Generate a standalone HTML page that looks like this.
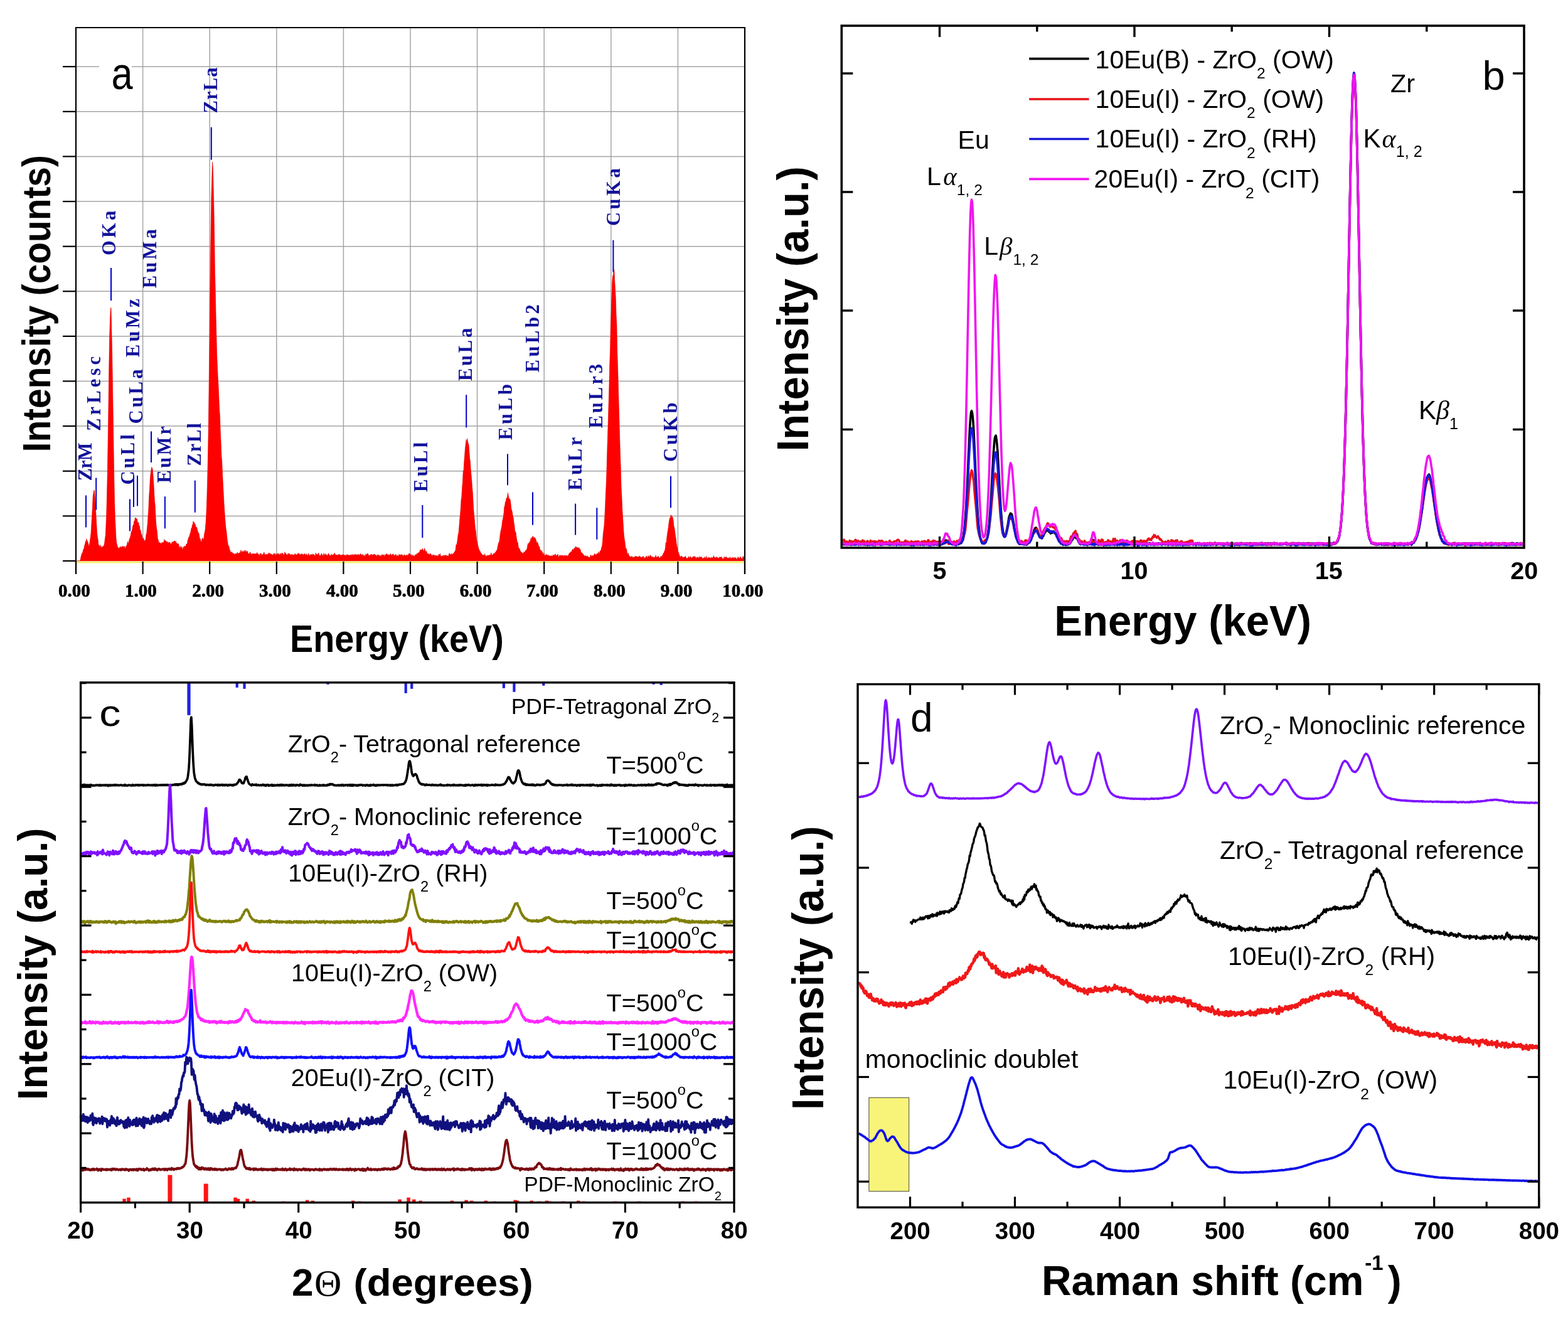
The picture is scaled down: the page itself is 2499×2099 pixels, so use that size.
<!DOCTYPE html><html><head><meta charset="utf-8"><title>Figure</title><style>html,body{margin:0;padding:0;background:#fff;overflow:hidden}svg{display:block}</style></head><body>
<svg width="2499" height="2099" viewBox="0 0 2499 2099">
<rect width="2499" height="2099" fill="#fff"/>
<g id="pa">
<line x1="227.6" y1="44" x2="227.6" y2="894" stroke="#a4a4a4" stroke-width="1.5"/>
<line x1="334.2" y1="44" x2="334.2" y2="894" stroke="#a4a4a4" stroke-width="1.5"/>
<line x1="440.8" y1="44" x2="440.8" y2="894" stroke="#a4a4a4" stroke-width="1.5"/>
<line x1="547.4" y1="44" x2="547.4" y2="894" stroke="#a4a4a4" stroke-width="1.5"/>
<line x1="654" y1="44" x2="654" y2="894" stroke="#a4a4a4" stroke-width="1.5"/>
<line x1="760.6" y1="44" x2="760.6" y2="894" stroke="#a4a4a4" stroke-width="1.5"/>
<line x1="867.2" y1="44" x2="867.2" y2="894" stroke="#a4a4a4" stroke-width="1.5"/>
<line x1="973.8" y1="44" x2="973.8" y2="894" stroke="#a4a4a4" stroke-width="1.5"/>
<line x1="1080.4" y1="44" x2="1080.4" y2="894" stroke="#a4a4a4" stroke-width="1.5"/>
<line x1="121" y1="822.4" x2="1187" y2="822.4" stroke="#a4a4a4" stroke-width="1.5"/>
<line x1="121" y1="750.8" x2="1187" y2="750.8" stroke="#a4a4a4" stroke-width="1.5"/>
<line x1="121" y1="679.1" x2="1187" y2="679.1" stroke="#a4a4a4" stroke-width="1.5"/>
<line x1="121" y1="607.5" x2="1187" y2="607.5" stroke="#a4a4a4" stroke-width="1.5"/>
<line x1="121" y1="535.9" x2="1187" y2="535.9" stroke="#a4a4a4" stroke-width="1.5"/>
<line x1="121" y1="464.3" x2="1187" y2="464.3" stroke="#a4a4a4" stroke-width="1.5"/>
<line x1="121" y1="392.7" x2="1187" y2="392.7" stroke="#a4a4a4" stroke-width="1.5"/>
<line x1="121" y1="321.1" x2="1187" y2="321.1" stroke="#a4a4a4" stroke-width="1.5"/>
<line x1="121" y1="249.4" x2="1187" y2="249.4" stroke="#a4a4a4" stroke-width="1.5"/>
<line x1="121" y1="177.8" x2="1187" y2="177.8" stroke="#a4a4a4" stroke-width="1.5"/>
<line x1="121" y1="106.2" x2="1187" y2="106.2" stroke="#a4a4a4" stroke-width="1.5"/>
<rect x="158" y="92" width="52" height="52" fill="#fff"/>
<polygon points="121,894 121,894 121.8,894 122.6,894 123.4,894 124.2,894 125,894 125.8,894 126.6,894 127.4,894 128.2,891.7 129,887.4 129.8,884.5 130.6,881.8 131.4,881.6 132.2,878.4 133,874.9 133.8,874.9 134.6,869.4 135.4,868 136.2,863.6 137,862.2 137.8,858.7 138.6,862 139.4,861.9 140.2,864.9 141,867.5 141.8,871.8 142.6,867 143.4,862.6 144.2,856 145,849.9 145.8,835.9 146.6,822.9 147.4,808 148.2,790.6 149,786.2 149.8,781.1 150.6,782 151.4,794.6 152.2,806.4 153,820.5 153.8,834.8 154.6,849.3 155.4,856.2 156.2,860.5 157,869.6 157.8,868.1 158.6,870.6 159.4,872.5 160.2,868.6 161,870.7 161.8,873.9 162.6,871.8 163.4,870.8 164.2,871.7 165,869.7 165.8,869.4 166.6,865.2 167.4,858.5 168.2,853.2 169,836.9 169.8,816.4 170.6,784.4 171.4,748 172.2,698.3 173,643.7 173.8,586 174.6,537.2 175.4,511.5 176.2,492.5 177,490.4 177.8,524.2 178.6,558.4 179.4,607.7 180.2,657.9 181,712.2 181.8,761 182.6,798 183.4,825.5 184.2,841.4 185,857.9 185.8,865.2 186.6,868.4 187.4,871.5 188.2,872.7 189,874.6 189.8,872.9 190.6,873.6 191.4,870.9 192.2,871.6 193,872.5 193.8,871.2 194.6,872.6 195.4,870.2 196.2,871.7 197,870.6 197.8,873.4 198.6,870.5 199.4,873.5 200.2,873.6 200.9,870.2 201.7,870.4 202.5,867.7 203.3,863 204.1,866.8 204.9,864.7 205.7,861.3 206.5,858.4 207.3,857 208.1,854.1 208.9,849.2 209.7,846.2 210.5,845.8 211.3,840.5 212.1,836.9 212.9,836.1 213.7,830.6 214.5,830.7 215.3,825.1 216.1,825.7 216.9,825.5 217.7,827.2 218.5,827.2 219.3,832.8 220.1,833.1 220.9,832.6 221.7,840.7 222.5,837.9 223.3,846.4 224.1,844.8 224.9,851.1 225.7,851.1 226.5,855 227.3,860.4 228.1,857.3 228.9,858.4 229.7,861.8 230.5,862.1 231.3,860.8 232.1,859.9 232.9,852.3 233.7,849.8 234.5,841.3 235.3,833.2 236.1,821.4 236.9,809.8 237.7,789.8 238.5,779.2 239.3,763.3 240.1,754.9 240.9,749.2 241.7,744.5 242.5,745.8 243.3,749.2 244.1,758.8 244.9,770.1 245.7,786.2 246.5,798.7 247.3,806.8 248.1,824.7 248.9,836.4 249.7,842.7 250.5,847.8 251.3,858.6 252.1,860.1 252.9,863.5 253.7,867.1 254.5,863.9 255.3,865.7 256.1,865.7 256.9,866.9 257.7,864.4 258.5,865.5 259.3,864.1 260.1,865 260.9,864.5 261.7,859.5 262.5,862.4 263.3,861 264.1,861.9 264.9,863.1 265.7,863.9 266.5,862.6 267.3,864.9 268.1,865.1 268.9,865.2 269.7,863.5 270.5,864.5 271.3,865.2 272.1,866.9 272.9,868.3 273.7,864.1 274.5,863.7 275.3,865.1 276.1,863.5 276.9,862.6 277.7,862.3 278.5,862.1 279.3,864.8 280.1,862.1 280.9,867.6 281.7,865 282.5,866.7 283.3,867 284.1,866.2 284.9,867.6 285.7,872.4 286.5,873.8 287.3,870.1 288.1,873.4 288.9,872 289.7,870.9 290.5,875.1 291.3,876 292.1,871.9 292.9,871.6 293.7,871.4 294.5,870.1 295.3,870.6 296.1,870.6 296.9,867.1 297.7,866.9 298.5,866.3 299.3,860.5 300.1,859.1 300.9,855.7 301.7,855.4 302.5,851.9 303.3,849.7 304.1,846.7 304.9,841.9 305.7,841.3 306.5,836.9 307.3,835.2 308.1,830.5 308.9,836.9 309.7,832.2 310.5,834.8 311.3,835.8 312.1,840.3 312.9,840.3 313.7,840.3 314.5,844.4 315.3,846.7 316.1,849.9 316.9,849.6 317.7,853.9 318.5,859.8 319.3,858.5 320.1,862 320.9,865 321.7,860.5 322.5,857.1 323.3,858.8 324.1,859.8 324.9,857.4 325.7,850.6 326.5,848.1 327.3,841.8 328.1,832.5 328.9,818.6 329.7,797.5 330.5,771.1 331.3,735.8 332.1,693.1 332.9,631.7 333.7,570.7 334.5,493.9 335.3,433.3 336.1,365 336.9,313.2 337.7,285.6 338.5,258 339.3,266 340.1,299.1 340.9,330.4 341.7,376 342.5,434 343.3,465.1 344.1,504.2 344.9,535.5 345.7,565.9 346.5,584.6 347.3,602.9 348.1,615.3 348.9,634.7 349.7,652.3 350.5,664.4 351.3,688.3 352.1,705.3 352.9,727 353.7,734.7 354.5,753.1 355.3,769 356.1,784.7 356.9,800 357.7,812.3 358.5,824.5 359.3,834.3 360.1,842.3 360.9,846.9 361.6,855.1 362.4,861.5 363.2,866.8 364,870.5 364.8,870 365.6,874.3 366.4,876.9 367.2,878.8 368,880.9 368.8,880.1 369.6,879.3 370.4,881.6 371.2,881.8 372,882.1 372.8,881.9 373.6,884.5 374.4,882.8 375.2,883.8 376,881.5 376.8,884 377.6,881.8 378.4,880.2 379.2,882.5 380,882.5 380.8,881 381.6,880.9 382.4,881.9 383.2,879.3 384,876.6 384.8,879.5 385.6,879 386.4,879.9 387.2,877.6 388,880 388.8,880 389.6,876.7 390.4,880.3 391.2,877.7 392,877.5 392.8,879.7 393.6,879.6 394.4,877.9 395.2,881.3 396,882.2 396.8,883.5 397.6,881.7 398.4,879.8 399.2,880.7 400,883.5 400.8,883.4 401.6,883 402.4,882 403.2,882.8 404,882.2 404.8,882.2 405.6,883.1 406.4,882.8 407.2,882.6 408,883 408.8,882.3 409.6,880.4 410.4,882.2 411.2,882.9 412,885.4 412.8,882.5 413.6,885.7 414.4,885 415.2,881.8 416,882 416.8,883.2 417.6,885.4 418.4,883.5 419.2,883.9 420,882.1 420.8,879.8 421.6,882.7 422.4,884.1 423.2,884.6 424,883.1 424.8,883.2 425.6,884.6 426.4,882.8 427.2,884.6 428,881.4 428.8,881.5 429.6,881.5 430.4,883.7 431.2,882.3 432,883.2 432.8,883.5 433.6,883.5 434.4,884.8 435.2,885 436,881.9 436.8,883.3 437.6,882.7 438.4,881.6 439.2,885.4 440,884.1 440.8,882.8 441.6,882.5 442.4,883.5 443.2,881.6 444,882.7 444.8,884.7 445.6,884.3 446.4,881.9 447.2,882.4 448,885.7 448.8,881.2 449.6,882.2 450.4,881.2 451.2,883.6 452,883.5 452.8,884.7 453.6,879.6 454.4,883.4 455.2,880.9 456,884 456.8,882.9 457.6,885.5 458.4,883.7 459.2,881.8 460,884.9 460.8,881.7 461.6,882.7 462.4,884.7 463.2,883.9 464,883.9 464.8,883.3 465.6,884 466.4,884.4 467.2,883.7 468,884.7 468.8,885.1 469.6,883.3 470.4,882 471.2,885.4 472,883.3 472.8,884.2 473.6,884.7 474.4,882.1 475.2,884 476,881.2 476.8,884.4 477.6,882.8 478.4,883.7 479.2,884.4 480,882.6 480.8,883.6 481.6,882.5 482.4,883.5 483.2,884.9 484,883.5 484.8,883.3 485.6,882.1 486.4,884.7 487.2,883.5 488,885.8 488.8,882.5 489.6,885 490.4,886 491.2,883.6 492,881.9 492.8,885.6 493.6,885 494.4,884.5 495.2,885.1 496,883 496.8,884.6 497.6,884.5 498.4,882.7 499.2,884.6 500,883 500.8,884.9 501.6,885.2 502.4,886.1 503.2,881 504,884 504.8,883.3 505.6,883.7 506.4,883.4 507.2,883.6 508,881 508.8,885.1 509.6,885.8 510.4,885.1 511.2,885.5 512,882.6 512.8,882.5 513.6,885 514.4,885.6 515.2,884.2 516,881.8 516.8,887.6 517.6,883 518.4,885.2 519.2,882.3 520,885.2 520.8,884.1 521.5,885.8 522.3,885.1 523.1,881.9 523.9,882.6 524.7,884.3 525.5,885 526.3,886.4 527.1,884.4 527.9,883.9 528.7,883.9 529.5,884 530.3,885.4 531.1,883.9 531.9,883.9 532.7,882.1 533.5,881.3 534.3,884.1 535.1,884.9 535.9,884 536.7,884.7 537.5,884.9 538.3,884 539.1,885.4 539.9,883.1 540.7,884.1 541.5,883.6 542.3,884.2 543.1,885 543.9,885.3 544.7,884.3 545.5,884.7 546.3,883.7 547.1,884 547.9,885.9 548.7,883.9 549.5,885.9 550.3,884.9 551.1,884.4 551.9,886.9 552.7,883.9 553.5,883.9 554.3,884.3 555.1,884.7 555.9,884.6 556.7,885.4 557.5,884.5 558.3,884.9 559.1,884 559.9,885.8 560.7,883.8 561.5,883.9 562.3,884.3 563.1,884.7 563.9,883.4 564.7,886.4 565.5,883.5 566.3,883.8 567.1,883.8 567.9,883.7 568.7,885.1 569.5,884.6 570.3,883.3 571.1,883.6 571.9,883.9 572.7,886.3 573.5,883.5 574.3,882.7 575.1,882.9 575.9,883.9 576.7,886.4 577.5,883 578.3,884.5 579.1,887.8 579.9,883.8 580.7,886.4 581.5,886.1 582.3,885.2 583.1,882.6 583.9,884.8 584.7,884 585.5,882 586.3,882.2 587.1,884.5 587.9,884.7 588.7,886.1 589.5,885.3 590.3,883.8 591.1,883.9 591.9,884.3 592.7,883.1 593.5,885.5 594.3,884.5 595.1,883.5 595.9,883.7 596.7,883 597.5,883.9 598.3,884.9 599.1,884 599.9,885.9 600.7,886.7 601.5,883.7 602.3,884.6 603.1,884.1 603.9,886.8 604.7,885 605.5,885.4 606.3,885.7 607.1,887.6 607.9,885 608.7,883.4 609.5,884.1 610.3,885.4 611.1,884.6 611.9,883.6 612.7,888.4 613.5,884.8 614.3,883.9 615.1,883.7 615.9,882.3 616.7,883.1 617.5,884.2 618.3,884.3 619.1,883.6 619.9,885.4 620.7,884.7 621.5,883.5 622.3,882 623.1,884.9 623.9,884.8 624.7,884.5 625.5,882.9 626.3,884.8 627.1,882.8 627.9,886.1 628.7,885 629.5,885 630.3,883.7 631.1,883.4 631.9,886.8 632.7,886 633.5,884.4 634.3,885.7 635.1,886.9 635.9,883.4 636.7,884.2 637.5,884.2 638.3,885.5 639.1,883.5 639.9,885.2 640.7,883.4 641.5,886.1 642.3,886 643.1,884.6 643.9,885.9 644.7,884 645.5,884.6 646.3,886.2 647.1,884.8 647.9,885.4 648.7,883.7 649.5,885.8 650.3,885.6 651.1,883.3 651.9,882 652.7,882.3 653.5,884.9 654.3,884.7 655.1,882.9 655.9,885.2 656.7,886.3 657.5,884.8 658.3,884.3 659.1,886 659.9,887 660.7,886.6 661.5,883.6 662.3,885.3 663.1,884.1 663.9,883.2 664.7,882.1 665.5,882.7 666.3,880.8 667.1,881.9 667.9,880.1 668.7,880.1 669.5,875.9 670.3,876.7 671.1,877.1 671.9,875.9 672.7,875.4 673.5,873.9 674.3,877.7 675.1,877.3 675.9,877 676.7,873.5 677.5,876.8 678.3,879.4 679.1,879.2 679.9,878.2 680.6,882.3 681.4,883.2 682.2,881.6 683,883.1 683.8,883.2 684.6,885.1 685.4,882 686.2,882.4 687,884.1 687.8,884 688.6,887.7 689.4,884.1 690.2,885.2 691,884.4 691.8,884.1 692.6,885.5 693.4,887.3 694.2,884.5 695,886 695.8,885.4 696.6,885.8 697.4,885.5 698.2,888.1 699,883.4 699.8,884.7 700.6,883.5 701.4,882.3 702.2,885 703,887.4 703.8,886.2 704.6,886.6 705.4,885.7 706.2,884.9 707,887.7 707.8,884.5 708.6,887 709.4,884.6 710.2,885.1 711,885.4 711.8,885.1 712.6,885.7 713.4,885.8 714.2,887.2 715,884.9 715.8,882.3 716.6,882.1 717.4,882.9 718.2,883.5 719,885.2 719.8,882 720.6,883.7 721.4,883.2 722.2,882.8 723,881.3 723.8,880.9 724.6,878.9 725.4,878.6 726.2,875.2 727,868 727.8,868.3 728.6,864.4 729.4,858.1 730.2,852 731,848.8 731.8,839.5 732.6,828.8 733.4,820.9 734.2,811.2 735,797.1 735.8,791.2 736.6,777.8 737.4,767.8 738.2,751 739,749.3 739.8,735.5 740.6,725.8 741.4,714.4 742.2,708 743,700.8 743.8,706.7 744.6,698.8 745.4,702.9 746.2,706.9 747,708.2 747.8,719 748.6,730.3 749.4,734.7 750.2,748.1 751,756.7 751.8,765.5 752.6,777.3 753.4,785.7 754.2,801.2 755,814.9 755.8,823.1 756.6,832.6 757.4,841.6 758.2,845.8 759,854.5 759.8,862.6 760.6,862.8 761.4,868.4 762.2,871.1 763,874.4 763.8,876 764.6,878.8 765.4,878.5 766.2,880.9 767,881.9 767.8,882.5 768.6,885.7 769.4,884.3 770.2,884.7 771,884.3 771.8,886.5 772.6,882.6 773.4,884.7 774.2,886.6 775,887.3 775.8,885.4 776.6,885.1 777.4,886 778.2,884.8 779,885.8 779.8,884.1 780.6,885.8 781.4,884.8 782.2,883.2 783,880.9 783.8,885.5 784.6,884.5 785.4,884.6 786.2,881.9 787,884 787.8,882.3 788.6,880.7 789.4,881 790.2,879.6 791,877.3 791.8,877.9 792.6,874.7 793.4,870.6 794.2,866.7 795,864 795.8,863.2 796.6,856.9 797.4,850.2 798.2,846 799,842.3 799.8,838.8 800.6,830.4 801.4,827.6 802.2,823.6 803,817.7 803.8,807.7 804.6,805.9 805.4,799.5 806.2,799.8 807,793.5 807.8,794.9 808.6,792.3 809.4,785.3 810.2,789.6 811,793.6 811.8,794.3 812.6,795.9 813.4,797 814.2,804.8 815,811.9 815.8,813.3 816.6,817.7 817.4,822.7 818.2,825.5 819,832.9 819.8,837.2 820.6,846.1 821.4,847.1 822.2,849.4 823,856.1 823.8,860.9 824.6,864.6 825.4,865 826.2,872.3 827,873.3 827.8,874.4 828.6,875.7 829.4,878.9 830.2,878.9 831,880.5 831.8,880.5 832.6,881.2 833.4,882.7 834.2,880.9 835,879.3 835.8,881.4 836.6,879.5 837.4,877.2 838.2,878.7 839,875.4 839.8,875.9 840.5,870.7 841.3,867.1 842.1,865.6 842.9,867.5 843.7,864 844.5,863.3 845.3,861.6 846.1,857.5 846.9,861.3 847.7,856 848.5,857.2 849.3,854 850.1,856.1 850.9,857.8 851.7,856.6 852.5,856.6 853.3,858.9 854.1,859.5 854.9,862.8 855.7,867.2 856.5,863.8 857.3,866.1 858.1,868.9 858.9,870.9 859.7,871.1 860.5,875.2 861.3,877.1 862.1,877.8 862.9,877 863.7,882 864.5,879.3 865.3,882.7 866.1,884.1 866.9,881.4 867.7,883.8 868.5,885.9 869.3,885 870.1,883.5 870.9,883.3 871.7,885.7 872.5,884.7 873.3,884.4 874.1,886.3 874.9,885 875.7,885.6 876.5,886.3 877.3,886.3 878.1,885.5 878.9,885.6 879.7,886.4 880.5,886.2 881.3,884.2 882.1,885.4 882.9,884.5 883.7,884.1 884.5,885 885.3,882.7 886.1,886.9 886.9,884.7 887.7,886.2 888.5,883.3 889.3,883.6 890.1,888.4 890.9,887.1 891.7,885 892.5,884.8 893.3,884.9 894.1,886 894.9,885.3 895.7,885 896.5,886 897.3,884.5 898.1,888.8 898.9,885 899.7,887.1 900.5,884.4 901.3,885.9 902.1,886.6 902.9,884.7 903.7,886.2 904.5,885.9 905.3,886.4 906.1,883.9 906.9,882.6 907.7,881.1 908.5,882 909.3,879.4 910.1,880 910.9,879.2 911.7,877.1 912.5,875.3 913.3,876.4 914.1,875.3 914.9,874.3 915.7,873.2 916.5,874.2 917.3,870.8 918.1,872.9 918.9,871.5 919.7,873.9 920.5,872.4 921.3,873 922.1,875.1 922.9,872.3 923.7,875.8 924.5,874.8 925.3,877.1 926.1,880.6 926.9,881.1 927.7,880.9 928.5,882.3 929.3,883.1 930.1,884.2 930.9,886.8 931.7,885.1 932.5,888.2 933.3,885 934.1,886.7 934.9,886.9 935.7,886.4 936.5,885.8 937.3,888.1 938.1,888.6 938.9,887.7 939.7,889 940.5,887.5 941.3,884.1 942.1,887.5 942.9,885.1 943.7,887.6 944.5,885.2 945.3,885.8 946.1,885.2 946.9,884 947.7,882.1 948.5,883.9 949.3,883.7 950.1,884.9 950.9,882.5 951.7,883.4 952.5,881.5 953.3,882.4 954.1,879.4 954.9,884.1 955.7,880.7 956.5,877.7 957.3,877.8 958.1,876.1 958.9,872 959.7,869.7 960.5,861.7 961.3,850.5 962.1,844.2 962.9,838.1 963.7,825.1 964.5,809.3 965.3,788.6 966.1,773.3 966.9,750.9 967.7,721.9 968.5,695.2 969.3,670.6 970.1,643.5 970.9,614.9 971.7,581.8 972.5,558.2 973.3,519.4 974.1,499.5 974.9,473.2 975.7,449.7 976.5,439.1 977.3,440.5 978.1,429.5 978.9,431 979.7,447 980.5,461.1 981.3,475.6 982.1,503.3 982.9,516.8 983.7,559 984.5,583.4 985.3,610.6 986.1,640.7 986.9,669.1 987.7,697.2 988.5,725.3 989.3,746.3 990.1,777.1 990.9,791.5 991.7,810.5 992.5,823.6 993.3,836.2 994.1,849.1 994.9,857.3 995.7,861.9 996.5,868.5 997.3,874.6 998.1,874 998.9,876.4 999.7,883.9 1000.4,883 1001.2,881.1 1002,884.3 1002.8,885.7 1003.6,886.7 1004.4,887.4 1005.2,887.2 1006,887.8 1006.8,886.2 1007.6,887.7 1008.4,887.8 1009.2,888.8 1010,887.4 1010.8,888.5 1011.6,887.6 1012.4,886 1013.2,886.9 1014,886.7 1014.8,886.9 1015.6,887.3 1016.4,887.6 1017.2,887.8 1018,886.4 1018.8,888.8 1019.6,885.7 1020.4,887.4 1021.2,888.4 1022,888.1 1022.8,888.3 1023.6,887.3 1024.4,888.4 1025.2,886 1026,888.5 1026.8,890.4 1027.6,888.4 1028.4,890.1 1029.2,887.6 1030,886.2 1030.8,886.7 1031.6,889.3 1032.4,888.5 1033.2,885.3 1034,887.2 1034.8,887.6 1035.6,886.2 1036.4,884.4 1037.2,885.9 1038,887.4 1038.8,887.2 1039.6,886.8 1040.4,888.4 1041.2,889 1042,887.6 1042.8,888.9 1043.6,887.7 1044.4,887.5 1045.2,884.7 1046,888.8 1046.8,887.8 1047.6,887.9 1048.4,887.1 1049.2,886.3 1050,888.2 1050.8,888.6 1051.6,889.5 1052.4,888.4 1053.2,886.2 1054,886.5 1054.8,887.3 1055.6,885.6 1056.4,883.9 1057.2,881.8 1058,881.4 1058.8,878.4 1059.6,877.8 1060.4,873.2 1061.2,864.3 1062,865.9 1062.8,857.3 1063.6,850.5 1064.4,845.8 1065.2,840.8 1066,833.8 1066.8,828.8 1067.6,824.9 1068.4,825.9 1069.2,820.5 1070,821.9 1070.8,822.4 1071.6,823.2 1072.4,826 1073.2,830.1 1074,838.4 1074.8,841.3 1075.6,846.9 1076.4,852.9 1077.2,858 1078,865.8 1078.8,870.4 1079.6,872.7 1080.4,879.4 1081.2,879.7 1082,882.9 1082.8,884.3 1083.6,887.4 1084.4,887.2 1085.2,886.7 1086,886 1086.8,886.3 1087.6,887.9 1088.4,888.2 1089.2,889.1 1090,887.6 1090.8,888.5 1091.6,887.4 1092.4,886 1093.2,888.3 1094,890.1 1094.8,889.4 1095.6,890.1 1096.4,889.8 1097.2,886.7 1098,888 1098.8,890.3 1099.6,887.5 1100.4,886.8 1101.2,888.8 1102,889.3 1102.8,888.8 1103.6,888.1 1104.4,887.6 1105.2,887 1106,887 1106.8,887 1107.6,886.8 1108.4,887.7 1109.2,890.5 1110,888.7 1110.8,888.2 1111.6,889.1 1112.4,887.5 1113.2,889.1 1114,889.8 1114.8,886.8 1115.6,887.8 1116.4,888.4 1117.2,887.5 1118,887.4 1118.8,888.3 1119.6,891.8 1120.4,889.6 1121.2,889.3 1122,890 1122.8,888.5 1123.6,887.3 1124.4,889.4 1125.2,890.2 1126,886.3 1126.8,889.4 1127.6,890.4 1128.4,888.6 1129.2,888.4 1130,889.8 1130.8,888 1131.6,889.6 1132.4,890.1 1133.2,888.8 1134,888.1 1134.8,889.8 1135.6,888.6 1136.4,889.1 1137.2,885.5 1138,889.9 1138.8,887.3 1139.6,889.1 1140.4,889.2 1141.2,888.2 1142,888 1142.8,887.5 1143.6,888.7 1144.4,889.8 1145.2,889.8 1146,888.5 1146.8,888.4 1147.6,887.4 1148.4,888.6 1149.2,887.8 1150,887.3 1150.8,889 1151.6,891 1152.4,890.6 1153.2,890.9 1154,887.2 1154.8,890.2 1155.6,887.7 1156.4,888.5 1157.2,887.1 1158,888 1158.8,889.4 1159.6,889.5 1160.3,889.1 1161.1,889 1161.9,889.9 1162.7,889.3 1163.5,887.3 1164.3,891.4 1165.1,889 1165.9,890.4 1166.7,889.1 1167.5,888.3 1168.3,889.4 1169.1,888.4 1169.9,891.3 1170.7,888 1171.5,890.1 1172.3,888.6 1173.1,889.1 1173.9,892.5 1174.7,890.3 1175.5,889.1 1176.3,887.5 1177.1,889.1 1177.9,889.1 1178.7,891.1 1179.5,887.7 1180.3,887.2 1181.1,889.4 1181.9,889.7 1182.7,891.4 1183.5,888.4 1184.3,886.2 1185.1,888.6 1185.9,888 1186.7,888.8 1187,894" fill="#ff0000" stroke="#e00000" stroke-width="0.6"/>
<line x1="121" y1="896" x2="1187" y2="896" stroke="#f4f070" stroke-width="3"/>
<polyline points="121,915 121,44 1187,44 1187,915" fill="none" stroke="#000" stroke-width="2.2"/>
<line x1="100" y1="894" x2="121" y2="894" stroke="#000" stroke-width="2.2"/>
<line x1="100" y1="822.4" x2="121" y2="822.4" stroke="#000" stroke-width="2.2"/>
<line x1="100" y1="750.8" x2="121" y2="750.8" stroke="#000" stroke-width="2.2"/>
<line x1="100" y1="679.1" x2="121" y2="679.1" stroke="#000" stroke-width="2.2"/>
<line x1="100" y1="607.5" x2="121" y2="607.5" stroke="#000" stroke-width="2.2"/>
<line x1="100" y1="535.9" x2="121" y2="535.9" stroke="#000" stroke-width="2.2"/>
<line x1="100" y1="464.3" x2="121" y2="464.3" stroke="#000" stroke-width="2.2"/>
<line x1="100" y1="392.7" x2="121" y2="392.7" stroke="#000" stroke-width="2.2"/>
<line x1="100" y1="321.1" x2="121" y2="321.1" stroke="#000" stroke-width="2.2"/>
<line x1="100" y1="249.4" x2="121" y2="249.4" stroke="#000" stroke-width="2.2"/>
<line x1="100" y1="177.8" x2="121" y2="177.8" stroke="#000" stroke-width="2.2"/>
<line x1="100" y1="106.2" x2="121" y2="106.2" stroke="#000" stroke-width="2.2"/>
<line x1="121" y1="895" x2="121" y2="915" stroke="#000" stroke-width="2.2"/>
<text x="93.1" y="951" font-family="Liberation Serif, Times New Roman, serif" font-weight="bold" font-size="29" fill="#000" stroke="#000" stroke-width="0.7">0.00</text>
<line x1="227.6" y1="895" x2="227.6" y2="915" stroke="#000" stroke-width="2.2"/>
<text x="199.1" y="951" font-family="Liberation Serif, Times New Roman, serif" font-weight="bold" font-size="29" fill="#000" stroke="#000" stroke-width="0.7">1.00</text>
<line x1="334.2" y1="895" x2="334.2" y2="915" stroke="#000" stroke-width="2.2"/>
<text x="306.3" y="951" font-family="Liberation Serif, Times New Roman, serif" font-weight="bold" font-size="29" fill="#000" stroke="#000" stroke-width="0.7">2.00</text>
<line x1="440.8" y1="895" x2="440.8" y2="915" stroke="#000" stroke-width="2.2"/>
<text x="412.9" y="951" font-family="Liberation Serif, Times New Roman, serif" font-weight="bold" font-size="29" fill="#000" stroke="#000" stroke-width="0.7">3.00</text>
<line x1="547.4" y1="895" x2="547.4" y2="915" stroke="#000" stroke-width="2.2"/>
<text x="519.9" y="951" font-family="Liberation Serif, Times New Roman, serif" font-weight="bold" font-size="29" fill="#000" stroke="#000" stroke-width="0.7">4.00</text>
<line x1="654" y1="895" x2="654" y2="915" stroke="#000" stroke-width="2.2"/>
<text x="626.1" y="951" font-family="Liberation Serif, Times New Roman, serif" font-weight="bold" font-size="29" fill="#000" stroke="#000" stroke-width="0.7">5.00</text>
<line x1="760.6" y1="895" x2="760.6" y2="915" stroke="#000" stroke-width="2.2"/>
<text x="732.8" y="951" font-family="Liberation Serif, Times New Roman, serif" font-weight="bold" font-size="29" fill="#000" stroke="#000" stroke-width="0.7">6.00</text>
<line x1="867.2" y1="895" x2="867.2" y2="915" stroke="#000" stroke-width="2.2"/>
<text x="839" y="951" font-family="Liberation Serif, Times New Roman, serif" font-weight="bold" font-size="29" fill="#000" stroke="#000" stroke-width="0.7">7.00</text>
<line x1="973.8" y1="895" x2="973.8" y2="915" stroke="#000" stroke-width="2.2"/>
<text x="946" y="951" font-family="Liberation Serif, Times New Roman, serif" font-weight="bold" font-size="29" fill="#000" stroke="#000" stroke-width="0.7">8.00</text>
<line x1="1080.4" y1="895" x2="1080.4" y2="915" stroke="#000" stroke-width="2.2"/>
<text x="1052.7" y="951" font-family="Liberation Serif, Times New Roman, serif" font-weight="bold" font-size="29" fill="#000" stroke="#000" stroke-width="0.7">9.00</text>
<line x1="1187" y1="895" x2="1187" y2="915" stroke="#000" stroke-width="2.2"/>
<text x="1151.3" y="951" font-family="Liberation Serif, Times New Roman, serif" font-weight="bold" font-size="29" fill="#000" stroke="#000" stroke-width="0.7">10.00</text>
<line x1="137" y1="789.6" x2="137" y2="840.6" stroke="#0000c8" stroke-width="2"/>
<text transform="translate(146.4,766.5) rotate(-90)" font-family="Liberation Serif, Times New Roman, serif" font-weight="bold" font-size="30.5" fill="#12129a" textLength="61" lengthAdjust="spacing">ZrM</text>
<line x1="153.2" y1="761.6" x2="153.2" y2="812.6" stroke="#0000c8" stroke-width="2"/>
<text transform="translate(160,687) rotate(-90)" font-family="Liberation Serif, Times New Roman, serif" font-weight="bold" font-size="30.5" fill="#12129a" textLength="119" lengthAdjust="spacing">ZrLesc</text>
<line x1="207" y1="795.6" x2="207" y2="846.6" stroke="#0000c8" stroke-width="2"/>
<text transform="translate(213.5,772.5) rotate(-90)" font-family="Liberation Serif, Times New Roman, serif" font-weight="bold" font-size="30.5" fill="#12129a" textLength="80.3" lengthAdjust="spacing">CuLl</text>
<line x1="213" y1="758" x2="213" y2="808" stroke="#0000c8" stroke-width="2"/>
<text transform="translate(227,675.5) rotate(-90)" font-family="Liberation Serif, Times New Roman, serif" font-weight="bold" font-size="30.5" fill="#12129a" textLength="87" lengthAdjust="spacing">CuLa</text>
<line x1="219" y1="758" x2="219" y2="806.6" stroke="#0000c8" stroke-width="2"/>
<text transform="translate(222.4,569.2) rotate(-90)" font-family="Liberation Serif, Times New Roman, serif" font-weight="bold" font-size="30.5" fill="#12129a" textLength="93" lengthAdjust="spacing">EuMz</text>
<line x1="241" y1="687.6" x2="241" y2="737" stroke="#0000c8" stroke-width="2"/>
<text transform="translate(248.5,459.2) rotate(-90)" font-family="Liberation Serif, Times New Roman, serif" font-weight="bold" font-size="30.5" fill="#12129a" textLength="93.9" lengthAdjust="spacing">EuMa</text>
<line x1="262.9" y1="791.3" x2="262.9" y2="842.3" stroke="#0000c8" stroke-width="2"/>
<text transform="translate(272.2,769.7) rotate(-90)" font-family="Liberation Serif, Times New Roman, serif" font-weight="bold" font-size="30.5" fill="#12129a" textLength="90.4" lengthAdjust="spacing">EuMr</text>
<line x1="310.8" y1="765.8" x2="310.8" y2="816.8" stroke="#0000c8" stroke-width="2"/>
<text transform="translate(319.8,742.7) rotate(-90)" font-family="Liberation Serif, Times New Roman, serif" font-weight="bold" font-size="30.5" fill="#12129a" textLength="68.4" lengthAdjust="spacing">ZrLl</text>
<line x1="336.8" y1="202.8" x2="336.8" y2="254.7" stroke="#0000c8" stroke-width="2"/>
<text transform="translate(346.2,180.5) rotate(-90)" font-family="Liberation Serif, Times New Roman, serif" font-weight="bold" font-size="30.5" fill="#12129a" textLength="72.9" lengthAdjust="spacing">ZrLa</text>
<line x1="177" y1="427" x2="177" y2="479" stroke="#0000c8" stroke-width="2"/>
<text transform="translate(184,406.9) rotate(-90)" font-family="Liberation Serif, Times New Roman, serif" font-weight="bold" font-size="30.5" fill="#12129a" textLength="71.1" lengthAdjust="spacing">OKa</text>
<line x1="673.3" y1="805" x2="673.3" y2="857" stroke="#0000c8" stroke-width="2"/>
<text transform="translate(680.8,783.9) rotate(-90)" font-family="Liberation Serif, Times New Roman, serif" font-weight="bold" font-size="30.5" fill="#12129a" textLength="79.2" lengthAdjust="spacing">EuLl</text>
<line x1="743.2" y1="629.3" x2="743.2" y2="681.4" stroke="#0000c8" stroke-width="2"/>
<text transform="translate(752.2,607.1) rotate(-90)" font-family="Liberation Serif, Times New Roman, serif" font-weight="bold" font-size="30.5" fill="#12129a" textLength="84.4" lengthAdjust="spacing">EuLa</text>
<line x1="809" y1="723.4" x2="809" y2="773.2" stroke="#0000c8" stroke-width="2"/>
<text transform="translate(816.4,701.2) rotate(-90)" font-family="Liberation Serif, Times New Roman, serif" font-weight="bold" font-size="30.5" fill="#12129a" textLength="89.1" lengthAdjust="spacing">EuLb</text>
<line x1="849" y1="784.6" x2="849" y2="836.7" stroke="#0000c8" stroke-width="2"/>
<text transform="translate(858.8,593.5) rotate(-90)" font-family="Liberation Serif, Times New Roman, serif" font-weight="bold" font-size="30.5" fill="#12129a" textLength="108.2" lengthAdjust="spacing">EuLb2</text>
<line x1="917.1" y1="802.7" x2="917.1" y2="852.6" stroke="#0000c8" stroke-width="2"/>
<text transform="translate(926.8,781.7) rotate(-90)" font-family="Liberation Serif, Times New Roman, serif" font-weight="bold" font-size="30.5" fill="#12129a" textLength="85.1" lengthAdjust="spacing">EuLr</text>
<line x1="951.3" y1="809.3" x2="951.3" y2="859.8" stroke="#0000c8" stroke-width="2"/>
<text transform="translate(960,682.5) rotate(-90)" font-family="Liberation Serif, Times New Roman, serif" font-weight="bold" font-size="30.5" fill="#12129a" textLength="102.6" lengthAdjust="spacing">EuLr3</text>
<line x1="977.4" y1="382.8" x2="977.4" y2="433.3" stroke="#0000c8" stroke-width="2"/>
<text transform="translate(988,360) rotate(-90)" font-family="Liberation Serif, Times New Roman, serif" font-weight="bold" font-size="30.5" fill="#12129a" textLength="91.8" lengthAdjust="spacing">CuKa</text>
<line x1="1069" y1="758.8" x2="1069" y2="809.3" stroke="#0000c8" stroke-width="2"/>
<text transform="translate(1078.8,736) rotate(-90)" font-family="Liberation Serif, Times New Roman, serif" font-weight="bold" font-size="30.5" fill="#12129a" textLength="94.4" lengthAdjust="spacing">CuKb</text>
<text transform="translate(79.6,720.4) rotate(-90) scale(1,1.04)" font-family="Liberation Sans, Arial, sans-serif" font-weight="bold" font-size="60" fill="#000" textLength="473.2" lengthAdjust="spacingAndGlyphs">Intensity (counts)</text>
<text transform="translate(0,1039) scale(1,1.04)" x="462" y="0" font-family="Liberation Sans, Arial, sans-serif" font-weight="bold" font-size="58.5" fill="#000" textLength="340.8" lengthAdjust="spacingAndGlyphs">Energy (keV)</text>
<text transform="translate(180,142.4) scale(0.84,1)" x="-3" font-family="Liberation Sans, Arial, sans-serif" font-size="73">a</text>
</g>
<g id="pb">
<path d="M1343.3,867.7 1344.2,866.1 1345.1,867.9 1346,867.1 1346.9,866.8 1347.8,866.4 1348.7,866.7 1349.6,866.7 1350.5,867.5 1351.4,867.9 1352.3,867 1353.2,867.5 1354.1,867.9 1355,867.9 1355.9,867.3 1356.8,868.3 1357.7,867.9 1358.6,868.1 1359.5,866.9 1360.4,866.7 1361.3,865.6 1362.2,868 1363.1,867.5 1364,866.4 1364.9,867.2 1365.8,867.2 1366.7,865.8 1367.6,867.2 1368.5,867.8 1369.4,867.9 1370.3,866.8 1371.2,866.8 1372.1,868 1373,867.7 1373.9,866.6 1374.8,866.6 1375.7,867.5 1376.6,866.6 1377.5,866.6 1378.4,868.2 1379.3,867.2 1380.2,866.7 1381.1,867.4 1382,868.5 1382.9,867.2 1383.8,866.5 1384.7,865.9 1385.6,868.5 1386.5,865.2 1387.4,867.8 1388.3,866.3 1389.2,866.1 1390.1,866.3 1391,866.9 1391.9,867.8 1392.8,866.6 1393.7,867.5 1394.6,868.8 1395.5,865 1396.4,866.5 1397.3,865.7 1398.2,867.6 1399.1,866 1400,865.9 1400.9,865.9 1401.8,867 1402.7,867.8 1403.6,867.1 1404.5,868.5 1405.4,868.2 1406.3,866.9 1407.2,867.7 1408.1,867.1 1409,867.1 1409.9,865.6 1410.8,866.1 1411.7,867 1412.6,866.2 1413.5,867.5 1414.4,867.2 1415.3,866.4 1416.2,867.9 1417.1,867.2 1418,867.9 1418.9,866.9 1419.8,865.9 1420.7,867.5 1421.6,866.8 1422.5,867.6 1423.4,867.8 1424.3,867.9 1425.2,866 1426.1,865.3 1427,866.7 1427.9,867.5 1428.8,866.5 1429.7,867.2 1430.6,866.4 1431.5,866.8 1432.4,866.8 1433.3,866.6 1434.2,867.4 1435.1,867.3 1436,868.2 1436.9,867.3 1437.8,868 1438.7,867.1 1439.6,867.7 1440.5,866.9 1441.4,866.7 1442.3,868 1443.2,867.6 1444.1,867.7 1445,866.5 1445.9,865.8 1446.8,866.4 1447.7,867.2 1448.6,866 1449.5,868.1 1450.4,866 1451.3,867.5 1452.2,868.9 1453.1,865.1 1454,865.9 1454.9,867.7 1455.8,866.9 1456.7,867.2 1457.6,866.9 1458.5,868 1459.4,867.5 1460.3,866.7 1461.2,866.8 1462.1,866.2 1463,866.9 1463.9,865.4 1464.8,867.5 1465.7,866.8 1466.6,868.3 1467.5,867.9 1468.4,866.1 1469.3,867.7 1470.2,866.6 1471.1,867 1472,867.7 1472.9,867.2 1473.8,867.4 1474.7,867.3 1475.6,866.5 1476.5,866.5 1477.4,867.4 1478.3,867.6 1479.2,866.8 1480.1,867.1 1481,866.3 1481.9,865.1 1482.8,866.4 1483.7,867 1484.6,867.1 1485.5,867.6 1486.4,867.6 1487.3,867.7 1488.2,867.3 1489.1,867.3 1490,866.5 1490.9,867.3 1491.8,867.1 1492.7,867.9 1493.6,865.8 1494.5,866.6 1495.4,865.7 1496.3,866.4 1497.2,865.9 1498.1,867 1499,866.2 1499.9,864.5 1500.8,867 1501.7,864.8 1502.6,863.9 1503.5,864 1504.4,863 1505.3,861.8 1506.2,862.5 1507.1,861.1 1508,861.7 1508.9,861.5 1509.8,861.7 1510.7,861.9 1511.6,862.4 1512.5,862.9 1513.4,865.1 1514.3,863.4 1515.2,864.6 1516.1,865.4 1517,866.6 1517.9,866.7 1518.8,866.4 1519.7,866.6 1520.6,868.1 1521.5,866.4 1522.4,864.9 1523.3,868.3 1524.2,866.3 1525.1,866.7 1526,867 1526.9,865.9 1527.8,867.6 1528.7,866.5 1529.6,865.3 1530.5,866 1531.4,865.4 1532.3,863.9 1533.2,862.5 1534.1,858.5 1535,856.5 1535.9,850.2 1536.8,844.9 1537.7,834.6 1538.6,824 1539.5,812.2 1540.4,794.4 1541.3,777.1 1542.2,757 1543.1,735 1544,716.5 1544.9,697.3 1545.8,678.9 1546.7,666.8 1547.6,657.2 1548.5,654.8 1549.4,657.8 1550.3,664.6 1551.2,675.8 1552.1,691.9 1553,711.3 1553.9,731.5 1554.8,752.2 1555.7,772.5 1556.6,789.2 1557.5,807 1558.4,822 1559.3,833.2 1560.2,841.7 1561.1,849 1562,855 1562.9,859.3 1563.8,861.6 1564.7,864.7 1565.6,865.7 1566.5,864.9 1567.4,866.1 1568.3,865.5 1569.2,864.6 1570.1,864.3 1571,863.5 1571.9,860.2 1572.8,858.6 1573.7,855.6 1574.6,849.7 1575.5,843.3 1576.4,835.7 1577.3,824.7 1578.2,812.4 1579.1,799.5 1580,782.6 1580.9,766 1581.8,749.3 1582.7,734.1 1583.6,718.8 1584.5,706.9 1585.4,698.5 1586.3,695.3 1587.2,694.2 1588.1,700.2 1589,708.2 1589.9,719.1 1590.8,735.2 1591.7,751.2 1592.6,766.9 1593.5,784.4 1594.4,799.8 1595.3,813.3 1596.2,824.6 1597.1,836.7 1598,843.3 1598.9,849 1599.8,852.6 1600.7,854.1 1601.6,854.2 1602.5,852 1603.4,850.2 1604.3,845.7 1605.2,841 1606.1,836.8 1607,831.1 1607.9,825.3 1608.8,822.2 1609.7,820.1 1610.6,818.2 1611.5,818.9 1612.4,819.7 1613.3,822.3 1614.2,827.7 1615.1,832.2 1616,836.5 1616.9,842.9 1617.8,847.4 1618.7,852.8 1619.6,856.4 1620.5,859.3 1621.4,859.8 1622.3,863.5 1623.2,864.9 1624.1,865.8 1625,866.1 1625.9,866 1626.8,866.5 1627.7,865.4 1628.6,866.7 1629.5,865.9 1630.4,866.8 1631.3,866.5 1632.2,868 1633.1,867 1634,867 1634.9,867 1635.8,868.2 1636.7,865.9 1637.6,866.5 1638.5,866 1639.4,865.2 1640.3,864.3 1641.2,862.6 1642.1,862.2 1643,860 1643.9,856.9 1644.8,854.5 1645.7,852.1 1646.6,849.6 1647.5,847.3 1648.4,844.6 1649.3,842.2 1650.2,842.9 1651.1,841 1652,842.2 1652.9,844.5 1653.8,845.5 1654.7,849.3 1655.6,851.8 1656.5,853.7 1657.4,854.9 1658.3,856.2 1659.2,857 1660.1,856.6 1661,857.6 1661.9,854.6 1662.8,854.4 1663.7,852 1664.6,850 1665.5,848.7 1666.4,847.4 1667.3,846.1 1668.2,844.9 1669.1,844.5 1670,844.9 1670.9,846.7 1671.8,847.4 1672.7,848.4 1673.6,848.1 1674.5,850.2 1675.4,848.1 1676.3,849.3 1677.2,849.3 1678.1,848.4 1679,847.9 1679.9,848.7 1680.8,848.9 1681.7,850.5 1682.6,851.1 1683.5,852.8 1684.4,855.6 1685.3,856.3 1686.2,859.1 1687.1,860.8 1688,863 1688.9,863.7 1689.8,864 1690.7,866.2 1691.6,865.4 1692.5,866 1693.4,866.3 1694.3,868.3 1695.2,866.9 1696.1,866.5 1697,867.5 1697.9,866.9 1698.8,868.6 1699.7,866.5 1700.6,867.4 1701.5,866.2 1702.4,867.9 1703.3,865.9 1704.2,866.1 1705.1,864.7 1706,865.1 1706.9,863.7 1707.8,860.3 1708.7,860.8 1709.6,859.1 1710.5,857.3 1711.4,856.6 1712.3,854.3 1713.2,853.8 1714.1,855.9 1715,857.6 1715.9,857 1716.8,858.6 1717.7,860.4 1718.6,861.7 1719.5,864.4 1720.4,865 1721.3,866.6 1722.2,867.1 1723.1,865.8 1724,867.2 1724.9,865.3 1725.8,866.9 1726.7,867.4 1727.6,866.4 1728.5,865.7 1729.4,866.7 1730.3,867.8 1731.2,866.7 1732.1,866 1733,867.3 1733.9,867.4 1734.8,866 1735.7,866.2 1736.6,866.6 1737.5,865.3 1738.4,864.6 1739.3,862.8 1740.2,861.9 1741.1,860.5 1742,860.5 1742.9,862.4 1743.8,861.7 1744.7,862.4 1745.6,863.8 1746.5,864.3 1747.4,866.2 1748.3,867 1749.2,866 1750.1,867.6 1751,868.4 1751.9,866.3 1752.8,867.5 1753.7,867.2 1754.6,868 1755.5,867.9 1756.4,867.8 1757.3,867.3 1758.2,866.7 1759.1,868.6 1760,866.5 1760.9,867.8 1761.8,867.7 1762.7,866.5 1763.6,867.1 1764.5,868.1 1765.4,865.7 1766.3,867.6 1767.2,866.8 1768.1,866.9 1769,866 1769.9,867.3 1770.8,866.3 1771.7,867.5 1772.6,866.2 1773.5,867.5 1774.4,867.3 1775.3,865.7 1776.2,866.8 1777.1,866.9 1778,865.4 1778.9,866.7 1779.8,867.6 1780.7,866.5 1781.6,867.8 1782.5,866.2 1783.4,866.2 1784.3,867.4 1785.2,867.4 1786.1,866.9 1787,867 1787.9,867.7 1788.8,866.6 1789.7,868.4 1790.6,867.3 1791.5,867.3 1792.4,867.2 1793.3,866.8 1794.2,867.9 1795.1,866.6 1796,867.1 1796.9,867.5 1797.8,868 1798.7,867.8 1799.6,866.7 1800.5,867.7 1801.4,867 1802.3,866.3 1803.2,866.3 1804.1,865.9 1805,867.2 1805.9,867.8 1806.8,866.3 1807.7,866.8 1808.6,866.2 1809.5,867 1810.4,866.2 1811.3,866.4 1812.2,866.5 1813.1,866.6 1814,866.7 1814.9,866.8 1815.8,866.8 1816.7,866.3 1817.6,867.4 1818.5,865.8 1819.4,867.1 1820.3,866.3 1821.2,867.1 1822.1,867.2 1823,865.6 1823.9,867.2 1824.8,867.9 1825.7,867.5 1826.6,867.2 1827.5,865.5 1828.4,866.9 1829.3,866.3 1830.2,867.7 1831.1,866.8 1832,866.5 1832.9,865.7 1833.8,867.5 1834.7,866.6 1835.6,866.8 1836.5,867.7 1837.4,867 1838.3,867.2 1839.2,868.6 1840.1,866.6 1841,866.6 1841.9,867.3 1842.8,867.9 1843.7,866 1844.6,866.8 1845.5,866.3 1846.4,866 1847.3,867.4 1848.2,866.4 1849.1,867.2 1850,867 1850.9,867.1 1851.8,867 1852.7,866.2 1853.6,866.9 1854.5,867.1 1855.4,867.2 1856.3,866.8 1857.2,867.6 1858.1,867.4 1859,867 1859.9,867.4 1860.8,867.1 1861.7,867.4 1862.6,865.6 1863.5,866.1 1864.4,866.7 1865.3,867 1866.2,865.5 1867.1,866.8 1868,867.1 1868.9,866.8 1869.8,866.8 1870.7,866 1871.6,867 1872.5,865.5 1873.4,867.6 1874.3,866.5 1875.2,867.7 1876.1,865.7 1877,867.2 1877.9,867 1878.8,866.4 1879.7,866.1 1880.6,867.8 1881.5,867.2 1882.4,868 1883.3,866.9 1884.2,867.1 1885.1,867.2 1886,867.5 1886.9,867.3 1887.8,867.5 1888.7,866.6 1889.6,865.9 1890.5,868.4 1891.4,867.1 1892.3,867.3 1893.2,866.7 1894.1,867.7 1895,867.1 1895.9,867.7 1896.8,866.5 1897.7,866.9 1898.6,867.1 1899.5,866.7 1900.4,867.2 1901.3,868.1 1902.2,866.6 1903.1,866.8 1904,867.1 1904.9,866.3 1905.8,866.1 1906.7,867.8 1907.6,867.5 1908.5,865.9 1909.4,866 1910.3,867.5 1911.2,867.8 1912.1,867.4 1913,867.3 1913.9,868.1 1914.8,867 1915.7,867.9 1916.6,867.8 1917.5,866.4 1918.4,867.5 1919.3,867.1 1920.2,866.6 1921.1,866.4 1922,867.2 1922.9,867 1923.8,867.6 1924.7,865.8 1925.6,866.5 1926.5,867.8 1927.4,867 1928.3,866.5 1929.2,866.7 1930.1,865.7 1931,866 1931.9,867.4 1932.8,867.1 1933.7,867.9 1934.6,866.8 1935.5,866.9 1936.4,865.1 1937.3,866.9 1938.2,868.5 1939.1,867.5 1940,866.9 1940.9,867.9 1941.8,867.6 1942.7,867.3 1943.6,866.8 1944.5,867.1 1945.4,867.6 1946.3,866.4 1947.2,867.4 1948.1,867.3 1949,868 1949.9,867.6 1950.8,866.5 1951.7,868.1 1952.6,867 1953.5,866.5 1954.4,867.3 1955.3,866.8 1956.2,867.8 1957.1,866.1 1958,866.2 1958.9,866.8 1959.8,868.2 1960.7,867.7 1961.6,866.3 1962.5,865.8 1963.4,866.8 1964.3,866.1 1965.2,867.4 1966.1,867.1 1967,867 1967.9,866.7 1968.8,868.1 1969.7,866.3 1970.6,866.1 1971.5,867.8 1972.4,867.9 1973.3,866.8 1974.2,867.5 1975.1,868.7 1976,866.4 1976.9,866.9 1977.8,867.3 1978.7,865.5 1979.6,866.9 1980.5,867.5 1981.4,866.9 1982.3,867.7 1983.2,867.5 1984.1,866.7 1985,867.4 1985.9,867.3 1986.8,865.8 1987.7,866.4 1988.6,866.4 1989.5,866.6 1990.4,866.7 1991.3,866 1992.2,867 1993.1,865.7 1994,867.7 1994.9,867.2 1995.8,868 1996.7,867.2 1997.6,866.6 1998.5,866 1999.4,867.5 2000.3,867 2001.2,867.3 2002.1,867.5 2003,867.8 2003.9,867 2004.8,868.2 2005.7,866.9 2006.6,867 2007.5,867.5 2008.4,867.7 2009.3,868 2010.2,865.7 2011.1,867.9 2012,865.9 2012.9,866.6 2013.8,867.3 2014.7,867.8 2015.6,866.3 2016.5,865.8 2017.4,867.7 2018.3,867.2 2019.2,866.3 2020.1,866.8 2021,865.6 2021.9,867.4 2022.8,866.6 2023.7,867.9 2024.6,865.5 2025.5,867.5 2026.4,868.5 2027.3,867.1 2028.2,867.1 2029.1,865.7 2030,867.2 2030.9,867 2031.8,866.6 2032.7,865.9 2033.6,867 2034.5,866.3 2035.4,866.6 2036.3,867.2 2037.2,866.9 2038.1,867 2039,867.6 2039.9,866.2 2040.8,868 2041.7,866.2 2042.6,866.3 2043.5,867.1 2044.4,867.5 2045.3,867.2 2046.2,866.7 2047.1,866.5 2048,866.8 2048.9,866.3 2049.8,867.4 2050.7,866.8 2051.6,868.1 2052.5,866.5 2053.4,866.9 2054.3,867.3 2055.2,866.2 2056.1,866.5 2057,869 2057.9,867 2058.8,868 2059.7,866.3 2060.6,865.3 2061.5,867.4 2062.4,866.9 2063.3,867.2 2064.2,866.8 2065.1,866.5 2066,866.1 2066.9,867.7 2067.8,865.9 2068.7,867.7 2069.6,866.8 2070.5,866.2 2071.4,866.5 2072.3,867.7 2073.2,867.5 2074.1,867.3 2075,867 2075.9,866.2 2076.8,867.9 2077.7,866.7 2078.6,866.6 2079.5,866.6 2080.4,866.7 2081.3,865.9 2082.2,866.7 2083.1,866.4 2084,866.6 2084.9,865.7 2085.8,868.3 2086.7,866.1 2087.6,867.2 2088.5,867.2 2089.4,867.7 2090.3,868.3 2091.2,867.3 2092.1,867.5 2093,866.7 2093.9,868 2094.8,866 2095.7,866.8 2096.6,867.2 2097.5,867.5 2098.4,867.6 2099.3,867.8 2100.2,867.4 2101.1,867 2102,867.1 2102.9,868 2103.8,867.2 2104.7,867.6 2105.6,866.9 2106.5,865.7 2107.4,866.6 2108.3,867.2 2109.2,868.1 2110.1,868 2111,868.2 2111.9,866.5 2112.8,867.5 2113.7,867 2114.6,867.4 2115.5,866.9 2116.4,866 2117.3,867.5 2118.2,867.2 2119.1,867.6 2120,866.4 2120.9,867.7 2121.8,867.7 2122.7,867.9 2123.6,867.8 2124.5,866.5 2125.4,864.9 2126.3,867.2 2127.2,865.6 2128.1,865.7 2129,866.1 2129.9,864.8 2130.8,863.7 2131.7,862.5 2132.6,858.7 2133.5,858.7 2134.4,853.6 2135.3,849 2136.2,843.6 2137.1,835.5 2138,825.4 2138.9,813.9 2139.8,799.1 2140.7,781.3 2141.6,762.2 2142.5,735.2 2143.4,706.2 2144.3,674.8 2145.2,638.5 2146.1,600.4 2147,556.3 2147.9,510.8 2148.8,462.7 2149.7,412.6 2150.6,364.9 2151.5,316.6 2152.4,272.6 2153.3,229.9 2154.2,193.4 2155.1,163.8 2156,140.9 2156.9,124.2 2157.8,120.1 2158.7,122.4 2159.6,133.3 2160.5,151.3 2161.4,177.7 2162.3,212.7 2163.2,252.8 2164.1,296.3 2165,342.1 2165.9,392.1 2166.8,439.6 2167.7,488.2 2168.6,536 2169.5,580.1 2170.4,621.4 2171.3,658.7 2172.2,694.6 2173.1,723.2 2174,750.6 2174.9,773.4 2175.8,791.9 2176.7,808 2177.6,821.7 2178.5,832.7 2179.4,840.7 2180.3,845.7 2181.2,850.6 2182.1,855.5 2183,858.2 2183.9,861.6 2184.8,863 2185.7,863.9 2186.6,865.8 2187.5,866.3 2188.4,866 2189.3,866.6 2190.2,867.3 2191.1,866.5 2192,867 2192.9,866.2 2193.8,866.9 2194.7,867.2 2195.6,866.9 2196.5,867.1 2197.4,867.5 2198.3,867.3 2199.2,866.5 2200.1,866.5 2201,866.1 2201.9,868.2 2202.8,867.3 2203.7,867.3 2204.6,866.9 2205.5,867.3 2206.4,867.4 2207.3,866.5 2208.2,866.9 2209.1,867.8 2210,866.1 2210.9,866.3 2211.8,867.4 2212.7,866.4 2213.6,867.5 2214.5,866.2 2215.4,867.2 2216.3,867.6 2217.2,867.3 2218.1,867.5 2219,866.9 2219.9,866.9 2220.8,867 2221.7,867.4 2222.6,869.6 2223.5,866.9 2224.4,868.3 2225.3,866.8 2226.2,866.2 2227.1,866.8 2228,867.3 2228.9,867.1 2229.8,867.1 2230.7,867.4 2231.6,867.4 2232.5,867.6 2233.4,866.2 2234.3,867 2235.2,866.3 2236.1,867.2 2237,866.9 2237.9,867.1 2238.8,866.7 2239.7,866.4 2240.6,866.8 2241.5,867.4 2242.4,867.5 2243.3,865.7 2244.2,867 2245.1,867 2246,865.7 2246.9,865.8 2247.8,866 2248.7,866.4 2249.6,864.2 2250.5,865.2 2251.4,864.6 2252.3,864.4 2253.2,864.5 2254.1,863.4 2255,860.9 2255.9,859.3 2256.8,857.9 2257.7,856.2 2258.6,853.8 2259.5,849.9 2260.4,847.1 2261.3,841.4 2262.2,836.7 2263.1,830.5 2264,826.4 2264.9,821.5 2265.8,815.5 2266.7,810.8 2267.6,802.2 2268.5,795.2 2269.4,787.9 2270.3,781.8 2271.2,775.9 2272.1,770.9 2273,765.9 2273.9,761.6 2274.8,760.4 2275.7,758.1 2276.6,758 2277.5,756.2 2278.4,757.8 2279.3,760.6 2280.2,765.4 2281.1,768.7 2282,774.1 2282.9,779.5 2283.8,785.8 2284.7,791.8 2285.6,799.1 2286.5,804.9 2287.4,811.9 2288.3,818.6 2289.2,824.5 2290.1,830.4 2291,834.7 2291.9,840.3 2292.8,844.1 2293.7,848.4 2294.6,852.5 2295.5,853.7 2296.4,857.5 2297.3,858.3 2298.2,860.2 2299.1,863.1 2300,863.7 2300.9,864.3 2301.8,865.3 2302.7,866.1 2303.6,865.2 2304.5,866.2 2305.4,866 2306.3,866.8 2307.2,866.4 2308.1,867.3 2309,866.8 2309.9,866.5 2310.8,866.9 2311.7,867.3 2312.6,867.7 2313.5,866.9 2314.4,866.7 2315.3,867.2 2316.2,867.5 2317.1,866.6 2318,865.3 2318.9,867.2 2319.8,866.8 2320.7,866.7 2321.6,868.8 2322.5,866.9 2323.4,867.5 2324.3,866 2325.2,867.2 2326.1,867.5 2327,867.2 2327.9,866.9 2328.8,867.4 2329.7,867 2330.6,867.9 2331.5,867.2 2332.4,866.5 2333.3,865.6 2334.2,866.5 2335.1,866.8 2336,866.2 2336.9,866.3 2337.8,865.8 2338.7,866.2 2339.6,867.1 2340.5,866.8 2341.4,866.9 2342.3,866.8 2343.2,866.9 2344.1,867.5 2345,868.5 2345.9,867.5 2346.8,868.4 2347.7,867 2348.6,867 2349.5,868.2 2350.4,866.5 2351.3,866.4 2352.2,866.9 2353.1,865.8 2354,865.7 2354.9,867.8 2355.8,866.3 2356.7,866.7 2357.6,866.7 2358.5,866.3 2359.4,867.5 2360.3,867.4 2361.2,867.6 2362.1,867.5 2363,867.1 2363.9,868 2364.8,867.7 2365.7,866.6 2366.6,867 2367.5,866.7 2368.4,868.3 2369.3,867.5 2370.2,867.4 2371.1,867 2372,867.4 2372.9,866.3 2373.8,867 2374.7,867 2375.6,867 2376.5,866.5 2377.4,867.3 2378.3,866.2 2379.2,866.7 2380.1,866.9 2381,867 2381.9,866.6 2382.8,866.3 2383.7,866.3 2384.6,866.7 2385.5,866.4 2386.4,866.9 2387.3,866.1 2388.2,867 2389.1,868.5 2390,866.1 2390.9,866.9 2391.8,867.8 2392.7,867.1 2393.6,867.6 2394.5,865.5 2395.4,866.7 2396.3,868.1 2397.2,866.6 2398.1,867.3 2399,865.7 2399.9,867.7 2400.8,868.6 2401.7,867 2402.6,867.2 2403.5,867.3 2404.4,868.5 2405.3,866.7 2406.2,865.8 2407.1,868.3 2408,866.2 2408.9,867.4 2409.8,865.4 2410.7,866.7 2411.6,867.1 2412.5,866.2 2413.4,866.6 2414.3,867.4 2415.2,866.5 2416.1,867.4 2417,868.3 2417.9,865.6 2418.8,867.2 2419.7,867.4 2420.6,866.8 2421.5,868.1 2422.4,867.9 2423.3,867.3 2424.2,867.4 2425.1,866.9 2426,866.2 2426.9,867.3 2427.8,866.7" fill="none" stroke="#000" stroke-width="3.6" stroke-linejoin="round"/>
<path d="M1343.3,862.9 1344.2,862.3 1345.1,860.2 1346,862.4 1346.9,863.2 1347.8,863.9 1348.7,864 1349.6,862.9 1350.5,864.9 1351.4,866.1 1352.3,865.4 1353.2,864.1 1354.1,861.6 1355,863.3 1355.9,863.3 1356.8,862.4 1357.7,863.8 1358.6,865 1359.5,864.7 1360.4,862.8 1361.3,863.7 1362.2,865.6 1363.1,860.3 1364,860.7 1364.9,863 1365.8,864.3 1366.7,864.5 1367.6,861.8 1368.5,862.9 1369.4,864.8 1370.3,863.3 1371.2,863.2 1372.1,862.9 1373,865.9 1373.9,863.3 1374.8,861.2 1375.7,862.4 1376.6,863.2 1377.5,862.5 1378.4,864.8 1379.3,864.9 1380.2,866.7 1381.1,864.7 1382,862.5 1382.9,862.3 1383.8,865.3 1384.7,865.8 1385.6,865.9 1386.5,865.6 1387.4,861.4 1388.3,863.8 1389.2,866.7 1390.1,865 1391,862.9 1391.9,865.8 1392.8,865 1393.7,862.5 1394.6,863.1 1395.5,865.4 1396.4,863.2 1397.3,865.1 1398.2,866.1 1399.1,865 1400,862.6 1400.9,861.6 1401.8,863.9 1402.7,864.2 1403.6,863.1 1404.5,861.7 1405.4,861.9 1406.3,862.4 1407.2,865.9 1408.1,865.7 1409,864.4 1409.9,864.3 1410.8,864.6 1411.7,864 1412.6,863.6 1413.5,865.7 1414.4,867.3 1415.3,865.1 1416.2,864.1 1417.1,863.4 1418,861.6 1418.9,863.1 1419.8,866.2 1420.7,867.1 1421.6,866.9 1422.5,864.4 1423.4,864.3 1424.3,864.1 1425.2,862.7 1426.1,865 1427,864.9 1427.9,862.3 1428.8,863.7 1429.7,860.8 1430.6,860.8 1431.5,860.1 1432.4,860.8 1433.3,862.9 1434.2,865.6 1435.1,865 1436,864.4 1436.9,865.4 1437.8,864.4 1438.7,864.7 1439.6,865.6 1440.5,864.9 1441.4,863.4 1442.3,862.6 1443.2,861.5 1444.1,862.9 1445,863.8 1445.9,863.9 1446.8,863 1447.7,865.7 1448.6,866 1449.5,864.6 1450.4,866.4 1451.3,864.9 1452.2,862.7 1453.1,863.3 1454,863.6 1454.9,864.3 1455.8,864.8 1456.7,866.3 1457.6,863.4 1458.5,863.1 1459.4,866.5 1460.3,865.3 1461.2,863.1 1462.1,864.2 1463,862.6 1463.9,863.5 1464.8,863.6 1465.7,866.4 1466.6,865 1467.5,865.2 1468.4,865.1 1469.3,862.9 1470.2,865.3 1471.1,866.4 1472,865.9 1472.9,862.3 1473.8,862.7 1474.7,862.6 1475.6,864.8 1476.5,866.6 1477.4,863.5 1478.3,864.1 1479.2,860.8 1480.1,861.4 1481,863.8 1481.9,865.5 1482.8,864 1483.7,865.2 1484.6,863.4 1485.5,864.3 1486.4,864.3 1487.3,861.6 1488.2,862 1489.1,864 1490,862.2 1490.9,864.8 1491.8,864.7 1492.7,863.7 1493.6,864.9 1494.5,863.5 1495.4,867.2 1496.3,863.5 1497.2,864.1 1498.1,862.5 1499,864.2 1499.9,866.3 1500.8,863.6 1501.7,863 1502.6,864.5 1503.5,861 1504.4,861.9 1505.3,864.2 1506.2,865.9 1507.1,863.9 1508,864.8 1508.9,863.3 1509.8,862.6 1510.7,862.2 1511.6,866.9 1512.5,867 1513.4,864.6 1514.3,864.3 1515.2,864.1 1516.1,864 1517,865.3 1517.9,864 1518.8,864.8 1519.7,864.4 1520.6,863 1521.5,864 1522.4,865.5 1523.3,866.6 1524.2,865.6 1525.1,862.1 1526,862.6 1526.9,865.5 1527.8,863.5 1528.7,860.5 1529.6,860.4 1530.5,863 1531.4,863.6 1532.3,862.4 1533.2,861.6 1534.1,862.1 1535,859.7 1535.9,855.4 1536.8,852 1537.7,848.9 1538.6,843.8 1539.5,834.7 1540.4,824.3 1541.3,813.2 1542.2,805.1 1543.1,794.8 1544,783.5 1544.9,773.1 1545.8,765.4 1546.7,757.4 1547.6,753 1548.5,749.6 1549.4,751.6 1550.3,756.7 1551.2,763.6 1552.1,769.6 1553,781.8 1553.9,792.3 1554.8,801.8 1555.7,811.4 1556.6,821.6 1557.5,834.1 1558.4,842.7 1559.3,846.7 1560.2,851.4 1561.1,853.9 1562,857.4 1562.9,858.4 1563.8,860.3 1564.7,861.8 1565.6,865.5 1566.5,863.1 1567.4,863.8 1568.3,865.2 1569.2,862.1 1570.1,860.6 1571,860.5 1571.9,859.7 1572.8,858.6 1573.7,856 1574.6,853 1575.5,849.9 1576.4,843.5 1577.3,835 1578.2,828.3 1579.1,819.9 1580,808.4 1580.9,798 1581.8,789.9 1582.7,779.1 1583.6,767.5 1584.5,761 1585.4,757.2 1586.3,754.7 1587.2,755.8 1588.1,760 1589,764.6 1589.9,771.7 1590.8,778.8 1591.7,788.6 1592.6,797.5 1593.5,810.5 1594.4,822.2 1595.3,830.8 1596.2,837.6 1597.1,845.2 1598,849.6 1598.9,852.6 1599.8,853.6 1600.7,854.4 1601.6,853 1602.5,852.9 1603.4,851.8 1604.3,847.2 1605.2,842.6 1606.1,840 1607,836.8 1607.9,829.2 1608.8,827.5 1609.7,824.4 1610.6,824.5 1611.5,827 1612.4,827.7 1613.3,828.6 1614.2,832.5 1615.1,835.6 1616,841.1 1616.9,845.1 1617.8,848 1618.7,850.8 1619.6,855.6 1620.5,858.8 1621.4,860.6 1622.3,859.2 1623.2,860.9 1624.1,866.8 1625,865.6 1625.9,864.4 1626.8,862.6 1627.7,862.2 1628.6,862.5 1629.5,863.8 1630.4,863.8 1631.3,865.2 1632.2,866.7 1633.1,864.9 1634,861.3 1634.9,864.8 1635.8,861.2 1636.7,862.2 1637.6,863.2 1638.5,863.9 1639.4,861.8 1640.3,860.8 1641.2,862.5 1642.1,861.8 1643,858.4 1643.9,857 1644.8,852.4 1645.7,851.2 1646.6,851 1647.5,848.9 1648.4,849.4 1649.3,847.9 1650.2,845 1651.1,846.4 1652,845.3 1652.9,842.7 1653.8,846.8 1654.7,848.2 1655.6,849.5 1656.5,854.3 1657.4,855.1 1658.3,856.7 1659.2,857.4 1660.1,852 1661,854.2 1661.9,850.8 1662.8,846.8 1663.7,844.3 1664.6,844.3 1665.5,841.3 1666.4,840.9 1667.3,839.1 1668.2,837 1669.1,834.8 1670,833.8 1670.9,836.1 1671.8,836.1 1672.7,836.8 1673.6,839.6 1674.5,838.4 1675.4,838.7 1676.3,837.7 1677.2,838.6 1678.1,840.4 1679,840.2 1679.9,840.7 1680.8,841.3 1681.7,842.5 1682.6,844.8 1683.5,844.9 1684.4,845.8 1685.3,846.7 1686.2,851.1 1687.1,852.2 1688,855 1688.9,856.1 1689.8,859.1 1690.7,857.5 1691.6,857.7 1692.5,860.5 1693.4,862.6 1694.3,863.1 1695.2,863.1 1696.1,862.4 1697,863.2 1697.9,866 1698.8,864.9 1699.7,862.5 1700.6,862.2 1701.5,862.8 1702.4,863.8 1703.3,863.7 1704.2,863.3 1705.1,861.1 1706,858 1706.9,855.2 1707.8,856.1 1708.7,855 1709.6,853.3 1710.5,850.2 1711.4,849.9 1712.3,848.5 1713.2,847.5 1714.1,846.2 1715,851.8 1715.9,851.2 1716.8,851.1 1717.7,857.3 1718.6,858.5 1719.5,859 1720.4,859.9 1721.3,862.9 1722.2,865.1 1723.1,863 1724,862.7 1724.9,865.7 1725.8,864.5 1726.7,866.1 1727.6,864.3 1728.5,861.9 1729.4,863.8 1730.3,867 1731.2,865.2 1732.1,864.7 1733,867.6 1733.9,865.1 1734.8,864.1 1735.7,865.6 1736.6,865.1 1737.5,865.3 1738.4,865.4 1739.3,864.6 1740.2,862.7 1741.1,861.7 1742,862.5 1742.9,865.5 1743.8,864.2 1744.7,863.9 1745.6,863.4 1746.5,865.1 1747.4,864.9 1748.3,864.6 1749.2,866.2 1750.1,864.5 1751,860.7 1751.9,864.2 1752.8,866.3 1753.7,864.9 1754.6,862.6 1755.5,860 1756.4,861 1757.3,860.3 1758.2,864.7 1759.1,866.4 1760,865 1760.9,864.2 1761.8,864.4 1762.7,864 1763.6,864.1 1764.5,863.9 1765.4,861.9 1766.3,860.8 1767.2,865.9 1768.1,866.1 1769,862.9 1769.9,864.2 1770.8,863.1 1771.7,864.7 1772.6,865.2 1773.5,863 1774.4,858.9 1775.3,862.1 1776.2,860.9 1777.1,858.6 1778,863 1778.9,865.5 1779.8,862.3 1780.7,861.7 1781.6,866.1 1782.5,863.6 1783.4,864.1 1784.3,862.7 1785.2,861.1 1786.1,860.9 1787,861.8 1787.9,863.7 1788.8,864 1789.7,862 1790.6,862 1791.5,863.4 1792.4,864.7 1793.3,863.4 1794.2,864.2 1795.1,863 1796,861.5 1796.9,864.1 1797.8,862.8 1798.7,863.4 1799.6,865.9 1800.5,865.1 1801.4,863.9 1802.3,865.3 1803.2,863.3 1804.1,864.1 1805,862 1805.9,863 1806.8,865.6 1807.7,865.3 1808.6,862.4 1809.5,865.5 1810.4,864.6 1811.3,863.1 1812.2,862.5 1813.1,863.7 1814,864.3 1814.9,863.6 1815.8,862.8 1816.7,862.8 1817.6,861.6 1818.5,861.2 1819.4,862.7 1820.3,864.5 1821.2,863.8 1822.1,862.2 1823,862.9 1823.9,862 1824.8,864 1825.7,864 1826.6,863.1 1827.5,861.8 1828.4,861.8 1829.3,859.4 1830.2,859.9 1831.1,858.2 1832,860.1 1832.9,860.3 1833.8,859.4 1834.7,860.8 1835.6,858.4 1836.5,857 1837.4,855.5 1838.3,856.5 1839.2,852.7 1840.1,854.2 1841,853.3 1841.9,855.8 1842.8,855.7 1843.7,857.1 1844.6,855.5 1845.5,854.7 1846.4,856.7 1847.3,857.3 1848.2,859.5 1849.1,860.2 1850,859.4 1850.9,861.1 1851.8,862.2 1852.7,862.7 1853.6,865.3 1854.5,865.3 1855.4,864.9 1856.3,864.3 1857.2,863.3 1858.1,863.3 1859,864.4 1859.9,864.3 1860.8,864.1 1861.7,861.8 1862.6,863.5 1863.5,864.5 1864.4,866.5 1865.3,866.2 1866.2,862.1 1867.1,860.8 1868,861.5 1868.9,861.5 1869.8,863.9 1870.7,865.6 1871.6,862.8 1872.5,863.3 1873.4,861.7 1874.3,862.3 1875.2,861.2 1876.1,861 1877,864.6 1877.9,865 1878.8,864.5 1879.7,866.4 1880.6,864.8 1881.5,863.7 1882.4,862.5 1883.3,862.6 1884.2,864.3 1885.1,864.5 1886,865.1 1886.9,865.7 1887.8,864.8 1888.7,864.5 1889.6,863.8 1890.5,864.4 1891.4,864.1 1892.3,863.9 1893.2,864 1894.1,862.9 1895,864.1 1895.9,865 1896.8,861.5 1897.7,862.4 1898.6,861.6 1899.5,861.6 1900.4,861.7 1901.3,866.9 1902.2,867.7 1903.1,866.7 1904,866.3 1904.9,867.3 1905.8,865.6 1906.7,867.2 1907.6,867.1 1908.5,867.2 1909.4,867.5 1910.3,866.7 1911.2,867 1912.1,865.8 1913,866.6 1913.9,866.6 1914.8,867.2 1915.7,868 1916.6,867.1 1917.5,867.6 1918.4,866.3 1919.3,867 1920.2,865.8 1921.1,866.5 1922,866.4 1922.9,866.8 1923.8,866.9 1924.7,866.5 1925.6,866.4 1926.5,867.5 1927.4,866.7 1928.3,865.2 1929.2,867.1 1930.1,867.2 1931,867.5 1931.9,868 1932.8,866.2 1933.7,867 1934.6,866.8 1935.5,865.7 1936.4,865.2 1937.3,867.6 1938.2,866.3 1939.1,866.6 1940,866.7 1940.9,866.7 1941.8,867 1942.7,865.9 1943.6,866.6 1944.5,866.8 1945.4,866.1 1946.3,866.4 1947.2,866.7 1948.1,866.8 1949,865.8 1949.9,866.6 1950.8,867.1 1951.7,867.6 1952.6,867.2 1953.5,867.7 1954.4,866.9 1955.3,866.8 1956.2,868.4 1957.1,867 1958,866.5 1958.9,866.9 1959.8,867.7 1960.7,866.1 1961.6,867.5 1962.5,867.9 1963.4,867.8 1964.3,867 1965.2,866.3 1966.1,866.2 1967,866.9 1967.9,867.8 1968.8,867.5 1969.7,867.6 1970.6,867.1 1971.5,868.2 1972.4,866.9 1973.3,866.5 1974.2,867.1 1975.1,866.7 1976,867.7 1976.9,868 1977.8,867.4 1978.7,866.2 1979.6,866.3 1980.5,867.3 1981.4,866.2 1982.3,867.2 1983.2,865.9 1984.1,866.7 1985,867.3 1985.9,866.4 1986.8,867.5 1987.7,867.7 1988.6,868 1989.5,866.8 1990.4,867 1991.3,867.1 1992.2,867.3 1993.1,866 1994,867.3 1994.9,867.5 1995.8,866.1 1996.7,866 1997.6,866.8 1998.5,868.2 1999.4,867.4 2000.3,866.6 2001.2,867 2002.1,865.9 2003,868 2003.9,866.5 2004.8,867.4 2005.7,866.1 2006.6,867.1 2007.5,866.3 2008.4,867.5 2009.3,868 2010.2,867.8 2011.1,867.4 2012,867.7 2012.9,866.2 2013.8,866.1 2014.7,866.8 2015.6,867.7 2016.5,867.1 2017.4,867.5 2018.3,866 2019.2,866.8 2020.1,866.7 2021,867.3 2021.9,868.4 2022.8,867.5 2023.7,867.8 2024.6,866.7 2025.5,866.9 2026.4,867.6 2027.3,867.3 2028.2,865.9 2029.1,867.7 2030,867.6 2030.9,867.2 2031.8,867.5 2032.7,867.3 2033.6,866.6 2034.5,865.8 2035.4,868.2 2036.3,867 2037.2,867 2038.1,867.1 2039,867.1 2039.9,867.2 2040.8,866.3 2041.7,867.3 2042.6,867.1 2043.5,867 2044.4,866.9 2045.3,867.1 2046.2,866.3 2047.1,867 2048,866.9 2048.9,867 2049.8,867.7 2050.7,867.6 2051.6,867.7 2052.5,866.9 2053.4,867.5 2054.3,867.7 2055.2,866.8 2056.1,866.6 2057,868.2 2057.9,865.8 2058.8,867 2059.7,867.1 2060.6,866.3 2061.5,867 2062.4,867.4 2063.3,865.5 2064.2,867.8 2065.1,867.1 2066,866.4 2066.9,867.7 2067.8,867.1 2068.7,866.7 2069.6,865.3 2070.5,867.6 2071.4,867 2072.3,866.5 2073.2,866.9 2074.1,867.8 2075,866.7 2075.9,866.9 2076.8,866.7 2077.7,866.2 2078.6,866.3 2079.5,866.7 2080.4,866.8 2081.3,867.8 2082.2,867.1 2083.1,866.8 2084,867.3 2084.9,866.9 2085.8,867.6 2086.7,865.9 2087.6,865.5 2088.5,867.3 2089.4,866.7 2090.3,867.2 2091.2,866.1 2092.1,866.7 2093,866.9 2093.9,867.2 2094.8,866.9 2095.7,867.7 2096.6,866.5 2097.5,867.5 2098.4,866.6 2099.3,866.9 2100.2,866.2 2101.1,867 2102,866.3 2102.9,867.6 2103.8,866.6 2104.7,867.2 2105.6,866.9 2106.5,866.9 2107.4,866.3 2108.3,868.4 2109.2,866.8 2110.1,868 2111,866.2 2111.9,868.4 2112.8,867.7 2113.7,868.2 2114.6,865.9 2115.5,867.9 2116.4,866.9 2117.3,867.4 2118.2,868.3 2119.1,867.2 2120,866.5 2120.9,867.1 2121.8,866.3 2122.7,867.2 2123.6,866.9 2124.5,867.1 2125.4,866.4 2126.3,865.2 2127.2,866 2128.1,865.7 2129,865.8 2129.9,865.1 2130.8,862.5 2131.7,862.9 2132.6,860.8 2133.5,857.5 2134.4,854.2 2135.3,848 2136.2,845 2137.1,835.5 2138,825.7 2138.9,815.1 2139.8,800.2 2140.7,781.9 2141.6,760.2 2142.5,737.5 2143.4,709.7 2144.3,675.8 2145.2,639.4 2146.1,601 2147,559.4 2147.9,511.2 2148.8,464.6 2149.7,415 2150.6,367 2151.5,319.7 2152.4,274.8 2153.3,232.2 2154.2,196 2155.1,168.6 2156,144.9 2156.9,128.3 2157.8,123.5 2158.7,126.6 2159.6,136.7 2160.5,156.1 2161.4,182.9 2162.3,216.8 2163.2,255.8 2164.1,299.4 2165,345.4 2165.9,394.6 2166.8,443.1 2167.7,491.3 2168.6,536.9 2169.5,581.8 2170.4,623.4 2171.3,660.6 2172.2,694.5 2173.1,724.1 2174,750.6 2174.9,772.1 2175.8,791.4 2176.7,808.2 2177.6,821.5 2178.5,831.2 2179.4,839.8 2180.3,846.9 2181.2,853.1 2182.1,857.3 2183,858.8 2183.9,860.7 2184.8,862.4 2185.7,865.1 2186.6,864.3 2187.5,866 2188.4,865.8 2189.3,866.1 2190.2,867.2 2191.1,867.2 2192,868.3 2192.9,867.5 2193.8,868.2 2194.7,866.7 2195.6,866.9 2196.5,866.3 2197.4,866.7 2198.3,867.4 2199.2,866.8 2200.1,867.3 2201,866.6 2201.9,866.8 2202.8,867.7 2203.7,867 2204.6,867 2205.5,867.2 2206.4,866.4 2207.3,865.8 2208.2,867.3 2209.1,867.2 2210,868.6 2210.9,867.1 2211.8,867.3 2212.7,868.5 2213.6,866.8 2214.5,866.6 2215.4,867.5 2216.3,867.3 2217.2,867.7 2218.1,866.5 2219,868.1 2219.9,867.2 2220.8,865.6 2221.7,867 2222.6,866.7 2223.5,867.1 2224.4,867.8 2225.3,867 2226.2,866.7 2227.1,867.7 2228,866.8 2228.9,866.1 2229.8,866.3 2230.7,868.1 2231.6,867.7 2232.5,868.1 2233.4,866.2 2234.3,866.6 2235.2,866.5 2236.1,867.6 2237,867.8 2237.9,866.9 2238.8,866.9 2239.7,867.6 2240.6,866.9 2241.5,866.5 2242.4,866.8 2243.3,867.6 2244.2,868.3 2245.1,867 2246,866.6 2246.9,866.8 2247.8,866.7 2248.7,866.7 2249.6,865.4 2250.5,865.6 2251.4,865 2252.3,865.1 2253.2,864.1 2254.1,862.5 2255,862.1 2255.9,860.8 2256.8,858.3 2257.7,855.1 2258.6,853.3 2259.5,849.4 2260.4,847.1 2261.3,843.4 2262.2,839.8 2263.1,834.4 2264,827.8 2264.9,823 2265.8,816.7 2266.7,810.6 2267.6,804.7 2268.5,798.5 2269.4,792 2270.3,785.6 2271.2,780.2 2272.1,775 2273,770.8 2273.9,767.9 2274.8,764.7 2275.7,763.4 2276.6,761.3 2277.5,763.8 2278.4,763.8 2279.3,764.3 2280.2,769.5 2281.1,774.1 2282,778.2 2282.9,782.6 2283.8,789.5 2284.7,795.1 2285.6,801.8 2286.5,808.5 2287.4,812.3 2288.3,820.5 2289.2,826.7 2290.1,832.1 2291,836.5 2291.9,841 2292.8,844.8 2293.7,848.9 2294.6,853.2 2295.5,854.5 2296.4,857.4 2297.3,859.4 2298.2,861.8 2299.1,862.5 2300,863.7 2300.9,864.1 2301.8,865.8 2302.7,865.3 2303.6,865.7 2304.5,866.9 2305.4,866.8 2306.3,867.1 2307.2,866 2308.1,868.5 2309,867.1 2309.9,868 2310.8,867.2 2311.7,866.4 2312.6,867.4 2313.5,866.9 2314.4,867.6 2315.3,865.6 2316.2,866.4 2317.1,866.2 2318,867.9 2318.9,867.8 2319.8,866.2 2320.7,867.1 2321.6,867.2 2322.5,866.8 2323.4,867.9 2324.3,866.5 2325.2,867 2326.1,866.7 2327,867.5 2327.9,866.6 2328.8,867.5 2329.7,866.3 2330.6,866.2 2331.5,866.4 2332.4,866.6 2333.3,866.6 2334.2,868.9 2335.1,866.4 2336,867.2 2336.9,866.9 2337.8,867.2 2338.7,868 2339.6,867.4 2340.5,866.5 2341.4,866 2342.3,867.4 2343.2,867.6 2344.1,866 2345,867.6 2345.9,865.5 2346.8,867 2347.7,867.6 2348.6,866.3 2349.5,865.8 2350.4,868 2351.3,865.9 2352.2,867.2 2353.1,866 2354,867.3 2354.9,868.1 2355.8,866.6 2356.7,866.4 2357.6,865.5 2358.5,865.8 2359.4,866.5 2360.3,867.2 2361.2,867.4 2362.1,867.2 2363,867.6 2363.9,867.2 2364.8,868.8 2365.7,866.9 2366.6,867 2367.5,865.2 2368.4,866.5 2369.3,867.3 2370.2,866.6 2371.1,867.9 2372,867.4 2372.9,868.3 2373.8,866 2374.7,866.6 2375.6,867.8 2376.5,867 2377.4,866.3 2378.3,866.7 2379.2,866.7 2380.1,867.6 2381,867.4 2381.9,866.9 2382.8,866.4 2383.7,867.6 2384.6,867.8 2385.5,866.2 2386.4,867.7 2387.3,866.2 2388.2,866.8 2389.1,866.4 2390,865.8 2390.9,866.5 2391.8,866.5 2392.7,867.6 2393.6,867.5 2394.5,866.5 2395.4,865.9 2396.3,866 2397.2,865.4 2398.1,866.8 2399,866.9 2399.9,866.3 2400.8,867 2401.7,867 2402.6,867.7 2403.5,866.3 2404.4,867.8 2405.3,866.6 2406.2,868 2407.1,866.2 2408,867.7 2408.9,866.4 2409.8,868.1 2410.7,867.3 2411.6,866.2 2412.5,867.6 2413.4,867 2414.3,867.3 2415.2,868.6 2416.1,866.8 2417,866.7 2417.9,867.8 2418.8,866.6 2419.7,867.6 2420.6,867.7 2421.5,867 2422.4,867.5 2423.3,865.4 2424.2,868.1 2425.1,866.5 2426,866.3 2426.9,868.4 2427.8,868.2" fill="none" stroke="#e8131b" stroke-width="3.6" stroke-linejoin="round"/>
<path d="M1343.3,867.7 1344.2,866.4 1345.1,867.7 1346,866.7 1346.9,867.5 1347.8,868 1348.7,867.1 1349.6,867.9 1350.5,866.6 1351.4,866.8 1352.3,867.5 1353.2,867.1 1354.1,867.1 1355,867.7 1355.9,866.9 1356.8,867.7 1357.7,867.1 1358.6,868.2 1359.5,867.4 1360.4,867.2 1361.3,868.1 1362.2,867.8 1363.1,867.9 1364,867 1364.9,868 1365.8,867.2 1366.7,866.4 1367.6,867.2 1368.5,868.6 1369.4,867.4 1370.3,866.8 1371.2,867.7 1372.1,866.7 1373,867.1 1373.9,867.2 1374.8,867.7 1375.7,867.9 1376.6,867.7 1377.5,867.4 1378.4,867.1 1379.3,867.2 1380.2,867.7 1381.1,867.4 1382,867.2 1382.9,868.6 1383.8,868 1384.7,868.1 1385.6,867.6 1386.5,867.7 1387.4,867.7 1388.3,868.1 1389.2,867 1390.1,867.3 1391,868.6 1391.9,867.5 1392.8,868.3 1393.7,866.3 1394.6,867.8 1395.5,867.8 1396.4,867.4 1397.3,867.6 1398.2,867.5 1399.1,866.4 1400,867.3 1400.9,866.9 1401.8,866.7 1402.7,868.2 1403.6,866.3 1404.5,867 1405.4,866.8 1406.3,868.1 1407.2,866.9 1408.1,867.2 1409,867.9 1409.9,865.9 1410.8,867.1 1411.7,867.7 1412.6,867.4 1413.5,866.8 1414.4,866.7 1415.3,867.1 1416.2,866.6 1417.1,866.5 1418,868.4 1418.9,867.8 1419.8,868.1 1420.7,867.4 1421.6,866.5 1422.5,867 1423.4,868.2 1424.3,867.7 1425.2,866.8 1426.1,867.9 1427,867.6 1427.9,867.3 1428.8,868.8 1429.7,866.9 1430.6,867.2 1431.5,867.1 1432.4,868.2 1433.3,868 1434.2,867.9 1435.1,867.3 1436,867.4 1436.9,867.4 1437.8,866.2 1438.7,866.6 1439.6,868 1440.5,867.9 1441.4,866.3 1442.3,867.7 1443.2,866.5 1444.1,866.4 1445,867.9 1445.9,867.7 1446.8,867.4 1447.7,868.1 1448.6,868.2 1449.5,867.8 1450.4,866.9 1451.3,867.8 1452.2,867.6 1453.1,867.8 1454,868.4 1454.9,866.4 1455.8,869.1 1456.7,867.9 1457.6,867.1 1458.5,868.5 1459.4,867.1 1460.3,866.6 1461.2,868.1 1462.1,867.3 1463,868.3 1463.9,867.1 1464.8,867.4 1465.7,867.3 1466.6,866.5 1467.5,867.2 1468.4,866.5 1469.3,867 1470.2,868.3 1471.1,867.3 1472,867.1 1472.9,868.5 1473.8,866.6 1474.7,867.4 1475.6,867.2 1476.5,868.1 1477.4,867.4 1478.3,867.3 1479.2,867.7 1480.1,867.4 1481,869 1481.9,866.5 1482.8,868.3 1483.7,869 1484.6,868.2 1485.5,868.1 1486.4,867.1 1487.3,868.1 1488.2,867.3 1489.1,868.2 1490,865.9 1490.9,867.1 1491.8,866.1 1492.7,868.2 1493.6,867 1494.5,868.1 1495.4,867.1 1496.3,867 1497.2,868.5 1498.1,868.2 1499,868.1 1499.9,868.2 1500.8,867.4 1501.7,867.3 1502.6,867.2 1503.5,865.6 1504.4,864.8 1505.3,865.6 1506.2,864.5 1507.1,863.8 1508,863.7 1508.9,864 1509.8,863.1 1510.7,863.4 1511.6,864 1512.5,865.2 1513.4,864.2 1514.3,864.8 1515.2,866.7 1516.1,866.9 1517,866.2 1517.9,867.8 1518.8,867.1 1519.7,867.4 1520.6,867.9 1521.5,867.6 1522.4,868.6 1523.3,867.9 1524.2,868.9 1525.1,865.9 1526,866.4 1526.9,866.5 1527.8,867.1 1528.7,866.5 1529.6,866 1530.5,865.8 1531.4,865.2 1532.3,865.5 1533.2,863 1534.1,861.4 1535,858.6 1535.9,854.2 1536.8,847.1 1537.7,838.9 1538.6,830.9 1539.5,816.9 1540.4,803.1 1541.3,788.7 1542.2,771.5 1543.1,753.3 1544,734.8 1544.9,719 1545.8,705 1546.7,692.6 1547.6,686.9 1548.5,682.4 1549.4,683.6 1550.3,690.6 1551.2,700.9 1552.1,715 1553,731.1 1553.9,749.2 1554.8,767.9 1555.7,784.8 1556.6,800.9 1557.5,814.3 1558.4,826.4 1559.3,837.4 1560.2,846.4 1561.1,852.7 1562,857.1 1562.9,859.4 1563.8,862.6 1564.7,864.5 1565.6,866.1 1566.5,865.5 1567.4,866.2 1568.3,866.5 1569.2,866.1 1570.1,864.4 1571,864.7 1571.9,861.8 1572.8,859.9 1573.7,857.5 1574.6,852.6 1575.5,847.7 1576.4,841 1577.3,831.8 1578.2,821.7 1579.1,808.6 1580,795.6 1580.9,781.1 1581.8,766.7 1582.7,755.8 1583.6,741.2 1584.5,732.7 1585.4,724.3 1586.3,721.5 1587.2,721 1588.1,724.1 1589,733.6 1589.9,742.5 1590.8,755.1 1591.7,770.1 1592.6,782.6 1593.5,797 1594.4,810.6 1595.3,822.5 1596.2,829.8 1597.1,840.6 1598,848 1598.9,852 1599.8,854.6 1600.7,855.9 1601.6,855.6 1602.5,854.9 1603.4,851.2 1604.3,848.5 1605.2,844.9 1606.1,839.9 1607,834.9 1607.9,829.7 1608.8,826.3 1609.7,824.2 1610.6,822.6 1611.5,822.6 1612.4,822.8 1613.3,827.5 1614.2,830.5 1615.1,834.8 1616,840.9 1616.9,844.9 1617.8,849.5 1618.7,854.1 1619.6,856.9 1620.5,859.4 1621.4,861.5 1622.3,864.1 1623.2,865.1 1624.1,864.4 1625,867.4 1625.9,866.8 1626.8,866.6 1627.7,867.2 1628.6,866.9 1629.5,867.3 1630.4,866.9 1631.3,866.6 1632.2,867.6 1633.1,867.3 1634,867.5 1634.9,867.6 1635.8,867.3 1636.7,867.9 1637.6,866.3 1638.5,865.2 1639.4,864.6 1640.3,864.1 1641.2,864.6 1642.1,861.4 1643,861.3 1643.9,858.8 1644.8,855.3 1645.7,854.9 1646.6,851.2 1647.5,849.4 1648.4,847.9 1649.3,847 1650.2,845.3 1651.1,845.9 1652,845.4 1652.9,846.5 1653.8,849.9 1654.7,851.2 1655.6,853 1656.5,855.4 1657.4,856.8 1658.3,856.9 1659.2,857.4 1660.1,858 1661,856.3 1661.9,854 1662.8,853.2 1663.7,850.8 1664.6,846.8 1665.5,844.9 1666.4,845.3 1667.3,844 1668.2,842.2 1669.1,843.2 1670,843.1 1670.9,844.1 1671.8,844.3 1672.7,847.5 1673.6,848.1 1674.5,847.9 1675.4,846.6 1676.3,847.4 1677.2,848.3 1678.1,846.7 1679,846.6 1679.9,847.6 1680.8,848.4 1681.7,849 1682.6,850 1683.5,852.6 1684.4,854.3 1685.3,856.8 1686.2,859.1 1687.1,861.3 1688,862.1 1688.9,863.9 1689.8,864.9 1690.7,865 1691.6,865.9 1692.5,866.1 1693.4,868.1 1694.3,866.8 1695.2,867.7 1696.1,868 1697,868 1697.9,866.6 1698.8,866.9 1699.7,867.9 1700.6,868.2 1701.5,867.2 1702.4,867.4 1703.3,865.5 1704.2,867.2 1705.1,866.6 1706,864.4 1706.9,862.8 1707.8,861 1708.7,858.6 1709.6,855.6 1710.5,855.4 1711.4,854 1712.3,854 1713.2,852.3 1714.1,852.5 1715,854.4 1715.9,855.1 1716.8,857.9 1717.7,858.9 1718.6,861.6 1719.5,864.2 1720.4,865.2 1721.3,866.8 1722.2,867.7 1723.1,866.7 1724,866.5 1724.9,866 1725.8,867.4 1726.7,867.6 1727.6,868.3 1728.5,866.8 1729.4,867.2 1730.3,867.9 1731.2,867 1732.1,867.1 1733,868.8 1733.9,867 1734.8,867.4 1735.7,867.8 1736.6,867.8 1737.5,866.3 1738.4,866.4 1739.3,866.2 1740.2,868.3 1741.1,868 1742,866.9 1742.9,868.3 1743.8,868 1744.7,868.8 1745.6,866.2 1746.5,866.8 1747.4,867.2 1748.3,867.3 1749.2,867.8 1750.1,867.8 1751,867.1 1751.9,868 1752.8,866.6 1753.7,867.8 1754.6,868.1 1755.5,866.6 1756.4,867.6 1757.3,867.1 1758.2,867.8 1759.1,869.1 1760,867.1 1760.9,868.4 1761.8,866.7 1762.7,868.6 1763.6,868.8 1764.5,867.3 1765.4,867.2 1766.3,867.4 1767.2,868.3 1768.1,866.9 1769,868.5 1769.9,867.8 1770.8,868.1 1771.7,867.8 1772.6,866.9 1773.5,867.9 1774.4,867.1 1775.3,867 1776.2,868.7 1777.1,868.3 1778,867.8 1778.9,867.9 1779.8,867.3 1780.7,868.9 1781.6,867 1782.5,867 1783.4,867.6 1784.3,868.5 1785.2,867.5 1786.1,867.9 1787,867.1 1787.9,867.6 1788.8,867 1789.7,867.8 1790.6,866.5 1791.5,869.1 1792.4,868.2 1793.3,867.2 1794.2,868.6 1795.1,867 1796,868.4 1796.9,867.4 1797.8,868.1 1798.7,867.8 1799.6,867.4 1800.5,867.6 1801.4,867.8 1802.3,866 1803.2,867.5 1804.1,868.2 1805,866.9 1805.9,866.9 1806.8,866.6 1807.7,866.2 1808.6,868.2 1809.5,866.8 1810.4,866.7 1811.3,867.5 1812.2,867.3 1813.1,869.6 1814,867.9 1814.9,866.2 1815.8,868.8 1816.7,867.9 1817.6,867.3 1818.5,867.1 1819.4,866.4 1820.3,868.7 1821.2,867.5 1822.1,866.9 1823,868.4 1823.9,867.5 1824.8,866.2 1825.7,866.6 1826.6,867.1 1827.5,869.3 1828.4,867.6 1829.3,867.2 1830.2,867.7 1831.1,867.5 1832,865.3 1832.9,867.7 1833.8,868.2 1834.7,867.3 1835.6,867.7 1836.5,867.7 1837.4,867.6 1838.3,867 1839.2,867.3 1840.1,868.3 1841,867.6 1841.9,867.2 1842.8,867.8 1843.7,866.7 1844.6,867 1845.5,868.2 1846.4,867.3 1847.3,866.1 1848.2,866.4 1849.1,867.5 1850,866.9 1850.9,868 1851.8,868.5 1852.7,867.1 1853.6,867.3 1854.5,867.1 1855.4,867.5 1856.3,867.3 1857.2,867.9 1858.1,867.2 1859,866.9 1859.9,867.5 1860.8,866.9 1861.7,868.7 1862.6,868.1 1863.5,866.5 1864.4,866.3 1865.3,867.3 1866.2,867.6 1867.1,868.4 1868,867.2 1868.9,867 1869.8,868.5 1870.7,867.1 1871.6,867.2 1872.5,867.2 1873.4,868.3 1874.3,867.1 1875.2,868.5 1876.1,866.5 1877,867.4 1877.9,868.3 1878.8,866.6 1879.7,866.7 1880.6,868 1881.5,866 1882.4,868.2 1883.3,867.3 1884.2,866.7 1885.1,869.1 1886,866.8 1886.9,867.5 1887.8,867.5 1888.7,868.3 1889.6,867.3 1890.5,868.3 1891.4,868.2 1892.3,867.8 1893.2,868.4 1894.1,866.4 1895,868.4 1895.9,868 1896.8,867.7 1897.7,867.5 1898.6,866.9 1899.5,866.9 1900.4,867.7 1901.3,867.8 1902.2,867.5 1903.1,866.9 1904,867 1904.9,867.9 1905.8,868.9 1906.7,866 1907.6,866.8 1908.5,867.3 1909.4,867.3 1910.3,867.9 1911.2,868.2 1912.1,867.7 1913,867.7 1913.9,867.9 1914.8,868.5 1915.7,867.7 1916.6,867.1 1917.5,867.8 1918.4,867.5 1919.3,868.9 1920.2,867.6 1921.1,867.6 1922,868.4 1922.9,868.7 1923.8,867.2 1924.7,868.1 1925.6,867.2 1926.5,867.8 1927.4,867.1 1928.3,867.7 1929.2,868.6 1930.1,867.6 1931,867.7 1931.9,867 1932.8,867.8 1933.7,867.8 1934.6,866.9 1935.5,866.7 1936.4,867 1937.3,866.8 1938.2,867.2 1939.1,867 1940,866.9 1940.9,867.2 1941.8,867.5 1942.7,867.4 1943.6,865.8 1944.5,867.5 1945.4,867.7 1946.3,867.8 1947.2,867.5 1948.1,867.3 1949,868.3 1949.9,868.9 1950.8,867.3 1951.7,868.6 1952.6,867.3 1953.5,867.4 1954.4,866.7 1955.3,866.3 1956.2,867.2 1957.1,867.9 1958,868.3 1958.9,868.1 1959.8,867.5 1960.7,868.9 1961.6,867.4 1962.5,867.5 1963.4,867 1964.3,867.7 1965.2,867.4 1966.1,868 1967,867.8 1967.9,868.7 1968.8,867.4 1969.7,866.4 1970.6,867.4 1971.5,867.2 1972.4,868.2 1973.3,866.5 1974.2,868 1975.1,866.9 1976,867.4 1976.9,868.2 1977.8,866.8 1978.7,867.5 1979.6,867.4 1980.5,867.2 1981.4,867.5 1982.3,867.8 1983.2,867.2 1984.1,867.8 1985,867.5 1985.9,868 1986.8,868.5 1987.7,868 1988.6,867.8 1989.5,867.5 1990.4,866.7 1991.3,868.7 1992.2,867.4 1993.1,869 1994,868.2 1994.9,867.9 1995.8,869.1 1996.7,868.8 1997.6,867.4 1998.5,867.4 1999.4,867.6 2000.3,868.1 2001.2,866 2002.1,867.6 2003,868.1 2003.9,866.3 2004.8,867.1 2005.7,867.8 2006.6,866.7 2007.5,867.4 2008.4,867 2009.3,867.3 2010.2,868.2 2011.1,866.8 2012,867.4 2012.9,868.2 2013.8,868 2014.7,866.8 2015.6,867.8 2016.5,867.5 2017.4,867 2018.3,867.4 2019.2,868.6 2020.1,867.1 2021,866.8 2021.9,866.9 2022.8,866.4 2023.7,867.2 2024.6,867 2025.5,866.4 2026.4,867.7 2027.3,866.3 2028.2,866.3 2029.1,867 2030,866.2 2030.9,866.9 2031.8,868.1 2032.7,866.7 2033.6,867.3 2034.5,867.2 2035.4,867.4 2036.3,866.5 2037.2,867.1 2038.1,868 2039,867.2 2039.9,867 2040.8,868 2041.7,867.8 2042.6,867.8 2043.5,867.9 2044.4,867.3 2045.3,866.8 2046.2,866.2 2047.1,866.7 2048,866.8 2048.9,866.7 2049.8,866.6 2050.7,867.8 2051.6,867 2052.5,867.3 2053.4,867.6 2054.3,867.8 2055.2,867.9 2056.1,867.7 2057,868.4 2057.9,867.1 2058.8,867.5 2059.7,867.4 2060.6,867.3 2061.5,867 2062.4,867.9 2063.3,867.6 2064.2,868.6 2065.1,869.1 2066,868.9 2066.9,866.4 2067.8,868.8 2068.7,867.2 2069.6,866.5 2070.5,867.8 2071.4,866.4 2072.3,866.2 2073.2,866.8 2074.1,865.8 2075,867.1 2075.9,868 2076.8,867.1 2077.7,867.8 2078.6,868.4 2079.5,868.4 2080.4,865.9 2081.3,867.9 2082.2,867.5 2083.1,868 2084,867.4 2084.9,867.7 2085.8,867.8 2086.7,868.3 2087.6,868.5 2088.5,868 2089.4,867.3 2090.3,866 2091.2,866.8 2092.1,866.2 2093,867.2 2093.9,867.6 2094.8,868.4 2095.7,867.5 2096.6,869 2097.5,867.7 2098.4,866.3 2099.3,867.3 2100.2,866.7 2101.1,867.8 2102,868.4 2102.9,867.8 2103.8,867.8 2104.7,866.6 2105.6,866.1 2106.5,868 2107.4,867.7 2108.3,867.6 2109.2,867.7 2110.1,868.4 2111,867.4 2111.9,867.2 2112.8,867.2 2113.7,868.3 2114.6,867.6 2115.5,868.7 2116.4,866.8 2117.3,868.2 2118.2,867.7 2119.1,867.8 2120,867.9 2120.9,868.2 2121.8,868.7 2122.7,866.2 2123.6,867.2 2124.5,867.1 2125.4,865.7 2126.3,867 2127.2,866.3 2128.1,866.3 2129,865 2129.9,864.7 2130.8,863.8 2131.7,862.7 2132.6,860.3 2133.5,857 2134.4,855.7 2135.3,849.7 2136.2,843.9 2137.1,836.1 2138,827.6 2138.9,813.7 2139.8,800.1 2140.7,782 2141.6,761.1 2142.5,737.1 2143.4,707.7 2144.3,676.2 2145.2,639.2 2146.1,598.6 2147,555 2147.9,508.8 2148.8,460.7 2149.7,409.9 2150.6,361.8 2151.5,314.9 2152.4,269 2153.3,227.3 2154.2,190.4 2155.1,160.4 2156,137.6 2156.9,120.9 2157.8,115.7 2158.7,118.4 2159.6,129.5 2160.5,149 2161.4,175 2162.3,209.6 2163.2,248.7 2164.1,295.6 2165,340.3 2165.9,388.7 2166.8,437.4 2167.7,487.6 2168.6,536 2169.5,579.1 2170.4,621.5 2171.3,660.5 2172.2,693.9 2173.1,723 2174,749.3 2174.9,772.4 2175.8,792.8 2176.7,806.3 2177.6,822 2178.5,831.9 2179.4,841.4 2180.3,846.2 2181.2,852 2182.1,855.7 2183,859.4 2183.9,861.7 2184.8,863.3 2185.7,865.9 2186.6,864.8 2187.5,865.5 2188.4,866.8 2189.3,866.9 2190.2,866.9 2191.1,866.1 2192,867 2192.9,867.3 2193.8,867.8 2194.7,868.5 2195.6,867.9 2196.5,867.4 2197.4,867.6 2198.3,867.4 2199.2,866.9 2200.1,867.2 2201,867.3 2201.9,867 2202.8,867.3 2203.7,867.5 2204.6,867.1 2205.5,868.7 2206.4,866.6 2207.3,868.4 2208.2,866.9 2209.1,867.5 2210,866.7 2210.9,867.4 2211.8,868.1 2212.7,866.7 2213.6,867.3 2214.5,867.4 2215.4,867.4 2216.3,866.8 2217.2,866.9 2218.1,867.3 2219,868.6 2219.9,867.7 2220.8,867.4 2221.7,866.2 2222.6,867.2 2223.5,867.5 2224.4,866.6 2225.3,867.5 2226.2,867.5 2227.1,867.4 2228,868.5 2228.9,866.8 2229.8,867.2 2230.7,867.7 2231.6,868.3 2232.5,867.3 2233.4,866.5 2234.3,867.9 2235.2,868.2 2236.1,867.2 2237,868.6 2237.9,869 2238.8,867.8 2239.7,867.9 2240.6,867.6 2241.5,867.8 2242.4,867.2 2243.3,867.5 2244.2,867.7 2245.1,867.6 2246,866.7 2246.9,866.3 2247.8,866.2 2248.7,866.1 2249.6,868.6 2250.5,866.6 2251.4,865.6 2252.3,864.6 2253.2,865.1 2254.1,861.9 2255,861.4 2255.9,860.5 2256.8,858 2257.7,856.1 2258.6,853.8 2259.5,849.8 2260.4,846.9 2261.3,843.5 2262.2,838.4 2263.1,833 2264,828.2 2264.9,820.7 2265.8,816.1 2266.7,807.6 2267.6,801.6 2268.5,796.2 2269.4,788.9 2270.3,781.9 2271.2,776.9 2272.1,772.3 2273,766.8 2273.9,761.6 2274.8,761.2 2275.7,757.9 2276.6,757.5 2277.5,757.9 2278.4,759.5 2279.3,761.8 2280.2,764.3 2281.1,768.9 2282,775.1 2282.9,778.9 2283.8,787.1 2284.7,792.2 2285.6,799.1 2286.5,805.1 2287.4,812.2 2288.3,818.1 2289.2,824.9 2290.1,829.9 2291,835.5 2291.9,839 2292.8,845.3 2293.7,847.7 2294.6,851.6 2295.5,854.6 2296.4,857.6 2297.3,858.9 2298.2,862 2299.1,863.3 2300,863 2300.9,865.5 2301.8,864.1 2302.7,865.9 2303.6,866 2304.5,866.4 2305.4,866.4 2306.3,867.1 2307.2,867.3 2308.1,867.3 2309,866.5 2309.9,866.5 2310.8,866.5 2311.7,867.1 2312.6,867.5 2313.5,868.6 2314.4,867 2315.3,866.8 2316.2,867.7 2317.1,866.9 2318,866.5 2318.9,867.4 2319.8,866.7 2320.7,867.2 2321.6,868.7 2322.5,867.8 2323.4,867.7 2324.3,867.1 2325.2,868.1 2326.1,867.8 2327,868.1 2327.9,867.5 2328.8,867.4 2329.7,866.8 2330.6,866.9 2331.5,867.3 2332.4,867.3 2333.3,867.4 2334.2,867.4 2335.1,866.4 2336,869.2 2336.9,867.6 2337.8,867.2 2338.7,866.7 2339.6,868.2 2340.5,867.2 2341.4,866.8 2342.3,867.8 2343.2,868.8 2344.1,867.7 2345,868.3 2345.9,867 2346.8,868 2347.7,866.2 2348.6,867.3 2349.5,868 2350.4,867.8 2351.3,868.2 2352.2,867.2 2353.1,866.4 2354,867.6 2354.9,866.8 2355.8,868.1 2356.7,867.2 2357.6,865.8 2358.5,868.4 2359.4,866.6 2360.3,866.6 2361.2,868.8 2362.1,868.5 2363,868.1 2363.9,866.8 2364.8,867.7 2365.7,867.6 2366.6,867 2367.5,867.4 2368.4,867.3 2369.3,867.7 2370.2,866.7 2371.1,868 2372,866.3 2372.9,867.7 2373.8,868 2374.7,867 2375.6,867.1 2376.5,868.8 2377.4,867.3 2378.3,868.4 2379.2,868 2380.1,866.9 2381,868.1 2381.9,867.2 2382.8,867.7 2383.7,866.1 2384.6,867.5 2385.5,868.3 2386.4,868.2 2387.3,868.1 2388.2,867.4 2389.1,867.5 2390,866.8 2390.9,867.3 2391.8,867.4 2392.7,867.2 2393.6,867.5 2394.5,867.2 2395.4,866.9 2396.3,866.9 2397.2,867.8 2398.1,868.7 2399,868 2399.9,867.3 2400.8,869.2 2401.7,867.8 2402.6,867.1 2403.5,867.9 2404.4,868.2 2405.3,866.2 2406.2,866.5 2407.1,867.6 2408,866.5 2408.9,866.5 2409.8,868.2 2410.7,865.6 2411.6,868.1 2412.5,867.6 2413.4,868.2 2414.3,867.4 2415.2,868.4 2416.1,867.5 2417,866.7 2417.9,867.3 2418.8,867.6 2419.7,866.4 2420.6,868.1 2421.5,866.8 2422.4,867.7 2423.3,867.3 2424.2,867.4 2425.1,867.4 2426,867.5 2426.9,868 2427.8,867.9" fill="none" stroke="#1818d8" stroke-width="3.6" stroke-linejoin="round"/>
<path d="M1343.3,867 1344.2,866.5 1345.1,866.3 1346,866.4 1346.9,866.9 1347.8,866.5 1348.7,867.4 1349.6,868.5 1350.5,866.5 1351.4,867.6 1352.3,867.1 1353.2,867.3 1354.1,866 1355,867.3 1355.9,866.3 1356.8,866.8 1357.7,867.3 1358.6,867.6 1359.5,866.2 1360.4,866.2 1361.3,865.9 1362.2,865.2 1363.1,866.3 1364,866.3 1364.9,866.6 1365.8,866.4 1366.7,866.7 1367.6,867.1 1368.5,865.1 1369.4,867.8 1370.3,866.3 1371.2,866.2 1372.1,866.4 1373,867.2 1373.9,866.6 1374.8,866.8 1375.7,867.2 1376.6,866.5 1377.5,866.8 1378.4,866.9 1379.3,866 1380.2,867.2 1381.1,866.2 1382,866.9 1382.9,866.2 1383.8,866.4 1384.7,866.3 1385.6,867.2 1386.5,867 1387.4,867.1 1388.3,866.4 1389.2,866 1390.1,865.7 1391,866.9 1391.9,866.4 1392.8,867.6 1393.7,868.1 1394.6,867.1 1395.5,867 1396.4,867.6 1397.3,867.7 1398.2,866.1 1399.1,867.1 1400,867.7 1400.9,864.9 1401.8,866.4 1402.7,866.7 1403.6,866 1404.5,867 1405.4,865.4 1406.3,867.6 1407.2,867.4 1408.1,866.6 1409,867 1409.9,865.5 1410.8,867.6 1411.7,867 1412.6,866.4 1413.5,866.1 1414.4,865.8 1415.3,866.3 1416.2,865 1417.1,866.9 1418,866.4 1418.9,865.9 1419.8,866.7 1420.7,866.7 1421.6,866.8 1422.5,867 1423.4,867.3 1424.3,866.9 1425.2,867.6 1426.1,866.3 1427,867.6 1427.9,865.1 1428.8,865.3 1429.7,865.8 1430.6,866.7 1431.5,866.9 1432.4,865.7 1433.3,866.4 1434.2,866.1 1435.1,867 1436,865.8 1436.9,867.1 1437.8,866.5 1438.7,867.7 1439.6,867 1440.5,866.2 1441.4,866.8 1442.3,866.8 1443.2,866 1444.1,866.6 1445,865.7 1445.9,868.2 1446.8,866.1 1447.7,866.2 1448.6,867.6 1449.5,867.4 1450.4,865.9 1451.3,867.3 1452.2,867 1453.1,866.1 1454,866.8 1454.9,866.2 1455.8,867.1 1456.7,866.3 1457.6,865.8 1458.5,866.3 1459.4,868.1 1460.3,866.1 1461.2,866.5 1462.1,867.2 1463,865.6 1463.9,867.8 1464.8,865.2 1465.7,867 1466.6,865.4 1467.5,866.6 1468.4,867.5 1469.3,866.5 1470.2,866.3 1471.1,866.2 1472,865.8 1472.9,867.2 1473.8,866.2 1474.7,866 1475.6,866.7 1476.5,867.2 1477.4,867.2 1478.3,866 1479.2,866 1480.1,867.1 1481,867.5 1481.9,865.7 1482.8,867.6 1483.7,866.4 1484.6,867.1 1485.5,867.8 1486.4,866.5 1487.3,866.7 1488.2,865.5 1489.1,865 1490,866.7 1490.9,865.8 1491.8,865.8 1492.7,866.9 1493.6,867.1 1494.5,865.4 1495.4,866.7 1496.3,866.4 1497.2,866.5 1498.1,866.1 1499,866.1 1499.9,864.5 1500.8,863.3 1501.7,863.2 1502.6,862.3 1503.5,859.4 1504.4,858.4 1505.3,855.6 1506.2,852.3 1507.1,850 1508,850.5 1508.9,851.3 1509.8,850.7 1510.7,854.2 1511.6,854.9 1512.5,855.5 1513.4,858.2 1514.3,861.7 1515.2,863.6 1516.1,863.2 1517,864.8 1517.9,865.9 1518.8,865.6 1519.7,866.6 1520.6,867.7 1521.5,865.8 1522.4,866.9 1523.3,867 1524.2,867.2 1525.1,865.8 1526,866.2 1526.9,864.6 1527.8,864.4 1528.7,862 1529.6,861 1530.5,858.1 1531.4,854.7 1532.3,848 1533.2,838.4 1534.1,825.6 1535,814 1535.9,795.3 1536.8,771.3 1537.7,743.3 1538.6,711.3 1539.5,673.1 1540.4,632.3 1541.3,586.2 1542.2,538.2 1543.1,490.4 1544,446.1 1544.9,404.7 1545.8,368.9 1546.7,341.2 1547.6,324.1 1548.5,318.1 1549.4,321.7 1550.3,336.5 1551.2,362.9 1552.1,397 1553,436 1553.9,480.9 1554.8,527.6 1555.7,575.6 1556.6,621.8 1557.5,664.4 1558.4,703.5 1559.3,737.4 1560.2,766.1 1561.1,790.1 1562,808.4 1562.9,825.3 1563.8,836.1 1564.7,845 1565.6,849.5 1566.5,854.2 1567.4,856.5 1568.3,855.8 1569.2,854.8 1570.1,851.9 1571,845.3 1571.9,838.3 1572.8,827.5 1573.7,814.6 1574.6,798.2 1575.5,778.2 1576.4,754.8 1577.3,725.4 1578.2,694.2 1579.1,659.3 1580,623.4 1580.9,586.9 1581.8,550.9 1582.7,516.2 1583.6,486.4 1584.5,464.1 1585.4,447.2 1586.3,438.4 1587.2,440.5 1588.1,449.2 1589,466.9 1589.9,489.5 1590.8,519.9 1591.7,554.3 1592.6,591.3 1593.5,627.1 1594.4,662.1 1595.3,696.6 1596.2,726.9 1597.1,752.4 1598,775.4 1598.9,791.4 1599.8,803.2 1600.7,811.5 1601.6,814.5 1602.5,812.6 1603.4,808.2 1604.3,800.6 1605.2,790.4 1606.1,779.3 1607,768.7 1607.9,757.8 1608.8,748.1 1609.7,741.2 1610.6,737.9 1611.5,739.7 1612.4,742.3 1613.3,749.7 1614.2,760.1 1615.1,771.5 1616,784.1 1616.9,796.5 1617.8,811.2 1618.7,821.6 1619.6,832.4 1620.5,841 1621.4,847.1 1622.3,852.8 1623.2,858.2 1624.1,860.7 1625,862.5 1625.9,865 1626.8,864.4 1627.7,865.7 1628.6,865.9 1629.5,866 1630.4,865.1 1631.3,866.4 1632.2,866.7 1633.1,865.2 1634,866.6 1634.9,866.5 1635.8,866.8 1636.7,864.6 1637.6,864.5 1638.5,863.3 1639.4,862 1640.3,860.1 1641.2,857.7 1642.1,854.1 1643,848.8 1643.9,843.9 1644.8,837 1645.7,832.5 1646.6,826.2 1647.5,820.8 1648.4,814.3 1649.3,812.6 1650.2,809.3 1651.1,808.7 1652,811.4 1652.9,814.1 1653.8,820.6 1654.7,824.7 1655.6,831.3 1656.5,835.6 1657.4,840.8 1658.3,845.4 1659.2,847.3 1660.1,849.6 1661,850.9 1661.9,850.6 1662.8,850.1 1663.7,847.5 1664.6,843.8 1665.5,843.7 1666.4,840.9 1667.3,839.9 1668.2,837.7 1669.1,837.2 1670,837.2 1670.9,838.2 1671.8,837.3 1672.7,836.2 1673.6,837.2 1674.5,836.4 1675.4,836.8 1676.3,837.3 1677.2,835.2 1678.1,835 1679,835.5 1679.9,835.7 1680.8,836 1681.7,837.9 1682.6,838.9 1683.5,841.4 1684.4,845.4 1685.3,846.5 1686.2,849.5 1687.1,852.4 1688,854 1688.9,857 1689.8,858.3 1690.7,859.7 1691.6,861.8 1692.5,864.2 1693.4,864.6 1694.3,864.2 1695.2,865.5 1696.1,866.3 1697,866 1697.9,865.8 1698.8,866.1 1699.7,865.9 1700.6,866.9 1701.5,866.4 1702.4,866.2 1703.3,865.8 1704.2,866.7 1705.1,864.7 1706,864.4 1706.9,861.2 1707.8,859.4 1708.7,857.5 1709.6,856.2 1710.5,855.3 1711.4,852.9 1712.3,852.9 1713.2,852.1 1714.1,853.7 1715,854.6 1715.9,855.4 1716.8,856.4 1717.7,859.5 1718.6,859.7 1719.5,860.9 1720.4,864.9 1721.3,864.9 1722.2,866.2 1723.1,866 1724,866.6 1724.9,866.4 1725.8,865.8 1726.7,865.8 1727.6,866.3 1728.5,866.5 1729.4,866.4 1730.3,866.4 1731.2,866.1 1732.1,866.5 1733,866.1 1733.9,867.4 1734.8,865.8 1735.7,864.9 1736.6,865.3 1737.5,865.1 1738.4,860.9 1739.3,858.8 1740.2,856.8 1741.1,851.3 1742,848.4 1742.9,848.5 1743.8,849.9 1744.7,853.9 1745.6,858.1 1746.5,862.9 1747.4,864.6 1748.3,865.2 1749.2,865.5 1750.1,867 1751,866.9 1751.9,866.2 1752.8,867.8 1753.7,867.9 1754.6,866.7 1755.5,866.3 1756.4,866.8 1757.3,868.1 1758.2,866.5 1759.1,867.4 1760,866.1 1760.9,866.6 1761.8,866.3 1762.7,866.1 1763.6,866.9 1764.5,865.9 1765.4,865.6 1766.3,866.2 1767.2,865.6 1768.1,866.9 1769,865.9 1769.9,866.3 1770.8,867.2 1771.7,866.5 1772.6,866.8 1773.5,866.8 1774.4,866.3 1775.3,865.5 1776.2,866.4 1777.1,865.9 1778,866.8 1778.9,865.5 1779.8,864.5 1780.7,864.4 1781.6,864.3 1782.5,864.6 1783.4,864.5 1784.3,863.4 1785.2,863.8 1786.1,863.3 1787,861.4 1787.9,862.4 1788.8,860.4 1789.7,862.5 1790.6,861.2 1791.5,862.5 1792.4,861.8 1793.3,862.9 1794.2,862.6 1795.1,863.1 1796,863.8 1796.9,863.6 1797.8,863.3 1798.7,865.2 1799.6,864.5 1800.5,865.4 1801.4,865.7 1802.3,864.4 1803.2,867.6 1804.1,866.7 1805,867.5 1805.9,866.6 1806.8,866.6 1807.7,863.8 1808.6,866.2 1809.5,865.2 1810.4,865.6 1811.3,866.8 1812.2,866.2 1813.1,865.3 1814,866.4 1814.9,866.4 1815.8,866.2 1816.7,867.6 1817.6,867.1 1818.5,866.3 1819.4,866.1 1820.3,867.1 1821.2,866.7 1822.1,866.6 1823,866.6 1823.9,866 1824.8,866.4 1825.7,866.4 1826.6,867.5 1827.5,867.2 1828.4,866.3 1829.3,867.6 1830.2,866.3 1831.1,867 1832,867.1 1832.9,866.1 1833.8,867 1834.7,867.1 1835.6,867 1836.5,866.5 1837.4,864.6 1838.3,868 1839.2,866.5 1840.1,866.7 1841,865.9 1841.9,866.8 1842.8,868.2 1843.7,865.6 1844.6,867.3 1845.5,866.6 1846.4,867.5 1847.3,867.3 1848.2,866.9 1849.1,865.9 1850,865.9 1850.9,866.9 1851.8,866.2 1852.7,866.8 1853.6,866.4 1854.5,866.4 1855.4,866.1 1856.3,866.9 1857.2,866.6 1858.1,866.4 1859,866.5 1859.9,867.1 1860.8,865.3 1861.7,866.8 1862.6,866 1863.5,866.4 1864.4,865.7 1865.3,868 1866.2,865.1 1867.1,866.7 1868,867.4 1868.9,866.4 1869.8,864.9 1870.7,866.2 1871.6,867.4 1872.5,866.8 1873.4,865.6 1874.3,867.5 1875.2,866.6 1876.1,866.7 1877,865 1877.9,866.7 1878.8,865.6 1879.7,867 1880.6,867.1 1881.5,865.8 1882.4,866.1 1883.3,867.7 1884.2,866.1 1885.1,866.1 1886,866.9 1886.9,866.4 1887.8,866.3 1888.7,866.9 1889.6,866.9 1890.5,867 1891.4,866.7 1892.3,867.4 1893.2,866.6 1894.1,867.6 1895,866.5 1895.9,866.6 1896.8,867.2 1897.7,865.9 1898.6,865.2 1899.5,865.6 1900.4,867.5 1901.3,865.6 1902.2,866.4 1903.1,866.6 1904,866.9 1904.9,866.5 1905.8,865.6 1906.7,866.1 1907.6,866.8 1908.5,867 1909.4,866.8 1910.3,866.1 1911.2,865.2 1912.1,867.3 1913,866.5 1913.9,866.8 1914.8,867 1915.7,866.2 1916.6,866.1 1917.5,867.5 1918.4,867.2 1919.3,865.7 1920.2,866.3 1921.1,866.2 1922,866.9 1922.9,866.8 1923.8,866.2 1924.7,866.9 1925.6,867.3 1926.5,866.5 1927.4,865.9 1928.3,867.2 1929.2,865.8 1930.1,866 1931,867.1 1931.9,866.5 1932.8,866.6 1933.7,866.1 1934.6,866.1 1935.5,867.4 1936.4,867.5 1937.3,865.8 1938.2,866.4 1939.1,866.2 1940,866.3 1940.9,865.5 1941.8,867.4 1942.7,865.8 1943.6,867.1 1944.5,866 1945.4,865.6 1946.3,867.5 1947.2,866.2 1948.1,866.7 1949,866.7 1949.9,866.5 1950.8,867.3 1951.7,867.2 1952.6,866.1 1953.5,865.9 1954.4,866.9 1955.3,867.5 1956.2,864.9 1957.1,865.8 1958,866.3 1958.9,867.2 1959.8,866.9 1960.7,866.4 1961.6,867.2 1962.5,865.4 1963.4,866.4 1964.3,866.3 1965.2,867.2 1966.1,867.2 1967,867.1 1967.9,866.3 1968.8,866.7 1969.7,866.7 1970.6,866.3 1971.5,866.4 1972.4,865.5 1973.3,866.7 1974.2,867.2 1975.1,866.5 1976,865.5 1976.9,866.9 1977.8,866.5 1978.7,866.8 1979.6,866.2 1980.5,866.3 1981.4,867.1 1982.3,866.7 1983.2,865.9 1984.1,865.8 1985,865.9 1985.9,865.9 1986.8,866.8 1987.7,866.8 1988.6,865.9 1989.5,867.3 1990.4,866.6 1991.3,867.8 1992.2,866.8 1993.1,867 1994,867.4 1994.9,866.1 1995.8,867 1996.7,866.8 1997.6,866.7 1998.5,867 1999.4,865.5 2000.3,866.9 2001.2,866.4 2002.1,867.4 2003,866.8 2003.9,866.7 2004.8,866.7 2005.7,866.9 2006.6,866.4 2007.5,865.5 2008.4,866.6 2009.3,866.6 2010.2,866.8 2011.1,864.8 2012,865.4 2012.9,866.1 2013.8,866 2014.7,867 2015.6,866.6 2016.5,866.4 2017.4,866.4 2018.3,867.1 2019.2,867.1 2020.1,866.2 2021,866.3 2021.9,868 2022.8,866.5 2023.7,865.6 2024.6,867 2025.5,866.4 2026.4,867.5 2027.3,866 2028.2,867.3 2029.1,867.4 2030,866.7 2030.9,864.9 2031.8,866.9 2032.7,867.4 2033.6,866.2 2034.5,866.4 2035.4,865.4 2036.3,867.4 2037.2,867.6 2038.1,866.7 2039,866.3 2039.9,866.3 2040.8,865.8 2041.7,867.5 2042.6,867.1 2043.5,866.6 2044.4,865.9 2045.3,866.2 2046.2,866.8 2047.1,867.2 2048,865.9 2048.9,865.9 2049.8,864.7 2050.7,866.6 2051.6,865.4 2052.5,867.4 2053.4,866.9 2054.3,867 2055.2,866.8 2056.1,867.1 2057,866.9 2057.9,866.6 2058.8,866.8 2059.7,866.1 2060.6,866.6 2061.5,866.5 2062.4,865.5 2063.3,866.3 2064.2,866.4 2065.1,866.5 2066,866.5 2066.9,866.1 2067.8,867.1 2068.7,865.7 2069.6,865.4 2070.5,865.7 2071.4,866.9 2072.3,867.6 2073.2,866.8 2074.1,866.4 2075,866 2075.9,866.6 2076.8,866.7 2077.7,865.5 2078.6,867 2079.5,865.8 2080.4,865.9 2081.3,867.4 2082.2,866.3 2083.1,866.9 2084,867.2 2084.9,867.8 2085.8,867.6 2086.7,866.2 2087.6,866.8 2088.5,866.3 2089.4,867.2 2090.3,866.7 2091.2,866.7 2092.1,867.6 2093,867.7 2093.9,866.2 2094.8,866.4 2095.7,867.2 2096.6,866.6 2097.5,866.1 2098.4,865.3 2099.3,867.1 2100.2,866.1 2101.1,865.1 2102,866.5 2102.9,865.5 2103.8,868.3 2104.7,865.5 2105.6,866.5 2106.5,867.8 2107.4,866 2108.3,865.8 2109.2,865.7 2110.1,865.7 2111,866.5 2111.9,867 2112.8,866.8 2113.7,866.5 2114.6,866.2 2115.5,866.8 2116.4,866.5 2117.3,865.9 2118.2,866.3 2119.1,864.9 2120,865 2120.9,867.3 2121.8,866.9 2122.7,867.3 2123.6,867.2 2124.5,865.9 2125.4,866.9 2126.3,866.7 2127.2,865.9 2128.1,864.8 2129,865.1 2129.9,864.3 2130.8,862.4 2131.7,861.3 2132.6,859.3 2133.5,856.3 2134.4,854.1 2135.3,848.6 2136.2,843.2 2137.1,834.4 2138,824.9 2138.9,814.3 2139.8,798 2140.7,782.1 2141.6,759.5 2142.5,735.6 2143.4,707.9 2144.3,675.7 2145.2,639 2146.1,598.9 2147,556.2 2147.9,509.4 2148.8,462.8 2149.7,412.8 2150.6,363.8 2151.5,317.4 2152.4,270.6 2153.3,230.2 2154.2,194.7 2155.1,163.2 2156,140.1 2156.9,124.4 2157.8,119.1 2158.7,120.2 2159.6,131.3 2160.5,150.9 2161.4,177.8 2162.3,212.2 2163.2,252.2 2164.1,295.1 2165,341.7 2165.9,390.8 2166.8,440.3 2167.7,489.8 2168.6,535.1 2169.5,579.8 2170.4,622.4 2171.3,659.3 2172.2,692.9 2173.1,723.6 2174,749.3 2174.9,771.9 2175.8,792.5 2176.7,807.6 2177.6,820.2 2178.5,830.5 2179.4,838.6 2180.3,847.6 2181.2,851.5 2182.1,855 2183,857.7 2183.9,859.6 2184.8,863.1 2185.7,863.9 2186.6,865.3 2187.5,864.6 2188.4,866.5 2189.3,865.1 2190.2,865.5 2191.1,865.9 2192,867.9 2192.9,866.9 2193.8,865.9 2194.7,867.5 2195.6,866.7 2196.5,866.6 2197.4,865.9 2198.3,866.3 2199.2,866.3 2200.1,866.8 2201,866.5 2201.9,866.6 2202.8,866 2203.7,866.6 2204.6,865.8 2205.5,867.7 2206.4,865.7 2207.3,866.6 2208.2,865.7 2209.1,866.5 2210,865.9 2210.9,865.5 2211.8,866.9 2212.7,866.5 2213.6,866.6 2214.5,866.4 2215.4,867.6 2216.3,866.6 2217.2,866.7 2218.1,867.1 2219,866.7 2219.9,867.6 2220.8,865.6 2221.7,866.2 2222.6,865.2 2223.5,867.1 2224.4,867.3 2225.3,866.3 2226.2,867.7 2227.1,866.4 2228,867 2228.9,866.8 2229.8,866.3 2230.7,866.5 2231.6,865.2 2232.5,866.1 2233.4,867.4 2234.3,865.8 2235.2,867.4 2236.1,866.5 2237,867.4 2237.9,867.1 2238.8,865.6 2239.7,866.9 2240.6,866.9 2241.5,866.8 2242.4,866.6 2243.3,865.4 2244.2,867.1 2245.1,867.1 2246,865.7 2246.9,867.1 2247.8,866 2248.7,864.7 2249.6,865.1 2250.5,864.9 2251.4,864.4 2252.3,863.7 2253.2,862.4 2254.1,860.6 2255,858.2 2255.9,856.4 2256.8,855.1 2257.7,852.3 2258.6,847.9 2259.5,845.7 2260.4,840.2 2261.3,835 2262.2,829.7 2263.1,823.3 2264,815.4 2264.9,809.3 2265.8,800.8 2266.7,792.4 2267.6,783.5 2268.5,776 2269.4,765.9 2270.3,758.9 2271.2,751.4 2272.1,744.6 2273,738.9 2273.9,734.3 2274.8,729.2 2275.7,727.4 2276.6,726.7 2277.5,726.3 2278.4,729.2 2279.3,731.4 2280.2,736.1 2281.1,742.2 2282,747.4 2282.9,756.1 2283.8,762.3 2284.7,771.4 2285.6,778.7 2286.5,786.1 2287.4,794.5 2288.3,802.7 2289.2,809.2 2290.1,815.7 2291,821.8 2291.9,826.7 2292.8,830.2 2293.7,833.5 2294.6,838.4 2295.5,840.2 2296.4,842.5 2297.3,845.3 2298.2,848.5 2299.1,849.5 2300,853.4 2300.9,854.3 2301.8,855.7 2302.7,860.1 2303.6,860.2 2304.5,861.6 2305.4,862.9 2306.3,864.5 2307.2,865 2308.1,866.3 2309,865.6 2309.9,865.6 2310.8,866.7 2311.7,867 2312.6,866.8 2313.5,866.5 2314.4,866.5 2315.3,866.6 2316.2,866.5 2317.1,867.5 2318,868.4 2318.9,866.1 2319.8,865.6 2320.7,867.5 2321.6,867 2322.5,866.4 2323.4,865.9 2324.3,866.1 2325.2,865.7 2326.1,866.6 2327,866.3 2327.9,866.3 2328.8,866.9 2329.7,865.7 2330.6,866.1 2331.5,865.9 2332.4,866.8 2333.3,865.9 2334.2,867.3 2335.1,866.3 2336,868.4 2336.9,867.3 2337.8,866.1 2338.7,866.9 2339.6,866.4 2340.5,867.7 2341.4,865.5 2342.3,866.2 2343.2,866.6 2344.1,866.3 2345,866.3 2345.9,865.6 2346.8,866.4 2347.7,867.6 2348.6,866.7 2349.5,865.7 2350.4,866.2 2351.3,866.9 2352.2,866.2 2353.1,866.5 2354,866.2 2354.9,867.7 2355.8,867.2 2356.7,866.1 2357.6,866.7 2358.5,866.3 2359.4,865.2 2360.3,866.8 2361.2,866.4 2362.1,867 2363,867 2363.9,866.6 2364.8,867.6 2365.7,868 2366.6,865.6 2367.5,866.6 2368.4,865.8 2369.3,866.5 2370.2,866.5 2371.1,866.1 2372,866.1 2372.9,867.4 2373.8,865.7 2374.7,867.2 2375.6,866.4 2376.5,864.8 2377.4,866.5 2378.3,865.4 2379.2,866.8 2380.1,866.1 2381,866.5 2381.9,866.3 2382.8,867.2 2383.7,867.2 2384.6,866.3 2385.5,867.6 2386.4,867.1 2387.3,866.1 2388.2,867 2389.1,867.2 2390,867.3 2390.9,866.5 2391.8,866.8 2392.7,866.5 2393.6,866.7 2394.5,865.3 2395.4,866.9 2396.3,867.9 2397.2,866.5 2398.1,866.6 2399,866.5 2399.9,867.7 2400.8,865.8 2401.7,866.6 2402.6,866.6 2403.5,867.6 2404.4,866.2 2405.3,866.6 2406.2,865.6 2407.1,866.9 2408,867.4 2408.9,866.5 2409.8,867.2 2410.7,866.3 2411.6,867.3 2412.5,866.7 2413.4,866.7 2414.3,866.6 2415.2,866.9 2416.1,867.1 2417,866.6 2417.9,867 2418.8,866.5 2419.7,866.8 2420.6,868.1 2421.5,866.6 2422.4,865.6 2423.3,866.4 2424.2,866.2 2425.1,866.3 2426,866.9 2426.9,867.5 2427.8,866" fill="none" stroke="#f014f0" stroke-width="3.6" stroke-linejoin="round"/>
<rect x="1341.3" y="41" width="1087.7" height="832" fill="none" stroke="#000" stroke-width="3.6"/>
<line x1="1341.3" y1="117" x2="1359.3" y2="117" stroke="#000" stroke-width="3.4"/>
<line x1="2411" y1="117" x2="2429" y2="117" stroke="#000" stroke-width="3.4"/>
<line x1="1341.3" y1="306" x2="1359.3" y2="306" stroke="#000" stroke-width="3.4"/>
<line x1="2411" y1="306" x2="2429" y2="306" stroke="#000" stroke-width="3.4"/>
<line x1="1341.3" y1="495" x2="1359.3" y2="495" stroke="#000" stroke-width="3.4"/>
<line x1="2411" y1="495" x2="2429" y2="495" stroke="#000" stroke-width="3.4"/>
<line x1="1341.3" y1="684.5" x2="1359.3" y2="684.5" stroke="#000" stroke-width="3.4"/>
<line x1="2411" y1="684.5" x2="2429" y2="684.5" stroke="#000" stroke-width="3.4"/>
<line x1="1497.5" y1="873" x2="1497.5" y2="855" stroke="#000" stroke-width="3.4"/>
<line x1="1497.5" y1="41" x2="1497.5" y2="59" stroke="#000" stroke-width="3.4"/>
<line x1="1808" y1="873" x2="1808" y2="855" stroke="#000" stroke-width="3.4"/>
<line x1="1808" y1="41" x2="1808" y2="59" stroke="#000" stroke-width="3.4"/>
<line x1="2118.5" y1="873" x2="2118.5" y2="855" stroke="#000" stroke-width="3.4"/>
<line x1="2118.5" y1="41" x2="2118.5" y2="59" stroke="#000" stroke-width="3.4"/>
<line x1="1652.8" y1="873" x2="1652.8" y2="863.5" stroke="#000" stroke-width="3.4"/>
<line x1="1652.8" y1="41" x2="1652.8" y2="50.5" stroke="#000" stroke-width="3.4"/>
<line x1="1963.2" y1="873" x2="1963.2" y2="863.5" stroke="#000" stroke-width="3.4"/>
<line x1="1963.2" y1="41" x2="1963.2" y2="50.5" stroke="#000" stroke-width="3.4"/>
<line x1="2273.8" y1="873" x2="2273.8" y2="863.5" stroke="#000" stroke-width="3.4"/>
<line x1="2273.8" y1="41" x2="2273.8" y2="50.5" stroke="#000" stroke-width="3.4"/>
<text x="1486.5" y="923" font-family="Liberation Sans, Arial, sans-serif" font-weight="bold" font-size="39.5" fill="#000">5</text>
<text x="1785.6" y="923" font-family="Liberation Sans, Arial, sans-serif" font-weight="bold" font-size="39.5" fill="#000">10</text>
<text x="2095.8" y="923" font-family="Liberation Sans, Arial, sans-serif" font-weight="bold" font-size="39.5" fill="#000">15</text>
<text x="2407.2" y="923" font-family="Liberation Sans, Arial, sans-serif" font-weight="bold" font-size="39.5" fill="#000">20</text>
<line x1="1640.2" y1="93.6" x2="1735.6" y2="93.6" stroke="#000" stroke-width="3.6"/>
<text x="1745.6" y="108.5" font-family="Liberation Sans, Arial, sans-serif" font-size="41" fill="#000"><tspan y="108.5">10Eu(B) - ZrO</tspan><tspan y="124.9" font-size="24.6">2</tspan><tspan y="108.5"> (OW)</tspan></text>
<line x1="1640.2" y1="158" x2="1735.6" y2="158" stroke="#e8131b" stroke-width="3.6"/>
<text x="1745.6" y="171.6" font-family="Liberation Sans, Arial, sans-serif" font-size="41" fill="#000"><tspan y="171.6">10Eu(I) - ZrO</tspan><tspan y="188" font-size="24.6">2</tspan><tspan y="171.6"> (OW)</tspan></text>
<line x1="1640.2" y1="221.5" x2="1735.6" y2="221.5" stroke="#1818d8" stroke-width="3.6"/>
<text x="1745.6" y="235.4" font-family="Liberation Sans, Arial, sans-serif" font-size="41" fill="#000"><tspan y="235.4">10Eu(I) - ZrO</tspan><tspan y="251.8" font-size="24.6">2</tspan><tspan y="235.4"> (RH)</tspan></text>
<line x1="1640.2" y1="285.4" x2="1735.6" y2="285.4" stroke="#f014f0" stroke-width="3.6"/>
<text x="1743.6" y="299.3" font-family="Liberation Sans, Arial, sans-serif" font-size="41" fill="#000"><tspan y="299.3">20Eu(I) - ZrO</tspan><tspan y="315.7" font-size="24.6">2</tspan><tspan y="299.3"> (CIT)</tspan></text>
<text x="1526.6" y="237" font-family="Liberation Sans, Arial, sans-serif" font-size="41" fill="#000">Eu</text>
<text x="1477" y="294.8" font-family="Liberation Sans, Arial, sans-serif" font-size="41" fill="#000"><tspan y="294.8">L</tspan><tspan y="294.8" dx="3.5" font-family="Liberation Serif, Times New Roman, serif" font-style="italic">α</tspan><tspan y="310.8" font-size="24.6">1, 2</tspan></text>
<text x="1568.2" y="406.3" font-family="Liberation Sans, Arial, sans-serif" font-size="41" fill="#000"><tspan y="406.3">L</tspan><tspan y="406.3" dx="2" font-family="Liberation Serif, Times New Roman, serif" font-style="italic">β</tspan><tspan y="422.3" dx="1" font-size="24.6">1, 2</tspan></text>
<text x="2216" y="147.3" font-family="Liberation Sans, Arial, sans-serif" font-size="41.5" fill="#000">Zr</text>
<text x="2172.6" y="234.7" font-family="Liberation Sans, Arial, sans-serif" font-size="42" fill="#000"><tspan y="234.7">K</tspan><tspan y="234.7" dx="2" font-family="Liberation Serif, Times New Roman, serif" font-style="italic">α</tspan><tspan y="250.2" font-size="25.2">1, 2</tspan></text>
<text x="2261.1" y="668.3" font-family="Liberation Sans, Arial, sans-serif" font-size="42" fill="#000"><tspan y="668.3">K</tspan><tspan y="668.3" font-family="Liberation Serif, Times New Roman, serif" font-style="italic">β</tspan><tspan y="684" font-size="25.2">1</tspan></text>
<text x="2362.5" y="142.7" font-family="Liberation Sans, Arial, sans-serif" font-size="65" fill="#000">b</text>
<text transform="translate(1287.9,719.5) rotate(-90) scale(1,1.04)" font-family="Liberation Sans, Arial, sans-serif" font-weight="bold" font-size="67" fill="#000" textLength="454.4" lengthAdjust="spacingAndGlyphs">Intensity (a.u.)</text>
<text transform="translate(0,1013.3) scale(1,1.04)" x="1680.3" y="0" font-family="Liberation Sans, Arial, sans-serif" font-weight="bold" font-size="65" fill="#000" textLength="409.8" lengthAdjust="spacingAndGlyphs">Energy (keV)</text>
</g>
<g id="pc">
<path d="M128.6,1251.4 129.3,1251.5 130,1251.4 130.7,1251.6 131.4,1251.1 132.1,1251.2 132.8,1251.7 133.5,1251.3 134.2,1250.5 134.8,1251.5 135.5,1250.6 136.2,1252.2 136.9,1251.7 137.6,1251.7 138.3,1251.2 139,1251 139.7,1251.4 140.4,1251.4 141.1,1251.1 141.8,1251.5 142.5,1251.7 143.2,1251.7 143.9,1251 144.6,1250.6 145.3,1251.4 146,1251.2 146.7,1251.6 147.3,1252.1 148,1252.1 148.7,1251.6 149.4,1251.9 150.1,1252.1 150.8,1251.5 151.5,1251.5 152.2,1251.8 152.9,1251.4 153.6,1251.3 154.3,1251.2 155,1251.4 155.7,1251.2 156.4,1251.7 157.1,1251.3 157.8,1252 158.5,1251.9 159.1,1251 159.8,1251.9 160.5,1251.3 161.2,1252 161.9,1251.6 162.6,1251.4 163.3,1251.7 164,1251.2 164.7,1251.6 165.4,1251.6 166.1,1251.4 166.8,1251.6 167.5,1251.1 168.2,1251.7 168.9,1251 169.6,1251.7 170.3,1251.6 171,1251.7 171.6,1251.2 172.3,1252.6 173,1251.4 173.7,1251.5 174.4,1251.2 175.1,1252 175.8,1251.3 176.5,1251.8 177.2,1251.1 177.9,1251.6 178.6,1251.3 179.3,1251.8 180,1251.3 180.7,1251.1 181.4,1251.6 182.1,1251 182.8,1251.1 183.4,1251.7 184.1,1250.7 184.8,1251.7 185.5,1251.3 186.2,1251.1 186.9,1251.5 187.6,1251.7 188.3,1251.2 189,1251.4 189.7,1251.7 190.4,1251.7 191.1,1251.4 191.8,1251.1 192.5,1251.1 193.2,1251.2 193.9,1251.7 194.6,1251.7 195.2,1251.6 195.9,1252 196.6,1251.3 197.3,1251.3 198,1251.3 198.7,1252.2 199.4,1250.7 200.1,1251.5 200.8,1251.6 201.5,1251.5 202.2,1252.3 202.9,1251.9 203.6,1251.7 204.3,1251.1 205,1251.6 205.7,1251.3 206.4,1251.5 207.1,1251.5 207.7,1251.3 208.4,1251.7 209.1,1252.1 209.8,1251.8 210.5,1251.5 211.2,1250.7 211.9,1251.8 212.6,1251.8 213.3,1251.4 214,1251.3 214.7,1251.7 215.4,1251.1 216.1,1251.7 216.8,1251 217.5,1251.1 218.2,1251.4 218.9,1250.9 219.5,1251.4 220.2,1251.6 220.9,1250.9 221.6,1251.8 222.3,1251.2 223,1251.6 223.7,1251.5 224.4,1251.2 225.1,1251.2 225.8,1250.8 226.5,1251.2 227.2,1251.1 227.9,1252 228.6,1251.8 229.3,1250.9 230,1251.7 230.7,1251.5 231.4,1251.3 232,1251.6 232.7,1251.7 233.4,1251.2 234.1,1251.3 234.8,1251.5 235.5,1251 236.2,1251.5 236.9,1251.4 237.6,1251.1 238.3,1251.1 239,1251.5 239.7,1251.7 240.4,1251.5 241.1,1251.1 241.8,1251.7 242.5,1251.4 243.2,1251.6 243.8,1251.8 244.5,1251 245.2,1251.3 245.9,1251.1 246.6,1251 247.3,1252.1 248,1251.7 248.7,1250.7 249.4,1251.5 250.1,1251.1 250.8,1251.8 251.5,1251.4 252.2,1251.3 252.9,1251.4 253.6,1251.5 254.3,1251.3 255,1251.2 255.7,1251.3 256.3,1251.5 257,1250.9 257.7,1251.3 258.4,1251.2 259.1,1251.1 259.8,1251.5 260.5,1250.8 261.2,1251.1 261.9,1250.9 262.6,1251.4 263.3,1251.1 264,1251.2 264.7,1251.4 265.4,1250.6 266.1,1251.4 266.8,1250.9 267.5,1251.1 268.1,1251.1 268.8,1251.4 269.5,1251.4 270.2,1251.8 270.9,1251.2 271.6,1250.9 272.3,1250.9 273,1251.3 273.7,1251.6 274.4,1251.1 275.1,1250.8 275.8,1251.1 276.5,1251 277.2,1250.9 277.9,1250.6 278.6,1249.9 279.3,1250.6 280,1251.2 280.6,1250.8 281.3,1249.9 282,1250.6 282.7,1249.9 283.4,1251.3 284.1,1250.5 284.8,1249.9 285.5,1250.6 286.2,1249.9 286.9,1250.3 287.6,1250 288.3,1249.4 289,1250 289.7,1249.1 290.4,1249.9 291.1,1249.2 291.8,1248.5 292.4,1248 293.1,1248.9 293.8,1248.4 294.5,1247 295.2,1247.5 295.9,1246.2 296.6,1245.2 297.3,1244.1 298,1242.5 298.7,1241.1 299.4,1237.5 300.1,1232.2 300.8,1226.6 301.5,1215.8 302.2,1200.8 302.9,1182.9 303.6,1162.6 304.2,1146.9 304.9,1143.1 305.6,1154 306.3,1172.7 307,1192.2 307.7,1209.2 308.4,1221.1 309.1,1230.5 309.8,1235.1 310.5,1239.4 311.2,1241.7 311.9,1243.1 312.6,1245.2 313.3,1245.8 314,1246.2 314.7,1247 315.4,1248 316.1,1247.6 316.7,1249 317.4,1249 318.1,1248.9 318.8,1249.8 319.5,1250.1 320.2,1249.9 320.9,1249.9 321.6,1250.6 322.3,1250.6 323,1249.8 323.7,1250.2 324.4,1250.2 325.1,1250.2 325.8,1249.9 326.5,1250.9 327.2,1250.6 327.9,1250.7 328.5,1251.2 329.2,1250.5 329.9,1250.7 330.6,1250.9 331.3,1250.7 332,1250.8 332.7,1251.2 333.4,1250.9 334.1,1251.4 334.8,1250.7 335.5,1251.1 336.2,1250.5 336.9,1251 337.6,1250.8 338.3,1251.6 339,1251.4 339.7,1251.3 340.4,1251.8 341,1251.7 341.7,1251.4 342.4,1250.9 343.1,1250.6 343.8,1251.2 344.5,1251 345.2,1250.9 345.9,1251.1 346.6,1250.6 347.3,1251.8 348,1250.8 348.7,1251 349.4,1251.4 350.1,1250.6 350.8,1251.6 351.5,1251.6 352.2,1251.1 352.8,1250.8 353.5,1251.1 354.2,1250.5 354.9,1251.8 355.6,1251.3 356.3,1251 357,1250.9 357.7,1251.5 358.4,1251.8 359.1,1250.8 359.8,1251 360.5,1250.6 361.2,1251.5 361.9,1251.3 362.6,1252.1 363.3,1251.2 364,1251.1 364.7,1250.9 365.3,1251.5 366,1250.6 366.7,1251.5 367.4,1251.3 368.1,1251 368.8,1250.8 369.5,1251.5 370.2,1251.8 370.9,1250.9 371.6,1251.2 372.3,1251.7 373,1250.7 373.7,1250.8 374.4,1250.3 375.1,1250.6 375.8,1250.5 376.5,1250.1 377.1,1249.6 377.8,1248.7 378.5,1247.9 379.2,1246.9 379.9,1246 380.6,1244.1 381.3,1242.7 382,1242.7 382.7,1243.1 383.4,1243.8 384.1,1245.2 384.8,1247 385.5,1247.9 386.2,1248.1 386.9,1248.7 387.6,1248.3 388.3,1248.1 388.9,1246.1 389.6,1245 390.3,1242.7 391,1239.8 391.7,1238.6 392.4,1237.8 393.1,1237.8 393.8,1241 394.5,1242.3 395.2,1244.6 395.9,1246.7 396.6,1248.5 397.3,1249.4 398,1249.8 398.7,1250.7 399.4,1250.6 400.1,1251.2 400.8,1251.8 401.4,1250.9 402.1,1249.9 402.8,1250.8 403.5,1250.6 404.2,1251.1 404.9,1251.1 405.6,1250.7 406.3,1250.7 407,1251.1 407.7,1251.1 408.4,1250.2 409.1,1251.6 409.8,1251.3 410.5,1251.3 411.2,1251.4 411.9,1250.9 412.6,1251.3 413.2,1251.7 413.9,1251.7 414.6,1251.5 415.3,1251.2 416,1251 416.7,1251.9 417.4,1251.6 418.1,1251.2 418.8,1250.5 419.5,1251 420.2,1250.6 420.9,1251.9 421.6,1251.5 422.3,1251.1 423,1251.3 423.7,1252.4 424.4,1251.9 425.1,1250.9 425.7,1251.4 426.4,1250.9 427.1,1250.7 427.8,1251.5 428.5,1252.4 429.2,1252 429.9,1251.4 430.6,1251.3 431.3,1251.5 432,1251.8 432.7,1250.9 433.4,1250.7 434.1,1252.2 434.8,1251.5 435.5,1252.1 436.2,1251.5 436.9,1252 437.5,1251.2 438.2,1251.6 438.9,1252 439.6,1251.8 440.3,1251.3 441,1251.8 441.7,1251.2 442.4,1250.9 443.1,1251.6 443.8,1252 444.5,1251.8 445.2,1250.9 445.9,1251.8 446.6,1251.7 447.3,1251.3 448,1250.5 448.7,1251.8 449.4,1251.8 450,1251.6 450.7,1250.8 451.4,1250.9 452.1,1251.9 452.8,1251.8 453.5,1251.6 454.2,1251.4 454.9,1251.6 455.6,1251.2 456.3,1251.3 457,1251.1 457.7,1251.6 458.4,1251.3 459.1,1251.8 459.8,1251.7 460.5,1251.1 461.2,1252.2 461.8,1251 462.5,1251.6 463.2,1251.9 463.9,1252 464.6,1250.6 465.3,1251.9 466,1251.9 466.7,1252 467.4,1250.6 468.1,1251.2 468.8,1251.4 469.5,1251.3 470.2,1252 470.9,1251.2 471.6,1251.9 472.3,1251.7 473,1250.9 473.7,1251.1 474.3,1251.3 475,1251.5 475.7,1251.9 476.4,1251.4 477.1,1251.8 477.8,1250.8 478.5,1250.2 479.2,1251.3 479.9,1251.6 480.6,1251.3 481.3,1251.1 482,1251.6 482.7,1252.2 483.4,1251.4 484.1,1251.2 484.8,1251.1 485.5,1252.2 486.1,1251.4 486.8,1251.7 487.5,1251.9 488.2,1251.9 488.9,1251.1 489.6,1251.8 490.3,1251.8 491,1251.7 491.7,1251.9 492.4,1251.2 493.1,1251.4 493.8,1251.3 494.5,1251.8 495.2,1251.2 495.9,1251.6 496.6,1251 497.3,1251.4 497.9,1251.3 498.6,1251.4 499.3,1251.5 500,1251.4 500.7,1251.4 501.4,1250.6 502.1,1251.9 502.8,1251.2 503.5,1251.4 504.2,1251.1 504.9,1251.9 505.6,1251.1 506.3,1251.7 507,1251.9 507.7,1252.1 508.4,1251.9 509.1,1251.7 509.8,1251 510.4,1252 511.1,1251.9 511.8,1251.8 512.5,1251.8 513.2,1251.5 513.9,1251.2 514.6,1251.9 515.3,1251.9 516,1251 516.7,1251.8 517.4,1251.5 518.1,1251.8 518.8,1251.5 519.5,1251.8 520.2,1251.8 520.9,1251.7 521.6,1250.8 522.2,1251.6 522.9,1251.2 523.6,1250.6 524.3,1251.1 525,1250 525.7,1250.6 526.4,1250.6 527.1,1249.4 527.8,1249.9 528.5,1249.8 529.2,1250.2 529.9,1249.7 530.6,1250.8 531.3,1250.9 532,1251.3 532.7,1251.2 533.4,1251.7 534.1,1251.4 534.7,1251.6 535.4,1251.9 536.1,1251.5 536.8,1251.8 537.5,1251.5 538.2,1251.6 538.9,1251.2 539.6,1251.7 540.3,1251.9 541,1251.4 541.7,1251.8 542.4,1251.6 543.1,1251 543.8,1251.6 544.5,1252 545.2,1251.3 545.9,1250.7 546.5,1251.5 547.2,1251.2 547.9,1252.2 548.6,1251.4 549.3,1251.5 550,1251.2 550.7,1251.6 551.4,1251.2 552.1,1251.1 552.8,1251.4 553.5,1251.1 554.2,1252 554.9,1251 555.6,1251.4 556.3,1251.2 557,1250.9 557.7,1252.1 558.4,1250.6 559,1252 559.7,1250.9 560.4,1251.5 561.1,1252.3 561.8,1250.6 562.5,1250.9 563.2,1252 563.9,1251.5 564.6,1251.2 565.3,1251.4 566,1251.1 566.7,1251.5 567.4,1252 568.1,1251.3 568.8,1251.5 569.5,1251.9 570.2,1252.2 570.8,1251.2 571.5,1251.6 572.2,1251.2 572.9,1251.2 573.6,1251.3 574.3,1251.2 575,1250.8 575.7,1250.7 576.4,1251.2 577.1,1251.5 577.8,1251.9 578.5,1251.2 579.2,1251.4 579.9,1251.7 580.6,1251.7 581.3,1251.4 582,1251.4 582.7,1252.2 583.3,1251.3 584,1251.2 584.7,1250.8 585.4,1251.6 586.1,1251.3 586.8,1252.2 587.5,1251.3 588.2,1251.7 588.9,1251.8 589.6,1252.1 590.3,1250.9 591,1252 591.7,1251.4 592.4,1251.4 593.1,1251.3 593.8,1251.3 594.5,1251.3 595.1,1250.5 595.8,1251.6 596.5,1251.4 597.2,1251 597.9,1251.4 598.6,1252.3 599.3,1251.5 600,1251.2 600.7,1252.1 601.4,1251.1 602.1,1251.3 602.8,1251.2 603.5,1251.3 604.2,1251.7 604.9,1251.6 605.6,1251.1 606.3,1251.3 606.9,1251.4 607.6,1251.2 608.3,1251.3 609,1251.1 609.7,1251.1 610.4,1251.4 611.1,1250.9 611.8,1251.5 612.5,1251.3 613.2,1251 613.9,1251.1 614.6,1251.1 615.3,1251.2 616,1251.3 616.7,1251.2 617.4,1250.9 618.1,1251.8 618.8,1251.6 619.4,1251.3 620.1,1251.6 620.8,1251.4 621.5,1251.1 622.2,1251.2 622.9,1252.2 623.6,1251.6 624.3,1251.6 625,1251 625.7,1251.4 626.4,1252 627.1,1251.3 627.8,1251.5 628.5,1251.5 629.2,1251.3 629.9,1251.6 630.6,1251.1 631.2,1251.1 631.9,1250.7 632.6,1251.9 633.3,1251 634,1250.8 634.7,1251.3 635.4,1250.5 636.1,1250.6 636.8,1250.2 637.5,1250.5 638.2,1250.2 638.9,1250.5 639.6,1250.1 640.3,1249.8 641,1249.8 641.7,1249.7 642.4,1249.3 643.1,1249.6 643.7,1249.1 644.4,1248.4 645.1,1247.2 645.8,1246.9 646.5,1244.9 647.2,1243.5 647.9,1240.8 648.6,1237.2 649.3,1232.8 650,1227.9 650.7,1223.7 651.4,1217.7 652.1,1214 652.8,1212.9 653.5,1213.8 654.2,1217.4 654.9,1221 655.5,1225.6 656.2,1231.4 656.9,1233.3 657.6,1235.3 658.3,1236.5 659,1236.9 659.7,1235.5 660.4,1235.1 661.1,1234.1 661.8,1233.8 662.5,1233.7 663.2,1234.3 663.9,1235.7 664.6,1237 665.3,1240.4 666,1241.4 666.7,1243.6 667.4,1245.9 668,1246.4 668.7,1247.8 669.4,1248.2 670.1,1249.1 670.8,1249.3 671.5,1249.4 672.2,1250.4 672.9,1249.9 673.6,1249.7 674.3,1250.2 675,1250.6 675.7,1250.1 676.4,1250.9 677.1,1250.9 677.8,1251.5 678.5,1250.5 679.2,1251.1 679.8,1250.2 680.5,1250.7 681.2,1251 681.9,1251.1 682.6,1251 683.3,1251 684,1250.8 684.7,1250.9 685.4,1251.2 686.1,1251.3 686.8,1251.4 687.5,1251.5 688.2,1251.6 688.9,1250.5 689.6,1251 690.3,1251.1 691,1251 691.7,1251.6 692.3,1251.5 693,1251.2 693.7,1251.3 694.4,1251.7 695.1,1251.1 695.8,1251.2 696.5,1251.6 697.2,1251.5 697.9,1251.8 698.6,1251.4 699.3,1251.6 700,1251.1 700.7,1251 701.4,1251.3 702.1,1250.3 702.8,1251.5 703.5,1251.7 704.1,1251.4 704.8,1251.3 705.5,1251.8 706.2,1251.3 706.9,1251.7 707.6,1252.2 708.3,1251.6 709,1251.7 709.7,1251.6 710.4,1251.5 711.1,1251.5 711.8,1251.4 712.5,1251.8 713.2,1250.8 713.9,1251.3 714.6,1251.6 715.3,1251.1 715.9,1251.4 716.6,1251.1 717.3,1251.6 718,1251.7 718.7,1252 719.4,1251.6 720.1,1251.1 720.8,1251.5 721.5,1251.6 722.2,1251.9 722.9,1250.6 723.6,1251.6 724.3,1250.7 725,1251.7 725.7,1251.6 726.4,1251.6 727.1,1251.8 727.8,1251.6 728.4,1251.2 729.1,1251.6 729.8,1251.9 730.5,1251.4 731.2,1251.4 731.9,1251 732.6,1251.9 733.3,1251.2 734,1251.1 734.7,1251.3 735.4,1251.1 736.1,1251.3 736.8,1251.9 737.5,1251.7 738.2,1252 738.9,1252 739.6,1251.1 740.2,1251.6 740.9,1252 741.6,1252.3 742.3,1250.9 743,1250.9 743.7,1251.6 744.4,1251.3 745.1,1251 745.8,1251.6 746.5,1251.1 747.2,1250.6 747.9,1251.4 748.6,1251.5 749.3,1251.7 750,1251.8 750.7,1251.5 751.4,1251.3 752.1,1251.2 752.7,1250.8 753.4,1251.3 754.1,1251.8 754.8,1251.7 755.5,1252.2 756.2,1251.4 756.9,1250.7 757.6,1251.7 758.3,1251.8 759,1251 759.7,1250.8 760.4,1251.5 761.1,1251.7 761.8,1251 762.5,1251.3 763.2,1251.1 763.9,1251 764.5,1250.9 765.2,1251.5 765.9,1251.3 766.6,1251.1 767.3,1250.4 768,1252.1 768.7,1251 769.4,1251.3 770.1,1250.9 770.8,1251.5 771.5,1250.8 772.2,1251.4 772.9,1251.3 773.6,1251.7 774.3,1250.9 775,1251.1 775.7,1251.3 776.4,1252.2 777,1250.8 777.7,1251.5 778.4,1251.1 779.1,1251.5 779.8,1251.6 780.5,1251.4 781.2,1251.4 781.9,1251.4 782.6,1251.1 783.3,1251.2 784,1250.7 784.7,1251.1 785.4,1251 786.1,1251.2 786.8,1251.5 787.5,1251.4 788.2,1251.4 788.8,1251.6 789.5,1250.3 790.2,1251.4 790.9,1251.2 791.6,1251.1 792.3,1250.6 793,1251.3 793.7,1251.5 794.4,1251.5 795.1,1251 795.8,1251.2 796.5,1251.3 797.2,1251.6 797.9,1251.3 798.6,1250.9 799.3,1250.8 800,1250.7 800.7,1250.7 801.3,1250.3 802,1250.6 802.7,1249.8 803.4,1249.5 804.1,1249.5 804.8,1248.5 805.5,1247.8 806.2,1246.1 806.9,1245.9 807.6,1244.1 808.3,1242.4 809,1241 809.7,1239.5 810.4,1238.4 811.1,1239.3 811.8,1239.1 812.5,1241 813.1,1242.8 813.8,1243.4 814.5,1245.1 815.2,1245.9 815.9,1247.5 816.6,1247.5 817.3,1247.6 818,1248.6 818.7,1248.2 819.4,1247.1 820.1,1247.1 820.8,1245.5 821.5,1244.9 822.2,1242.4 822.9,1238.9 823.6,1236.1 824.3,1232.8 824.9,1230.4 825.6,1228.3 826.3,1227.8 827,1228.3 827.7,1229.9 828.4,1233 829.1,1237 829.8,1239.9 830.5,1242 831.2,1244.2 831.9,1245.9 832.6,1247.3 833.3,1247.6 834,1249.2 834.7,1249.1 835.4,1249.8 836.1,1249 836.8,1250.2 837.4,1250.8 838.1,1249.6 838.8,1251.1 839.5,1250.8 840.2,1250.4 840.9,1250.1 841.6,1251.2 842.3,1250.9 843,1251.1 843.7,1250.8 844.4,1250.6 845.1,1251.3 845.8,1250.6 846.5,1251.4 847.2,1250.4 847.9,1250.7 848.6,1250.5 849.2,1251.6 849.9,1250.4 850.6,1250.7 851.3,1251.4 852,1251.2 852.7,1252 853.4,1251.8 854.1,1251.4 854.8,1251.4 855.5,1250.4 856.2,1250.8 856.9,1251 857.6,1251.1 858.3,1250.6 859,1250.7 859.7,1250.8 860.4,1251.5 861.1,1251.2 861.7,1250.9 862.4,1250.9 863.1,1251 863.8,1250.6 864.5,1250.7 865.2,1250 865.9,1250.7 866.6,1250.6 867.3,1250 868,1249.5 868.7,1248.8 869.4,1248.7 870.1,1247 870.8,1245.4 871.5,1244.5 872.2,1244.3 872.9,1244 873.5,1243.9 874.2,1244.4 874.9,1245 875.6,1245.4 876.3,1246.7 877,1247.2 877.7,1248.6 878.4,1248.9 879.1,1249.9 879.8,1250.2 880.5,1249.8 881.2,1251 881.9,1251.1 882.6,1250.4 883.3,1251.1 884,1251.3 884.7,1251 885.4,1251.5 886,1251.2 886.7,1251.6 887.4,1251.3 888.1,1251.2 888.8,1251.4 889.5,1251.6 890.2,1251.4 890.9,1251.1 891.6,1251 892.3,1251.2 893,1251.1 893.7,1251.4 894.4,1251.4 895.1,1251.3 895.8,1251.4 896.5,1251.4 897.2,1252 897.8,1251.8 898.5,1251.2 899.2,1251.5 899.9,1251.3 900.6,1251.4 901.3,1251.3 902,1251.2 902.7,1250.9 903.4,1250.5 904.1,1251.5 904.8,1251.9 905.5,1251.1 906.2,1251.6 906.9,1251.3 907.6,1251.5 908.3,1251.1 909,1251.3 909.6,1251.4 910.3,1250.5 911,1251.5 911.7,1251.4 912.4,1250.5 913.1,1251.7 913.8,1251.4 914.5,1251.5 915.2,1251.6 915.9,1251.3 916.6,1251 917.3,1251.3 918,1251.3 918.7,1252.3 919.4,1252.1 920.1,1251.2 920.8,1251.3 921.5,1251.6 922.1,1251.7 922.8,1251.2 923.5,1251.1 924.2,1252.2 924.9,1251.9 925.6,1250.8 926.3,1250.8 927,1251.1 927.7,1251.5 928.4,1251.7 929.1,1251.3 929.8,1250.8 930.5,1251.5 931.2,1251.7 931.9,1251.4 932.6,1251.3 933.3,1251.7 933.9,1251.4 934.6,1251 935.3,1251.5 936,1250.9 936.7,1251.8 937.4,1251.6 938.1,1251.1 938.8,1251.5 939.5,1251.9 940.2,1250.6 940.9,1251.4 941.6,1252.1 942.3,1250.8 943,1251.4 943.7,1250.9 944.4,1251.4 945.1,1250.5 945.8,1250.8 946.4,1251.2 947.1,1251.5 947.8,1251.6 948.5,1251.6 949.2,1251.9 949.9,1251.7 950.6,1251.7 951.3,1251.1 952,1251.4 952.7,1252.7 953.4,1252.3 954.1,1251.8 954.8,1251.7 955.5,1251.8 956.2,1251.3 956.9,1252.2 957.6,1251.3 958.2,1251.4 958.9,1252.3 959.6,1250.6 960.3,1251.6 961,1250.8 961.7,1251.2 962.4,1251.4 963.1,1251.3 963.8,1251.5 964.5,1251.2 965.2,1251.4 965.9,1251 966.6,1251.3 967.3,1250.9 968,1251.7 968.7,1251 969.4,1251.7 970.1,1251.3 970.7,1251.3 971.4,1251.9 972.1,1251.5 972.8,1250.7 973.5,1251.7 974.2,1250.3 974.9,1251.6 975.6,1251.3 976.3,1250.9 977,1251.5 977.7,1251.3 978.4,1252.3 979.1,1251.3 979.8,1252.2 980.5,1252 981.2,1251.2 981.9,1251.1 982.5,1252 983.2,1251.4 983.9,1251.5 984.6,1251.4 985.3,1251 986,1251.3 986.7,1251.1 987.4,1250.9 988.1,1251.3 988.8,1252.2 989.5,1252.1 990.2,1251.4 990.9,1251.5 991.6,1251.7 992.3,1252 993,1251.6 993.7,1251.3 994.4,1251.3 995,1251.9 995.7,1252.5 996.4,1251.2 997.1,1250.6 997.8,1251.8 998.5,1251.4 999.2,1251.5 999.9,1251.9 1000.6,1251.5 1001.3,1250.9 1002,1250.7 1002.7,1251.4 1003.4,1251 1004.1,1251.6 1004.8,1250.9 1005.5,1251.3 1006.2,1250.9 1006.8,1251.3 1007.5,1251.3 1008.2,1251.7 1008.9,1252 1009.6,1251.4 1010.3,1251.1 1011,1252.2 1011.7,1251.6 1012.4,1251.7 1013.1,1251.7 1013.8,1252 1014.5,1251.8 1015.2,1251.7 1015.9,1251.7 1016.6,1251.1 1017.3,1251.2 1018,1251.4 1018.6,1251.5 1019.3,1251.4 1020,1251.6 1020.7,1251.4 1021.4,1251.3 1022.1,1250.8 1022.8,1251.8 1023.5,1251.7 1024.2,1251.1 1024.9,1251.6 1025.6,1251.6 1026.3,1251.4 1027,1250.7 1027.7,1250.9 1028.4,1251.2 1029.1,1252 1029.8,1251.1 1030.5,1251.3 1031.1,1250.9 1031.8,1251.2 1032.5,1251.5 1033.2,1250.5 1033.9,1250.2 1034.6,1251.6 1035.3,1251.4 1036,1251.1 1036.7,1251.7 1037.4,1251.7 1038.1,1250.4 1038.8,1251.2 1039.5,1251.7 1040.2,1250.9 1040.9,1251 1041.6,1251.4 1042.3,1250.9 1042.9,1250.4 1043.6,1250.4 1044.3,1250 1045,1250.5 1045.7,1249.3 1046.4,1250.2 1047.1,1248.8 1047.8,1249.2 1048.5,1248.3 1049.2,1248.5 1049.9,1248.9 1050.6,1249 1051.3,1249.1 1052,1248.8 1052.7,1249.2 1053.4,1249.5 1054.1,1250 1054.8,1249.8 1055.4,1250.7 1056.1,1250.6 1056.8,1251.1 1057.5,1251 1058.2,1251.1 1058.9,1250.7 1059.6,1250.8 1060.3,1250.5 1061,1251 1061.7,1251 1062.4,1251.4 1063.1,1250.6 1063.8,1252.4 1064.5,1251 1065.2,1251.5 1065.9,1251.4 1066.6,1249.9 1067.2,1250.7 1067.9,1251.3 1068.6,1249.5 1069.3,1250.6 1070,1249.7 1070.7,1249.5 1071.4,1249.4 1072.1,1248.1 1072.8,1248.4 1073.5,1247.6 1074.2,1247 1074.9,1247.2 1075.6,1248 1076.3,1246.6 1077,1246.8 1077.7,1246.9 1078.4,1247 1079.1,1247.9 1079.7,1249 1080.4,1248.9 1081.1,1249.7 1081.8,1249.6 1082.5,1251.1 1083.2,1249.7 1083.9,1250.8 1084.6,1251 1085.3,1251 1086,1250.5 1086.7,1250.6 1087.4,1251 1088.1,1251.2 1088.8,1250.7 1089.5,1250.8 1090.2,1251.5 1090.9,1251.7 1091.5,1251.1 1092.2,1251 1092.9,1251 1093.6,1252.3 1094.3,1251.5 1095,1251.3 1095.7,1251.8 1096.4,1252.3 1097.1,1251.8 1097.8,1250.8 1098.5,1251.3 1099.2,1251.2 1099.9,1251.2 1100.6,1250.9 1101.3,1251.2 1102,1251 1102.7,1251.5 1103.4,1251.4 1104,1250.8 1104.7,1250.7 1105.4,1251.2 1106.1,1251.7 1106.8,1251.6 1107.5,1251.4 1108.2,1250.1 1108.9,1251.2 1109.6,1251.1 1110.3,1251.3 1111,1250.9 1111.7,1251.3 1112.4,1251.2 1113.1,1252.5 1113.8,1251.7 1114.5,1251.4 1115.2,1251.4 1115.8,1251.4 1116.5,1251.5 1117.2,1251.3 1117.9,1251.4 1118.6,1251.9 1119.3,1251.8 1120,1251.6 1120.7,1252 1121.4,1251.5 1122.1,1251.1 1122.8,1250.8 1123.5,1251.2 1124.2,1251.4 1124.9,1251.6 1125.6,1251.9 1126.3,1251.2 1127,1251.1 1127.6,1251.8 1128.3,1251.9 1129,1251.3 1129.7,1251.6 1130.4,1252 1131.1,1251.6 1131.8,1251.4 1132.5,1250.6 1133.2,1252 1133.9,1251.7 1134.6,1251.5 1135.3,1251.3 1136,1251 1136.7,1251.4 1137.4,1251.4 1138.1,1251.9 1138.8,1251 1139.5,1252 1140.1,1251.5 1140.8,1251.9 1141.5,1251.1 1142.2,1251.6 1142.9,1252 1143.6,1251.5 1144.3,1250.9 1145,1251.3 1145.7,1251.7 1146.4,1250.9 1147.1,1250.9 1147.8,1251.6 1148.5,1251.1 1149.2,1251.7 1149.9,1251 1150.6,1250.7 1151.3,1251.2 1151.9,1252.1 1152.6,1251.1 1153.3,1251.5 1154,1251.6 1154.7,1251.1 1155.4,1251.9 1156.1,1251.5 1156.8,1251.6 1157.5,1250.8 1158.2,1250.8 1158.9,1250.4 1159.6,1251.4 1160.3,1251.4 1161,1251.8 1161.7,1252.1 1162.4,1251.4 1163.1,1251.4 1163.8,1251.7 1164.4,1252.1 1165.1,1251.1 1165.8,1251.7 1166.5,1251.4 1167.2,1251.3 1167.9,1251.8 1168.6,1251.2 1169.3,1251 1170,1251.7" fill="none" stroke="#000" stroke-width="3.7" stroke-linejoin="round"/>
<path d="M128.6,1359.3 129.3,1361 130,1360.5 130.7,1362.1 131.4,1361.8 132.1,1361.2 132.8,1359.6 133.5,1360 134.2,1359 134.8,1364.1 135.5,1359.5 136.2,1360.7 136.9,1361.9 137.6,1357.8 138.3,1358.6 139,1359.3 139.7,1358.4 140.4,1357.9 141.1,1359.1 141.8,1361.8 142.5,1360.9 143.2,1359.9 143.9,1359.9 144.6,1357.3 145.3,1360.9 146,1360.5 146.7,1358.2 147.3,1360.1 148,1359.5 148.7,1359.1 149.4,1358.3 150.1,1358.8 150.8,1358.4 151.5,1360.5 152.2,1360.4 152.9,1360.3 153.6,1359.5 154.3,1359.2 155,1362.9 155.7,1357 156.4,1361.6 157.1,1360.3 157.8,1359.9 158.5,1359 159.1,1359.5 159.8,1358 160.5,1357.7 161.2,1359.6 161.9,1357.3 162.6,1361 163.3,1361.4 164,1354.6 164.7,1357.4 165.4,1360.1 166.1,1360 166.8,1359.9 167.5,1360.3 168.2,1360.8 168.9,1361 169.6,1362.4 170.3,1359.7 171,1361 171.6,1357.2 172.3,1359.4 173,1357.8 173.7,1361.7 174.4,1363.1 175.1,1360.4 175.8,1357.6 176.5,1359.4 177.2,1359.6 177.9,1359.8 178.6,1361.1 179.3,1360.9 180,1355.4 180.7,1361.4 181.4,1358.6 182.1,1358.5 182.8,1361.4 183.4,1358.8 184.1,1357.1 184.8,1357.1 185.5,1359.1 186.2,1360.3 186.9,1361.1 187.6,1358.4 188.3,1357.8 189,1360.8 189.7,1357.4 190.4,1359.9 191.1,1357.6 191.8,1357 192.5,1355.5 193.2,1355.3 193.9,1352.9 194.6,1351.2 195.2,1350.3 195.9,1347.6 196.6,1346.9 197.3,1344.6 198,1342.1 198.7,1340.7 199.4,1339.8 200.1,1342.6 200.8,1340.6 201.5,1341 202.2,1343 202.9,1346.1 203.6,1346.4 204.3,1347.9 205,1349 205.7,1350.7 206.4,1352.1 207.1,1353.1 207.7,1351 208.4,1352.8 209.1,1351.4 209.8,1357.3 210.5,1358.4 211.2,1359.3 211.9,1358 212.6,1359.8 213.3,1358.3 214,1358.4 214.7,1356.4 215.4,1357.7 216.1,1358 216.8,1360.4 217.5,1361.6 218.2,1358.4 218.9,1359.7 219.5,1359.6 220.2,1358.1 220.9,1356.7 221.6,1358.2 222.3,1357.2 223,1358.9 223.7,1359.2 224.4,1359.1 225.1,1359.1 225.8,1360.1 226.5,1358 227.2,1360.8 227.9,1356.9 228.6,1359.5 229.3,1360 230,1358.3 230.7,1357.1 231.4,1360.4 232,1358.4 232.7,1360.6 233.4,1360.6 234.1,1359.4 234.8,1359.4 235.5,1360.9 236.2,1360 236.9,1358 237.6,1359.7 238.3,1360.2 239,1359.7 239.7,1359.7 240.4,1359.2 241.1,1359.2 241.8,1357.9 242.5,1357.2 243.2,1361 243.8,1358.3 244.5,1359.6 245.2,1357 245.9,1359.4 246.6,1357.9 247.3,1363.6 248,1357.6 248.7,1357.6 249.4,1360.4 250.1,1360.7 250.8,1355.8 251.5,1359.2 252.2,1360.1 252.9,1356.9 253.6,1359.6 254.3,1357.7 255,1356.9 255.7,1357.8 256.3,1357.5 257,1355.9 257.7,1361.1 258.4,1356.9 259.1,1356.2 259.8,1358.3 260.5,1356.5 261.2,1358.2 261.9,1355.3 262.6,1355.5 263.3,1354.2 264,1353.1 264.7,1350.6 265.4,1347.7 266.1,1345.6 266.8,1334.7 267.5,1324.2 268.1,1310 268.8,1293.8 269.5,1274.9 270.2,1260.5 270.9,1251 271.6,1259.5 272.3,1274.1 273,1292.5 273.7,1310.7 274.4,1322 275.1,1336.1 275.8,1343.3 276.5,1345.7 277.2,1350.7 277.9,1355.1 278.6,1353.5 279.3,1355.8 280,1355.3 280.6,1354.9 281.3,1355.2 282,1356.3 282.7,1359.2 283.4,1358.7 284.1,1356.6 284.8,1359.3 285.5,1357.8 286.2,1357.1 286.9,1358.9 287.6,1357 288.3,1356.1 289,1360.5 289.7,1355.9 290.4,1359.5 291.1,1356.4 291.8,1358.7 292.4,1358.5 293.1,1358.1 293.8,1355.6 294.5,1358.7 295.2,1358.8 295.9,1357.5 296.6,1358.7 297.3,1360.3 298,1357.7 298.7,1359 299.4,1356.8 300.1,1359 300.8,1359.1 301.5,1361.6 302.2,1358.9 302.9,1357.8 303.6,1358.8 304.2,1354.9 304.9,1357.7 305.6,1355.2 306.3,1355.1 307,1357.9 307.7,1356.9 308.4,1358.9 309.1,1355.1 309.8,1358 310.5,1357 311.2,1357.5 311.9,1355.2 312.6,1359.4 313.3,1358.3 314,1356.5 314.7,1355.9 315.4,1356.4 316.1,1359.6 316.7,1357.2 317.4,1356.6 318.1,1357.5 318.8,1356.4 319.5,1356.2 320.2,1356.3 320.9,1354.6 321.6,1353.9 322.3,1348.6 323,1347.1 323.7,1341.6 324.4,1335.5 325.1,1326.7 325.8,1315.6 326.5,1305.1 327.2,1297.2 327.9,1289 328.5,1288 329.2,1296.7 329.9,1307 330.6,1316.1 331.3,1327 332,1334.2 332.7,1341.8 333.4,1348.6 334.1,1351.6 334.8,1352.9 335.5,1353.8 336.2,1352.8 336.9,1356.4 337.6,1357.1 338.3,1358.4 339,1360.2 339.7,1358 340.4,1359.1 341,1356.3 341.7,1359.8 342.4,1359.5 343.1,1360.3 343.8,1359.4 344.5,1359.2 345.2,1360.8 345.9,1357.7 346.6,1359.7 347.3,1360.4 348,1357.7 348.7,1357.2 349.4,1359.5 350.1,1359.1 350.8,1359.8 351.5,1359.9 352.2,1357.8 352.8,1359.5 353.5,1360.6 354.2,1358.5 354.9,1358.6 355.6,1357.3 356.3,1360.1 357,1361.8 357.7,1356.9 358.4,1360 359.1,1360.2 359.8,1358 360.5,1358.2 361.2,1357.1 361.9,1357.5 362.6,1358.8 363.3,1359.4 364,1358.4 364.7,1359.3 365.3,1358.2 366,1355.8 366.7,1359.3 367.4,1358.3 368.1,1354.8 368.8,1357.4 369.5,1354.1 370.2,1352 370.9,1352.6 371.6,1343.8 372.3,1342.5 373,1343.3 373.7,1339.5 374.4,1336.6 375.1,1339.2 375.8,1337.8 376.5,1336.1 377.1,1338.4 377.8,1342.1 378.5,1344.8 379.2,1340.4 379.9,1344.7 380.6,1344.7 381.3,1343.8 382,1347.4 382.7,1346.8 383.4,1349.8 384.1,1354.3 384.8,1353.9 385.5,1355.1 386.2,1355.4 386.9,1355.3 387.6,1356 388.3,1352.4 388.9,1352.6 389.6,1352.9 390.3,1348.7 391,1346.9 391.7,1346.8 392.4,1344.8 393.1,1339.5 393.8,1338 394.5,1340.1 395.2,1340.9 395.9,1341.8 396.6,1346.2 397.3,1348.8 398,1350.5 398.7,1356.7 399.4,1355.9 400.1,1356.3 400.8,1357.4 401.4,1360.7 402.1,1358.2 402.8,1355.6 403.5,1357 404.2,1356.5 404.9,1355.4 405.6,1356.4 406.3,1356.4 407,1356.2 407.7,1355.9 408.4,1358.2 409.1,1355.1 409.8,1359 410.5,1358.2 411.2,1358.9 411.9,1355.3 412.6,1361.4 413.2,1356.5 413.9,1357.9 414.6,1360.2 415.3,1358.4 416,1358.8 416.7,1356.1 417.4,1358.8 418.1,1359.8 418.8,1360.5 419.5,1359.1 420.2,1359.9 420.9,1360.2 421.6,1358.6 422.3,1358.5 423,1362.5 423.7,1358.4 424.4,1361.4 425.1,1359.7 425.7,1361.8 426.4,1358.7 427.1,1360.4 427.8,1360.1 428.5,1359.3 429.2,1360.1 429.9,1358.5 430.6,1359.5 431.3,1359.1 432,1360.8 432.7,1359.5 433.4,1357.6 434.1,1359.1 434.8,1359.5 435.5,1358.3 436.2,1361.6 436.9,1360.2 437.5,1360.8 438.2,1358.5 438.9,1359 439.6,1361 440.3,1357.4 441,1360 441.7,1359.5 442.4,1358.5 443.1,1359.3 443.8,1357.4 444.5,1359.1 445.2,1356.7 445.9,1356.3 446.6,1359.8 447.3,1356.3 448,1353.7 448.7,1357.8 449.4,1354.7 450,1350.3 450.7,1355.1 451.4,1356.4 452.1,1355.7 452.8,1358 453.5,1355.7 454.2,1357.2 454.9,1355.3 455.6,1357.6 456.3,1360 457,1358.9 457.7,1358.7 458.4,1355.8 459.1,1358.4 459.8,1357.2 460.5,1360.3 461.2,1358.2 461.8,1359.9 462.5,1357.9 463.2,1362.2 463.9,1357.7 464.6,1359.7 465.3,1363.4 466,1359.8 466.7,1358.2 467.4,1360.4 468.1,1360.9 468.8,1360.8 469.5,1356.6 470.2,1359.8 470.9,1356.3 471.6,1362.2 472.3,1359.5 473,1358.7 473.7,1360.3 474.3,1360 475,1357.5 475.7,1361.6 476.4,1358.7 477.1,1356.4 477.8,1361 478.5,1361 479.2,1360.4 479.9,1359.1 480.6,1356.7 481.3,1359 482,1359.8 482.7,1357.5 483.4,1357.8 484.1,1353.2 484.8,1354.6 485.5,1353 486.1,1347.8 486.8,1346 487.5,1345.7 488.2,1345.5 488.9,1345.1 489.6,1343.7 490.3,1344.2 491,1345 491.7,1346.5 492.4,1348.7 493.1,1349.9 493.8,1350.4 494.5,1351.9 495.2,1351.7 495.9,1354.1 496.6,1352.6 497.3,1356 497.9,1353.9 498.6,1354.7 499.3,1353.7 500,1355 500.7,1356.4 501.4,1356.9 502.1,1356.5 502.8,1356.2 503.5,1358.3 504.2,1358.8 504.9,1359.6 505.6,1360.8 506.3,1358.7 507,1356.3 507.7,1359.1 508.4,1356.6 509.1,1357.5 509.8,1361 510.4,1360.3 511.1,1358.6 511.8,1358.6 512.5,1359.5 513.2,1357 513.9,1360.4 514.6,1359.1 515.3,1362.4 516,1358.1 516.7,1361.2 517.4,1358.7 518.1,1361.3 518.8,1358.3 519.5,1360.8 520.2,1359.1 520.9,1358.5 521.6,1359.6 522.2,1360.5 522.9,1360.4 523.6,1362.2 524.3,1361 525,1355.9 525.7,1359.2 526.4,1356.8 527.1,1359.2 527.8,1360.8 528.5,1357.8 529.2,1358.1 529.9,1360 530.6,1359.4 531.3,1362.2 532,1360.3 532.7,1360.6 533.4,1362.4 534.1,1359.1 534.7,1359.8 535.4,1358.3 536.1,1360.2 536.8,1361.4 537.5,1361.9 538.2,1359.8 538.9,1358.8 539.6,1358.7 540.3,1357.7 541,1360 541.7,1361.8 542.4,1356.2 543.1,1356.5 543.8,1361.9 544.5,1357.4 545.2,1360.2 545.9,1357.9 546.5,1360.9 547.2,1360.9 547.9,1359.9 548.6,1360.9 549.3,1359.7 550,1360.4 550.7,1362.3 551.4,1361.2 552.1,1358.5 552.8,1358.1 553.5,1358.9 554.2,1358.7 554.9,1359 555.6,1357.7 556.3,1359.3 557,1358 557.7,1358 558.4,1356.9 559,1357.2 559.7,1353.9 560.4,1357.5 561.1,1355.1 561.8,1354.9 562.5,1355 563.2,1355.8 563.9,1355.6 564.6,1355.3 565.3,1355.2 566,1353.5 566.7,1356.7 567.4,1356.3 568.1,1356.5 568.8,1360.7 569.5,1354.2 570.2,1356.9 570.8,1358.4 571.5,1357.8 572.2,1358 572.9,1354.2 573.6,1354.8 574.3,1357.6 575,1356.6 575.7,1360.1 576.4,1358.4 577.1,1358.7 577.8,1359.4 578.5,1358.6 579.2,1359.4 579.9,1358.3 580.6,1359.4 581.3,1358.8 582,1360 582.7,1357.5 583.3,1357.4 584,1360.4 584.7,1360.1 585.4,1358.3 586.1,1359.4 586.8,1358.2 587.5,1362.8 588.2,1357.4 588.9,1362.4 589.6,1358.6 590.3,1360.4 591,1359.4 591.7,1359.2 592.4,1361.2 593.1,1361 593.8,1359.4 594.5,1358.5 595.1,1362.9 595.8,1361.9 596.5,1360 597.2,1359.4 597.9,1360.3 598.6,1359.9 599.3,1361.6 600,1358.4 600.7,1359.8 601.4,1358.6 602.1,1361.8 602.8,1362.5 603.5,1359.7 604.2,1360.6 604.9,1361.9 605.6,1359.3 606.3,1358.4 606.9,1361.3 607.6,1360.5 608.3,1359.4 609,1361.9 609.7,1360.1 610.4,1357 611.1,1360.2 611.8,1359.6 612.5,1362.5 613.2,1359.6 613.9,1359.3 614.6,1360.3 615.3,1360 616,1357.5 616.7,1359.7 617.4,1359 618.1,1361.6 618.8,1363 619.4,1357.7 620.1,1357.9 620.8,1358.1 621.5,1358.3 622.2,1358.2 622.9,1359.2 623.6,1360.7 624.3,1357 625,1356.6 625.7,1356 626.4,1360.3 627.1,1360.4 627.8,1355.9 628.5,1355.5 629.2,1357.7 629.9,1358.5 630.6,1357.7 631.2,1355.4 631.9,1354.9 632.6,1352.8 633.3,1349.6 634,1351.2 634.7,1346.2 635.4,1342.4 636.1,1341.6 636.8,1339 637.5,1341.2 638.2,1343.7 638.9,1341.6 639.6,1347.1 640.3,1350.5 641,1349.6 641.7,1348.8 642.4,1350.3 643.1,1351.7 643.7,1350.3 644.4,1349.9 645.1,1350.4 645.8,1348.9 646.5,1347.9 647.2,1342.4 647.9,1343.9 648.6,1339.3 649.3,1335.9 650,1330.9 650.7,1333 651.4,1329.8 652.1,1334.4 652.8,1335.7 653.5,1335.7 654.2,1339.3 654.9,1345.5 655.5,1346.3 656.2,1346.1 656.9,1347.5 657.6,1347.9 658.3,1346.5 659,1347.5 659.7,1347.2 660.4,1348.2 661.1,1350.7 661.8,1349.8 662.5,1353.7 663.2,1354 663.9,1356 664.6,1357 665.3,1358.1 666,1357.5 666.7,1357.7 667.4,1356.3 668,1357.1 668.7,1354.5 669.4,1355 670.1,1356 670.8,1354.3 671.5,1354.8 672.2,1352.6 672.9,1356.6 673.6,1354.3 674.3,1356.5 675,1356.5 675.7,1358.6 676.4,1357.1 677.1,1356.7 677.8,1355.6 678.5,1358.3 679.2,1357.2 679.8,1359.9 680.5,1361.4 681.2,1355.9 681.9,1357.4 682.6,1359.8 683.3,1361.3 684,1359.9 684.7,1360 685.4,1360.3 686.1,1360.4 686.8,1362 687.5,1360.5 688.2,1357.7 688.9,1358.9 689.6,1359.9 690.3,1358.4 691,1359.2 691.7,1358.8 692.3,1358.5 693,1360.7 693.7,1359 694.4,1358 695.1,1358.5 695.8,1359.7 696.5,1362.8 697.2,1360 697.9,1361.8 698.6,1360.3 699.3,1356.3 700,1360.1 700.7,1358.2 701.4,1357.5 702.1,1357.9 702.8,1362.2 703.5,1357.1 704.1,1358.5 704.8,1361.1 705.5,1360.3 706.2,1356.7 706.9,1359.1 707.6,1358.4 708.3,1358.8 709,1360.1 709.7,1358 710.4,1358.2 711.1,1360.7 711.8,1355.4 712.5,1357.2 713.2,1358 713.9,1354.7 714.6,1354.9 715.3,1352.9 715.9,1354 716.6,1351.6 717.3,1352.4 718,1351.4 718.7,1348.8 719.4,1347.2 720.1,1347.6 720.8,1347.3 721.5,1345.9 722.2,1350.2 722.9,1350.1 723.6,1352.3 724.3,1350.3 725,1354.9 725.7,1357.8 726.4,1356.5 727.1,1354.1 727.8,1357 728.4,1357.3 729.1,1358 729.8,1357.6 730.5,1358.9 731.2,1357.5 731.9,1358.6 732.6,1357.2 733.3,1358.3 734,1359.6 734.7,1357.2 735.4,1358.7 736.1,1356 736.8,1356.3 737.5,1355.8 738.2,1357.3 738.9,1353.2 739.6,1355 740.2,1349.6 740.9,1349.9 741.6,1349.9 742.3,1347.8 743,1343.7 743.7,1342.1 744.4,1344.6 745.1,1341.3 745.8,1344.7 746.5,1344.1 747.2,1346.2 747.9,1351.2 748.6,1351.4 749.3,1351.5 750,1349.1 750.7,1352.3 751.4,1352.3 752.1,1352.4 752.7,1354.8 753.4,1350.5 754.1,1354.1 754.8,1354.5 755.5,1353.9 756.2,1358.4 756.9,1354.6 757.6,1357.1 758.3,1357.7 759,1354.6 759.7,1356.1 760.4,1357 761.1,1359.8 761.8,1360.1 762.5,1359.6 763.2,1359.1 763.9,1355.4 764.5,1359 765.2,1357.8 765.9,1360.2 766.6,1360.3 767.3,1361.4 768,1358.8 768.7,1358.5 769.4,1355.2 770.1,1356.3 770.8,1353.6 771.5,1356.2 772.2,1352.4 772.9,1353.3 773.6,1352 774.3,1352.4 775,1353.9 775.7,1352.8 776.4,1354.5 777,1353.3 777.7,1357.6 778.4,1355.1 779.1,1358.2 779.8,1360.4 780.5,1353.8 781.2,1356.2 781.9,1357.6 782.6,1359.6 783.3,1357 784,1358 784.7,1355.9 785.4,1357.4 786.1,1354.2 786.8,1356.9 787.5,1350.7 788.2,1352.2 788.8,1358.1 789.5,1356 790.2,1354.9 790.9,1360.2 791.6,1359 792.3,1359.6 793,1357.6 793.7,1359.6 794.4,1359.6 795.1,1356.5 795.8,1360.1 796.5,1359 797.2,1361.3 797.9,1361.3 798.6,1358.4 799.3,1358.5 800,1359.7 800.7,1360.4 801.3,1358.8 802,1359.2 802.7,1360.3 803.4,1360 804.1,1361.1 804.8,1359.7 805.5,1357.9 806.2,1356.5 806.9,1360.4 807.6,1358.6 808.3,1358.5 809,1358.5 809.7,1356.4 810.4,1358.1 811.1,1354.5 811.8,1357.6 812.5,1356.5 813.1,1360.3 813.8,1357.6 814.5,1355.8 815.2,1355.5 815.9,1355.2 816.6,1351.7 817.3,1351 818,1349.3 818.7,1352.1 819.4,1347 820.1,1342.8 820.8,1346.4 821.5,1349.2 822.2,1344.3 822.9,1352.2 823.6,1348.2 824.3,1351.4 824.9,1350.5 825.6,1352.4 826.3,1352.2 827,1353.5 827.7,1352.8 828.4,1358.6 829.1,1355.6 829.8,1358.4 830.5,1358.7 831.2,1357.4 831.9,1358.7 832.6,1358.6 833.3,1358 834,1359 834.7,1359 835.4,1357.4 836.1,1356.9 836.8,1357.6 837.4,1359.1 838.1,1360.9 838.8,1361 839.5,1359 840.2,1359.8 840.9,1358.2 841.6,1359.3 842.3,1357.4 843,1357.3 843.7,1355.7 844.4,1355.6 845.1,1357.9 845.8,1352.7 846.5,1354.2 847.2,1353.2 847.9,1355.7 848.6,1357.4 849.2,1354.5 849.9,1351.3 850.6,1357.1 851.3,1357.7 852,1354.6 852.7,1357.3 853.4,1357.9 854.1,1354.8 854.8,1359.6 855.5,1359.4 856.2,1359.3 856.9,1357.3 857.6,1357.9 858.3,1358.1 859,1359.8 859.7,1357.5 860.4,1361.3 861.1,1359.5 861.7,1355.4 862.4,1361.3 863.1,1358.7 863.8,1357.3 864.5,1357.9 865.2,1354.4 865.9,1357 866.6,1352.2 867.3,1353.6 868,1356.4 868.7,1355.4 869.4,1352 870.1,1350.3 870.8,1352.7 871.5,1351 872.2,1351.6 872.9,1352.8 873.5,1350.9 874.2,1354.7 874.9,1351 875.6,1357.5 876.3,1353.6 877,1355.7 877.7,1356.3 878.4,1358.9 879.1,1359.3 879.8,1359 880.5,1359.5 881.2,1359.6 881.9,1358.9 882.6,1356.1 883.3,1355.5 884,1355.6 884.7,1359.1 885.4,1358.8 886,1358.9 886.7,1359.5 887.4,1358.7 888.1,1357.4 888.8,1356.5 889.5,1355.8 890.2,1360.5 890.9,1359.8 891.6,1356 892.3,1357.4 893,1358.3 893.7,1359.7 894.4,1356 895.1,1356.9 895.8,1358.2 896.5,1353.5 897.2,1354.9 897.8,1356 898.5,1355 899.2,1359.7 899.9,1358 900.6,1357.2 901.3,1355.7 902,1358.9 902.7,1358.8 903.4,1357.3 904.1,1357.7 904.8,1356.3 905.5,1358.6 906.2,1360.2 906.9,1360.5 907.6,1359.9 908.3,1360.4 909,1358.2 909.6,1358.3 910.3,1360.9 911,1359.7 911.7,1357.6 912.4,1359.5 913.1,1359.8 913.8,1359.4 914.5,1358.2 915.2,1356.9 915.9,1358 916.6,1359.6 917.3,1356.7 918,1354.9 918.7,1356 919.4,1353 920.1,1354.9 920.8,1353.8 921.5,1355.6 922.1,1354.2 922.8,1355.9 923.5,1358.2 924.2,1354.6 924.9,1354.2 925.6,1356.7 926.3,1356.4 927,1357.2 927.7,1356.5 928.4,1358.7 929.1,1358.3 929.8,1355.1 930.5,1358.3 931.2,1359.4 931.9,1360.9 932.6,1358.3 933.3,1358.1 933.9,1361.2 934.6,1358.5 935.3,1359.7 936,1360.3 936.7,1360.7 937.4,1359.6 938.1,1357.9 938.8,1361.2 939.5,1359 940.2,1358.9 940.9,1362.8 941.6,1361.1 942.3,1358.1 943,1359 943.7,1359.4 944.4,1358.6 945.1,1356.8 945.8,1361 946.4,1361 947.1,1360.2 947.8,1359.2 948.5,1360.1 949.2,1360.8 949.9,1358.2 950.6,1359.3 951.3,1358.9 952,1360.9 952.7,1360.2 953.4,1357.8 954.1,1358.9 954.8,1362.6 955.5,1358.3 956.2,1360.1 956.9,1358.8 957.6,1361.8 958.2,1359.7 958.9,1359.1 959.6,1358 960.3,1359.4 961,1361.1 961.7,1360.8 962.4,1357.7 963.1,1362.2 963.8,1359.4 964.5,1358.1 965.2,1359.9 965.9,1358.7 966.6,1358.8 967.3,1358.7 968,1359.5 968.7,1358.8 969.4,1356.8 970.1,1360.2 970.7,1358.5 971.4,1361 972.1,1359.8 972.8,1359.8 973.5,1358.9 974.2,1360.4 974.9,1357.6 975.6,1356.3 976.3,1358.1 977,1353.1 977.7,1356.6 978.4,1357.4 979.1,1356.4 979.8,1359 980.5,1358.3 981.2,1357.5 981.9,1357 982.5,1359.5 983.2,1357.1 983.9,1357.7 984.6,1359.7 985.3,1359.7 986,1362.1 986.7,1358.8 987.4,1356.3 988.1,1360.4 988.8,1361.4 989.5,1359.3 990.2,1362 990.9,1362.4 991.6,1358.6 992.3,1358.9 993,1357.8 993.7,1360.6 994.4,1360.9 995,1360.7 995.7,1357.8 996.4,1358.6 997.1,1357.6 997.8,1357.3 998.5,1357.7 999.2,1357.3 999.9,1359.5 1000.6,1360.4 1001.3,1360.7 1002,1359.7 1002.7,1358.7 1003.4,1359.7 1004.1,1360.6 1004.8,1359.3 1005.5,1359.8 1006.2,1359.2 1006.8,1358.8 1007.5,1359.7 1008.2,1357.8 1008.9,1361.1 1009.6,1357 1010.3,1360 1011,1357.1 1011.7,1361.4 1012.4,1360.2 1013.1,1357.4 1013.8,1357.8 1014.5,1356.5 1015.2,1357.9 1015.9,1358.3 1016.6,1361.4 1017.3,1355.1 1018,1359 1018.6,1356.1 1019.3,1357.4 1020,1358.5 1020.7,1358.1 1021.4,1358.1 1022.1,1357.4 1022.8,1358 1023.5,1358.5 1024.2,1360.3 1024.9,1356.4 1025.6,1358.1 1026.3,1357.1 1027,1357.7 1027.7,1358.1 1028.4,1361.1 1029.1,1362.8 1029.8,1361.7 1030.5,1357.8 1031.1,1359.8 1031.8,1358 1032.5,1360.4 1033.2,1361.7 1033.9,1360.7 1034.6,1361.1 1035.3,1359.6 1036,1356.8 1036.7,1356.8 1037.4,1359.7 1038.1,1360.7 1038.8,1361.8 1039.5,1359.3 1040.2,1360 1040.9,1360.3 1041.6,1361.5 1042.3,1359.8 1042.9,1358.2 1043.6,1361.5 1044.3,1360.5 1045,1360.5 1045.7,1357.9 1046.4,1359.9 1047.1,1357.2 1047.8,1356.8 1048.5,1359.5 1049.2,1359.2 1049.9,1360.8 1050.6,1362.1 1051.3,1359.8 1052,1362.6 1052.7,1359 1053.4,1361.1 1054.1,1357.9 1054.8,1360.1 1055.4,1359.4 1056.1,1359.6 1056.8,1360.8 1057.5,1357 1058.2,1360.1 1058.9,1358.6 1059.6,1360.1 1060.3,1360.5 1061,1359.3 1061.7,1359.3 1062.4,1358.1 1063.1,1360.7 1063.8,1358.8 1064.5,1360.5 1065.2,1357.7 1065.9,1362 1066.6,1358.3 1067.2,1361.6 1067.9,1359.1 1068.6,1360.7 1069.3,1359.6 1070,1360.9 1070.7,1359.8 1071.4,1361.7 1072.1,1360.8 1072.8,1360.8 1073.5,1362.3 1074.2,1358.6 1074.9,1361.7 1075.6,1359.8 1076.3,1357.3 1077,1360.3 1077.7,1359.2 1078.4,1362 1079.1,1358.5 1079.7,1359.2 1080.4,1359.3 1081.1,1355.9 1081.8,1359.3 1082.5,1356.8 1083.2,1360.1 1083.9,1360.2 1084.6,1357.3 1085.3,1354.5 1086,1356.9 1086.7,1356.6 1087.4,1357.2 1088.1,1355.6 1088.8,1354.2 1089.5,1355.9 1090.2,1354.9 1090.9,1359.4 1091.5,1355.9 1092.2,1356.3 1092.9,1357.6 1093.6,1356.1 1094.3,1357.6 1095,1358.4 1095.7,1358 1096.4,1358.6 1097.1,1361.1 1097.8,1360 1098.5,1357.3 1099.2,1358.8 1099.9,1360.7 1100.6,1358.6 1101.3,1359.8 1102,1359.7 1102.7,1360.5 1103.4,1359.5 1104,1359.6 1104.7,1358.5 1105.4,1360.4 1106.1,1358.4 1106.8,1362.5 1107.5,1359.8 1108.2,1359.5 1108.9,1361.1 1109.6,1359.7 1110.3,1360 1111,1359.8 1111.7,1358.8 1112.4,1358.5 1113.1,1358.8 1113.8,1361.6 1114.5,1358.9 1115.2,1359.3 1115.8,1359.2 1116.5,1361 1117.2,1363 1117.9,1358.5 1118.6,1360.8 1119.3,1360.1 1120,1359.5 1120.7,1360.7 1121.4,1358 1122.1,1361.2 1122.8,1360.3 1123.5,1358.4 1124.2,1362.4 1124.9,1361.2 1125.6,1361.7 1126.3,1357.7 1127,1359.5 1127.6,1359.1 1128.3,1360.9 1129,1362 1129.7,1357 1130.4,1360 1131.1,1359.8 1131.8,1361.5 1132.5,1359.9 1133.2,1358 1133.9,1359.7 1134.6,1358.4 1135.3,1358.8 1136,1360 1136.7,1359.2 1137.4,1360.4 1138.1,1357.6 1138.8,1363.5 1139.5,1361.9 1140.1,1361.1 1140.8,1358 1141.5,1356.7 1142.2,1358.6 1142.9,1359.6 1143.6,1363.4 1144.3,1362 1145,1359.2 1145.7,1361.8 1146.4,1361.8 1147.1,1360 1147.8,1361.8 1148.5,1360.5 1149.2,1359 1149.9,1358.2 1150.6,1359.8 1151.3,1361.5 1151.9,1357.9 1152.6,1357.5 1153.3,1360.8 1154,1355.8 1154.7,1362.8 1155.4,1359.3 1156.1,1361.1 1156.8,1362.8 1157.5,1357.7 1158.2,1358.4 1158.9,1363.4 1159.6,1359.5 1160.3,1359.8 1161,1360.3 1161.7,1361.6 1162.4,1362 1163.1,1360.1 1163.8,1359.5 1164.4,1359.9 1165.1,1360.4 1165.8,1362 1166.5,1360.2 1167.2,1362.8 1167.9,1358.7 1168.6,1360.8 1169.3,1362.7 1170,1362" fill="none" stroke="#7f10ff" stroke-width="4.0" stroke-linejoin="round"/>
<path d="M128.6,1469.7 129.3,1469.3 130,1468.4 130.7,1468.9 131.4,1469.8 132.1,1470 132.8,1468.4 133.5,1469.2 134.2,1468.2 134.8,1469 135.5,1472 136.2,1469.5 136.9,1469.2 137.6,1469 138.3,1468.6 139,1468.1 139.7,1469.4 140.4,1469.2 141.1,1470.5 141.8,1468.3 142.5,1469.7 143.2,1470.4 143.9,1468 144.6,1469.9 145.3,1468.3 146,1469.8 146.7,1470.5 147.3,1469.4 148,1469.6 148.7,1468.9 149.4,1469.6 150.1,1470.2 150.8,1469.3 151.5,1469.3 152.2,1469.7 152.9,1470 153.6,1468.3 154.3,1469.5 155,1468.9 155.7,1469.8 156.4,1470.2 157.1,1469.6 157.8,1470.4 158.5,1468.7 159.1,1469.1 159.8,1468.7 160.5,1469.5 161.2,1469.5 161.9,1469.3 162.6,1468.6 163.3,1469.4 164,1469.1 164.7,1469.9 165.4,1469.2 166.1,1470.3 166.8,1469.6 167.5,1468.1 168.2,1469.3 168.9,1468.4 169.6,1470.1 170.3,1470.4 171,1469.4 171.6,1469.7 172.3,1468.4 173,1467.8 173.7,1469 174.4,1469.2 175.1,1468.3 175.8,1469.5 176.5,1469.6 177.2,1469.9 177.9,1470.5 178.6,1470 179.3,1469.1 180,1469.5 180.7,1469.8 181.4,1468.7 182.1,1470.3 182.8,1470 183.4,1469.2 184.1,1468.9 184.8,1472.1 185.5,1470 186.2,1470.1 186.9,1470.7 187.6,1470.1 188.3,1469.5 189,1469.9 189.7,1468.7 190.4,1469.9 191.1,1468.3 191.8,1469.7 192.5,1469.8 193.2,1468.3 193.9,1470.8 194.6,1468.6 195.2,1470.1 195.9,1469 196.6,1469.6 197.3,1468.9 198,1471.2 198.7,1470.1 199.4,1470.7 200.1,1469.9 200.8,1469.9 201.5,1469.5 202.2,1469.2 202.9,1469.8 203.6,1469.5 204.3,1469.3 205,1468.4 205.7,1469.1 206.4,1469.8 207.1,1469 207.7,1469.6 208.4,1469.3 209.1,1468.6 209.8,1468.7 210.5,1468.8 211.2,1469.1 211.9,1469.2 212.6,1470.1 213.3,1468.6 214,1467.9 214.7,1469.8 215.4,1469 216.1,1469.2 216.8,1471.2 217.5,1470.4 218.2,1469.7 218.9,1470 219.5,1469.4 220.2,1470 220.9,1468.9 221.6,1468.8 222.3,1469 223,1470.4 223.7,1470.4 224.4,1468.9 225.1,1470.1 225.8,1469.2 226.5,1470.1 227.2,1469.1 227.9,1470 228.6,1469.2 229.3,1469.1 230,1469.3 230.7,1469.4 231.4,1468.8 232,1468.3 232.7,1470.5 233.4,1469 234.1,1467.9 234.8,1467.6 235.5,1467.2 236.2,1468.8 236.9,1470.2 237.6,1468 238.3,1469 239,1467.9 239.7,1470 240.4,1469.5 241.1,1469.4 241.8,1470.2 242.5,1470.4 243.2,1469.9 243.8,1468.7 244.5,1468.2 245.2,1468.4 245.9,1467.9 246.6,1470.4 247.3,1469 248,1469.2 248.7,1469.2 249.4,1470.5 250.1,1468.7 250.8,1469.9 251.5,1469.3 252.2,1468.9 252.9,1467.7 253.6,1469.7 254.3,1468.5 255,1468.7 255.7,1469.1 256.3,1469 257,1469.8 257.7,1468.5 258.4,1469 259.1,1469.1 259.8,1468.9 260.5,1469.4 261.2,1468.7 261.9,1469.7 262.6,1468.3 263.3,1467.7 264,1468.7 264.7,1469.6 265.4,1468.3 266.1,1468.2 266.8,1468.4 267.5,1468.7 268.1,1468.5 268.8,1468.8 269.5,1467.3 270.2,1469.6 270.9,1468.9 271.6,1467.8 272.3,1469.3 273,1468.6 273.7,1469.3 274.4,1467.3 275.1,1469.3 275.8,1468.1 276.5,1466.5 277.2,1468.5 277.9,1467.6 278.6,1467 279.3,1467.5 280,1466.2 280.6,1467.9 281.3,1467.2 282,1467.1 282.7,1468.1 283.4,1467 284.1,1466.3 284.8,1466 285.5,1466.4 286.2,1467 286.9,1465.6 287.6,1465 288.3,1466.1 289,1465.2 289.7,1464.8 290.4,1465.9 291.1,1463 291.8,1463.5 292.4,1461.5 293.1,1461.8 293.8,1461.6 294.5,1460.9 295.2,1457.8 295.9,1457.6 296.6,1455.4 297.3,1452 298,1450.3 298.7,1444.1 299.4,1437.9 300.1,1432.1 300.8,1422.5 301.5,1415.7 302.2,1405 302.9,1393.1 303.6,1383.2 304.2,1373.8 304.9,1368.3 305.6,1364.1 306.3,1365.9 307,1371.9 307.7,1382.5 308.4,1392.3 309.1,1404.2 309.8,1414.9 310.5,1423.5 311.2,1431.1 311.9,1439.4 312.6,1443.9 313.3,1448.7 314,1452.7 314.7,1453.9 315.4,1456.3 316.1,1460.5 316.7,1459.9 317.4,1460.3 318.1,1461.8 318.8,1462.3 319.5,1462.4 320.2,1463.6 320.9,1464.3 321.6,1464.7 322.3,1465.5 323,1464.2 323.7,1464.6 324.4,1466.5 325.1,1465.9 325.8,1467.3 326.5,1466.8 327.2,1465.7 327.9,1467.3 328.5,1466.3 329.2,1467.4 329.9,1468.2 330.6,1468.9 331.3,1467.5 332,1468.1 332.7,1467.9 333.4,1468.3 334.1,1466 334.8,1467.6 335.5,1468.2 336.2,1468.4 336.9,1467.5 337.6,1468.7 338.3,1469 339,1468.3 339.7,1468.1 340.4,1468 341,1468.4 341.7,1469.2 342.4,1469.5 343.1,1468.1 343.8,1467.8 344.5,1467.9 345.2,1469.2 345.9,1468.7 346.6,1468.8 347.3,1468.9 348,1468.9 348.7,1468.5 349.4,1467.9 350.1,1468.2 350.8,1468.7 351.5,1468.9 352.2,1468.4 352.8,1468.4 353.5,1469.7 354.2,1468.3 354.9,1468.8 355.6,1468.5 356.3,1468.1 357,1467.6 357.7,1468.3 358.4,1468.1 359.1,1469.3 359.8,1467.9 360.5,1468.4 361.2,1469.1 361.9,1468.6 362.6,1469 363.3,1469.2 364,1467.4 364.7,1468.3 365.3,1467.9 366,1469.5 366.7,1468.5 367.4,1468.9 368.1,1469.7 368.8,1468.2 369.5,1468.5 370.2,1468.7 370.9,1468.1 371.6,1469.2 372.3,1468.8 373,1468.9 373.7,1468.1 374.4,1467.8 375.1,1467.7 375.8,1467.5 376.5,1466.5 377.1,1467.8 377.8,1467.9 378.5,1467.1 379.2,1466.5 379.9,1466.6 380.6,1466.4 381.3,1466 382,1466.5 382.7,1464 383.4,1464.1 384.1,1463.5 384.8,1462.1 385.5,1460.8 386.2,1459 386.9,1458 387.6,1457.5 388.3,1456.5 388.9,1453.6 389.6,1453 390.3,1451.8 391,1451.1 391.7,1449.9 392.4,1449.8 393.1,1450.4 393.8,1449.6 394.5,1451.4 395.2,1451.4 395.9,1452.7 396.6,1455 397.3,1455.9 398,1458.8 398.7,1460.5 399.4,1460.8 400.1,1462 400.8,1462.9 401.4,1463.8 402.1,1464.8 402.8,1465.6 403.5,1465.5 404.2,1465.7 404.9,1466.3 405.6,1467.6 406.3,1467 407,1468.5 407.7,1467.5 408.4,1468.8 409.1,1467.1 409.8,1467.6 410.5,1468.5 411.2,1468.6 411.9,1468.2 412.6,1469.8 413.2,1468.5 413.9,1468.7 414.6,1468.2 415.3,1469.8 416,1469.3 416.7,1469 417.4,1467.6 418.1,1469 418.8,1468.5 419.5,1469.1 420.2,1469.5 420.9,1468.4 421.6,1469.1 422.3,1469.5 423,1469.1 423.7,1468.7 424.4,1468.2 425.1,1468.5 425.7,1468.1 426.4,1469.7 427.1,1469.1 427.8,1468.2 428.5,1469.1 429.2,1468.2 429.9,1466.8 430.6,1470 431.3,1470 432,1468.1 432.7,1468.6 433.4,1469.3 434.1,1468.9 434.8,1468.6 435.5,1468.8 436.2,1469 436.9,1468.8 437.5,1469.4 438.2,1469 438.9,1468.7 439.6,1469.2 440.3,1468.1 441,1470.2 441.7,1468 442.4,1469.2 443.1,1469.5 443.8,1469.5 444.5,1469.4 445.2,1470.2 445.9,1468.5 446.6,1469.2 447.3,1469.4 448,1468.9 448.7,1468.9 449.4,1470.2 450,1468.8 450.7,1469 451.4,1469.1 452.1,1469.2 452.8,1469.4 453.5,1469.2 454.2,1469.6 454.9,1469.4 455.6,1469.7 456.3,1470.3 457,1468.7 457.7,1470.5 458.4,1469 459.1,1469.8 459.8,1469.4 460.5,1469.1 461.2,1468 461.8,1470.5 462.5,1468.8 463.2,1468.8 463.9,1470.1 464.6,1469.4 465.3,1470.7 466,1470.5 466.7,1469.8 467.4,1469.5 468.1,1469.9 468.8,1468.4 469.5,1469.5 470.2,1469.5 470.9,1469 471.6,1469.5 472.3,1468.3 473,1470 473.7,1470.3 474.3,1468.5 475,1469.5 475.7,1470.4 476.4,1469.7 477.1,1468.6 477.8,1468.7 478.5,1470 479.2,1470.6 479.9,1468.6 480.6,1469.4 481.3,1468.8 482,1469.2 482.7,1469.6 483.4,1469.3 484.1,1468.9 484.8,1470.8 485.5,1469.3 486.1,1469.2 486.8,1470.1 487.5,1469.4 488.2,1469.2 488.9,1470 489.6,1468.7 490.3,1469.9 491,1470.1 491.7,1469.8 492.4,1469.3 493.1,1469.4 493.8,1468.2 494.5,1469.3 495.2,1469.6 495.9,1470 496.6,1469.5 497.3,1469.1 497.9,1468.8 498.6,1469.4 499.3,1469.5 500,1470.2 500.7,1469.4 501.4,1469 502.1,1469.3 502.8,1469 503.5,1469.2 504.2,1467.9 504.9,1468.3 505.6,1468.6 506.3,1469.7 507,1469.3 507.7,1469.5 508.4,1470.2 509.1,1468.7 509.8,1470.2 510.4,1469.7 511.1,1468.9 511.8,1470.4 512.5,1468.4 513.2,1468.6 513.9,1469.2 514.6,1469.7 515.3,1469.3 516,1467.9 516.7,1469.2 517.4,1469.3 518.1,1471.1 518.8,1470.3 519.5,1469.5 520.2,1468.6 520.9,1469.6 521.6,1468.6 522.2,1469.5 522.9,1469.6 523.6,1469.1 524.3,1469.6 525,1469.2 525.7,1469 526.4,1470.4 527.1,1469.8 527.8,1469.2 528.5,1468.8 529.2,1469.5 529.9,1469.8 530.6,1470 531.3,1470.4 532,1469.7 532.7,1468.6 533.4,1470.8 534.1,1470.2 534.7,1469.9 535.4,1470.3 536.1,1468.3 536.8,1469.1 537.5,1469 538.2,1470.2 538.9,1468.6 539.6,1469.1 540.3,1470.4 541,1469.8 541.7,1469.1 542.4,1470.7 543.1,1468.4 543.8,1469.7 544.5,1469.2 545.2,1469.7 545.9,1469.2 546.5,1468.8 547.2,1469.5 547.9,1468.4 548.6,1469.7 549.3,1469.1 550,1470 550.7,1469 551.4,1468.9 552.1,1469.6 552.8,1470.2 553.5,1467.9 554.2,1469.4 554.9,1469.8 555.6,1468.4 556.3,1468.7 557,1469.8 557.7,1468.8 558.4,1468.9 559,1470.5 559.7,1468.7 560.4,1468.7 561.1,1467.7 561.8,1468.6 562.5,1468.5 563.2,1470.5 563.9,1470.2 564.6,1468.4 565.3,1470.7 566,1469.8 566.7,1469.2 567.4,1469.9 568.1,1469.6 568.8,1468.8 569.5,1468.1 570.2,1468.7 570.8,1469.3 571.5,1469.1 572.2,1468.8 572.9,1470 573.6,1468.6 574.3,1469.9 575,1469 575.7,1469.4 576.4,1468.5 577.1,1469.3 577.8,1468.7 578.5,1468.1 579.2,1469.3 579.9,1469.2 580.6,1469.8 581.3,1469.5 582,1468.6 582.7,1468.8 583.3,1467.5 584,1468.5 584.7,1470.1 585.4,1470.3 586.1,1469.8 586.8,1469.4 587.5,1469.6 588.2,1469.5 588.9,1468 589.6,1468.6 590.3,1470 591,1470 591.7,1469.4 592.4,1469 593.1,1468.9 593.8,1468.8 594.5,1468.5 595.1,1467.8 595.8,1469.3 596.5,1468.8 597.2,1469 597.9,1470.3 598.6,1469.5 599.3,1468.6 600,1469.5 600.7,1468.1 601.4,1469.8 602.1,1469.3 602.8,1468.9 603.5,1469.4 604.2,1470 604.9,1468.7 605.6,1468.3 606.3,1470.5 606.9,1469 607.6,1470 608.3,1468.5 609,1469.2 609.7,1468.5 610.4,1469.4 611.1,1468.7 611.8,1468.4 612.5,1469.9 613.2,1469.1 613.9,1467.4 614.6,1468.7 615.3,1468.2 616,1467.9 616.7,1468.3 617.4,1468.4 618.1,1468.7 618.8,1468.1 619.4,1467.3 620.1,1468.2 620.8,1469.2 621.5,1467.6 622.2,1468.9 622.9,1468.8 623.6,1468.1 624.3,1468.6 625,1467.8 625.7,1468 626.4,1467.5 627.1,1468.5 627.8,1469.1 628.5,1467.6 629.2,1468.8 629.9,1466.4 630.6,1467.2 631.2,1467 631.9,1468.8 632.6,1467.1 633.3,1468 634,1465.9 634.7,1467.3 635.4,1467.4 636.1,1466.9 636.8,1464.8 637.5,1466.6 638.2,1466.9 638.9,1467 639.6,1466 640.3,1464.2 641,1464.9 641.7,1465.2 642.4,1463.4 643.1,1463.7 643.7,1462.2 644.4,1461.6 645.1,1460.9 645.8,1458.5 646.5,1459.4 647.2,1455.6 647.9,1453.5 648.6,1450.3 649.3,1448 650,1444.6 650.7,1440.4 651.4,1436.7 652.1,1434.1 652.8,1430.1 653.5,1424.7 654.2,1421.8 654.9,1420.5 655.5,1419 656.2,1418.9 656.9,1418.2 657.6,1421.2 658.3,1423.1 659,1426.2 659.7,1430 660.4,1434.6 661.1,1438.1 661.8,1442 662.5,1444.3 663.2,1447.7 663.9,1450 664.6,1452.9 665.3,1455.2 666,1457.1 666.7,1459.5 667.4,1460.7 668,1462.1 668.7,1462.6 669.4,1464.1 670.1,1464.1 670.8,1465.2 671.5,1465.4 672.2,1465.9 672.9,1465.7 673.6,1465.2 674.3,1465.3 675,1467.9 675.7,1467 676.4,1467.2 677.1,1466.9 677.8,1466.8 678.5,1469.3 679.2,1466.6 679.8,1467.5 680.5,1467.6 681.2,1466.9 681.9,1466.9 682.6,1467.4 683.3,1467.7 684,1467.7 684.7,1468.7 685.4,1467.3 686.1,1468.5 686.8,1469.3 687.5,1468.9 688.2,1467.6 688.9,1466.3 689.6,1469 690.3,1468.8 691,1468.1 691.7,1469.4 692.3,1468.3 693,1468.7 693.7,1467.9 694.4,1468.9 695.1,1468.4 695.8,1468.4 696.5,1469.5 697.2,1468.9 697.9,1467.7 698.6,1469.3 699.3,1469.4 700,1468.2 700.7,1468.6 701.4,1468.9 702.1,1468.7 702.8,1469 703.5,1469.4 704.1,1468.6 704.8,1470.4 705.5,1468.4 706.2,1468.6 706.9,1470.3 707.6,1470.6 708.3,1469 709,1468.9 709.7,1468.3 710.4,1469.8 711.1,1469.1 711.8,1468.4 712.5,1469.3 713.2,1470 713.9,1469.5 714.6,1470.6 715.3,1469.9 715.9,1469.4 716.6,1469.1 717.3,1469.5 718,1469.9 718.7,1469.7 719.4,1469.8 720.1,1469.3 720.8,1469.6 721.5,1470 722.2,1469 722.9,1468.2 723.6,1470.3 724.3,1469.5 725,1468.8 725.7,1469.3 726.4,1469 727.1,1467.9 727.8,1469 728.4,1468.1 729.1,1469.3 729.8,1469.1 730.5,1469.9 731.2,1469.1 731.9,1469.4 732.6,1468.9 733.3,1468.9 734,1468.2 734.7,1469.8 735.4,1469.3 736.1,1468.7 736.8,1469.3 737.5,1468.9 738.2,1468.7 738.9,1469.3 739.6,1470 740.2,1469 740.9,1468.2 741.6,1468.7 742.3,1470.4 743,1468.6 743.7,1470 744.4,1469 745.1,1469.7 745.8,1469.1 746.5,1468 747.2,1468.9 747.9,1470.6 748.6,1469.1 749.3,1469.5 750,1468.9 750.7,1469 751.4,1469.4 752.1,1469.5 752.7,1470.7 753.4,1469.1 754.1,1469 754.8,1468.7 755.5,1468.2 756.2,1468 756.9,1469.6 757.6,1467.8 758.3,1470.1 759,1469.7 759.7,1468.9 760.4,1468.3 761.1,1469.1 761.8,1469.1 762.5,1469.9 763.2,1468.6 763.9,1468.8 764.5,1469 765.2,1468.9 765.9,1468.6 766.6,1467.8 767.3,1467.9 768,1468.6 768.7,1468.9 769.4,1469.7 770.1,1470.6 770.8,1470.2 771.5,1469.3 772.2,1470.3 772.9,1468.9 773.6,1468.6 774.3,1470.6 775,1468.2 775.7,1468.6 776.4,1468.7 777,1469.9 777.7,1468.5 778.4,1469.4 779.1,1468.6 779.8,1468 780.5,1469 781.2,1468.9 781.9,1468 782.6,1468.1 783.3,1468.2 784,1469.4 784.7,1469 785.4,1468.8 786.1,1469 786.8,1468.3 787.5,1468.9 788.2,1468.1 788.8,1467.6 789.5,1468 790.2,1468.6 790.9,1468.5 791.6,1469.1 792.3,1467.1 793,1468.1 793.7,1468.5 794.4,1467.5 795.1,1468.3 795.8,1467.7 796.5,1467.2 797.2,1468.7 797.9,1466.8 798.6,1468.4 799.3,1467.3 800,1466.8 800.7,1466.8 801.3,1466.7 802,1466.5 802.7,1467.1 803.4,1465.4 804.1,1467.4 804.8,1466.9 805.5,1467 806.2,1465 806.9,1463.7 807.6,1464.4 808.3,1464.2 809,1464 809.7,1462.7 810.4,1462.3 811.1,1461.6 811.8,1459.4 812.5,1460.7 813.1,1457.5 813.8,1457.2 814.5,1456.3 815.2,1453.5 815.9,1452.5 816.6,1451.9 817.3,1448.9 818,1448.1 818.7,1445.8 819.4,1444.2 820.1,1443 820.8,1441.1 821.5,1440.2 822.2,1440.4 822.9,1439.7 823.6,1440.1 824.3,1439.5 824.9,1441.3 825.6,1443.4 826.3,1444.6 827,1445.8 827.7,1446.9 828.4,1448.6 829.1,1451.1 829.8,1453.4 830.5,1454.1 831.2,1456.5 831.9,1456.7 832.6,1459.1 833.3,1458.7 834,1460.6 834.7,1460.7 835.4,1462.7 836.1,1463.4 836.8,1463 837.4,1463.7 838.1,1464.4 838.8,1464.2 839.5,1464.9 840.2,1465.3 840.9,1466.7 841.6,1467.4 842.3,1466.3 843,1466.6 843.7,1467.1 844.4,1466.7 845.1,1467 845.8,1467.9 846.5,1467.6 847.2,1467.5 847.9,1467.2 848.6,1468.7 849.2,1467.3 849.9,1467.9 850.6,1467.1 851.3,1467.4 852,1468 852.7,1467.6 853.4,1468.3 854.1,1468 854.8,1467 855.5,1466.3 856.2,1468.6 856.9,1467.5 857.6,1468.9 858.3,1467.8 859,1467.2 859.7,1468.1 860.4,1467.4 861.1,1467.5 861.7,1466.7 862.4,1467.6 863.1,1467.7 863.8,1466.3 864.5,1467.7 865.2,1465.7 865.9,1466 866.6,1464.3 867.3,1463.7 868,1466.1 868.7,1465.3 869.4,1464.6 870.1,1462.3 870.8,1463.3 871.5,1463.1 872.2,1462.7 872.9,1462.7 873.5,1461.9 874.2,1462.5 874.9,1462.1 875.6,1462.9 876.3,1463.8 877,1463.4 877.7,1464.2 878.4,1464.5 879.1,1465.3 879.8,1466.3 880.5,1466.2 881.2,1466.7 881.9,1465.7 882.6,1466.8 883.3,1467.9 884,1466.9 884.7,1467.4 885.4,1467.2 886,1469 886.7,1467.9 887.4,1467.8 888.1,1468.8 888.8,1469.3 889.5,1468.9 890.2,1469.3 890.9,1468.8 891.6,1468.6 892.3,1468.5 893,1468.5 893.7,1468.4 894.4,1469.1 895.1,1468.8 895.8,1469 896.5,1469.4 897.2,1468.9 897.8,1468 898.5,1468.5 899.2,1468.2 899.9,1467.7 900.6,1469.1 901.3,1468.2 902,1468.2 902.7,1468.3 903.4,1469.7 904.1,1468.9 904.8,1469.8 905.5,1469.1 906.2,1468.8 906.9,1469.6 907.6,1469.6 908.3,1469.3 909,1468.5 909.6,1468.9 910.3,1468.4 911,1469 911.7,1469.3 912.4,1470.3 913.1,1470.2 913.8,1469.7 914.5,1469.9 915.2,1469.4 915.9,1471.2 916.6,1470.3 917.3,1471.1 918,1469.5 918.7,1469.6 919.4,1470 920.1,1469.4 920.8,1469.5 921.5,1468.6 922.1,1469.9 922.8,1469.4 923.5,1469.9 924.2,1469.1 924.9,1468.1 925.6,1469.7 926.3,1470.1 927,1468.4 927.7,1468.6 928.4,1469.1 929.1,1469.1 929.8,1468.1 930.5,1470.5 931.2,1470 931.9,1468.9 932.6,1468.1 933.3,1469.6 933.9,1470.7 934.6,1469.9 935.3,1470.1 936,1468.7 936.7,1469.5 937.4,1468.3 938.1,1470.7 938.8,1469.7 939.5,1467.9 940.2,1468.1 940.9,1469.7 941.6,1469.4 942.3,1469.1 943,1469.8 943.7,1470.8 944.4,1469.6 945.1,1468.1 945.8,1469.2 946.4,1468.4 947.1,1468.8 947.8,1469.6 948.5,1469.2 949.2,1468.6 949.9,1469.3 950.6,1468.8 951.3,1469.7 952,1469.2 952.7,1469.6 953.4,1469.2 954.1,1469.9 954.8,1469.3 955.5,1469.4 956.2,1469 956.9,1469.5 957.6,1468.1 958.2,1471.2 958.9,1468.9 959.6,1469.4 960.3,1469 961,1469 961.7,1469.7 962.4,1469 963.1,1469.1 963.8,1468.4 964.5,1468.7 965.2,1468.6 965.9,1470.6 966.6,1468.4 967.3,1468.6 968,1469.5 968.7,1470.4 969.4,1468.2 970.1,1468.3 970.7,1469.5 971.4,1469.6 972.1,1468.4 972.8,1468.1 973.5,1468.7 974.2,1469.9 974.9,1469.4 975.6,1469.9 976.3,1469.3 977,1469.4 977.7,1469.8 978.4,1469.3 979.1,1469.6 979.8,1468.7 980.5,1469 981.2,1469.7 981.9,1469.2 982.5,1468.9 983.2,1469.8 983.9,1469.8 984.6,1469.4 985.3,1468.9 986,1470 986.7,1471.1 987.4,1468.8 988.1,1468.3 988.8,1468.8 989.5,1468.7 990.2,1468.5 990.9,1468.6 991.6,1470 992.3,1470 993,1470.4 993.7,1469.9 994.4,1469.1 995,1470.1 995.7,1469 996.4,1469.1 997.1,1468.6 997.8,1470.2 998.5,1470.1 999.2,1469.1 999.9,1469.2 1000.6,1469.4 1001.3,1469.5 1002,1470 1002.7,1469.4 1003.4,1469.7 1004.1,1468.3 1004.8,1469.2 1005.5,1468.1 1006.2,1470.6 1006.8,1470.4 1007.5,1469.9 1008.2,1470.2 1008.9,1470.8 1009.6,1470 1010.3,1468.3 1011,1469.2 1011.7,1467.7 1012.4,1468.8 1013.1,1468.5 1013.8,1469.4 1014.5,1469.6 1015.2,1468.7 1015.9,1469.2 1016.6,1469.6 1017.3,1469.3 1018,1469.2 1018.6,1467.7 1019.3,1469 1020,1469.9 1020.7,1469.5 1021.4,1468.3 1022.1,1469.2 1022.8,1469.5 1023.5,1468.7 1024.2,1469.8 1024.9,1468.8 1025.6,1469.1 1026.3,1469.3 1027,1470.9 1027.7,1469.1 1028.4,1468.9 1029.1,1469.8 1029.8,1469 1030.5,1469.5 1031.1,1467.7 1031.8,1469.5 1032.5,1469.3 1033.2,1468.4 1033.9,1470.3 1034.6,1469.1 1035.3,1469.2 1036,1468.4 1036.7,1468.1 1037.4,1468.9 1038.1,1468.2 1038.8,1469.6 1039.5,1469.9 1040.2,1468.8 1040.9,1468.1 1041.6,1469 1042.3,1468.5 1042.9,1469.3 1043.6,1469.3 1044.3,1468.9 1045,1469.2 1045.7,1469.9 1046.4,1470.4 1047.1,1468.8 1047.8,1469.7 1048.5,1469 1049.2,1468.4 1049.9,1470 1050.6,1469.4 1051.3,1469.2 1052,1469.3 1052.7,1468.9 1053.4,1468.2 1054.1,1470.2 1054.8,1469.5 1055.4,1469 1056.1,1469.5 1056.8,1469.6 1057.5,1468.5 1058.2,1469 1058.9,1468.3 1059.6,1468.9 1060.3,1468.1 1061,1469.9 1061.7,1467.8 1062.4,1468.3 1063.1,1468.1 1063.8,1467.3 1064.5,1468 1065.2,1467.1 1065.9,1466.7 1066.6,1466.7 1067.2,1465.9 1067.9,1467.1 1068.6,1466.4 1069.3,1466.4 1070,1464.5 1070.7,1465.4 1071.4,1464.4 1072.1,1464.9 1072.8,1465.5 1073.5,1464.7 1074.2,1464.4 1074.9,1465.3 1075.6,1465.2 1076.3,1465.9 1077,1463.5 1077.7,1465.2 1078.4,1464.9 1079.1,1464.8 1079.7,1465.8 1080.4,1465.1 1081.1,1464.7 1081.8,1465.8 1082.5,1466.5 1083.2,1468.3 1083.9,1466.7 1084.6,1466.6 1085.3,1466.2 1086,1467.5 1086.7,1467.8 1087.4,1468.2 1088.1,1467.2 1088.8,1467.8 1089.5,1466.8 1090.2,1468.6 1090.9,1467.5 1091.5,1466.8 1092.2,1469.6 1092.9,1469.2 1093.6,1469.1 1094.3,1469.2 1095,1468.2 1095.7,1469.7 1096.4,1468.3 1097.1,1470.4 1097.8,1469.2 1098.5,1467.8 1099.2,1469.7 1099.9,1470.5 1100.6,1469 1101.3,1469.9 1102,1469 1102.7,1468.7 1103.4,1467.4 1104,1470.1 1104.7,1468.9 1105.4,1469.5 1106.1,1468.4 1106.8,1468.6 1107.5,1470 1108.2,1469 1108.9,1469 1109.6,1468.4 1110.3,1469.4 1111,1469.8 1111.7,1469 1112.4,1469.2 1113.1,1468.4 1113.8,1470.3 1114.5,1468.9 1115.2,1469.2 1115.8,1470.5 1116.5,1469.2 1117.2,1468.2 1117.9,1468.7 1118.6,1469.1 1119.3,1470.6 1120,1469.5 1120.7,1469.2 1121.4,1469.9 1122.1,1470.3 1122.8,1468.8 1123.5,1470.4 1124.2,1470 1124.9,1469.7 1125.6,1467.7 1126.3,1469.5 1127,1470.4 1127.6,1469.2 1128.3,1471 1129,1469.4 1129.7,1468.7 1130.4,1469.8 1131.1,1469.6 1131.8,1470 1132.5,1469.2 1133.2,1470.3 1133.9,1469 1134.6,1469.5 1135.3,1468.5 1136,1468.8 1136.7,1469.5 1137.4,1468.9 1138.1,1469.1 1138.8,1469.3 1139.5,1469.6 1140.1,1470 1140.8,1470 1141.5,1470.1 1142.2,1469.6 1142.9,1469 1143.6,1468.3 1144.3,1469.2 1145,1468.9 1145.7,1468.1 1146.4,1470.6 1147.1,1468.1 1147.8,1469.7 1148.5,1469.8 1149.2,1469.3 1149.9,1471.3 1150.6,1469.4 1151.3,1468.9 1151.9,1470.7 1152.6,1468.9 1153.3,1468.4 1154,1468.7 1154.7,1469 1155.4,1469.5 1156.1,1469.7 1156.8,1468.4 1157.5,1469.7 1158.2,1471 1158.9,1468.9 1159.6,1469.3 1160.3,1469.9 1161,1470.3 1161.7,1469 1162.4,1468.8 1163.1,1468.7 1163.8,1470.2 1164.4,1470.1 1165.1,1467.9 1165.8,1467.9 1166.5,1468.6 1167.2,1468.4 1167.9,1469.7 1168.6,1469.6 1169.3,1470.8 1170,1470" fill="none" stroke="#808008" stroke-width="4.0" stroke-linejoin="round"/>
<path d="M128.6,1517 129.3,1517.4 130,1516.1 130.7,1517.4 131.4,1517.4 132.1,1516.7 132.8,1517.1 133.5,1516.8 134.2,1517 134.8,1517.4 135.5,1516.6 136.2,1517.5 136.9,1517.4 137.6,1517.4 138.3,1516 139,1516 139.7,1517.3 140.4,1516.7 141.1,1516.6 141.8,1516.6 142.5,1516.3 143.2,1516.8 143.9,1516.6 144.6,1516.6 145.3,1517.2 146,1516.4 146.7,1517.5 147.3,1515.8 148,1518.2 148.7,1516.3 149.4,1517.3 150.1,1517.4 150.8,1517 151.5,1517.3 152.2,1516.9 152.9,1516.1 153.6,1517.1 154.3,1517.5 155,1516.7 155.7,1516.1 156.4,1516.7 157.1,1517.1 157.8,1517.1 158.5,1517.5 159.1,1517.2 159.8,1517.2 160.5,1515.9 161.2,1518.1 161.9,1517 162.6,1517.4 163.3,1516.8 164,1516.9 164.7,1517 165.4,1517.8 166.1,1517.7 166.8,1517.3 167.5,1518 168.2,1516.8 168.9,1517.2 169.6,1516.7 170.3,1517.6 171,1517 171.6,1517.5 172.3,1517.8 173,1515.9 173.7,1518.1 174.4,1517.1 175.1,1516.8 175.8,1516 176.5,1516.8 177.2,1515.8 177.9,1517 178.6,1516.9 179.3,1517.9 180,1516.8 180.7,1517.5 181.4,1517.6 182.1,1518 182.8,1516.8 183.4,1517.3 184.1,1516.2 184.8,1516.4 185.5,1516.8 186.2,1516.9 186.9,1516.3 187.6,1516.7 188.3,1517.3 189,1516.7 189.7,1516.9 190.4,1516.5 191.1,1517.7 191.8,1517.9 192.5,1517.1 193.2,1516.9 193.9,1517.8 194.6,1517.2 195.2,1516.6 195.9,1516.3 196.6,1516.7 197.3,1518.1 198,1516.6 198.7,1518.4 199.4,1517 200.1,1516.8 200.8,1517.6 201.5,1516.8 202.2,1517.1 202.9,1516.4 203.6,1516.3 204.3,1516.6 205,1517.1 205.7,1516.6 206.4,1515.9 207.1,1517.2 207.7,1516.9 208.4,1516.8 209.1,1516.6 209.8,1515.8 210.5,1517.8 211.2,1516.7 211.9,1517.2 212.6,1517.7 213.3,1517.5 214,1517 214.7,1516.9 215.4,1517.1 216.1,1517.4 216.8,1517.2 217.5,1516.7 218.2,1517.2 218.9,1517.1 219.5,1517.3 220.2,1517 220.9,1517.6 221.6,1517 222.3,1517.4 223,1516.9 223.7,1516.6 224.4,1516.4 225.1,1516.8 225.8,1517.2 226.5,1517.6 227.2,1516.9 227.9,1516.7 228.6,1516.7 229.3,1517.6 230,1517 230.7,1516.7 231.4,1517.3 232,1516.2 232.7,1517 233.4,1516.9 234.1,1516.8 234.8,1516.3 235.5,1517.4 236.2,1517.8 236.9,1516.2 237.6,1517 238.3,1517.2 239,1518 239.7,1516.7 240.4,1516.4 241.1,1516.9 241.8,1517.9 242.5,1516.9 243.2,1517 243.8,1517.8 244.5,1515.8 245.2,1515.8 245.9,1517.3 246.6,1517.3 247.3,1516.1 248,1517.1 248.7,1516.9 249.4,1517 250.1,1516.4 250.8,1516.6 251.5,1516.4 252.2,1516.9 252.9,1516.7 253.6,1517.7 254.3,1517.1 255,1516 255.7,1517 256.3,1517.5 257,1516.9 257.7,1517.3 258.4,1516.8 259.1,1517.1 259.8,1516.3 260.5,1517.2 261.2,1516 261.9,1517.4 262.6,1516 263.3,1515.6 264,1517 264.7,1516.6 265.4,1516.8 266.1,1516.9 266.8,1516.7 267.5,1516.2 268.1,1516.8 268.8,1516.8 269.5,1516.9 270.2,1517.6 270.9,1516.2 271.6,1516.6 272.3,1516.8 273,1516.3 273.7,1515.9 274.4,1516.2 275.1,1517 275.8,1516.3 276.5,1516.7 277.2,1516 277.9,1516.6 278.6,1516 279.3,1515.9 280,1516.3 280.6,1516.2 281.3,1516.9 282,1515.3 282.7,1516.3 283.4,1516.8 284.1,1516.6 284.8,1515.7 285.5,1515.4 286.2,1515.4 286.9,1515.7 287.6,1515.6 288.3,1515.5 289,1515.5 289.7,1514.5 290.4,1514.3 291.1,1514 291.8,1513.7 292.4,1514.1 293.1,1513.9 293.8,1514.7 294.5,1513.2 295.2,1512.3 295.9,1512.3 296.6,1510.3 297.3,1509.7 298,1508.5 298.7,1506.3 299.4,1503 300.1,1498 300.8,1490.5 301.5,1480.6 302.2,1465.9 302.9,1448.2 303.6,1427.6 304.2,1411.7 304.9,1406.7 305.6,1419 306.3,1437.3 307,1456.7 307.7,1473.3 308.4,1486 309.1,1495.6 309.8,1501.1 310.5,1503.9 311.2,1507.1 311.9,1508.8 312.6,1509.4 313.3,1510.7 314,1510.9 314.7,1512.2 315.4,1511.8 316.1,1513.2 316.7,1513.5 317.4,1513.8 318.1,1514.1 318.8,1515.3 319.5,1514.8 320.2,1515.2 320.9,1515.7 321.6,1515.9 322.3,1515.9 323,1515.3 323.7,1515.2 324.4,1515.4 325.1,1515.6 325.8,1516 326.5,1516 327.2,1516.6 327.9,1516.1 328.5,1517.1 329.2,1516.7 329.9,1516 330.6,1516.7 331.3,1514.9 332,1517.1 332.7,1516.6 333.4,1516.6 334.1,1515.6 334.8,1517.8 335.5,1516.4 336.2,1516.4 336.9,1517.1 337.6,1516.4 338.3,1516.1 339,1516.9 339.7,1516.1 340.4,1517 341,1516.7 341.7,1517.2 342.4,1516 343.1,1517.3 343.8,1516.8 344.5,1517.7 345.2,1516.3 345.9,1517.6 346.6,1517 347.3,1517.1 348,1516.3 348.7,1517 349.4,1517.1 350.1,1516.3 350.8,1516.1 351.5,1516.3 352.2,1517.5 352.8,1516.8 353.5,1517.2 354.2,1516.9 354.9,1516.8 355.6,1516.9 356.3,1516.5 357,1517.4 357.7,1516.8 358.4,1516.9 359.1,1516 359.8,1516.9 360.5,1516.4 361.2,1516.5 361.9,1517.3 362.6,1516.2 363.3,1516.6 364,1517 364.7,1517.3 365.3,1516.4 366,1516.8 366.7,1516.8 367.4,1516.1 368.1,1515.5 368.8,1515.6 369.5,1516.9 370.2,1516.6 370.9,1515.9 371.6,1516.2 372.3,1516.3 373,1516.2 373.7,1516.3 374.4,1517.4 375.1,1515.7 375.8,1516 376.5,1515.3 377.1,1514.9 377.8,1514.1 378.5,1513.5 379.2,1512 379.9,1510.9 380.6,1509.1 381.3,1507.1 382,1508 382.7,1506.9 383.4,1509 384.1,1511.5 384.8,1511.4 385.5,1513.6 386.2,1514.4 386.9,1514.1 387.6,1512.8 388.3,1513.8 388.9,1511.9 389.6,1509.8 390.3,1508.6 391,1505.3 391.7,1504.3 392.4,1502.7 393.1,1504.1 393.8,1505.2 394.5,1508 395.2,1510 395.9,1512 396.6,1513.8 397.3,1514.6 398,1515.4 398.7,1516.3 399.4,1515.9 400.1,1515.2 400.8,1516.1 401.4,1516.4 402.1,1516.9 402.8,1517 403.5,1517 404.2,1516.5 404.9,1516.9 405.6,1515.9 406.3,1517.3 407,1516.9 407.7,1517 408.4,1516.5 409.1,1516.8 409.8,1516.4 410.5,1517.1 411.2,1516.1 411.9,1517.3 412.6,1517.1 413.2,1517.9 413.9,1516.8 414.6,1516.8 415.3,1516.9 416,1516.9 416.7,1516.8 417.4,1516.3 418.1,1516.3 418.8,1516.6 419.5,1516.7 420.2,1516.3 420.9,1516.3 421.6,1516.7 422.3,1517.3 423,1516.8 423.7,1517.2 424.4,1517.4 425.1,1517.3 425.7,1516.7 426.4,1516.7 427.1,1516 427.8,1516.6 428.5,1517.2 429.2,1516.4 429.9,1517.6 430.6,1517.7 431.3,1516.7 432,1517.4 432.7,1516.2 433.4,1516.4 434.1,1516.7 434.8,1516.9 435.5,1516.8 436.2,1516.5 436.9,1517.9 437.5,1517.1 438.2,1517.1 438.9,1517.3 439.6,1517 440.3,1516.8 441,1516.7 441.7,1516.1 442.4,1517.7 443.1,1516.5 443.8,1516.1 444.5,1516.5 445.2,1516.1 445.9,1518 446.6,1517.1 447.3,1517.7 448,1517.7 448.7,1517.2 449.4,1517.2 450,1516.6 450.7,1516.9 451.4,1516.6 452.1,1517 452.8,1516.6 453.5,1517.6 454.2,1517.3 454.9,1516.9 455.6,1516.1 456.3,1517.3 457,1517.4 457.7,1516.9 458.4,1516.3 459.1,1517.2 459.8,1517.5 460.5,1516 461.2,1517.2 461.8,1516 462.5,1517 463.2,1517.9 463.9,1517 464.6,1517.2 465.3,1516.8 466,1517 466.7,1518.2 467.4,1517.6 468.1,1516.8 468.8,1516.8 469.5,1517 470.2,1518.1 470.9,1517.1 471.6,1517.5 472.3,1516.8 473,1516.3 473.7,1517.6 474.3,1516.9 475,1516.6 475.7,1516.6 476.4,1516.6 477.1,1516.7 477.8,1516.2 478.5,1517.6 479.2,1517.2 479.9,1517.5 480.6,1516.8 481.3,1517.1 482,1517.1 482.7,1517.6 483.4,1517.4 484.1,1517.1 484.8,1516.6 485.5,1516.4 486.1,1516.6 486.8,1516.6 487.5,1516.7 488.2,1516.3 488.9,1517.8 489.6,1517.1 490.3,1515.9 491,1516.4 491.7,1516.3 492.4,1517.1 493.1,1517.5 493.8,1516.5 494.5,1517.3 495.2,1516.8 495.9,1517.6 496.6,1517.7 497.3,1517.1 497.9,1517.3 498.6,1517 499.3,1516.8 500,1516.4 500.7,1517.1 501.4,1516.9 502.1,1516.8 502.8,1516.9 503.5,1516.9 504.2,1516.4 504.9,1516.7 505.6,1517.6 506.3,1516.9 507,1517.7 507.7,1516.4 508.4,1516.3 509.1,1517 509.8,1517.4 510.4,1516.6 511.1,1517.3 511.8,1517.4 512.5,1517.5 513.2,1516.9 513.9,1516.9 514.6,1516.1 515.3,1517 516,1517.1 516.7,1517.7 517.4,1516.3 518.1,1516.5 518.8,1516.5 519.5,1517.4 520.2,1515.7 520.9,1516.4 521.6,1518 522.2,1517.3 522.9,1516.3 523.6,1516.9 524.3,1517.4 525,1517.2 525.7,1516.9 526.4,1516.6 527.1,1517.4 527.8,1517 528.5,1517.4 529.2,1517.2 529.9,1516.7 530.6,1517.7 531.3,1516.7 532,1517.2 532.7,1516.6 533.4,1516.9 534.1,1516.8 534.7,1516.6 535.4,1517.1 536.1,1517.6 536.8,1517.9 537.5,1517.7 538.2,1516.9 538.9,1517.7 539.6,1517.2 540.3,1517.9 541,1516.3 541.7,1517.7 542.4,1516.7 543.1,1517.6 543.8,1516.7 544.5,1517.4 545.2,1516.8 545.9,1516 546.5,1516.5 547.2,1516.8 547.9,1517 548.6,1515.8 549.3,1516.4 550,1516.6 550.7,1516.9 551.4,1517.1 552.1,1516.6 552.8,1516.2 553.5,1517.1 554.2,1516.8 554.9,1517.4 555.6,1516.7 556.3,1517.3 557,1516.5 557.7,1517.1 558.4,1517 559,1517.2 559.7,1516.5 560.4,1516.9 561.1,1516.5 561.8,1516.9 562.5,1517.3 563.2,1518.5 563.9,1517 564.6,1517.3 565.3,1517 566,1517.5 566.7,1517.2 567.4,1517.5 568.1,1517.1 568.8,1518.2 569.5,1517.7 570.2,1516.1 570.8,1517.1 571.5,1517 572.2,1515.8 572.9,1516.5 573.6,1516.7 574.3,1516.6 575,1517 575.7,1516.1 576.4,1517.3 577.1,1517.3 577.8,1517.1 578.5,1516.8 579.2,1517 579.9,1516.7 580.6,1517.5 581.3,1517.2 582,1517.9 582.7,1516.8 583.3,1517.7 584,1516.7 584.7,1516.9 585.4,1516.4 586.1,1517.2 586.8,1516.9 587.5,1517.3 588.2,1517.7 588.9,1516.9 589.6,1517.1 590.3,1517.4 591,1516.9 591.7,1516.7 592.4,1517.1 593.1,1517.2 593.8,1517.3 594.5,1517.3 595.1,1516.6 595.8,1517.2 596.5,1517.5 597.2,1516.7 597.9,1517.1 598.6,1516.6 599.3,1517 600,1517.8 600.7,1517 601.4,1516.4 602.1,1517.1 602.8,1517 603.5,1517.5 604.2,1516.2 604.9,1516.4 605.6,1516.9 606.3,1516.1 606.9,1517.5 607.6,1515.9 608.3,1516.5 609,1516.1 609.7,1516.6 610.4,1517.3 611.1,1517.2 611.8,1517.3 612.5,1517.2 613.2,1515.8 613.9,1517 614.6,1515.9 615.3,1516.6 616,1516.6 616.7,1516.6 617.4,1517.1 618.1,1516.4 618.8,1517.7 619.4,1517.1 620.1,1517.4 620.8,1517.2 621.5,1517.2 622.2,1516.8 622.9,1517.8 623.6,1516.2 624.3,1517 625,1516.7 625.7,1516.6 626.4,1516.9 627.1,1516.3 627.8,1517.1 628.5,1517.1 629.2,1516.7 629.9,1517 630.6,1516.1 631.2,1515.7 631.9,1516.3 632.6,1516.4 633.3,1517.7 634,1516.4 634.7,1516.9 635.4,1516.8 636.1,1517.4 636.8,1516.3 637.5,1516.6 638.2,1516.1 638.9,1515.6 639.6,1515.5 640.3,1515.5 641,1516.5 641.7,1515.8 642.4,1515.4 643.1,1515.3 643.7,1514.7 644.4,1514.6 645.1,1514.2 645.8,1513.8 646.5,1513 647.2,1510.2 647.9,1508.9 648.6,1506.4 649.3,1501.2 650,1496.5 650.7,1491 651.4,1485.8 652.1,1481.1 652.8,1478.9 653.5,1480.8 654.2,1485.2 654.9,1490.2 655.5,1496.2 656.2,1499.9 656.9,1502.3 657.6,1504.3 658.3,1505.2 659,1504.7 659.7,1504.1 660.4,1502.8 661.1,1502.8 661.8,1502.7 662.5,1504.4 663.2,1505.3 663.9,1507.6 664.6,1510.2 665.3,1511.6 666,1513.2 666.7,1514 667.4,1514.2 668,1515.9 668.7,1515.9 669.4,1514.8 670.1,1515.5 670.8,1515.9 671.5,1516.4 672.2,1516.1 672.9,1515.5 673.6,1516.7 674.3,1516.2 675,1517 675.7,1516.6 676.4,1517 677.1,1516.9 677.8,1517 678.5,1516.3 679.2,1517.1 679.8,1516.7 680.5,1516 681.2,1516.5 681.9,1516.5 682.6,1516.9 683.3,1517 684,1516.2 684.7,1517.1 685.4,1516.7 686.1,1516.2 686.8,1517.2 687.5,1516.4 688.2,1516.2 688.9,1517.2 689.6,1517.3 690.3,1516.5 691,1517.3 691.7,1517.3 692.3,1516.6 693,1517.8 693.7,1516.8 694.4,1517 695.1,1515.7 695.8,1517.2 696.5,1516.6 697.2,1517.1 697.9,1516 698.6,1517.5 699.3,1517.6 700,1517.8 700.7,1515.4 701.4,1517.2 702.1,1517.1 702.8,1515.4 703.5,1516.5 704.1,1516.9 704.8,1517.6 705.5,1516.5 706.2,1517 706.9,1516.9 707.6,1517.1 708.3,1516.7 709,1517.4 709.7,1517.4 710.4,1516.2 711.1,1517.5 711.8,1516.6 712.5,1516.8 713.2,1517.5 713.9,1517 714.6,1517.2 715.3,1517.3 715.9,1517.2 716.6,1516.7 717.3,1516.5 718,1517.3 718.7,1517.3 719.4,1517.1 720.1,1516.8 720.8,1517.4 721.5,1516.9 722.2,1516.3 722.9,1517.1 723.6,1517.2 724.3,1517.3 725,1516.5 725.7,1516.6 726.4,1517.1 727.1,1516.7 727.8,1516.9 728.4,1517.4 729.1,1517.1 729.8,1517.9 730.5,1517.1 731.2,1517.8 731.9,1517.5 732.6,1518.2 733.3,1517 734,1516.9 734.7,1517.6 735.4,1516.7 736.1,1516.7 736.8,1517.1 737.5,1517.2 738.2,1516.3 738.9,1517.1 739.6,1516.8 740.2,1517 740.9,1517.1 741.6,1516.9 742.3,1517.5 743,1517.2 743.7,1516.9 744.4,1517 745.1,1517.5 745.8,1517.4 746.5,1517.6 747.2,1516.9 747.9,1517 748.6,1518 749.3,1517 750,1517.8 750.7,1517.4 751.4,1516.8 752.1,1516.3 752.7,1517.3 753.4,1516.6 754.1,1516.6 754.8,1516.1 755.5,1517.6 756.2,1517 756.9,1517 757.6,1517.2 758.3,1517.1 759,1517 759.7,1517.2 760.4,1516.8 761.1,1515.7 761.8,1517.3 762.5,1517.2 763.2,1517 763.9,1517.7 764.5,1516.3 765.2,1515.5 765.9,1517.7 766.6,1517.2 767.3,1516.1 768,1516.7 768.7,1517.2 769.4,1516.3 770.1,1517.2 770.8,1518 771.5,1517.6 772.2,1516.9 772.9,1517.1 773.6,1516.4 774.3,1517 775,1516.7 775.7,1516.4 776.4,1516.2 777,1517.9 777.7,1516.9 778.4,1516.4 779.1,1516.7 779.8,1517.6 780.5,1517.7 781.2,1516.6 781.9,1517 782.6,1517.3 783.3,1516.7 784,1516.3 784.7,1516.3 785.4,1516.8 786.1,1516.4 786.8,1516.2 787.5,1516.7 788.2,1517.2 788.8,1517.1 789.5,1516.6 790.2,1517.7 790.9,1516.3 791.6,1516.6 792.3,1516 793,1517 793.7,1516.6 794.4,1515.8 795.1,1516.1 795.8,1517.4 796.5,1516.8 797.2,1516.5 797.9,1516.8 798.6,1515.5 799.3,1515.8 800,1515.5 800.7,1515.6 801.3,1515.7 802,1516 802.7,1516 803.4,1515.6 804.1,1515.9 804.8,1513.7 805.5,1513 806.2,1512 806.9,1509.9 807.6,1508.4 808.3,1506.8 809,1504.3 809.7,1503.4 810.4,1502.8 811.1,1501.6 811.8,1501.9 812.5,1504.5 813.1,1505.8 813.8,1508.2 814.5,1509.5 815.2,1511.2 815.9,1512.7 816.6,1513.3 817.3,1513.1 818,1512.9 818.7,1512.1 819.4,1511.9 820.1,1511.8 820.8,1511.2 821.5,1509.3 822.2,1507.3 822.9,1504.4 823.6,1501.5 824.3,1498.6 824.9,1497 825.6,1493.8 826.3,1494.4 827,1494.4 827.7,1497.1 828.4,1499.7 829.1,1503 829.8,1506 830.5,1507.6 831.2,1509.6 831.9,1511.5 832.6,1512.6 833.3,1514.2 834,1514.4 834.7,1514.9 835.4,1515.5 836.1,1515.3 836.8,1516.2 837.4,1514.9 838.1,1516.1 838.8,1516.3 839.5,1515.7 840.2,1515.8 840.9,1516.7 841.6,1516.1 842.3,1515.4 843,1515.7 843.7,1516.9 844.4,1516 845.1,1517.1 845.8,1517.2 846.5,1516.4 847.2,1516.8 847.9,1516.2 848.6,1516.4 849.2,1516.3 849.9,1516.9 850.6,1516 851.3,1516.6 852,1516.7 852.7,1516.9 853.4,1515.6 854.1,1515.8 854.8,1516.2 855.5,1516.5 856.2,1516.7 856.9,1516.8 857.6,1517.7 858.3,1517 859,1516.9 859.7,1516.4 860.4,1517 861.1,1516.9 861.7,1516.9 862.4,1516.5 863.1,1516.8 863.8,1517.2 864.5,1515.9 865.2,1515.2 865.9,1516.5 866.6,1516.2 867.3,1515.4 868,1514.9 868.7,1515.9 869.4,1513.6 870.1,1512.4 870.8,1511.9 871.5,1511.5 872.2,1510.2 872.9,1509.9 873.5,1510.2 874.2,1510.3 874.9,1511.3 875.6,1512.1 876.3,1512.5 877,1513.9 877.7,1514 878.4,1515.6 879.1,1515.1 879.8,1515.8 880.5,1515.2 881.2,1516.1 881.9,1515.8 882.6,1517.2 883.3,1516.5 884,1516.9 884.7,1515.8 885.4,1516.1 886,1516.6 886.7,1516 887.4,1517.3 888.1,1516.6 888.8,1516.8 889.5,1516.9 890.2,1516.7 890.9,1517.2 891.6,1516.5 892.3,1517 893,1517.4 893.7,1516.9 894.4,1516.9 895.1,1516.7 895.8,1516.9 896.5,1517.2 897.2,1516.8 897.8,1516 898.5,1517 899.2,1516.8 899.9,1517.1 900.6,1516.9 901.3,1517.7 902,1516.3 902.7,1516.4 903.4,1517.2 904.1,1516.4 904.8,1517.1 905.5,1516.9 906.2,1515.9 906.9,1517.2 907.6,1517.6 908.3,1517 909,1516.2 909.6,1517.3 910.3,1516.4 911,1516.9 911.7,1517.1 912.4,1516.5 913.1,1516.1 913.8,1516.9 914.5,1516.9 915.2,1516.5 915.9,1516.5 916.6,1517.3 917.3,1516.9 918,1516.7 918.7,1516.6 919.4,1517 920.1,1517 920.8,1516.9 921.5,1516.3 922.1,1516.8 922.8,1516.6 923.5,1517 924.2,1517.5 924.9,1517.4 925.6,1517.3 926.3,1517 927,1516.8 927.7,1517.1 928.4,1516.7 929.1,1516.8 929.8,1516.5 930.5,1516.9 931.2,1516.9 931.9,1517.8 932.6,1517.2 933.3,1516.8 933.9,1517.3 934.6,1516.7 935.3,1517.4 936,1517.3 936.7,1518.4 937.4,1516.4 938.1,1516.9 938.8,1516.9 939.5,1517.1 940.2,1517.3 940.9,1516.5 941.6,1516.6 942.3,1517.1 943,1517.4 943.7,1516.4 944.4,1516.2 945.1,1517.5 945.8,1517.4 946.4,1517.5 947.1,1516.5 947.8,1516.9 948.5,1517.1 949.2,1517.2 949.9,1516.9 950.6,1516.9 951.3,1517.4 952,1516.7 952.7,1516.7 953.4,1516.7 954.1,1516.7 954.8,1517 955.5,1516.9 956.2,1516.7 956.9,1517.6 957.6,1517.1 958.2,1516.8 958.9,1517.6 959.6,1516.7 960.3,1517 961,1516.9 961.7,1516.7 962.4,1516.8 963.1,1517 963.8,1516.3 964.5,1516.8 965.2,1517.1 965.9,1517.1 966.6,1517.1 967.3,1518.1 968,1517.3 968.7,1516.9 969.4,1516.9 970.1,1517 970.7,1517.2 971.4,1516.8 972.1,1517.7 972.8,1516.4 973.5,1517.3 974.2,1517.2 974.9,1516.4 975.6,1517.3 976.3,1517.2 977,1516.7 977.7,1518.1 978.4,1517.3 979.1,1516.8 979.8,1516.7 980.5,1516.6 981.2,1517.1 981.9,1517 982.5,1516.3 983.2,1516.5 983.9,1516.6 984.6,1516.8 985.3,1516.8 986,1516.6 986.7,1517.3 987.4,1517.4 988.1,1517 988.8,1515.9 989.5,1516.9 990.2,1517.2 990.9,1516.9 991.6,1517.1 992.3,1517 993,1516.3 993.7,1515.8 994.4,1517.3 995,1516.7 995.7,1517.2 996.4,1516.8 997.1,1516.9 997.8,1517.6 998.5,1516.4 999.2,1517 999.9,1516.4 1000.6,1517 1001.3,1517.2 1002,1517.3 1002.7,1517 1003.4,1516.3 1004.1,1517.1 1004.8,1517.4 1005.5,1517.4 1006.2,1518 1006.8,1517.2 1007.5,1516.5 1008.2,1516.7 1008.9,1517 1009.6,1517.5 1010.3,1516.4 1011,1517.4 1011.7,1517.3 1012.4,1516.5 1013.1,1517.3 1013.8,1516.6 1014.5,1517 1015.2,1516.8 1015.9,1517.1 1016.6,1516.4 1017.3,1517.2 1018,1515.9 1018.6,1516.8 1019.3,1516.7 1020,1517.7 1020.7,1517.2 1021.4,1516.7 1022.1,1516.5 1022.8,1517 1023.5,1516.7 1024.2,1518 1024.9,1515.6 1025.6,1517 1026.3,1515.8 1027,1517.5 1027.7,1516.6 1028.4,1517.7 1029.1,1516.7 1029.8,1517.5 1030.5,1517.1 1031.1,1517.5 1031.8,1517 1032.5,1515.5 1033.2,1516.6 1033.9,1516.2 1034.6,1517.4 1035.3,1517.2 1036,1517 1036.7,1517.2 1037.4,1517 1038.1,1516.7 1038.8,1517.9 1039.5,1517.1 1040.2,1516.9 1040.9,1516.3 1041.6,1516.7 1042.3,1517 1042.9,1516.9 1043.6,1516.7 1044.3,1516.9 1045,1516.4 1045.7,1516.9 1046.4,1516.2 1047.1,1516.5 1047.8,1516.6 1048.5,1517.3 1049.2,1517.2 1049.9,1517 1050.6,1516.4 1051.3,1516.7 1052,1517.3 1052.7,1517.5 1053.4,1516.2 1054.1,1516.7 1054.8,1517 1055.4,1517.1 1056.1,1516.9 1056.8,1517.2 1057.5,1516.2 1058.2,1517.6 1058.9,1516.3 1059.6,1516.9 1060.3,1517.1 1061,1517.4 1061.7,1517.2 1062.4,1517.2 1063.1,1517.4 1063.8,1516.7 1064.5,1517.1 1065.2,1517.4 1065.9,1516.2 1066.6,1515.8 1067.2,1515.9 1067.9,1516.9 1068.6,1516.6 1069.3,1515.6 1070,1515.7 1070.7,1515.5 1071.4,1515.4 1072.1,1513.7 1072.8,1514.1 1073.5,1514 1074.2,1514.2 1074.9,1514 1075.6,1514 1076.3,1514.5 1077,1513.4 1077.7,1516.4 1078.4,1515.7 1079.1,1516 1079.7,1515.5 1080.4,1516.2 1081.1,1517.2 1081.8,1517.2 1082.5,1516.5 1083.2,1516 1083.9,1516.7 1084.6,1516.6 1085.3,1517.2 1086,1516.2 1086.7,1516.7 1087.4,1517 1088.1,1516.6 1088.8,1517.4 1089.5,1516.3 1090.2,1516.3 1090.9,1516.7 1091.5,1517.3 1092.2,1516.8 1092.9,1516.6 1093.6,1517.3 1094.3,1517 1095,1516.7 1095.7,1517 1096.4,1516.8 1097.1,1517.2 1097.8,1517 1098.5,1516.6 1099.2,1516.7 1099.9,1516.7 1100.6,1517.1 1101.3,1517.1 1102,1516.6 1102.7,1516.9 1103.4,1517.1 1104,1517.5 1104.7,1517.1 1105.4,1517.9 1106.1,1517 1106.8,1517.3 1107.5,1516.8 1108.2,1516.5 1108.9,1517 1109.6,1517.2 1110.3,1517.1 1111,1517 1111.7,1516.8 1112.4,1516.6 1113.1,1516.8 1113.8,1517.2 1114.5,1517.4 1115.2,1515.4 1115.8,1517.3 1116.5,1517.5 1117.2,1517.6 1117.9,1517.2 1118.6,1517.3 1119.3,1516.8 1120,1516.9 1120.7,1517.2 1121.4,1516.4 1122.1,1516.6 1122.8,1517.1 1123.5,1516.3 1124.2,1517 1124.9,1516.3 1125.6,1517.1 1126.3,1517 1127,1516.7 1127.6,1516.5 1128.3,1516.7 1129,1515.9 1129.7,1516.8 1130.4,1517 1131.1,1517.6 1131.8,1516.7 1132.5,1516.9 1133.2,1517.6 1133.9,1517.8 1134.6,1516.7 1135.3,1517.5 1136,1517.5 1136.7,1517.2 1137.4,1516.5 1138.1,1516.5 1138.8,1517.3 1139.5,1518.1 1140.1,1516.9 1140.8,1517.7 1141.5,1517.9 1142.2,1516.4 1142.9,1516.7 1143.6,1517.7 1144.3,1517.4 1145,1517.2 1145.7,1517 1146.4,1517.3 1147.1,1516.7 1147.8,1518.2 1148.5,1516.4 1149.2,1516.1 1149.9,1517.1 1150.6,1517.7 1151.3,1516.7 1151.9,1517 1152.6,1516.5 1153.3,1516.9 1154,1516.5 1154.7,1516.5 1155.4,1516.3 1156.1,1516.7 1156.8,1517.9 1157.5,1517 1158.2,1517.1 1158.9,1518.1 1159.6,1516.7 1160.3,1516.5 1161,1517.2 1161.7,1516.4 1162.4,1517.1 1163.1,1517.5 1163.8,1516.5 1164.4,1516.7 1165.1,1517.8 1165.8,1516.5 1166.5,1516.7 1167.2,1517.1 1167.9,1516.8 1168.6,1516.6 1169.3,1517.8 1170,1516.7" fill="none" stroke="#ff1010" stroke-width="3.8" stroke-linejoin="round"/>
<path d="M128.6,1630.6 129.3,1629.6 130,1630.8 130.7,1629.1 131.4,1629.6 132.1,1630.3 132.8,1630 133.5,1629.5 134.2,1629.8 134.8,1629.1 135.5,1630 136.2,1628.1 136.9,1630 137.6,1630.8 138.3,1630.5 139,1630.5 139.7,1629.6 140.4,1630.3 141.1,1629.7 141.8,1629.9 142.5,1629.9 143.2,1627.7 143.9,1630.5 144.6,1630.2 145.3,1630.5 146,1629.3 146.7,1630.4 147.3,1630.2 148,1628.4 148.7,1628.7 149.4,1630 150.1,1629.5 150.8,1629.9 151.5,1629.5 152.2,1630.9 152.9,1628.6 153.6,1629 154.3,1629.3 155,1629 155.7,1629.5 156.4,1629.9 157.1,1629 157.8,1630.2 158.5,1630.8 159.1,1630.6 159.8,1631.3 160.5,1630.7 161.2,1629.9 161.9,1631.1 162.6,1630.4 163.3,1631.2 164,1629.8 164.7,1628.5 165.4,1629.1 166.1,1630 166.8,1630.3 167.5,1629.8 168.2,1630.6 168.9,1629.1 169.6,1629.4 170.3,1630.6 171,1629.9 171.6,1630 172.3,1630.9 173,1630.6 173.7,1629.4 174.4,1630 175.1,1628.8 175.8,1629.9 176.5,1630.2 177.2,1628.7 177.9,1631 178.6,1631.2 179.3,1630.2 180,1630.5 180.7,1630.9 181.4,1629.8 182.1,1630.6 182.8,1630.2 183.4,1628.9 184.1,1629.3 184.8,1629.5 185.5,1630.6 186.2,1630 186.9,1630.6 187.6,1629.6 188.3,1629 189,1631.3 189.7,1631.7 190.4,1630.1 191.1,1629.7 191.8,1630.7 192.5,1629.1 193.2,1629.7 193.9,1628.9 194.6,1630.2 195.2,1630 195.9,1629.6 196.6,1629.4 197.3,1628.8 198,1629.3 198.7,1630.7 199.4,1629.6 200.1,1630.7 200.8,1629.3 201.5,1629.8 202.2,1629.5 202.9,1629.7 203.6,1630.4 204.3,1628.5 205,1630.4 205.7,1630.3 206.4,1629.8 207.1,1629.9 207.7,1629.7 208.4,1630.3 209.1,1629.9 209.8,1629.3 210.5,1629.9 211.2,1630.5 211.9,1630.1 212.6,1629.8 213.3,1630 214,1629.5 214.7,1629.5 215.4,1628.6 216.1,1629.7 216.8,1630.5 217.5,1629.5 218.2,1629.2 218.9,1630.4 219.5,1629.9 220.2,1629.9 220.9,1630.1 221.6,1630.3 222.3,1629.8 223,1629.2 223.7,1631 224.4,1629.8 225.1,1629.3 225.8,1629.9 226.5,1630.6 227.2,1628.8 227.9,1630.6 228.6,1629.7 229.3,1631.1 230,1630.2 230.7,1629.7 231.4,1630.6 232,1630.6 232.7,1629.5 233.4,1629.9 234.1,1629.4 234.8,1630.3 235.5,1628.8 236.2,1629.6 236.9,1628.3 237.6,1630.1 238.3,1628.2 239,1629 239.7,1629.9 240.4,1629.4 241.1,1629.4 241.8,1629 242.5,1629.3 243.2,1628.5 243.8,1629.8 244.5,1630.2 245.2,1630.1 245.9,1629.6 246.6,1630.4 247.3,1629.9 248,1630.2 248.7,1629.8 249.4,1629.6 250.1,1629 250.8,1627.8 251.5,1630 252.2,1629.4 252.9,1630.8 253.6,1628.2 254.3,1630 255,1628.8 255.7,1629.4 256.3,1628.8 257,1629.7 257.7,1629.4 258.4,1630 259.1,1629.5 259.8,1629.7 260.5,1630.2 261.2,1629.7 261.9,1629.2 262.6,1630.1 263.3,1629.2 264,1629.5 264.7,1629 265.4,1628.7 266.1,1627.1 266.8,1629.6 267.5,1628.3 268.1,1629.5 268.8,1630.2 269.5,1628.1 270.2,1629.5 270.9,1628.8 271.6,1629.2 272.3,1628 273,1628.8 273.7,1628.8 274.4,1629.6 275.1,1630 275.8,1628.7 276.5,1628.2 277.2,1629.9 277.9,1628.2 278.6,1628.2 279.3,1628.2 280,1628.4 280.6,1628.4 281.3,1627.4 282,1627.6 282.7,1628.8 283.4,1628.5 284.1,1627.6 284.8,1627.3 285.5,1626.7 286.2,1627.4 286.9,1626.1 287.6,1626.3 288.3,1625.6 289,1625.2 289.7,1625.2 290.4,1624.8 291.1,1623.9 291.8,1623.8 292.4,1623.2 293.1,1622.1 293.8,1621.1 294.5,1620.3 295.2,1619.5 295.9,1618.1 296.6,1615.3 297.3,1612.2 298,1608.8 298.7,1605.6 299.4,1599.3 300.1,1591.3 300.8,1583.8 301.5,1574.2 302.2,1563.9 302.9,1552.1 303.6,1542.4 304.2,1532 304.9,1526 305.6,1525 306.3,1527 307,1532.4 307.7,1541.7 308.4,1552.6 309.1,1562.9 309.8,1573.9 310.5,1583.7 311.2,1591.2 311.9,1599.2 312.6,1604.3 313.3,1608.4 314,1613.5 314.7,1615.6 315.4,1617.4 316.1,1620.3 316.7,1621.3 317.4,1621 318.1,1622.6 318.8,1622.8 319.5,1622.8 320.2,1625.6 320.9,1625.8 321.6,1624.3 322.3,1625.9 323,1624.8 323.7,1626.9 324.4,1626.4 325.1,1626.4 325.8,1627.7 326.5,1627 327.2,1627 327.9,1628 328.5,1627.3 329.2,1628.2 329.9,1627.8 330.6,1628.4 331.3,1628.4 332,1628.6 332.7,1627.5 333.4,1629.5 334.1,1628.2 334.8,1629.5 335.5,1628 336.2,1628.3 336.9,1628.4 337.6,1629.4 338.3,1628.4 339,1629 339.7,1627.7 340.4,1628.4 341,1629 341.7,1628.8 342.4,1627.6 343.1,1629.2 343.8,1628.3 344.5,1630.3 345.2,1628.8 345.9,1630.5 346.6,1629.5 347.3,1629.3 348,1628.7 348.7,1629 349.4,1629.4 350.1,1627.8 350.8,1629.8 351.5,1628.3 352.2,1628.9 352.8,1627.3 353.5,1629.4 354.2,1629.6 354.9,1629.3 355.6,1629.4 356.3,1628.9 357,1629.3 357.7,1630 358.4,1628.9 359.1,1629.5 359.8,1629.6 360.5,1629 361.2,1629.3 361.9,1629.3 362.6,1628.8 363.3,1630.7 364,1628.8 364.7,1630.2 365.3,1629.8 366,1627.6 366.7,1629.2 367.4,1629.7 368.1,1629.5 368.8,1628.3 369.5,1629 370.2,1628 370.9,1628.1 371.6,1628.6 372.3,1628.8 373,1629.7 373.7,1628.8 374.4,1629.1 375.1,1627.5 375.8,1627.4 376.5,1627.8 377.1,1629.1 377.8,1626.8 378.5,1626.4 379.2,1627.2 379.9,1627.7 380.6,1625.4 381.3,1625.9 382,1624.6 382.7,1625.8 383.4,1624.6 384.1,1623.4 384.8,1622.1 385.5,1620.8 386.2,1619.8 386.9,1617.9 387.6,1616.2 388.3,1614.5 388.9,1613.8 389.6,1611.7 390.3,1611.6 391,1608.5 391.7,1609.6 392.4,1609.4 393.1,1610.1 393.8,1609.8 394.5,1610 395.2,1611.7 395.9,1614.6 396.6,1615.1 397.3,1616.6 398,1618 398.7,1619.7 399.4,1620.9 400.1,1621.2 400.8,1622.8 401.4,1624.8 402.1,1625.9 402.8,1625.5 403.5,1625.8 404.2,1627.6 404.9,1626.9 405.6,1626.5 406.3,1627.5 407,1628.3 407.7,1629.1 408.4,1627.9 409.1,1628.7 409.8,1628.2 410.5,1629.4 411.2,1628.8 411.9,1628.9 412.6,1628.2 413.2,1628.7 413.9,1628.7 414.6,1626.5 415.3,1629.6 416,1629.1 416.7,1629 417.4,1628.9 418.1,1629.2 418.8,1629.4 419.5,1628.4 420.2,1629.4 420.9,1629.4 421.6,1629.4 422.3,1628.4 423,1629.3 423.7,1628.6 424.4,1629.7 425.1,1630.4 425.7,1630.1 426.4,1629.3 427.1,1629.1 427.8,1629.1 428.5,1629.8 429.2,1629.1 429.9,1629.2 430.6,1627.9 431.3,1629 432,1629.1 432.7,1629.2 433.4,1630.5 434.1,1628.7 434.8,1628.7 435.5,1630.1 436.2,1629 436.9,1629.6 437.5,1629.8 438.2,1629.7 438.9,1629.2 439.6,1630.3 440.3,1630.7 441,1629 441.7,1629.5 442.4,1630.4 443.1,1629.6 443.8,1629 444.5,1629.4 445.2,1630.3 445.9,1629.1 446.6,1629.9 447.3,1630 448,1629.3 448.7,1630.1 449.4,1630.2 450,1630.4 450.7,1630.4 451.4,1628.8 452.1,1630.4 452.8,1630.2 453.5,1630.5 454.2,1629.2 454.9,1630.4 455.6,1630 456.3,1629 457,1630.7 457.7,1629.3 458.4,1629.1 459.1,1630.1 459.8,1629.4 460.5,1630.1 461.2,1629.6 461.8,1630 462.5,1630.4 463.2,1629.8 463.9,1630.4 464.6,1630.4 465.3,1629.3 466,1630.4 466.7,1630.3 467.4,1629.9 468.1,1630.6 468.8,1631 469.5,1630.4 470.2,1628.8 470.9,1630.1 471.6,1629.8 472.3,1629.7 473,1630.1 473.7,1629.6 474.3,1631 475,1630 475.7,1629.9 476.4,1630.4 477.1,1630.4 477.8,1630.7 478.5,1630.3 479.2,1629.8 479.9,1630 480.6,1628.4 481.3,1628.9 482,1630.6 482.7,1629.6 483.4,1631.1 484.1,1631.1 484.8,1629 485.5,1630.1 486.1,1631.8 486.8,1629.3 487.5,1630.1 488.2,1629.7 488.9,1629.7 489.6,1629.7 490.3,1629.9 491,1630.4 491.7,1629.3 492.4,1630.2 493.1,1629.4 493.8,1630.2 494.5,1630.1 495.2,1629.3 495.9,1630 496.6,1629.4 497.3,1629.3 497.9,1630.7 498.6,1628.6 499.3,1630.3 500,1630.4 500.7,1629.5 501.4,1630.6 502.1,1630.5 502.8,1629 503.5,1630.2 504.2,1630.2 504.9,1629.4 505.6,1630.3 506.3,1630.4 507,1629.4 507.7,1628.5 508.4,1630.2 509.1,1629.4 509.8,1628.7 510.4,1629.6 511.1,1628.3 511.8,1629.7 512.5,1630.9 513.2,1627.9 513.9,1630.2 514.6,1629.3 515.3,1629.6 516,1629.3 516.7,1630.3 517.4,1629.9 518.1,1629.3 518.8,1629 519.5,1629.6 520.2,1630.7 520.9,1629.1 521.6,1630.2 522.2,1630.1 522.9,1628.5 523.6,1630.6 524.3,1629.9 525,1631.4 525.7,1631.1 526.4,1629.7 527.1,1629.8 527.8,1629.2 528.5,1628.9 529.2,1630.4 529.9,1629.7 530.6,1629.6 531.3,1629.8 532,1630.3 532.7,1630.5 533.4,1629.9 534.1,1629.7 534.7,1629.9 535.4,1631.3 536.1,1628.5 536.8,1629.1 537.5,1630.2 538.2,1630 538.9,1630.7 539.6,1630.8 540.3,1631.2 541,1629.3 541.7,1630.3 542.4,1629.7 543.1,1630.5 543.8,1630 544.5,1630.5 545.2,1629.4 545.9,1630 546.5,1629.5 547.2,1629.7 547.9,1629.6 548.6,1629.2 549.3,1630.6 550,1630.1 550.7,1630.6 551.4,1629.2 552.1,1628.5 552.8,1629.4 553.5,1629.7 554.2,1630.4 554.9,1630.6 555.6,1630.7 556.3,1630.9 557,1630.3 557.7,1629.9 558.4,1629.3 559,1630.3 559.7,1629.5 560.4,1629.3 561.1,1630.2 561.8,1630 562.5,1630.4 563.2,1629.3 563.9,1630.6 564.6,1630.1 565.3,1629.7 566,1629.3 566.7,1629.1 567.4,1628.9 568.1,1630.8 568.8,1628.8 569.5,1630.2 570.2,1629.6 570.8,1629.4 571.5,1629.5 572.2,1629.7 572.9,1630.4 573.6,1630.2 574.3,1629.8 575,1628.9 575.7,1628.6 576.4,1631.1 577.1,1629.1 577.8,1628.7 578.5,1630.6 579.2,1628.7 579.9,1630.3 580.6,1630.4 581.3,1629.9 582,1630.4 582.7,1628.8 583.3,1628.9 584,1629.6 584.7,1629.7 585.4,1629.7 586.1,1630.1 586.8,1629.2 587.5,1628.3 588.2,1630 588.9,1629.6 589.6,1630.3 590.3,1631.1 591,1629.8 591.7,1630.1 592.4,1629.1 593.1,1630.3 593.8,1629.9 594.5,1629.8 595.1,1630.3 595.8,1628.9 596.5,1630 597.2,1630 597.9,1630.7 598.6,1628.4 599.3,1629.6 600,1631.1 600.7,1629.3 601.4,1629.3 602.1,1630.8 602.8,1631.3 603.5,1629.6 604.2,1629.1 604.9,1629.1 605.6,1629.3 606.3,1628.9 606.9,1629 607.6,1629.6 608.3,1629.5 609,1629.8 609.7,1629.5 610.4,1628.6 611.1,1629.9 611.8,1629.6 612.5,1629 613.2,1629.2 613.9,1629.6 614.6,1629.4 615.3,1629.2 616,1629.8 616.7,1630 617.4,1629 618.1,1629.2 618.8,1628.4 619.4,1629 620.1,1629.4 620.8,1629.7 621.5,1629.2 622.2,1629 622.9,1628.5 623.6,1629.1 624.3,1628.1 625,1628.9 625.7,1628.8 626.4,1628.1 627.1,1628.9 627.8,1628.5 628.5,1629 629.2,1628.2 629.9,1628.8 630.6,1629.4 631.2,1628.4 631.9,1628.7 632.6,1627.6 633.3,1627.7 634,1626.5 634.7,1627.6 635.4,1626.8 636.1,1627.5 636.8,1625.8 637.5,1626.4 638.2,1626.9 638.9,1626.8 639.6,1625.1 640.3,1625.6 641,1627.3 641.7,1625.6 642.4,1624.6 643.1,1621.9 643.7,1622.4 644.4,1622.4 645.1,1621.1 645.8,1619.8 646.5,1618.6 647.2,1616.1 647.9,1614.4 648.6,1610.1 649.3,1610.2 650,1605.1 650.7,1601.4 651.4,1599.3 652.1,1594.9 652.8,1591.3 653.5,1586.6 654.2,1584 654.9,1581.7 655.5,1578.8 656.2,1578.9 656.9,1579.4 657.6,1581.1 658.3,1583.3 659,1586.2 659.7,1591 660.4,1594.6 661.1,1599 661.8,1601.8 662.5,1604.8 663.2,1607.5 663.9,1611.3 664.6,1613.6 665.3,1617.4 666,1619.5 666.7,1620.6 667.4,1620.3 668,1621.1 668.7,1622.9 669.4,1623.2 670.1,1625.5 670.8,1625.1 671.5,1625.2 672.2,1625.9 672.9,1627.1 673.6,1625.9 674.3,1627.1 675,1626.1 675.7,1627.1 676.4,1626.9 677.1,1627.7 677.8,1627.8 678.5,1628.6 679.2,1628.4 679.8,1627.6 680.5,1627.2 681.2,1627.7 681.9,1628 682.6,1628.2 683.3,1627.9 684,1629.3 684.7,1629.2 685.4,1628.5 686.1,1628.4 686.8,1628.6 687.5,1628.8 688.2,1628.8 688.9,1627.8 689.6,1628.6 690.3,1627.7 691,1629 691.7,1629.5 692.3,1628.3 693,1629.2 693.7,1628.7 694.4,1628.7 695.1,1630.5 695.8,1629.8 696.5,1629.6 697.2,1629 697.9,1629.6 698.6,1629.2 699.3,1629.6 700,1628.7 700.7,1629.3 701.4,1629.1 702.1,1628.4 702.8,1630.6 703.5,1630 704.1,1628.9 704.8,1628.4 705.5,1628.9 706.2,1628.9 706.9,1629.1 707.6,1628.4 708.3,1628.9 709,1629.5 709.7,1629.8 710.4,1628.2 711.1,1629.5 711.8,1628.9 712.5,1628.8 713.2,1629.3 713.9,1629.1 714.6,1630 715.3,1630 715.9,1629.4 716.6,1629.1 717.3,1630.8 718,1630.9 718.7,1629.9 719.4,1629.5 720.1,1630.3 720.8,1630.6 721.5,1629.3 722.2,1630.9 722.9,1629.5 723.6,1630.4 724.3,1629.3 725,1629.7 725.7,1629.3 726.4,1629.7 727.1,1630.3 727.8,1629 728.4,1629.4 729.1,1630 729.8,1629.3 730.5,1631.1 731.2,1628.6 731.9,1631.4 732.6,1629.2 733.3,1630.3 734,1630.8 734.7,1630 735.4,1628.7 736.1,1629.4 736.8,1629.7 737.5,1630.1 738.2,1630.3 738.9,1630.4 739.6,1630.7 740.2,1629 740.9,1630.3 741.6,1628.5 742.3,1629.8 743,1628.9 743.7,1628.4 744.4,1630.3 745.1,1629.6 745.8,1630.3 746.5,1628.6 747.2,1628.8 747.9,1629.6 748.6,1629.2 749.3,1629.7 750,1629.2 750.7,1629.4 751.4,1628.8 752.1,1630.5 752.7,1629.4 753.4,1628.8 754.1,1630.1 754.8,1630 755.5,1629.8 756.2,1629.8 756.9,1629.3 757.6,1629.5 758.3,1628.1 759,1628.5 759.7,1628.7 760.4,1629.8 761.1,1630.4 761.8,1629.5 762.5,1629.4 763.2,1630.4 763.9,1629.3 764.5,1630 765.2,1629.9 765.9,1628.6 766.6,1629.8 767.3,1629.7 768,1628.7 768.7,1628.8 769.4,1628.6 770.1,1630.5 770.8,1631 771.5,1630 772.2,1630.6 772.9,1628.5 773.6,1630.4 774.3,1630.8 775,1630.5 775.7,1628.8 776.4,1630.2 777,1629.3 777.7,1630.1 778.4,1628.9 779.1,1629.3 779.8,1628.9 780.5,1629.6 781.2,1629.2 781.9,1630 782.6,1629.8 783.3,1629.5 784,1629.2 784.7,1629 785.4,1629.2 786.1,1629.6 786.8,1629.2 787.5,1629.3 788.2,1629 788.8,1628.9 789.5,1628.5 790.2,1627.6 790.9,1629.3 791.6,1629.2 792.3,1628.1 793,1630.1 793.7,1627.9 794.4,1629.3 795.1,1628.8 795.8,1628.7 796.5,1629.2 797.2,1629 797.9,1628.3 798.6,1627.5 799.3,1627.3 800,1628.1 800.7,1629 801.3,1628.4 802,1627.6 802.7,1627.7 803.4,1627.7 804.1,1628.2 804.8,1626.2 805.5,1627 806.2,1626.4 806.9,1625.2 807.6,1624.6 808.3,1625.7 809,1624.5 809.7,1623.4 810.4,1622.9 811.1,1622.7 811.8,1621.1 812.5,1621.1 813.1,1618.6 813.8,1616.9 814.5,1616 815.2,1613.9 815.9,1612.7 816.6,1612.1 817.3,1610.8 818,1608.3 818.7,1606.3 819.4,1603.9 820.1,1602.3 820.8,1602 821.5,1600.9 822.2,1599.8 822.9,1599.7 823.6,1601.3 824.3,1601.5 824.9,1601.8 825.6,1603.2 826.3,1605.4 827,1606.4 827.7,1608 828.4,1608.4 829.1,1610.1 829.8,1611.6 830.5,1613 831.2,1616 831.9,1617.7 832.6,1618.1 833.3,1620.2 834,1621.3 834.7,1621.9 835.4,1621.7 836.1,1624.5 836.8,1625.1 837.4,1624.3 838.1,1626.6 838.8,1625.7 839.5,1625.5 840.2,1626.1 840.9,1625.4 841.6,1626.7 842.3,1626 843,1628.1 843.7,1627.7 844.4,1626.6 845.1,1628.1 845.8,1626.6 846.5,1628 847.2,1628.3 847.9,1628.1 848.6,1627.4 849.2,1628.1 849.9,1628.1 850.6,1628.3 851.3,1629.4 852,1629.6 852.7,1629.5 853.4,1628 854.1,1627.9 854.8,1628.5 855.5,1628.7 856.2,1627 856.9,1628 857.6,1629.6 858.3,1627.5 859,1627.7 859.7,1627.7 860.4,1628.4 861.1,1627.9 861.7,1627.6 862.4,1626.6 863.1,1627.9 863.8,1627.2 864.5,1626.5 865.2,1626.7 865.9,1626.9 866.6,1624.9 867.3,1624.5 868,1624.4 868.7,1624.1 869.4,1622.2 870.1,1623.5 870.8,1624.4 871.5,1623.1 872.2,1623.8 872.9,1621 873.5,1622.9 874.2,1624.1 874.9,1624.5 875.6,1623.3 876.3,1623.5 877,1624.7 877.7,1624 878.4,1625.1 879.1,1624.6 879.8,1626.2 880.5,1626.6 881.2,1628.1 881.9,1627.5 882.6,1627.1 883.3,1627.7 884,1627.1 884.7,1628.3 885.4,1628.3 886,1628.9 886.7,1629.4 887.4,1627.4 888.1,1629.1 888.8,1629.5 889.5,1628.2 890.2,1630.5 890.9,1628.7 891.6,1631 892.3,1629.8 893,1630 893.7,1629.5 894.4,1630.1 895.1,1628.7 895.8,1628.9 896.5,1628.1 897.2,1629.8 897.8,1629 898.5,1630 899.2,1629.9 899.9,1628.6 900.6,1630 901.3,1629.7 902,1629.7 902.7,1629.9 903.4,1629.6 904.1,1629.6 904.8,1630.4 905.5,1628.9 906.2,1628.8 906.9,1629.1 907.6,1630.4 908.3,1629.4 909,1631 909.6,1627.5 910.3,1629.2 911,1629.4 911.7,1629.9 912.4,1630.7 913.1,1629.6 913.8,1629 914.5,1630.3 915.2,1630.8 915.9,1627.9 916.6,1630.2 917.3,1630 918,1629.2 918.7,1629.4 919.4,1630 920.1,1629.8 920.8,1629.6 921.5,1629 922.1,1630 922.8,1629.3 923.5,1629.8 924.2,1629.4 924.9,1629.9 925.6,1630.3 926.3,1630 927,1630.3 927.7,1628.8 928.4,1630.1 929.1,1630 929.8,1629.4 930.5,1629.7 931.2,1627.9 931.9,1629.9 932.6,1629.5 933.3,1628.2 933.9,1630.2 934.6,1629.4 935.3,1630 936,1629.7 936.7,1630.2 937.4,1629.9 938.1,1629.6 938.8,1630.2 939.5,1630.4 940.2,1628.3 940.9,1629.9 941.6,1629.4 942.3,1629.1 943,1630.8 943.7,1630.5 944.4,1629.1 945.1,1629.1 945.8,1630.4 946.4,1629.4 947.1,1629.6 947.8,1628.5 948.5,1629.8 949.2,1630.7 949.9,1629.5 950.6,1629.8 951.3,1631.1 952,1630.5 952.7,1630.9 953.4,1630.3 954.1,1630.7 954.8,1628.7 955.5,1629.3 956.2,1628.7 956.9,1631.4 957.6,1630 958.2,1629.8 958.9,1629.3 959.6,1629.2 960.3,1627.9 961,1631.4 961.7,1629.8 962.4,1629.9 963.1,1628.9 963.8,1629.8 964.5,1630.1 965.2,1629.8 965.9,1630.3 966.6,1629.3 967.3,1630.1 968,1630.5 968.7,1630.3 969.4,1630.2 970.1,1629.8 970.7,1629.2 971.4,1630.3 972.1,1629.6 972.8,1629.2 973.5,1630.4 974.2,1628.8 974.9,1629.5 975.6,1630.4 976.3,1630.6 977,1629.6 977.7,1629.9 978.4,1630.3 979.1,1629.8 979.8,1629.3 980.5,1630.2 981.2,1630 981.9,1630 982.5,1630.7 983.2,1630.1 983.9,1629.6 984.6,1630 985.3,1631.2 986,1629.4 986.7,1629.7 987.4,1629.3 988.1,1630.1 988.8,1629 989.5,1630.2 990.2,1630.4 990.9,1629.3 991.6,1629.3 992.3,1628.8 993,1629.9 993.7,1629.1 994.4,1629.5 995,1629.6 995.7,1629.4 996.4,1630.5 997.1,1631 997.8,1628.4 998.5,1629.3 999.2,1630.1 999.9,1629.2 1000.6,1629.5 1001.3,1630 1002,1630.9 1002.7,1630.7 1003.4,1629.7 1004.1,1630 1004.8,1629.6 1005.5,1629.8 1006.2,1629.1 1006.8,1628.6 1007.5,1629.6 1008.2,1630.6 1008.9,1630.4 1009.6,1628.6 1010.3,1629.7 1011,1629.4 1011.7,1630.1 1012.4,1629.1 1013.1,1630.5 1013.8,1629.7 1014.5,1630.3 1015.2,1630.5 1015.9,1628.5 1016.6,1629.7 1017.3,1630.9 1018,1629.9 1018.6,1630.6 1019.3,1630.2 1020,1629.5 1020.7,1630.1 1021.4,1630.6 1022.1,1630.8 1022.8,1630.9 1023.5,1629.1 1024.2,1630.4 1024.9,1628.9 1025.6,1629.8 1026.3,1629.7 1027,1630.3 1027.7,1630.1 1028.4,1630.7 1029.1,1629.4 1029.8,1630.4 1030.5,1630.1 1031.1,1629.8 1031.8,1629 1032.5,1630.2 1033.2,1630 1033.9,1630.3 1034.6,1629.8 1035.3,1629.6 1036,1630.1 1036.7,1630.1 1037.4,1630.3 1038.1,1631.1 1038.8,1629.3 1039.5,1631.2 1040.2,1627.7 1040.9,1630.4 1041.6,1629.2 1042.3,1631.1 1042.9,1629.1 1043.6,1630.4 1044.3,1629 1045,1628.9 1045.7,1630.2 1046.4,1630.3 1047.1,1629.1 1047.8,1631.3 1048.5,1629.4 1049.2,1630.7 1049.9,1628.8 1050.6,1628.9 1051.3,1629.6 1052,1628.8 1052.7,1629.8 1053.4,1627.9 1054.1,1629.5 1054.8,1628.9 1055.4,1628.6 1056.1,1629.4 1056.8,1629 1057.5,1628.7 1058.2,1629.5 1058.9,1629.1 1059.6,1629 1060.3,1629.6 1061,1628.4 1061.7,1628.9 1062.4,1627.8 1063.1,1628.4 1063.8,1628.1 1064.5,1627.1 1065.2,1626.2 1065.9,1626.1 1066.6,1626 1067.2,1626.8 1067.9,1626 1068.6,1625.6 1069.3,1625.8 1070,1625.7 1070.7,1625.9 1071.4,1624.2 1072.1,1624.8 1072.8,1624.7 1073.5,1623.4 1074.2,1624.1 1074.9,1623.4 1075.6,1623.9 1076.3,1624.5 1077,1623.2 1077.7,1624 1078.4,1624.3 1079.1,1625.2 1079.7,1625 1080.4,1626 1081.1,1625.5 1081.8,1626 1082.5,1627.1 1083.2,1627.2 1083.9,1627.4 1084.6,1627.5 1085.3,1628.4 1086,1628.9 1086.7,1627.9 1087.4,1627.8 1088.1,1627.8 1088.8,1629.8 1089.5,1628.1 1090.2,1628 1090.9,1629.2 1091.5,1629.8 1092.2,1628.3 1092.9,1629.1 1093.6,1628.3 1094.3,1628.8 1095,1630.5 1095.7,1629.5 1096.4,1629.3 1097.1,1629.5 1097.8,1629.7 1098.5,1629.5 1099.2,1628.7 1099.9,1628.8 1100.6,1631 1101.3,1629.1 1102,1630.5 1102.7,1629.2 1103.4,1630.6 1104,1630.2 1104.7,1629.6 1105.4,1631.1 1106.1,1629.1 1106.8,1629.6 1107.5,1629.1 1108.2,1629.2 1108.9,1629.5 1109.6,1629.1 1110.3,1629.5 1111,1630.9 1111.7,1628.6 1112.4,1628.9 1113.1,1629.1 1113.8,1629.5 1114.5,1630.5 1115.2,1630.3 1115.8,1630.2 1116.5,1630 1117.2,1631.5 1117.9,1629.1 1118.6,1629 1119.3,1629.8 1120,1630 1120.7,1629.7 1121.4,1629.3 1122.1,1629 1122.8,1629.7 1123.5,1629.4 1124.2,1629.5 1124.9,1629.1 1125.6,1630.8 1126.3,1630.2 1127,1631.2 1127.6,1629.5 1128.3,1629.9 1129,1629.7 1129.7,1629.9 1130.4,1629.7 1131.1,1629.8 1131.8,1628.5 1132.5,1629.7 1133.2,1630.4 1133.9,1628.5 1134.6,1629.7 1135.3,1630.3 1136,1630.8 1136.7,1629.9 1137.4,1630.2 1138.1,1631.1 1138.8,1630.8 1139.5,1629.6 1140.1,1629.5 1140.8,1630.6 1141.5,1630.1 1142.2,1629.5 1142.9,1629.8 1143.6,1630.1 1144.3,1629.8 1145,1629.7 1145.7,1629.8 1146.4,1628.9 1147.1,1631.1 1147.8,1630.8 1148.5,1631 1149.2,1629.8 1149.9,1630 1150.6,1630.3 1151.3,1630.5 1151.9,1628.7 1152.6,1630.2 1153.3,1629.2 1154,1629.9 1154.7,1629.5 1155.4,1631.1 1156.1,1630.3 1156.8,1629.9 1157.5,1630.9 1158.2,1629.9 1158.9,1629.4 1159.6,1629.8 1160.3,1629.7 1161,1630 1161.7,1630.5 1162.4,1629.9 1163.1,1629.9 1163.8,1630.7 1164.4,1630.1 1165.1,1630.6 1165.8,1630 1166.5,1629 1167.2,1629.2 1167.9,1628.8 1168.6,1630.7 1169.3,1630.2 1170,1629.6" fill="none" stroke="#ff28ff" stroke-width="4.2" stroke-linejoin="round"/>
<path d="M128.6,1684.9 129.3,1684.7 130,1686.1 130.7,1684.8 131.4,1685.3 132.1,1685.9 132.8,1684.4 133.5,1685.6 134.2,1685.3 134.8,1685.2 135.5,1685.4 136.2,1684.7 136.9,1684.2 137.6,1686.2 138.3,1685.1 139,1685.7 139.7,1685.8 140.4,1685.4 141.1,1685.5 141.8,1685.6 142.5,1686.1 143.2,1685.5 143.9,1685.9 144.6,1685.1 145.3,1685.1 146,1685.3 146.7,1685.5 147.3,1685.5 148,1686.2 148.7,1685.7 149.4,1685.3 150.1,1686.3 150.8,1685.4 151.5,1685.5 152.2,1685.5 152.9,1685.1 153.6,1684.7 154.3,1685.3 155,1685.1 155.7,1684.8 156.4,1685.3 157.1,1685.2 157.8,1685 158.5,1684.4 159.1,1685.2 159.8,1686.1 160.5,1685.7 161.2,1685.8 161.9,1685.3 162.6,1685.8 163.3,1684.9 164,1685 164.7,1685.5 165.4,1684.6 166.1,1685.3 166.8,1685.4 167.5,1686.1 168.2,1684.9 168.9,1685.5 169.6,1685 170.3,1685 171,1683.9 171.6,1684.8 172.3,1685.8 173,1685.5 173.7,1685.3 174.4,1686.5 175.1,1685.5 175.8,1684.7 176.5,1685.2 177.2,1685.2 177.9,1686.1 178.6,1684.8 179.3,1685.5 180,1685.8 180.7,1684.9 181.4,1685.3 182.1,1684.3 182.8,1685.3 183.4,1684.2 184.1,1685.1 184.8,1686.1 185.5,1685.5 186.2,1685.3 186.9,1685.3 187.6,1686.3 188.3,1685.5 189,1685.8 189.7,1685 190.4,1685 191.1,1684.7 191.8,1685.2 192.5,1684.9 193.2,1685.7 193.9,1685.6 194.6,1685.2 195.2,1685 195.9,1683.8 196.6,1685 197.3,1685.4 198,1685.6 198.7,1683.7 199.4,1684.1 200.1,1685.3 200.8,1684.7 201.5,1685.1 202.2,1685 202.9,1685.5 203.6,1684.3 204.3,1685 205,1685.7 205.7,1685.4 206.4,1684.8 207.1,1685.5 207.7,1685.4 208.4,1684.8 209.1,1685.6 209.8,1685.6 210.5,1685.2 211.2,1685.7 211.9,1684.7 212.6,1685.6 213.3,1685.1 214,1684.8 214.7,1684.9 215.4,1685.8 216.1,1685 216.8,1685.1 217.5,1684.9 218.2,1684.8 218.9,1685.7 219.5,1686.3 220.2,1685.9 220.9,1685.5 221.6,1685.6 222.3,1685.1 223,1685 223.7,1684.6 224.4,1685.9 225.1,1685.1 225.8,1684.9 226.5,1684.9 227.2,1685.3 227.9,1684.9 228.6,1685.2 229.3,1685.3 230,1685.9 230.7,1684.6 231.4,1685.4 232,1684.9 232.7,1685 233.4,1686 234.1,1685.5 234.8,1685 235.5,1685.4 236.2,1685.2 236.9,1685.7 237.6,1685 238.3,1685.4 239,1685.1 239.7,1685.2 240.4,1685.1 241.1,1684.9 241.8,1685.2 242.5,1685.7 243.2,1684.9 243.8,1685 244.5,1685.4 245.2,1684.8 245.9,1685.6 246.6,1685.5 247.3,1684 248,1684.8 248.7,1684.6 249.4,1685.6 250.1,1685.6 250.8,1684.6 251.5,1684.8 252.2,1685.1 252.9,1684.9 253.6,1685.5 254.3,1685.6 255,1685.4 255.7,1685.6 256.3,1685.6 257,1685.1 257.7,1684.9 258.4,1684.7 259.1,1685.5 259.8,1685.5 260.5,1685.6 261.2,1684.9 261.9,1684.9 262.6,1685.2 263.3,1685.7 264,1685.2 264.7,1685.1 265.4,1684.6 266.1,1685.2 266.8,1685.3 267.5,1684.5 268.1,1685.8 268.8,1684.5 269.5,1685.4 270.2,1684.8 270.9,1685 271.6,1684.5 272.3,1684.6 273,1685.2 273.7,1684.7 274.4,1684.6 275.1,1685.2 275.8,1685.1 276.5,1684.8 277.2,1684.8 277.9,1685.5 278.6,1684.6 279.3,1684.8 280,1684.8 280.6,1683.8 281.3,1683.5 282,1684.5 282.7,1684.8 283.4,1684.4 284.1,1684 284.8,1683.9 285.5,1684.5 286.2,1683.9 286.9,1683.1 287.6,1684.1 288.3,1683.8 289,1683.7 289.7,1683.9 290.4,1683.9 291.1,1683.3 291.8,1682.7 292.4,1681.4 293.1,1682.3 293.8,1681.7 294.5,1681.9 295.2,1681.3 295.9,1680.2 296.6,1679.8 297.3,1678 298,1676.5 298.7,1674 299.4,1671.2 300.1,1666.9 300.8,1660.4 301.5,1649.3 302.2,1635.9 302.9,1618.6 303.6,1596.9 304.2,1581.5 304.9,1577.8 305.6,1589.1 306.3,1608.5 307,1627.5 307.7,1643.1 308.4,1654.8 309.1,1663.7 309.8,1669.3 310.5,1673.2 311.2,1675.1 311.9,1678.1 312.6,1678.2 313.3,1679.9 314,1680.5 314.7,1680.4 315.4,1681.5 316.1,1681.9 316.7,1682.2 317.4,1683 318.1,1682.6 318.8,1684.3 319.5,1683.8 320.2,1683 320.9,1682.4 321.6,1684.4 322.3,1684 323,1684 323.7,1683.6 324.4,1683.4 325.1,1683.3 325.8,1685.5 326.5,1685.1 327.2,1684.1 327.9,1685.4 328.5,1683.6 329.2,1684.9 329.9,1684.9 330.6,1684.2 331.3,1684.4 332,1684.2 332.7,1684.7 333.4,1685.4 334.1,1685.2 334.8,1685 335.5,1685.3 336.2,1683.9 336.9,1685.8 337.6,1684.8 338.3,1684.2 339,1684.7 339.7,1684.6 340.4,1684.9 341,1685.1 341.7,1683.8 342.4,1685.6 343.1,1685.8 343.8,1684.4 344.5,1685.7 345.2,1685.6 345.9,1685.5 346.6,1685.8 347.3,1684.3 348,1685.4 348.7,1684.5 349.4,1686.2 350.1,1684.5 350.8,1684.4 351.5,1685.6 352.2,1685.3 352.8,1685 353.5,1685.1 354.2,1685.3 354.9,1685.9 355.6,1684.7 356.3,1684.7 357,1684.7 357.7,1685 358.4,1685 359.1,1684.4 359.8,1685.2 360.5,1684.4 361.2,1684.8 361.9,1684.9 362.6,1684.9 363.3,1685.7 364,1685.8 364.7,1685.5 365.3,1685.7 366,1684.8 366.7,1685.6 367.4,1684.8 368.1,1685 368.8,1685 369.5,1684.1 370.2,1684.4 370.9,1684.6 371.6,1684.8 372.3,1684.5 373,1684.1 373.7,1683.8 374.4,1684.3 375.1,1683.5 375.8,1683.2 376.5,1683.3 377.1,1682.8 377.8,1681.3 378.5,1679.3 379.2,1678.4 379.9,1676.3 380.6,1673.1 381.3,1671 382,1669.1 382.7,1671.5 383.4,1672.5 384.1,1675.8 384.8,1677.4 385.5,1679.4 386.2,1680.6 386.9,1680.3 387.6,1682.6 388.3,1679.8 388.9,1679.3 389.6,1676.9 390.3,1674.8 391,1673 391.7,1669.2 392.4,1669.2 393.1,1670.5 393.8,1672.6 394.5,1675.4 395.2,1677.4 395.9,1679.1 396.6,1680.9 397.3,1682.4 398,1683.7 398.7,1683.8 399.4,1684.9 400.1,1684.3 400.8,1684.5 401.4,1684.6 402.1,1683.7 402.8,1685 403.5,1684.2 404.2,1684.6 404.9,1686 405.6,1684.3 406.3,1685 407,1685.1 407.7,1685 408.4,1685 409.1,1684.7 409.8,1686 410.5,1684 411.2,1684.5 411.9,1685.8 412.6,1685.3 413.2,1684.7 413.9,1684.6 414.6,1685 415.3,1686.4 416,1685.4 416.7,1684.6 417.4,1685.3 418.1,1684.8 418.8,1685.9 419.5,1685.3 420.2,1685.8 420.9,1685.2 421.6,1686.2 422.3,1685.4 423,1685.3 423.7,1684.7 424.4,1685 425.1,1685.4 425.7,1684.9 426.4,1686.4 427.1,1685.2 427.8,1684.8 428.5,1685.7 429.2,1684.9 429.9,1685.4 430.6,1685.2 431.3,1684.8 432,1685.9 432.7,1685.3 433.4,1685.8 434.1,1685 434.8,1684.5 435.5,1684.6 436.2,1685 436.9,1685.1 437.5,1685.3 438.2,1685.5 438.9,1684.6 439.6,1685.3 440.3,1684.6 441,1684.9 441.7,1686.5 442.4,1685.9 443.1,1685.1 443.8,1686.1 444.5,1685.9 445.2,1685.7 445.9,1686 446.6,1685.1 447.3,1685.2 448,1684.8 448.7,1685.5 449.4,1684.6 450,1685 450.7,1685.5 451.4,1685 452.1,1685.4 452.8,1686.2 453.5,1684.8 454.2,1685.9 454.9,1684.9 455.6,1684.8 456.3,1685.4 457,1685.8 457.7,1684.9 458.4,1684.9 459.1,1685 459.8,1684.9 460.5,1685.3 461.2,1684.9 461.8,1685.1 462.5,1685.4 463.2,1685 463.9,1685.8 464.6,1684.9 465.3,1684.9 466,1686.3 466.7,1686 467.4,1685.3 468.1,1685.7 468.8,1685.4 469.5,1685 470.2,1685.6 470.9,1685.4 471.6,1685.9 472.3,1684.3 473,1685.7 473.7,1685.3 474.3,1684.9 475,1685 475.7,1685.1 476.4,1684.6 477.1,1685 477.8,1685.7 478.5,1684.5 479.2,1685.1 479.9,1684.1 480.6,1685 481.3,1685.5 482,1685.2 482.7,1685.3 483.4,1684.7 484.1,1685.5 484.8,1684.8 485.5,1685.7 486.1,1685.4 486.8,1685.1 487.5,1686 488.2,1685.1 488.9,1685.8 489.6,1685.3 490.3,1685.3 491,1685.8 491.7,1685.5 492.4,1685.3 493.1,1685.2 493.8,1685.4 494.5,1685.3 495.2,1685.1 495.9,1684.7 496.6,1684 497.3,1685.2 497.9,1685.1 498.6,1685.9 499.3,1685.5 500,1685.8 500.7,1686.1 501.4,1685.2 502.1,1684.8 502.8,1685.7 503.5,1685 504.2,1685.1 504.9,1686 505.6,1685.5 506.3,1685.8 507,1684.6 507.7,1685.3 508.4,1685.8 509.1,1684.6 509.8,1685.4 510.4,1685.5 511.1,1684.1 511.8,1686.1 512.5,1684.9 513.2,1685.2 513.9,1686.1 514.6,1684.4 515.3,1685.5 516,1685 516.7,1685.3 517.4,1684.9 518.1,1685.9 518.8,1684.7 519.5,1685.4 520.2,1685.5 520.9,1685.2 521.6,1685.1 522.2,1685.1 522.9,1685.8 523.6,1685.5 524.3,1685.2 525,1684.7 525.7,1685.3 526.4,1685.5 527.1,1685.3 527.8,1686 528.5,1684.3 529.2,1686.5 529.9,1685.2 530.6,1684.7 531.3,1684.4 532,1685.7 532.7,1685.6 533.4,1685.2 534.1,1685.2 534.7,1685.3 535.4,1685.1 536.1,1685.8 536.8,1685.6 537.5,1685.2 538.2,1684.4 538.9,1685.9 539.6,1685 540.3,1684.7 541,1685.9 541.7,1685.5 542.4,1684.3 543.1,1684.4 543.8,1685.1 544.5,1684.6 545.2,1685.2 545.9,1686.6 546.5,1686.8 547.2,1685.2 547.9,1685.7 548.6,1685.7 549.3,1685.2 550,1684.5 550.7,1685.8 551.4,1685.2 552.1,1685.5 552.8,1685.6 553.5,1684.9 554.2,1686.1 554.9,1685.3 555.6,1685.4 556.3,1685 557,1685.6 557.7,1685.8 558.4,1685 559,1685.6 559.7,1685 560.4,1684.6 561.1,1685.1 561.8,1685.6 562.5,1685.5 563.2,1685.8 563.9,1684.9 564.6,1685.1 565.3,1685.3 566,1685.6 566.7,1685.2 567.4,1684.8 568.1,1684.5 568.8,1685.8 569.5,1685.8 570.2,1684.9 570.8,1686 571.5,1685.2 572.2,1685.5 572.9,1685.9 573.6,1685 574.3,1684.9 575,1684.4 575.7,1685.4 576.4,1685.5 577.1,1685.7 577.8,1685.5 578.5,1685.3 579.2,1685.8 579.9,1684.7 580.6,1685.4 581.3,1685.5 582,1685.2 582.7,1686.1 583.3,1685.5 584,1685.9 584.7,1685.7 585.4,1685.1 586.1,1686.2 586.8,1685.8 587.5,1685.2 588.2,1685.2 588.9,1684.7 589.6,1685.2 590.3,1685.1 591,1685.3 591.7,1685 592.4,1685.5 593.1,1685.2 593.8,1684.4 594.5,1685 595.1,1684.8 595.8,1684.6 596.5,1685.1 597.2,1685.7 597.9,1684.6 598.6,1684.2 599.3,1685.1 600,1686.7 600.7,1684.9 601.4,1685.3 602.1,1685 602.8,1685.6 603.5,1685.9 604.2,1685.1 604.9,1685.8 605.6,1684.6 606.3,1685.3 606.9,1684.5 607.6,1685.3 608.3,1684.9 609,1685.3 609.7,1684.6 610.4,1685.3 611.1,1685.2 611.8,1684.9 612.5,1684.7 613.2,1684.5 613.9,1684.9 614.6,1685.3 615.3,1685.1 616,1685.2 616.7,1685.7 617.4,1684.9 618.1,1685.2 618.8,1685.5 619.4,1685.3 620.1,1685.3 620.8,1685.1 621.5,1686 622.2,1685 622.9,1684.8 623.6,1685.3 624.3,1685.8 625,1685.7 625.7,1685 626.4,1685.4 627.1,1685.2 627.8,1685 628.5,1685.2 629.2,1685.2 629.9,1684.9 630.6,1685.7 631.2,1684.6 631.9,1685.5 632.6,1685.8 633.3,1685.7 634,1684.8 634.7,1684.5 635.4,1683.7 636.1,1684.4 636.8,1685.6 637.5,1683.5 638.2,1683.5 638.9,1684.6 639.6,1684.3 640.3,1683 641,1683.7 641.7,1683.7 642.4,1682.6 643.1,1683.6 643.7,1682.1 644.4,1682.9 645.1,1681.9 645.8,1680.6 646.5,1678.8 647.2,1677.6 647.9,1674.9 648.6,1671 649.3,1665.6 650,1659.4 650.7,1652.8 651.4,1644.7 652.1,1639.4 652.8,1637.5 653.5,1639.3 654.2,1645 654.9,1652.1 655.5,1657.8 656.2,1663.7 656.9,1666.2 657.6,1669.9 658.3,1671.2 659,1669.9 659.7,1670 660.4,1667.1 661.1,1667.9 661.8,1667.4 662.5,1668.8 663.2,1671.5 663.9,1674.2 664.6,1676.2 665.3,1678 666,1680.1 666.7,1682 667.4,1682.5 668,1683.6 668.7,1683 669.4,1683.4 670.1,1683.6 670.8,1684 671.5,1684.3 672.2,1685.1 672.9,1684.7 673.6,1684.5 674.3,1685.1 675,1684.1 675.7,1683.9 676.4,1685 677.1,1684.8 677.8,1684.8 678.5,1685.2 679.2,1684.6 679.8,1684.8 680.5,1685 681.2,1685.2 681.9,1685.4 682.6,1685 683.3,1685.1 684,1683.7 684.7,1685.6 685.4,1684.2 686.1,1685 686.8,1686.3 687.5,1684.9 688.2,1684.2 688.9,1685.8 689.6,1684.8 690.3,1685 691,1685 691.7,1685.4 692.3,1685.5 693,1685 693.7,1685.7 694.4,1684.6 695.1,1685.4 695.8,1684.8 696.5,1685.5 697.2,1684.8 697.9,1684.9 698.6,1685.9 699.3,1684.6 700,1684.6 700.7,1685.4 701.4,1685 702.1,1684.9 702.8,1685.1 703.5,1686.2 704.1,1684.6 704.8,1685 705.5,1685.2 706.2,1684.7 706.9,1685.2 707.6,1685.4 708.3,1684.7 709,1685.7 709.7,1684.6 710.4,1685.1 711.1,1685.3 711.8,1686.8 712.5,1684.3 713.2,1685.3 713.9,1686.4 714.6,1684.9 715.3,1685.7 715.9,1685.3 716.6,1684.5 717.3,1685.4 718,1684.7 718.7,1685.2 719.4,1684.4 720.1,1685.6 720.8,1684 721.5,1685.1 722.2,1685.8 722.9,1685.5 723.6,1685 724.3,1685.1 725,1685 725.7,1686.6 726.4,1685.2 727.1,1685.2 727.8,1684.8 728.4,1685 729.1,1685.5 729.8,1684.9 730.5,1684.8 731.2,1684.9 731.9,1685 732.6,1685.3 733.3,1685 734,1685.1 734.7,1684.8 735.4,1685.8 736.1,1685.2 736.8,1685 737.5,1685.3 738.2,1685.2 738.9,1684.4 739.6,1685.1 740.2,1686 740.9,1685.5 741.6,1685.8 742.3,1684.9 743,1684.5 743.7,1684.9 744.4,1685.9 745.1,1684.7 745.8,1684.8 746.5,1685.8 747.2,1685.1 747.9,1685.1 748.6,1685.4 749.3,1685.2 750,1685 750.7,1685.3 751.4,1684.8 752.1,1685.2 752.7,1685.5 753.4,1684.7 754.1,1685.1 754.8,1684.6 755.5,1685.6 756.2,1685.5 756.9,1685.7 757.6,1685.7 758.3,1685.7 759,1685.5 759.7,1684.8 760.4,1685.6 761.1,1684.7 761.8,1686.3 762.5,1685.3 763.2,1685.5 763.9,1684.5 764.5,1685.7 765.2,1685.7 765.9,1684.4 766.6,1684.9 767.3,1684.9 768,1684.8 768.7,1685.8 769.4,1686.2 770.1,1684.6 770.8,1685.6 771.5,1685 772.2,1685.8 772.9,1683.9 773.6,1684.9 774.3,1685.7 775,1684.7 775.7,1685.7 776.4,1684.8 777,1685.6 777.7,1685.4 778.4,1684.8 779.1,1684.7 779.8,1685 780.5,1685.6 781.2,1685 781.9,1684.7 782.6,1686.7 783.3,1684.2 784,1684.9 784.7,1685.2 785.4,1684.4 786.1,1684.9 786.8,1684.7 787.5,1684.2 788.2,1685.1 788.8,1684.3 789.5,1684.5 790.2,1685.4 790.9,1684.2 791.6,1685 792.3,1685.3 793,1685.2 793.7,1684.9 794.4,1684.5 795.1,1683.8 795.8,1684.5 796.5,1684.6 797.2,1684.1 797.9,1683.7 798.6,1684.6 799.3,1683.5 800,1684.1 800.7,1683.4 801.3,1682.6 802,1684 802.7,1683 803.4,1682.4 804.1,1680.6 804.8,1680.1 805.5,1678.7 806.2,1676.2 806.9,1674.9 807.6,1670.1 808.3,1668.3 809,1663.8 809.7,1661.3 810.4,1659.9 811.1,1660.7 811.8,1661.6 812.5,1664.1 813.1,1667.1 813.8,1669.9 814.5,1672.9 815.2,1675.2 815.9,1677.4 816.6,1678.6 817.3,1678.5 818,1679.7 818.7,1680.7 819.4,1679.4 820.1,1678.8 820.8,1677.2 821.5,1675.3 822.2,1673.1 822.9,1669.4 823.6,1666.6 824.3,1662.1 824.9,1659.8 825.6,1656.4 826.3,1656.6 827,1657.7 827.7,1659 828.4,1663.6 829.1,1666.8 829.8,1671.2 830.5,1673.5 831.2,1676.3 831.9,1678.4 832.6,1680.7 833.3,1680.2 834,1682.4 834.7,1682.6 835.4,1682.8 836.1,1683.2 836.8,1684 837.4,1684.1 838.1,1684.7 838.8,1683.7 839.5,1683.2 840.2,1683.9 840.9,1684.2 841.6,1684.1 842.3,1685 843,1685.6 843.7,1684.7 844.4,1683.6 845.1,1685.1 845.8,1684.3 846.5,1684.7 847.2,1685.1 847.9,1684.9 848.6,1684.7 849.2,1684.9 849.9,1685.1 850.6,1685.1 851.3,1685.8 852,1683.3 852.7,1684.4 853.4,1684.5 854.1,1685.2 854.8,1684.9 855.5,1685.2 856.2,1684.1 856.9,1684.7 857.6,1685.1 858.3,1684.8 859,1684.6 859.7,1684.9 860.4,1685.6 861.1,1683.6 861.7,1685.5 862.4,1684.8 863.1,1684.1 863.8,1684.8 864.5,1684.4 865.2,1684.9 865.9,1683.6 866.6,1684.2 867.3,1682.9 868,1683 868.7,1682.4 869.4,1681.1 870.1,1680.4 870.8,1678.7 871.5,1678.4 872.2,1676.6 872.9,1676 873.5,1676.3 874.2,1676.9 874.9,1677.4 875.6,1679.4 876.3,1680.1 877,1681.5 877.7,1681.4 878.4,1682.2 879.1,1683.3 879.8,1683.3 880.5,1684.1 881.2,1684.6 881.9,1685 882.6,1685.3 883.3,1685.1 884,1684.4 884.7,1685.1 885.4,1684.6 886,1685.1 886.7,1684.4 887.4,1685.6 888.1,1685.1 888.8,1684.8 889.5,1684.3 890.2,1685.1 890.9,1684.7 891.6,1685.1 892.3,1684.7 893,1684.8 893.7,1685.4 894.4,1685.8 895.1,1684.4 895.8,1685 896.5,1685.3 897.2,1685 897.8,1684.9 898.5,1686.2 899.2,1684.7 899.9,1685.3 900.6,1684.9 901.3,1685.1 902,1684 902.7,1685.6 903.4,1685 904.1,1684.7 904.8,1686 905.5,1685 906.2,1684.8 906.9,1684.7 907.6,1685.7 908.3,1685.2 909,1685 909.6,1684.5 910.3,1684.7 911,1685.3 911.7,1685.2 912.4,1684.2 913.1,1684.7 913.8,1685.3 914.5,1686.5 915.2,1684.8 915.9,1684.1 916.6,1685.6 917.3,1684.9 918,1684.5 918.7,1685.5 919.4,1685.1 920.1,1684.7 920.8,1684.5 921.5,1685.1 922.1,1685.2 922.8,1684.3 923.5,1685.7 924.2,1684.6 924.9,1685.9 925.6,1685.4 926.3,1685.1 927,1685.4 927.7,1684.9 928.4,1685.2 929.1,1686 929.8,1684.9 930.5,1685.6 931.2,1684.7 931.9,1685.2 932.6,1685.7 933.3,1684.6 933.9,1685.4 934.6,1684.1 935.3,1684.6 936,1685 936.7,1685.6 937.4,1685.6 938.1,1684.7 938.8,1685.1 939.5,1685.3 940.2,1684.4 940.9,1685.4 941.6,1685.9 942.3,1685.8 943,1684.9 943.7,1685 944.4,1684.7 945.1,1685 945.8,1685.1 946.4,1685.5 947.1,1685.2 947.8,1684.7 948.5,1685.6 949.2,1685.6 949.9,1684.9 950.6,1685.1 951.3,1685.2 952,1684.4 952.7,1685.3 953.4,1685.5 954.1,1686.2 954.8,1685.3 955.5,1685.1 956.2,1685.1 956.9,1685.5 957.6,1685.6 958.2,1684.8 958.9,1685.3 959.6,1685.5 960.3,1684.2 961,1685.9 961.7,1685.1 962.4,1685.7 963.1,1685.2 963.8,1685.1 964.5,1685.2 965.2,1685.4 965.9,1685.7 966.6,1685.1 967.3,1684.7 968,1684.9 968.7,1684.7 969.4,1685.6 970.1,1684.7 970.7,1686 971.4,1685.3 972.1,1685.2 972.8,1685.9 973.5,1685 974.2,1685.1 974.9,1685.6 975.6,1685.6 976.3,1684.7 977,1686.4 977.7,1685.5 978.4,1684.6 979.1,1685.1 979.8,1685.7 980.5,1685.3 981.2,1685.6 981.9,1686.4 982.5,1685.7 983.2,1686.2 983.9,1685.6 984.6,1684.9 985.3,1686 986,1684.9 986.7,1685.7 987.4,1685.5 988.1,1684.8 988.8,1684.9 989.5,1685.1 990.2,1685.4 990.9,1685.9 991.6,1685.3 992.3,1686.2 993,1685.7 993.7,1684.9 994.4,1684.9 995,1685.3 995.7,1685 996.4,1685.2 997.1,1685.6 997.8,1685.4 998.5,1685.7 999.2,1684.9 999.9,1684.8 1000.6,1684.5 1001.3,1684.3 1002,1685 1002.7,1685.3 1003.4,1685.1 1004.1,1685.2 1004.8,1686.3 1005.5,1684.7 1006.2,1685.1 1006.8,1685 1007.5,1684.8 1008.2,1685.9 1008.9,1685.2 1009.6,1685.9 1010.3,1684.7 1011,1686.2 1011.7,1686.4 1012.4,1684.8 1013.1,1685.2 1013.8,1685.2 1014.5,1685.5 1015.2,1684.6 1015.9,1685.5 1016.6,1685.6 1017.3,1684.9 1018,1684.1 1018.6,1684.9 1019.3,1685 1020,1685.6 1020.7,1684.9 1021.4,1684.6 1022.1,1685.5 1022.8,1685.4 1023.5,1685.6 1024.2,1685.2 1024.9,1685.7 1025.6,1685.4 1026.3,1684.3 1027,1685.3 1027.7,1685.6 1028.4,1685.2 1029.1,1685.9 1029.8,1684.9 1030.5,1685.5 1031.1,1684.5 1031.8,1685.1 1032.5,1684.8 1033.2,1684.6 1033.9,1684.4 1034.6,1685.2 1035.3,1685.3 1036,1684.7 1036.7,1684.4 1037.4,1684.5 1038.1,1685.3 1038.8,1684.3 1039.5,1685.4 1040.2,1684 1040.9,1684.8 1041.6,1684.9 1042.3,1685 1042.9,1684 1043.6,1683.6 1044.3,1683 1045,1683.8 1045.7,1682.8 1046.4,1682.2 1047.1,1681.7 1047.8,1681.5 1048.5,1680.9 1049.2,1681.1 1049.9,1679.2 1050.6,1680.7 1051.3,1680.3 1052,1680.8 1052.7,1681.2 1053.4,1681.8 1054.1,1682.7 1054.8,1682.9 1055.4,1682.5 1056.1,1683.6 1056.8,1683.9 1057.5,1684.3 1058.2,1684.3 1058.9,1684.4 1059.6,1685.1 1060.3,1684.1 1061,1685.8 1061.7,1684.4 1062.4,1684.2 1063.1,1685.1 1063.8,1685.3 1064.5,1685.3 1065.2,1685.4 1065.9,1684.9 1066.6,1684.6 1067.2,1684.6 1067.9,1684.3 1068.6,1683.8 1069.3,1684.6 1070,1684.4 1070.7,1683.1 1071.4,1682.5 1072.1,1681.8 1072.8,1680.7 1073.5,1680.5 1074.2,1680 1074.9,1679.8 1075.6,1678.9 1076.3,1678.3 1077,1679.8 1077.7,1680.6 1078.4,1679.2 1079.1,1680.8 1079.7,1682 1080.4,1681.6 1081.1,1682 1081.8,1683.2 1082.5,1683.5 1083.2,1683.6 1083.9,1685 1084.6,1685.1 1085.3,1684.9 1086,1684.6 1086.7,1684.6 1087.4,1685.3 1088.1,1684.8 1088.8,1685.7 1089.5,1685.6 1090.2,1684.7 1090.9,1685.4 1091.5,1685.8 1092.2,1685.4 1092.9,1684.6 1093.6,1685 1094.3,1684.9 1095,1685.2 1095.7,1685.2 1096.4,1685 1097.1,1685.6 1097.8,1685.8 1098.5,1684.9 1099.2,1684.5 1099.9,1685.4 1100.6,1685.2 1101.3,1685.4 1102,1684.9 1102.7,1685.4 1103.4,1684.8 1104,1685.8 1104.7,1686.1 1105.4,1684.8 1106.1,1683.9 1106.8,1685 1107.5,1685 1108.2,1685.4 1108.9,1685.3 1109.6,1685.5 1110.3,1686.6 1111,1685 1111.7,1685.1 1112.4,1685.5 1113.1,1684.3 1113.8,1685.7 1114.5,1685 1115.2,1684.6 1115.8,1684.9 1116.5,1685.5 1117.2,1685.7 1117.9,1685.9 1118.6,1685.5 1119.3,1684.9 1120,1685.6 1120.7,1685.3 1121.4,1686.5 1122.1,1684.3 1122.8,1686.1 1123.5,1685.7 1124.2,1685.5 1124.9,1685.3 1125.6,1685 1126.3,1684.8 1127,1684.5 1127.6,1686.3 1128.3,1685.8 1129,1685.6 1129.7,1685.5 1130.4,1684.4 1131.1,1685.2 1131.8,1685.4 1132.5,1685.9 1133.2,1684.8 1133.9,1685.5 1134.6,1685.2 1135.3,1685.3 1136,1684.9 1136.7,1685.5 1137.4,1685.4 1138.1,1684.4 1138.8,1685.9 1139.5,1686.4 1140.1,1684.9 1140.8,1685.9 1141.5,1684.8 1142.2,1685.1 1142.9,1686.2 1143.6,1685.4 1144.3,1686.1 1145,1685.5 1145.7,1685.8 1146.4,1685.3 1147.1,1686.1 1147.8,1686.2 1148.5,1685.7 1149.2,1685.1 1149.9,1685.2 1150.6,1684.9 1151.3,1685.6 1151.9,1685.6 1152.6,1685 1153.3,1685.8 1154,1685.1 1154.7,1686.3 1155.4,1685.8 1156.1,1686.1 1156.8,1685 1157.5,1684.8 1158.2,1684.4 1158.9,1685.7 1159.6,1684.8 1160.3,1686 1161,1685.4 1161.7,1685.7 1162.4,1684.7 1163.1,1685.1 1163.8,1685.4 1164.4,1685.7 1165.1,1684.7 1165.8,1685.5 1166.5,1684.9 1167.2,1685.8 1167.9,1685.2 1168.6,1685.2 1169.3,1685.6 1170,1685.9" fill="none" stroke="#1010ff" stroke-width="3.9" stroke-linejoin="round"/>
<path d="M128.6,1778.4 129.3,1784.1 130,1779.4 130.7,1783.5 131.4,1786.1 132.1,1779.3 132.8,1776 133.5,1782.8 134.2,1785.9 134.8,1784.7 135.5,1779.8 136.2,1787.4 136.9,1782.6 137.6,1787.2 138.3,1780.2 139,1785.9 139.7,1789.1 140.4,1781.3 141.1,1782.9 141.8,1786.9 142.5,1786.5 143.2,1785.9 143.9,1783.9 144.6,1777.7 145.3,1784.5 146,1779 146.7,1785 147.3,1774.6 148,1790.8 148.7,1792.9 149.4,1786.7 150.1,1781.2 150.8,1783.6 151.5,1788.8 152.2,1787.8 152.9,1782.1 153.6,1790.3 154.3,1788.3 155,1787.5 155.7,1783.8 156.4,1785.3 157.1,1782.4 157.8,1786.3 158.5,1782.7 159.1,1790.6 159.8,1785.8 160.5,1786.6 161.2,1787.1 161.9,1787.1 162.6,1779.8 163.3,1791.3 164,1786.4 164.7,1783.8 165.4,1782.1 166.1,1783.4 166.8,1783.8 167.5,1786.6 168.2,1783 168.9,1787.3 169.6,1787.5 170.3,1784.1 171,1796.5 171.6,1786.7 172.3,1788.8 173,1787.9 173.7,1786.9 174.4,1790.5 175.1,1793.7 175.8,1787.6 176.5,1784.3 177.2,1790.4 177.9,1779 178.6,1789 179.3,1787.6 180,1789.9 180.7,1782.2 181.4,1786.9 182.1,1784.5 182.8,1786.7 183.4,1791.6 184.1,1788.3 184.8,1786.7 185.5,1794.4 186.2,1789.5 186.9,1781 187.6,1785.2 188.3,1791.5 189,1791.7 189.7,1790.9 190.4,1791.2 191.1,1786.4 191.8,1789.9 192.5,1785.3 193.2,1786.9 193.9,1786.7 194.6,1787.1 195.2,1789.3 195.9,1789.9 196.6,1787.6 197.3,1795.6 198,1789.2 198.7,1797.6 199.4,1795.3 200.1,1785.8 200.8,1794.7 201.5,1784.9 202.2,1796.9 202.9,1792.1 203.6,1786.4 204.3,1781.3 205,1788.8 205.7,1784.7 206.4,1795 207.1,1785 207.7,1789.3 208.4,1792.3 209.1,1790.2 209.8,1791.1 210.5,1788.9 211.2,1793 211.9,1785.9 212.6,1792.2 213.3,1784.6 214,1790.4 214.7,1784.8 215.4,1788.7 216.1,1791.9 216.8,1794.6 217.5,1781.7 218.2,1786 218.9,1785.1 219.5,1794.3 220.2,1785.4 220.9,1792 221.6,1786.7 222.3,1782.7 223,1789.2 223.7,1783.9 224.4,1791.7 225.1,1792.1 225.8,1794.1 226.5,1784.1 227.2,1795 227.9,1792.4 228.6,1780.6 229.3,1797.5 230,1795.2 230.7,1783.5 231.4,1789.3 232,1782.1 232.7,1787.1 233.4,1788.4 234.1,1790.1 234.8,1783.8 235.5,1787.1 236.2,1783.1 236.9,1788.6 237.6,1789.6 238.3,1787 239,1791.4 239.7,1789.6 240.4,1787.9 241.1,1791.1 241.8,1780.7 242.5,1785.7 243.2,1778.2 243.8,1785.5 244.5,1783.4 245.2,1788.8 245.9,1783.2 246.6,1782.2 247.3,1784.4 248,1784.1 248.7,1786.7 249.4,1780.6 250.1,1777.7 250.8,1777.2 251.5,1788.7 252.2,1778.2 252.9,1781.4 253.6,1778.5 254.3,1786.7 255,1780.4 255.7,1787.8 256.3,1779.4 257,1783.4 257.7,1785.1 258.4,1785.8 259.1,1776.4 259.8,1779.7 260.5,1780.8 261.2,1773.2 261.9,1783.8 262.6,1782.2 263.3,1782.5 264,1774.1 264.7,1780.6 265.4,1781.3 266.1,1783.5 266.8,1776.6 267.5,1781.3 268.1,1786.3 268.8,1775.6 269.5,1775.2 270.2,1775 270.9,1769.4 271.6,1773.6 272.3,1781.3 273,1769.6 273.7,1771.8 274.4,1776.8 275.1,1773.1 275.8,1770.5 276.5,1766.8 277.2,1766.4 277.9,1765.5 278.6,1766.9 279.3,1762.6 280,1764.5 280.6,1750.6 281.3,1760 282,1752.1 282.7,1752.1 283.4,1747.9 284.1,1749.9 284.8,1744 285.5,1744.4 286.2,1735.5 286.9,1736.7 287.6,1738.1 288.3,1734.4 289,1725 289.7,1723.8 290.4,1718.4 291.1,1716.1 291.8,1713.4 292.4,1715.3 293.1,1709.5 293.8,1710.1 294.5,1707.6 295.2,1692.9 295.9,1697.1 296.6,1691.7 297.3,1684.8 298,1685.5 298.7,1686.7 299.4,1695.2 300.1,1688 300.8,1686.9 301.5,1688 302.2,1685.8 302.9,1691 303.6,1691.5 304.2,1686.9 304.9,1693.8 305.6,1712.8 306.3,1704 307,1703.9 307.7,1710.2 308.4,1706.5 309.1,1714.2 309.8,1720.9 310.5,1713.7 311.2,1720.7 311.9,1725.4 312.6,1729.2 313.3,1731.4 314,1737.8 314.7,1744 315.4,1744 316.1,1749.7 316.7,1752.5 317.4,1748.1 318.1,1754.2 318.8,1753.8 319.5,1760.4 320.2,1758.2 320.9,1760.8 321.6,1770.6 322.3,1764.4 323,1760.1 323.7,1768.7 324.4,1770.8 325.1,1768.7 325.8,1772.3 326.5,1777.3 327.2,1771.9 327.9,1774.2 328.5,1772.8 329.2,1777.9 329.9,1776.7 330.6,1774 331.3,1777.8 332,1786.7 332.7,1772.3 333.4,1774.1 334.1,1781.7 334.8,1774.8 335.5,1789.1 336.2,1775 336.9,1776 337.6,1779.6 338.3,1786.5 339,1785.5 339.7,1784.7 340.4,1783.8 341,1788.1 341.7,1775.1 342.4,1784 343.1,1789 343.8,1778.5 344.5,1784.4 345.2,1788.3 345.9,1788.4 346.6,1782.6 347.3,1791 348,1785.2 348.7,1787.6 349.4,1778.5 350.1,1779.8 350.8,1779.7 351.5,1790.2 352.2,1772.9 352.8,1774.8 353.5,1785.7 354.2,1782.8 354.9,1769.6 355.6,1780.2 356.3,1780.4 357,1786.5 357.7,1773.2 358.4,1778.7 359.1,1785.1 359.8,1783.6 360.5,1776.2 361.2,1778.6 361.9,1773.3 362.6,1784.8 363.3,1776.9 364,1783.7 364.7,1781.3 365.3,1773.9 366,1776.6 366.7,1779.5 367.4,1778.2 368.1,1782.3 368.8,1780.1 369.5,1776.3 370.2,1777.4 370.9,1771 371.6,1770.9 372.3,1775 373,1772.5 373.7,1764.2 374.4,1765.3 375.1,1758.9 375.8,1757.7 376.5,1765.6 377.1,1758.5 377.8,1762.3 378.5,1769.3 379.2,1768.2 379.9,1768.9 380.6,1762.1 381.3,1767.8 382,1766.2 382.7,1764.1 383.4,1764.9 384.1,1765.9 384.8,1770.5 385.5,1774.7 386.2,1767.2 386.9,1772.9 387.6,1767.1 388.3,1760.5 388.9,1767 389.6,1772.2 390.3,1772.8 391,1763.4 391.7,1776.6 392.4,1764.5 393.1,1764.8 393.8,1765.9 394.5,1774.5 395.2,1770.5 395.9,1773 396.6,1760.4 397.3,1769.9 398,1770.1 398.7,1773.9 399.4,1769.6 400.1,1777 400.8,1769.7 401.4,1767.4 402.1,1766.9 402.8,1779.6 403.5,1778 404.2,1772.2 404.9,1780.6 405.6,1775.9 406.3,1776.7 407,1771.7 407.7,1776.1 408.4,1779.5 409.1,1780.4 409.8,1777.8 410.5,1784.9 411.2,1787.3 411.9,1778.5 412.6,1784.1 413.2,1776.6 413.9,1785.2 414.6,1780 415.3,1783.9 416,1785.7 416.7,1784.5 417.4,1790.3 418.1,1783.2 418.8,1784.9 419.5,1788.7 420.2,1787.6 420.9,1789.2 421.6,1787.6 422.3,1785.6 423,1792 423.7,1789.9 424.4,1793.7 425.1,1795.8 425.7,1789.1 426.4,1787.8 427.1,1789.2 427.8,1788.7 428.5,1783.3 429.2,1798.7 429.9,1793.8 430.6,1802 431.3,1790.2 432,1795.1 432.7,1794 433.4,1792.8 434.1,1797.3 434.8,1793.4 435.5,1793.2 436.2,1794.3 436.9,1784.6 437.5,1791 438.2,1791 438.9,1801 439.6,1796.7 440.3,1797.7 441,1797.1 441.7,1793.8 442.4,1801.6 443.1,1793.9 443.8,1789 444.5,1797.6 445.2,1799.9 445.9,1795.6 446.6,1796.7 447.3,1799.3 448,1801.7 448.7,1797.8 449.4,1802.4 450,1796.7 450.7,1804.3 451.4,1790 452.1,1799.6 452.8,1797 453.5,1796.3 454.2,1790.6 454.9,1800.4 455.6,1795.2 456.3,1791.9 457,1793.5 457.7,1795.2 458.4,1796.6 459.1,1792.5 459.8,1792.4 460.5,1798 461.2,1796.1 461.8,1804.5 462.5,1794.7 463.2,1799.5 463.9,1803.7 464.6,1795.7 465.3,1800.7 466,1797.9 466.7,1796.9 467.4,1803.3 468.1,1792.6 468.8,1794.3 469.5,1789.5 470.2,1796.4 470.9,1801 471.6,1795.9 472.3,1800.4 473,1793.9 473.7,1801.8 474.3,1796.6 475,1795.1 475.7,1803.9 476.4,1797.1 477.1,1799.5 477.8,1797.6 478.5,1800 479.2,1797.5 479.9,1792.1 480.6,1798.2 481.3,1799 482,1798.6 482.7,1796 483.4,1804.4 484.1,1793.9 484.8,1797.4 485.5,1797.7 486.1,1792.4 486.8,1791.9 487.5,1799.6 488.2,1799.6 488.9,1797.3 489.6,1790.1 490.3,1795.5 491,1797.7 491.7,1799.3 492.4,1801.6 493.1,1798.5 493.8,1800.6 494.5,1803.5 495.2,1786.9 495.9,1800.7 496.6,1794.7 497.3,1798.5 497.9,1797.4 498.6,1792.3 499.3,1792.7 500,1798.2 500.7,1795.7 501.4,1799.4 502.1,1794.8 502.8,1805.2 503.5,1795.3 504.2,1804.8 504.9,1793.1 505.6,1798.5 506.3,1800.8 507,1790.8 507.7,1792.2 508.4,1797.8 509.1,1800.8 509.8,1801.7 510.4,1798.3 511.1,1800.4 511.8,1791.2 512.5,1794.2 513.2,1801.9 513.9,1793.6 514.6,1794.9 515.3,1788.7 516,1795.1 516.7,1789.3 517.4,1797.3 518.1,1801.8 518.8,1797 519.5,1796.4 520.2,1794 520.9,1797.9 521.6,1791.1 522.2,1793.7 522.9,1804.5 523.6,1790.2 524.3,1793.2 525,1789.7 525.7,1800.5 526.4,1794.5 527.1,1790.2 527.8,1790.2 528.5,1799.9 529.2,1798.1 529.9,1798.6 530.6,1795 531.3,1798.9 532,1800.6 532.7,1797.9 533.4,1788.5 534.1,1787 534.7,1789 535.4,1796.1 536.1,1788.8 536.8,1790.5 537.5,1795 538.2,1791.2 538.9,1789.6 539.6,1798.8 540.3,1796.8 541,1798 541.7,1798.5 542.4,1800.6 543.1,1794.4 543.8,1793.8 544.5,1787.3 545.2,1793.5 545.9,1792 546.5,1798.7 547.2,1797.1 547.9,1800.4 548.6,1798.8 549.3,1799.2 550,1796.4 550.7,1794.8 551.4,1792.6 552.1,1794 552.8,1790.1 553.5,1795.6 554.2,1793.6 554.9,1785.6 555.6,1782.7 556.3,1790.9 557,1791.9 557.7,1792.5 558.4,1799.1 559,1791.1 559.7,1788.4 560.4,1795.2 561.1,1797.7 561.8,1800.3 562.5,1789.3 563.2,1792.3 563.9,1791.5 564.6,1799.4 565.3,1796 566,1793.1 566.7,1795.9 567.4,1791.3 568.1,1791.8 568.8,1792.4 569.5,1790.4 570.2,1791.3 570.8,1793.7 571.5,1793.1 572.2,1798.1 572.9,1795.5 573.6,1791.5 574.3,1782.7 575,1785.5 575.7,1789.4 576.4,1789.8 577.1,1785.8 577.8,1789.6 578.5,1791.5 579.2,1788.3 579.9,1790.2 580.6,1790.2 581.3,1787.6 582,1786.8 582.7,1789.7 583.3,1791.2 584,1785.7 584.7,1781.5 585.4,1785.8 586.1,1791.7 586.8,1782.8 587.5,1793.1 588.2,1786.8 588.9,1789.6 589.6,1785.7 590.3,1791.2 591,1788.8 591.7,1790 592.4,1780.3 593.1,1791.1 593.8,1781.1 594.5,1786.4 595.1,1789.8 595.8,1786.7 596.5,1789.3 597.2,1787.8 597.9,1787.4 598.6,1783.6 599.3,1790.9 600,1791.3 600.7,1784.3 601.4,1782.7 602.1,1787.1 602.8,1783 603.5,1786.5 604.2,1789.1 604.9,1788.2 605.6,1791.3 606.3,1786.9 606.9,1780.5 607.6,1781 608.3,1786.4 609,1791.6 609.7,1782 610.4,1779.4 611.1,1788.3 611.8,1781.7 612.5,1784.5 613.2,1785.6 613.9,1776.6 614.6,1778.6 615.3,1777.1 616,1780.8 616.7,1780.6 617.4,1775.2 618.1,1778.6 618.8,1768.2 619.4,1776 620.1,1775 620.8,1772.6 621.5,1765.6 622.2,1770 622.9,1764.9 623.6,1773.9 624.3,1765.6 625,1764.6 625.7,1763.7 626.4,1764.9 627.1,1761.6 627.8,1762 628.5,1754.6 629.2,1761.4 629.9,1753.4 630.6,1756.9 631.2,1753.3 631.9,1755.2 632.6,1749 633.3,1741.9 634,1741.8 634.7,1744.1 635.4,1749.3 636.1,1740.8 636.8,1741.5 637.5,1745.3 638.2,1737 638.9,1739.7 639.6,1738.9 640.3,1734.8 641,1737.8 641.7,1740.9 642.4,1740.8 643.1,1735.3 643.7,1748.7 644.4,1738.8 645.1,1736.9 645.8,1735.8 646.5,1735.6 647.2,1743.9 647.9,1730.1 648.6,1742.3 649.3,1738.7 650,1744.9 650.7,1746.9 651.4,1743.2 652.1,1746.1 652.8,1756.7 653.5,1750.9 654.2,1754.7 654.9,1755 655.5,1761.2 656.2,1764.3 656.9,1764.6 657.6,1764.7 658.3,1766.2 659,1760.5 659.7,1772 660.4,1765.8 661.1,1765.8 661.8,1769.1 662.5,1768.6 663.2,1774.7 663.9,1777 664.6,1780.4 665.3,1775.8 666,1774.8 666.7,1777 667.4,1774.2 668,1776.8 668.7,1788.6 669.4,1778.2 670.1,1780.2 670.8,1785.2 671.5,1784.3 672.2,1787 672.9,1780.9 673.6,1780.6 674.3,1790.7 675,1783.1 675.7,1785.8 676.4,1787.5 677.1,1779.5 677.8,1786.5 678.5,1785 679.2,1790 679.8,1786.9 680.5,1779.4 681.2,1791.9 681.9,1778.6 682.6,1787.5 683.3,1786.5 684,1787 684.7,1789.6 685.4,1793.7 686.1,1786.5 686.8,1787.7 687.5,1793.3 688.2,1792.5 688.9,1793.4 689.6,1792 690.3,1789.8 691,1788.9 691.7,1789.1 692.3,1794.8 693,1797.2 693.7,1799.3 694.4,1787.2 695.1,1790.5 695.8,1791.6 696.5,1791 697.2,1787.1 697.9,1800.6 698.6,1798 699.3,1791.3 700,1790.2 700.7,1792 701.4,1787.2 702.1,1790.8 702.8,1795.4 703.5,1799 704.1,1796 704.8,1797.7 705.5,1788.2 706.2,1779.4 706.9,1798.2 707.6,1793.4 708.3,1792.4 709,1799.5 709.7,1788.9 710.4,1789 711.1,1789.9 711.8,1799.5 712.5,1796.8 713.2,1785.8 713.9,1799.8 714.6,1793.2 715.3,1794.9 715.9,1790.1 716.6,1800.9 717.3,1795.1 718,1798.7 718.7,1789.3 719.4,1796.2 720.1,1793.8 720.8,1792.5 721.5,1790.2 722.2,1790.7 722.9,1788.8 723.6,1790.9 724.3,1793.5 725,1796 725.7,1787.3 726.4,1789.5 727.1,1791.2 727.8,1787.1 728.4,1792.6 729.1,1792.7 729.8,1793 730.5,1795.5 731.2,1797.7 731.9,1797.2 732.6,1795 733.3,1796.3 734,1790.7 734.7,1790.1 735.4,1796.6 736.1,1796.3 736.8,1803 737.5,1793.1 738.2,1790 738.9,1795.2 739.6,1792.2 740.2,1790.4 740.9,1799.7 741.6,1802 742.3,1795.6 743,1791.4 743.7,1795.2 744.4,1793.9 745.1,1788.5 745.8,1797.6 746.5,1795.6 747.2,1799.3 747.9,1791.9 748.6,1794.1 749.3,1793.7 750,1787.1 750.7,1804.4 751.4,1785.6 752.1,1789.4 752.7,1792.6 753.4,1787.7 754.1,1795.7 754.8,1792.1 755.5,1794.2 756.2,1794.8 756.9,1794.1 757.6,1794.1 758.3,1793 759,1795.3 759.7,1796.8 760.4,1792.3 761.1,1791.4 761.8,1791.5 762.5,1794.3 763.2,1791.4 763.9,1791.3 764.5,1786.5 765.2,1800.5 765.9,1787.4 766.6,1799.2 767.3,1795.4 768,1796.1 768.7,1792.8 769.4,1793.6 770.1,1792.5 770.8,1793.5 771.5,1794.3 772.2,1796.9 772.9,1786.2 773.6,1792.1 774.3,1796.4 775,1795.1 775.7,1784.8 776.4,1789.9 777,1789.4 777.7,1788.9 778.4,1778.1 779.1,1790.5 779.8,1779.8 780.5,1794.9 781.2,1788 781.9,1784.3 782.6,1786.7 783.3,1784.1 784,1780.6 784.7,1781.7 785.4,1782.8 786.1,1777.2 786.8,1782.7 787.5,1783.6 788.2,1782.5 788.8,1782.1 789.5,1781.7 790.2,1778.2 790.9,1779.8 791.6,1773.6 792.3,1774 793,1777.2 793.7,1778.3 794.4,1767.7 795.1,1762.1 795.8,1775.9 796.5,1770.8 797.2,1772.5 797.9,1767.6 798.6,1763.7 799.3,1759.1 800,1756.7 800.7,1765.8 801.3,1762.9 802,1759.2 802.7,1752.4 803.4,1754.1 804.1,1752.9 804.8,1753.6 805.5,1742.3 806.2,1754.8 806.9,1760 807.6,1751 808.3,1753.2 809,1754.2 809.7,1748.9 810.4,1755 811.1,1750.1 811.8,1752 812.5,1755.3 813.1,1754.5 813.8,1755.8 814.5,1752.2 815.2,1759.9 815.9,1753.1 816.6,1762.1 817.3,1757.4 818,1755.5 818.7,1761 819.4,1758 820.1,1761.2 820.8,1763.9 821.5,1768.9 822.2,1770 822.9,1769.7 823.6,1767.6 824.3,1763.4 824.9,1769.9 825.6,1770.5 826.3,1772.3 827,1771.6 827.7,1772.6 828.4,1779.1 829.1,1771 829.8,1777.5 830.5,1783.6 831.2,1775.9 831.9,1775.8 832.6,1779.7 833.3,1780 834,1783.2 834.7,1788.4 835.4,1782.8 836.1,1786.3 836.8,1782.1 837.4,1783 838.1,1786.8 838.8,1783.3 839.5,1791.6 840.2,1785.3 840.9,1786.7 841.6,1783.4 842.3,1786.3 843,1784.3 843.7,1786.7 844.4,1781.6 845.1,1789.3 845.8,1796.9 846.5,1782 847.2,1797.4 847.9,1789.8 848.6,1794.2 849.2,1786.4 849.9,1799.4 850.6,1786.5 851.3,1790.8 852,1797.8 852.7,1786 853.4,1781.7 854.1,1791.3 854.8,1788.5 855.5,1787.7 856.2,1788.1 856.9,1785.8 857.6,1798 858.3,1797.3 859,1786.4 859.7,1791.8 860.4,1790.4 861.1,1797.1 861.7,1788.9 862.4,1799.4 863.1,1792.6 863.8,1789.2 864.5,1792.2 865.2,1790.2 865.9,1802.3 866.6,1793.4 867.3,1790.7 868,1793.2 868.7,1799.1 869.4,1788.8 870.1,1785.7 870.8,1798.5 871.5,1795.5 872.2,1791 872.9,1792.6 873.5,1797.7 874.2,1781.4 874.9,1798.4 875.6,1792.3 876.3,1795.9 877,1792.8 877.7,1806.2 878.4,1790.4 879.1,1797.8 879.8,1782 880.5,1793.3 881.2,1796.5 881.9,1786.5 882.6,1784.5 883.3,1793.6 884,1797.5 884.7,1798.2 885.4,1790.2 886,1794.7 886.7,1787.1 887.4,1800.7 888.1,1790.7 888.8,1798.7 889.5,1792.1 890.2,1791.8 890.9,1800.2 891.6,1789.5 892.3,1798.8 893,1791.7 893.7,1789.5 894.4,1789.6 895.1,1798.1 895.8,1792.9 896.5,1791.7 897.2,1786.8 897.8,1798.3 898.5,1797.7 899.2,1794.6 899.9,1796.6 900.6,1779.3 901.3,1790.9 902,1793.9 902.7,1793.7 903.4,1790.8 904.1,1794.2 904.8,1790.1 905.5,1790.4 906.2,1787.8 906.9,1793.8 907.6,1790.1 908.3,1791 909,1799.1 909.6,1793 910.3,1793 911,1786.6 911.7,1791 912.4,1797.5 913.1,1795.7 913.8,1793.6 914.5,1792.6 915.2,1793.7 915.9,1795.1 916.6,1792 917.3,1782.8 918,1801.9 918.7,1798.4 919.4,1792.9 920.1,1799.6 920.8,1788 921.5,1799.1 922.1,1794.4 922.8,1797.5 923.5,1792.2 924.2,1794.3 924.9,1796.2 925.6,1798.2 926.3,1796 927,1795.7 927.7,1791.2 928.4,1801.2 929.1,1794.7 929.8,1792.9 930.5,1792.5 931.2,1788.7 931.9,1790.7 932.6,1787.4 933.3,1794.8 933.9,1793.6 934.6,1794.9 935.3,1788.7 936,1792.2 936.7,1791.3 937.4,1798.4 938.1,1787.7 938.8,1787.6 939.5,1799.7 940.2,1795.7 940.9,1787.5 941.6,1800 942.3,1800.7 943,1799.2 943.7,1785.4 944.4,1794.8 945.1,1790.6 945.8,1793.2 946.4,1787.6 947.1,1801.8 947.8,1791.4 948.5,1795.6 949.2,1797.9 949.9,1797.1 950.6,1796.2 951.3,1792.8 952,1795.5 952.7,1793.6 953.4,1784.8 954.1,1798.9 954.8,1791.9 955.5,1792.4 956.2,1792.9 956.9,1788.7 957.6,1789.5 958.2,1786.9 958.9,1796.7 959.6,1799.8 960.3,1795.1 961,1789.8 961.7,1800.4 962.4,1793.4 963.1,1788 963.8,1786.7 964.5,1795.6 965.2,1801.1 965.9,1793.2 966.6,1792.2 967.3,1793.7 968,1791.3 968.7,1792.6 969.4,1796.1 970.1,1791.9 970.7,1799 971.4,1790.8 972.1,1798.1 972.8,1796.6 973.5,1793.4 974.2,1793.8 974.9,1793.7 975.6,1802.4 976.3,1791.7 977,1800.3 977.7,1799.5 978.4,1793.8 979.1,1802.2 979.8,1785 980.5,1796.3 981.2,1795.8 981.9,1795.4 982.5,1798.9 983.2,1793.6 983.9,1794.6 984.6,1800.3 985.3,1794.9 986,1791 986.7,1797.9 987.4,1795.1 988.1,1793 988.8,1797.9 989.5,1792.2 990.2,1791.3 990.9,1794.4 991.6,1794.7 992.3,1795.8 993,1790.4 993.7,1803 994.4,1798.5 995,1796.3 995.7,1796.7 996.4,1784.9 997.1,1799.6 997.8,1791.3 998.5,1797.8 999.2,1790.5 999.9,1799.9 1000.6,1793.3 1001.3,1794.7 1002,1802.2 1002.7,1799.9 1003.4,1789.7 1004.1,1792.6 1004.8,1796.4 1005.5,1794.6 1006.2,1799.1 1006.8,1792.6 1007.5,1787.5 1008.2,1791.6 1008.9,1794.8 1009.6,1797.9 1010.3,1798.8 1011,1800.9 1011.7,1796.6 1012.4,1794.7 1013.1,1798.7 1013.8,1795.1 1014.5,1793.5 1015.2,1793.5 1015.9,1799.5 1016.6,1801.9 1017.3,1801.1 1018,1788.6 1018.6,1800.2 1019.3,1790.6 1020,1794 1020.7,1798 1021.4,1789.7 1022.1,1790.2 1022.8,1792.2 1023.5,1802.7 1024.2,1800 1024.9,1791.5 1025.6,1796 1026.3,1796 1027,1796.7 1027.7,1792.3 1028.4,1801.6 1029.1,1793.7 1029.8,1798.9 1030.5,1788.1 1031.1,1797 1031.8,1796 1032.5,1801.2 1033.2,1784.2 1033.9,1797.7 1034.6,1798.8 1035.3,1794.2 1036,1801 1036.7,1804.3 1037.4,1799.1 1038.1,1798.8 1038.8,1801.1 1039.5,1797.2 1040.2,1800.5 1040.9,1797.8 1041.6,1792.3 1042.3,1790.7 1042.9,1800.3 1043.6,1797.8 1044.3,1792.3 1045,1795.3 1045.7,1801.5 1046.4,1787.8 1047.1,1791.3 1047.8,1798.2 1048.5,1798.7 1049.2,1790.1 1049.9,1790.9 1050.6,1795.9 1051.3,1801.2 1052,1795.2 1052.7,1785.2 1053.4,1799.6 1054.1,1795 1054.8,1793.2 1055.4,1790.1 1056.1,1800.3 1056.8,1796.3 1057.5,1796.8 1058.2,1796.6 1058.9,1797 1059.6,1798.7 1060.3,1802.4 1061,1790.5 1061.7,1794.7 1062.4,1793.1 1063.1,1802.3 1063.8,1793.8 1064.5,1788.1 1065.2,1794.9 1065.9,1791.9 1066.6,1791.8 1067.2,1793.1 1067.9,1789.4 1068.6,1786.7 1069.3,1803.4 1070,1794.4 1070.7,1790.9 1071.4,1797.6 1072.1,1800.7 1072.8,1787.4 1073.5,1793 1074.2,1796.1 1074.9,1791.3 1075.6,1796.8 1076.3,1789.6 1077,1792 1077.7,1794.4 1078.4,1796.7 1079.1,1795 1079.7,1791.9 1080.4,1793.3 1081.1,1785.7 1081.8,1804 1082.5,1793.1 1083.2,1793.5 1083.9,1795.9 1084.6,1797.3 1085.3,1796.3 1086,1791.8 1086.7,1787.6 1087.4,1794 1088.1,1791.3 1088.8,1792.3 1089.5,1794.7 1090.2,1795.7 1090.9,1800.2 1091.5,1794 1092.2,1787.2 1092.9,1797.2 1093.6,1798.6 1094.3,1787.5 1095,1797.2 1095.7,1795.4 1096.4,1792.2 1097.1,1795.3 1097.8,1796.2 1098.5,1797.1 1099.2,1799.5 1099.9,1794.4 1100.6,1794.5 1101.3,1804.9 1102,1789.9 1102.7,1793.3 1103.4,1792.9 1104,1797.7 1104.7,1799.2 1105.4,1788.7 1106.1,1799.7 1106.8,1789.3 1107.5,1805.6 1108.2,1791.5 1108.9,1799.1 1109.6,1793.2 1110.3,1797.4 1111,1791.1 1111.7,1794.9 1112.4,1794.4 1113.1,1794.7 1113.8,1797.7 1114.5,1792.3 1115.2,1792.8 1115.8,1788.5 1116.5,1793.6 1117.2,1792.1 1117.9,1798 1118.6,1797 1119.3,1791 1120,1796 1120.7,1799.8 1121.4,1793.2 1122.1,1789 1122.8,1804.7 1123.5,1796.5 1124.2,1797.1 1124.9,1804.8 1125.6,1790.6 1126.3,1795.3 1127,1785.8 1127.6,1796.1 1128.3,1795.7 1129,1790.6 1129.7,1790.3 1130.4,1793.2 1131.1,1792.9 1131.8,1800.7 1132.5,1792.9 1133.2,1793.2 1133.9,1793.1 1134.6,1787 1135.3,1791.8 1136,1787.9 1136.7,1794.1 1137.4,1783.9 1138.1,1788.4 1138.8,1794.1 1139.5,1783.8 1140.1,1786 1140.8,1796.9 1141.5,1786.7 1142.2,1792.2 1142.9,1793.4 1143.6,1787.4 1144.3,1784.5 1145,1798.2 1145.7,1789 1146.4,1793.5 1147.1,1787.9 1147.8,1792.5 1148.5,1785.2 1149.2,1784.7 1149.9,1786 1150.6,1787.6 1151.3,1787.5 1151.9,1788.6 1152.6,1791.7 1153.3,1787.4 1154,1793.6 1154.7,1786.5 1155.4,1792.1 1156.1,1794.7 1156.8,1796.4 1157.5,1780.2 1158.2,1796 1158.9,1780.8 1159.6,1794.4 1160.3,1788 1161,1789.5 1161.7,1783.7 1162.4,1791.6 1163.1,1790.4 1163.8,1784.9 1164.4,1784.5 1165.1,1790.7 1165.8,1791.3 1166.5,1790 1167.2,1784.9 1167.9,1786.4 1168.6,1790.2 1169.3,1789.6 1170,1790.7" fill="none" stroke="#10107e" stroke-width="3.9" stroke-linejoin="round"/>
<path d="M128.6,1863.6 129.3,1864.3 130,1863.4 130.7,1864.2 131.4,1863.5 132.1,1865.5 132.8,1864.8 133.5,1864.2 134.2,1863.1 134.8,1863.1 135.5,1864.5 136.2,1863.9 136.9,1864.2 137.6,1862.9 138.3,1862.9 139,1864.1 139.7,1863.8 140.4,1863 141.1,1863.4 141.8,1864.5 142.5,1863.7 143.2,1864.4 143.9,1865.1 144.6,1864.2 145.3,1864.1 146,1863.6 146.7,1864.8 147.3,1863 148,1863.2 148.7,1864 149.4,1862.9 150.1,1864.7 150.8,1863.5 151.5,1864.3 152.2,1863.8 152.9,1863.8 153.6,1864 154.3,1862.6 155,1863.2 155.7,1863.6 156.4,1865.5 157.1,1864.5 157.8,1864.5 158.5,1863.2 159.1,1864.6 159.8,1864.8 160.5,1864.5 161.2,1865.8 161.9,1863 162.6,1863.2 163.3,1863.8 164,1863.3 164.7,1864 165.4,1864.3 166.1,1864 166.8,1864 167.5,1864.2 168.2,1864.5 168.9,1863.5 169.6,1863.5 170.3,1864.8 171,1863.7 171.6,1863.4 172.3,1864.2 173,1863.7 173.7,1864 174.4,1863.9 175.1,1864.4 175.8,1864.6 176.5,1863.4 177.2,1863.1 177.9,1865.1 178.6,1863.5 179.3,1862.9 180,1862.6 180.7,1863.9 181.4,1863.5 182.1,1862.7 182.8,1863.3 183.4,1863.2 184.1,1864.6 184.8,1864.1 185.5,1863.9 186.2,1863.1 186.9,1863.8 187.6,1864.4 188.3,1864.1 189,1864.7 189.7,1864 190.4,1864.4 191.1,1864.3 191.8,1863.5 192.5,1864.9 193.2,1864.2 193.9,1864.5 194.6,1863.2 195.2,1863.2 195.9,1863.8 196.6,1863.4 197.3,1864.4 198,1864.2 198.7,1864.8 199.4,1864.3 200.1,1863.1 200.8,1864.6 201.5,1863.5 202.2,1863.4 202.9,1864 203.6,1863.9 204.3,1864.7 205,1865.9 205.7,1864.2 206.4,1864.9 207.1,1863.8 207.7,1864.2 208.4,1863.6 209.1,1863.6 209.8,1864.9 210.5,1864.2 211.2,1864.2 211.9,1863.4 212.6,1865.1 213.3,1863.8 214,1863.5 214.7,1863.9 215.4,1864.4 216.1,1864.4 216.8,1864.9 217.5,1863.2 218.2,1863.6 218.9,1865 219.5,1865.5 220.2,1863.5 220.9,1863.8 221.6,1862.8 222.3,1863.3 223,1863.3 223.7,1863.8 224.4,1863.1 225.1,1864.5 225.8,1863.9 226.5,1863.7 227.2,1864.5 227.9,1863.7 228.6,1863 229.3,1863.9 230,1865.4 230.7,1864 231.4,1864.2 232,1863.7 232.7,1863.7 233.4,1864.2 234.1,1862 234.8,1863 235.5,1863.5 236.2,1863.7 236.9,1864.9 237.6,1865.6 238.3,1864.3 239,1864.1 239.7,1864.3 240.4,1864.9 241.1,1863.2 241.8,1863.5 242.5,1864 243.2,1864 243.8,1862.5 244.5,1864.1 245.2,1862.7 245.9,1864.4 246.6,1864.4 247.3,1862.2 248,1864.2 248.7,1863.9 249.4,1863.4 250.1,1864.5 250.8,1865.2 251.5,1864.1 252.2,1863 252.9,1862.8 253.6,1863 254.3,1863.1 255,1864.5 255.7,1864 256.3,1863.7 257,1864.3 257.7,1863.7 258.4,1863.7 259.1,1863.1 259.8,1863.3 260.5,1863.7 261.2,1862.9 261.9,1864.8 262.6,1863.8 263.3,1863.3 264,1864.3 264.7,1862.9 265.4,1864.4 266.1,1863.7 266.8,1864.9 267.5,1863.2 268.1,1863.3 268.8,1863 269.5,1862.7 270.2,1863.7 270.9,1862.7 271.6,1863.7 272.3,1863 273,1864.1 273.7,1861.6 274.4,1863.6 275.1,1863.4 275.8,1863.3 276.5,1862.8 277.2,1864.4 277.9,1862.9 278.6,1863.4 279.3,1862.9 280,1862.8 280.6,1863 281.3,1863.4 282,1862 282.7,1862.4 283.4,1861.7 284.1,1862.8 284.8,1861.8 285.5,1861.8 286.2,1862.6 286.9,1862 287.6,1862.1 288.3,1861.5 289,1861.6 289.7,1861.1 290.4,1859.9 291.1,1860.5 291.8,1859.6 292.4,1859.1 293.1,1858.8 293.8,1857.2 294.5,1855.5 295.2,1855.2 295.9,1852.8 296.6,1846.9 297.3,1841.6 298,1832 298.7,1819.4 299.4,1804.5 300.1,1788.1 300.8,1771.5 301.5,1758.7 302.2,1753.9 302.9,1758.2 303.6,1772.4 304.2,1787.5 304.9,1804.3 305.6,1820.5 306.3,1832.3 307,1841.8 307.7,1847.2 308.4,1851 309.1,1855.1 309.8,1856.2 310.5,1857.5 311.2,1858 311.9,1859.6 312.6,1858.2 313.3,1860.7 314,1859.3 314.7,1861.6 315.4,1860.2 316.1,1862 316.7,1863.5 317.4,1861.8 318.1,1861.3 318.8,1863.6 319.5,1862.1 320.2,1861.7 320.9,1863.5 321.6,1860.7 322.3,1861.7 323,1861.9 323.7,1862.4 324.4,1861.6 325.1,1863.6 325.8,1863.8 326.5,1863.1 327.2,1862.9 327.9,1862.1 328.5,1863.6 329.2,1862.8 329.9,1863.7 330.6,1864 331.3,1863.4 332,1861.9 332.7,1862.7 333.4,1864.4 334.1,1863.6 334.8,1864.4 335.5,1861.9 336.2,1863.4 336.9,1863.4 337.6,1862.4 338.3,1863.1 339,1864.2 339.7,1863.9 340.4,1863.2 341,1863.8 341.7,1864.4 342.4,1862.8 343.1,1863.8 343.8,1864.3 344.5,1863.1 345.2,1864.5 345.9,1863.5 346.6,1864.4 347.3,1864.3 348,1863.8 348.7,1863.4 349.4,1863.2 350.1,1863.7 350.8,1863.8 351.5,1864.6 352.2,1863.5 352.8,1863.8 353.5,1864.8 354.2,1863.8 354.9,1863.9 355.6,1864.7 356.3,1863.6 357,1863.8 357.7,1864.1 358.4,1863.5 359.1,1862.8 359.8,1862.5 360.5,1863.4 361.2,1864.3 361.9,1864.2 362.6,1864.6 363.3,1864.1 364,1862.9 364.7,1862.3 365.3,1863 366,1863.1 366.7,1862.7 367.4,1863.8 368.1,1862.6 368.8,1863.5 369.5,1863.6 370.2,1861.7 370.9,1862.5 371.6,1863.6 372.3,1863.2 373,1862.5 373.7,1861.4 374.4,1861.4 375.1,1861.6 375.8,1861.9 376.5,1860.7 377.1,1859.2 377.8,1858 378.5,1856.4 379.2,1852.1 379.9,1849.5 380.6,1846.6 381.3,1843.4 382,1839.3 382.7,1834.7 383.4,1833.3 384.1,1832.7 384.8,1834.9 385.5,1838.6 386.2,1842.3 386.9,1846.2 387.6,1849.4 388.3,1852.3 388.9,1855.8 389.6,1858 390.3,1859.7 391,1859.8 391.7,1860.6 392.4,1862.5 393.1,1862.2 393.8,1862.8 394.5,1862 395.2,1862.1 395.9,1861.9 396.6,1863.6 397.3,1862.2 398,1861.8 398.7,1862.6 399.4,1864.1 400.1,1863.3 400.8,1863.5 401.4,1863.4 402.1,1863.4 402.8,1863.3 403.5,1862.5 404.2,1864.7 404.9,1863.4 405.6,1864.4 406.3,1862.5 407,1864 407.7,1862.8 408.4,1862.7 409.1,1863.8 409.8,1864.4 410.5,1864.6 411.2,1864.6 411.9,1863.5 412.6,1864.3 413.2,1863.3 413.9,1863.4 414.6,1863.9 415.3,1863.7 416,1864.4 416.7,1862.5 417.4,1864.6 418.1,1863.4 418.8,1864.8 419.5,1864.6 420.2,1863 420.9,1863.8 421.6,1864.3 422.3,1863.3 423,1863.3 423.7,1863.6 424.4,1864.4 425.1,1864.5 425.7,1863.5 426.4,1864.4 427.1,1864.9 427.8,1864.5 428.5,1863.3 429.2,1863.3 429.9,1864.1 430.6,1864.4 431.3,1864.2 432,1863.6 432.7,1863.2 433.4,1864.8 434.1,1863.8 434.8,1865.2 435.5,1863.1 436.2,1863.7 436.9,1863.4 437.5,1865.2 438.2,1864.8 438.9,1863.5 439.6,1862.6 440.3,1864.7 441,1864 441.7,1863.1 442.4,1862.9 443.1,1864.2 443.8,1863.8 444.5,1864 445.2,1864.2 445.9,1863.6 446.6,1863.7 447.3,1864.4 448,1863.8 448.7,1863.7 449.4,1864.4 450,1862.5 450.7,1864.8 451.4,1864.2 452.1,1863.4 452.8,1863.8 453.5,1864.8 454.2,1864.3 454.9,1862.7 455.6,1863.2 456.3,1864.1 457,1865.2 457.7,1864.5 458.4,1863.8 459.1,1864.3 459.8,1863.9 460.5,1863.7 461.2,1864.2 461.8,1862.4 462.5,1864.6 463.2,1864.3 463.9,1863.6 464.6,1863.3 465.3,1863.1 466,1864.1 466.7,1864 467.4,1864.1 468.1,1865.1 468.8,1862.4 469.5,1863.4 470.2,1863.4 470.9,1864.6 471.6,1863.8 472.3,1863.3 473,1864.1 473.7,1864.2 474.3,1865.1 475,1864.1 475.7,1863.6 476.4,1863.6 477.1,1863.4 477.8,1864.3 478.5,1864.5 479.2,1863.8 479.9,1863.9 480.6,1864.9 481.3,1864 482,1864.3 482.7,1863.2 483.4,1863.5 484.1,1862.5 484.8,1863 485.5,1864.2 486.1,1864.8 486.8,1863.8 487.5,1863.1 488.2,1864 488.9,1864.7 489.6,1863.8 490.3,1864.6 491,1863.9 491.7,1863.1 492.4,1863.3 493.1,1863.8 493.8,1865.5 494.5,1864.4 495.2,1863.8 495.9,1864.1 496.6,1864.1 497.3,1863.6 497.9,1863.9 498.6,1863.8 499.3,1864.5 500,1865 500.7,1864.9 501.4,1863.7 502.1,1864.3 502.8,1863.4 503.5,1863.2 504.2,1864 504.9,1864.4 505.6,1863.9 506.3,1864.5 507,1864.5 507.7,1864.5 508.4,1863.8 509.1,1863 509.8,1865.2 510.4,1863.6 511.1,1864.5 511.8,1864.3 512.5,1863.7 513.2,1865.2 513.9,1864.4 514.6,1863.9 515.3,1863.7 516,1863.3 516.7,1863.1 517.4,1864.3 518.1,1863.6 518.8,1863.6 519.5,1864.3 520.2,1863.7 520.9,1864.4 521.6,1863.5 522.2,1863.6 522.9,1864.6 523.6,1863.5 524.3,1864.4 525,1864.3 525.7,1864 526.4,1862.8 527.1,1863 527.8,1863.2 528.5,1863.1 529.2,1864.5 529.9,1863.3 530.6,1863.1 531.3,1863.6 532,1863.9 532.7,1862.8 533.4,1864.4 534.1,1864.4 534.7,1863.5 535.4,1864.5 536.1,1862.9 536.8,1863.6 537.5,1863.8 538.2,1864 538.9,1864.7 539.6,1863.7 540.3,1863.2 541,1864.1 541.7,1864 542.4,1864.2 543.1,1863.7 543.8,1864.1 544.5,1863.5 545.2,1864.3 545.9,1863.5 546.5,1863.5 547.2,1864.7 547.9,1863.4 548.6,1863.9 549.3,1864.3 550,1863.7 550.7,1864.6 551.4,1863.5 552.1,1864.6 552.8,1862.9 553.5,1863 554.2,1864 554.9,1864.9 555.6,1865 556.3,1863.3 557,1863.9 557.7,1863.6 558.4,1862.4 559,1864.4 559.7,1863.7 560.4,1864.9 561.1,1864.1 561.8,1863.5 562.5,1863.4 563.2,1863.8 563.9,1864.2 564.6,1863.6 565.3,1865.8 566,1864.1 566.7,1863.1 567.4,1864 568.1,1864.7 568.8,1864.2 569.5,1863.7 570.2,1863.4 570.8,1863.4 571.5,1863.1 572.2,1863.5 572.9,1864.1 573.6,1863.5 574.3,1865 575,1864.2 575.7,1863.6 576.4,1863.9 577.1,1864.9 577.8,1862.7 578.5,1864 579.2,1865.7 579.9,1864.6 580.6,1863.3 581.3,1864 582,1863.7 582.7,1865.8 583.3,1863.4 584,1863.7 584.7,1863.6 585.4,1862.9 586.1,1861.6 586.8,1863.7 587.5,1864.2 588.2,1863.5 588.9,1864.2 589.6,1864.4 590.3,1864.3 591,1862.7 591.7,1864.9 592.4,1864.4 593.1,1864.4 593.8,1863.8 594.5,1863.8 595.1,1863.4 595.8,1864.1 596.5,1864.4 597.2,1863.4 597.9,1864.4 598.6,1863.5 599.3,1864.2 600,1863.7 600.7,1864.4 601.4,1865.1 602.1,1863.9 602.8,1863.4 603.5,1863.4 604.2,1864.2 604.9,1863.4 605.6,1864.4 606.3,1863.9 606.9,1864.3 607.6,1863.3 608.3,1863 609,1863.1 609.7,1863.9 610.4,1863.1 611.1,1864.1 611.8,1862.2 612.5,1863.1 613.2,1863.5 613.9,1862.3 614.6,1863.1 615.3,1862.5 616,1863.4 616.7,1863.3 617.4,1864 618.1,1862.8 618.8,1862.3 619.4,1863 620.1,1863.4 620.8,1863.4 621.5,1863.4 622.2,1864.1 622.9,1862.9 623.6,1863 624.3,1862.5 625,1862.6 625.7,1863.7 626.4,1863.1 627.1,1861 627.8,1863.5 628.5,1861.2 629.2,1862.2 629.9,1863 630.6,1862.3 631.2,1862.4 631.9,1862.5 632.6,1861.9 633.3,1860.5 634,1861.4 634.7,1860.2 635.4,1858.6 636.1,1859.4 636.8,1859.2 637.5,1857.7 638.2,1856.1 638.9,1855.2 639.6,1851.3 640.3,1848.1 641,1843 641.7,1838.3 642.4,1830.4 643.1,1824.4 643.7,1817.7 644.4,1809.9 645.1,1806.4 645.8,1803.1 646.5,1805.9 647.2,1810.6 647.9,1815.9 648.6,1822.3 649.3,1830.7 650,1836.9 650.7,1842.9 651.4,1847.6 652.1,1851.7 652.8,1855.1 653.5,1856.4 654.2,1856.6 654.9,1859.3 655.5,1859.9 656.2,1860.4 656.9,1861.8 657.6,1861.3 658.3,1861.2 659,1862 659.7,1860.8 660.4,1862.7 661.1,1862.3 661.8,1863.5 662.5,1863 663.2,1862.9 663.9,1862.8 664.6,1862 665.3,1862.8 666,1863.2 666.7,1863.7 667.4,1863.4 668,1863.6 668.7,1863.7 669.4,1862.9 670.1,1863.5 670.8,1863.2 671.5,1862.5 672.2,1862.3 672.9,1864 673.6,1864.4 674.3,1864.4 675,1862.9 675.7,1864.5 676.4,1864.6 677.1,1863 677.8,1863.9 678.5,1864.8 679.2,1863.7 679.8,1864.4 680.5,1863.2 681.2,1863.4 681.9,1864.3 682.6,1863.6 683.3,1863.8 684,1863.8 684.7,1863 685.4,1864.7 686.1,1863.6 686.8,1863.5 687.5,1863.4 688.2,1863.8 688.9,1863.1 689.6,1864.4 690.3,1863.5 691,1864.3 691.7,1863.2 692.3,1863.1 693,1863.2 693.7,1864 694.4,1862.9 695.1,1864.4 695.8,1863.6 696.5,1864.4 697.2,1863.6 697.9,1864.4 698.6,1863.1 699.3,1863.1 700,1864.2 700.7,1863.5 701.4,1864.6 702.1,1863.4 702.8,1864.2 703.5,1863.3 704.1,1862.6 704.8,1864.8 705.5,1863.7 706.2,1864.5 706.9,1864 707.6,1862.7 708.3,1864.1 709,1864.6 709.7,1864.7 710.4,1865 711.1,1864.1 711.8,1863.8 712.5,1863.9 713.2,1863.1 713.9,1864.4 714.6,1864.4 715.3,1864.1 715.9,1863.3 716.6,1864.3 717.3,1863.5 718,1864.7 718.7,1863.5 719.4,1863.5 720.1,1863.6 720.8,1863.2 721.5,1863.3 722.2,1863.7 722.9,1862.2 723.6,1865.3 724.3,1864.1 725,1864.1 725.7,1863.3 726.4,1864 727.1,1863.9 727.8,1863.9 728.4,1862.8 729.1,1863.8 729.8,1862.6 730.5,1863.7 731.2,1863.3 731.9,1863.4 732.6,1863.6 733.3,1864.4 734,1864.7 734.7,1863.9 735.4,1863.1 736.1,1864.9 736.8,1862.9 737.5,1863.5 738.2,1863.7 738.9,1863.3 739.6,1864.8 740.2,1864.1 740.9,1864.6 741.6,1863.6 742.3,1864.4 743,1863.7 743.7,1863.7 744.4,1864 745.1,1864.1 745.8,1864.2 746.5,1863.7 747.2,1862.8 747.9,1863.6 748.6,1862 749.3,1863.6 750,1863.3 750.7,1864.4 751.4,1861.9 752.1,1865.2 752.7,1863.6 753.4,1862.7 754.1,1864.1 754.8,1864.1 755.5,1864.1 756.2,1865.3 756.9,1863.2 757.6,1864 758.3,1863.9 759,1863.3 759.7,1864 760.4,1864.6 761.1,1863.2 761.8,1864.1 762.5,1864.4 763.2,1864.2 763.9,1862.6 764.5,1863.9 765.2,1863.4 765.9,1864.5 766.6,1863.6 767.3,1865 768,1862.8 768.7,1864 769.4,1863 770.1,1864.9 770.8,1864.7 771.5,1863 772.2,1864.1 772.9,1863.6 773.6,1862.4 774.3,1862.8 775,1863.6 775.7,1863.9 776.4,1863.2 777,1863.7 777.7,1863.7 778.4,1863.6 779.1,1862.6 779.8,1863.5 780.5,1863.7 781.2,1862.3 781.9,1864.4 782.6,1864.3 783.3,1863.3 784,1864.6 784.7,1862.6 785.4,1862.4 786.1,1862.6 786.8,1862.5 787.5,1864.2 788.2,1862.8 788.8,1862.7 789.5,1862.9 790.2,1863.6 790.9,1862.5 791.6,1862 792.3,1862.3 793,1862.8 793.7,1861.6 794.4,1862.5 795.1,1861.4 795.8,1860.7 796.5,1860.7 797.2,1861.1 797.9,1858.7 798.6,1858.7 799.3,1856.7 800,1854.6 800.7,1852.2 801.3,1849.8 802,1846.1 802.7,1841.8 803.4,1837.5 804.1,1831.5 804.8,1826.7 805.5,1822 806.2,1819 806.9,1817.1 807.6,1817 808.3,1819.6 809,1822 809.7,1827 810.4,1832.7 811.1,1838.2 811.8,1841.6 812.5,1846.5 813.1,1850.1 813.8,1851.4 814.5,1854.6 815.2,1855.6 815.9,1857.5 816.6,1859.1 817.3,1858.8 818,1860.7 818.7,1860.7 819.4,1861 820.1,1861.8 820.8,1861.1 821.5,1860.7 822.2,1862.1 822.9,1861.7 823.6,1862.2 824.3,1861.7 824.9,1861.9 825.6,1862 826.3,1861.9 827,1862.3 827.7,1862.3 828.4,1863 829.1,1865.2 829.8,1862.6 830.5,1862 831.2,1863.5 831.9,1862.3 832.6,1862.6 833.3,1863 834,1863.3 834.7,1863.3 835.4,1863.4 836.1,1863.2 836.8,1864.1 837.4,1863.9 838.1,1863 838.8,1863.2 839.5,1862.4 840.2,1863.8 840.9,1863.2 841.6,1864.6 842.3,1862.9 843,1864.4 843.7,1862.7 844.4,1862.1 845.1,1862.7 845.8,1863.5 846.5,1863.9 847.2,1862.5 847.9,1863.7 848.6,1862.6 849.2,1862.5 849.9,1862.5 850.6,1863.6 851.3,1862.3 852,1862 852.7,1860.3 853.4,1860.8 854.1,1860.1 854.8,1860.2 855.5,1857.5 856.2,1856.6 856.9,1855.5 857.6,1854.7 858.3,1854.9 859,1853.5 859.7,1854.9 860.4,1854.5 861.1,1854.6 861.7,1855.7 862.4,1856.2 863.1,1857.2 863.8,1859.9 864.5,1860.6 865.2,1860.1 865.9,1861.1 866.6,1863 867.3,1861.8 868,1862.7 868.7,1863.1 869.4,1862.8 870.1,1863 870.8,1863 871.5,1863.4 872.2,1862.3 872.9,1863.4 873.5,1863.6 874.2,1862.6 874.9,1863.8 875.6,1862.9 876.3,1861.8 877,1862.3 877.7,1863.7 878.4,1864 879.1,1863.4 879.8,1862.7 880.5,1863.6 881.2,1864.3 881.9,1863.7 882.6,1862.7 883.3,1864 884,1863.6 884.7,1863.6 885.4,1863.8 886,1864.1 886.7,1863.7 887.4,1863.1 888.1,1863.7 888.8,1863.9 889.5,1864.6 890.2,1863 890.9,1863.7 891.6,1863.2 892.3,1864 893,1863.4 893.7,1861.7 894.4,1864.5 895.1,1863.4 895.8,1863.1 896.5,1862.8 897.2,1863.1 897.8,1863 898.5,1863.7 899.2,1863.9 899.9,1863.8 900.6,1864.1 901.3,1863.3 902,1864.3 902.7,1863.8 903.4,1864.2 904.1,1864.3 904.8,1863.6 905.5,1864.7 906.2,1864.4 906.9,1863.6 907.6,1865.1 908.3,1865 909,1862.8 909.6,1862.3 910.3,1863.5 911,1864.2 911.7,1864.5 912.4,1864.3 913.1,1863.9 913.8,1864.6 914.5,1864.4 915.2,1863.6 915.9,1864 916.6,1864.6 917.3,1863.5 918,1863.5 918.7,1863.3 919.4,1864.9 920.1,1864.4 920.8,1864.5 921.5,1863.7 922.1,1863.9 922.8,1864.7 923.5,1863.7 924.2,1864.7 924.9,1863.9 925.6,1863.9 926.3,1864.3 927,1864.5 927.7,1865.1 928.4,1863.7 929.1,1865.1 929.8,1863.4 930.5,1863.3 931.2,1862.4 931.9,1864.5 932.6,1864.9 933.3,1863.1 933.9,1863.7 934.6,1863.7 935.3,1862.9 936,1864 936.7,1864.1 937.4,1863.6 938.1,1863.2 938.8,1864 939.5,1864.3 940.2,1863 940.9,1863.9 941.6,1864.3 942.3,1862 943,1864.2 943.7,1865.1 944.4,1863.1 945.1,1864.8 945.8,1863.7 946.4,1864.3 947.1,1863.8 947.8,1863.2 948.5,1862.8 949.2,1865.6 949.9,1863 950.6,1863.8 951.3,1864.9 952,1864.1 952.7,1864.1 953.4,1862.6 954.1,1863.5 954.8,1863 955.5,1862.7 956.2,1864.2 956.9,1864.5 957.6,1863.4 958.2,1863.5 958.9,1864.2 959.6,1864.5 960.3,1863.2 961,1864.7 961.7,1864.6 962.4,1863.9 963.1,1863.2 963.8,1864.3 964.5,1864.4 965.2,1865.1 965.9,1863.5 966.6,1865 967.3,1863.7 968,1864.3 968.7,1863.9 969.4,1864 970.1,1864.9 970.7,1863.5 971.4,1864.5 972.1,1863.8 972.8,1863.9 973.5,1863.5 974.2,1864.1 974.9,1862.6 975.6,1863.8 976.3,1864.6 977,1864.5 977.7,1862.8 978.4,1863.2 979.1,1863.7 979.8,1865.2 980.5,1863.6 981.2,1863.9 981.9,1863.8 982.5,1864.2 983.2,1863.3 983.9,1864.1 984.6,1864.3 985.3,1864.7 986,1863.3 986.7,1864.6 987.4,1865.3 988.1,1864.5 988.8,1864.4 989.5,1862.3 990.2,1864.9 990.9,1865.3 991.6,1864.8 992.3,1864.3 993,1864.5 993.7,1866 994.4,1863.4 995,1863.7 995.7,1864.7 996.4,1864.1 997.1,1862.4 997.8,1864.1 998.5,1864.2 999.2,1863.3 999.9,1864.2 1000.6,1864.1 1001.3,1862.7 1002,1864.3 1002.7,1865.4 1003.4,1865.1 1004.1,1863.1 1004.8,1863 1005.5,1864 1006.2,1864.1 1006.8,1863 1007.5,1863.4 1008.2,1864.9 1008.9,1864.1 1009.6,1864.6 1010.3,1863.9 1011,1864.6 1011.7,1863.5 1012.4,1863.5 1013.1,1863.2 1013.8,1862.6 1014.5,1863.6 1015.2,1862.9 1015.9,1863.6 1016.6,1864 1017.3,1864 1018,1864.1 1018.6,1863.6 1019.3,1863.8 1020,1864.6 1020.7,1863.7 1021.4,1863.9 1022.1,1862.1 1022.8,1863.1 1023.5,1864.6 1024.2,1863.2 1024.9,1863 1025.6,1864.5 1026.3,1862.9 1027,1864.4 1027.7,1863.7 1028.4,1863.3 1029.1,1862.3 1029.8,1864.6 1030.5,1862.4 1031.1,1862.8 1031.8,1864.2 1032.5,1862.7 1033.2,1863.9 1033.9,1863.5 1034.6,1863.3 1035.3,1862.6 1036,1862.8 1036.7,1863.4 1037.4,1862.4 1038.1,1863.4 1038.8,1862.9 1039.5,1862.9 1040.2,1862.3 1040.9,1862.2 1041.6,1861.6 1042.3,1861.4 1042.9,1860.6 1043.6,1859.9 1044.3,1858.3 1045,1857.1 1045.7,1857.6 1046.4,1857.6 1047.1,1855.8 1047.8,1855 1048.5,1855.6 1049.2,1856.4 1049.9,1857 1050.6,1856.7 1051.3,1856.8 1052,1858.2 1052.7,1859.4 1053.4,1859.6 1054.1,1861 1054.8,1860.5 1055.4,1862 1056.1,1862.9 1056.8,1861.5 1057.5,1861.9 1058.2,1863.2 1058.9,1865.1 1059.6,1863.4 1060.3,1863.2 1061,1864.2 1061.7,1863.3 1062.4,1862.3 1063.1,1862.8 1063.8,1864.5 1064.5,1862.4 1065.2,1862.6 1065.9,1864.2 1066.6,1863.8 1067.2,1864.5 1067.9,1863 1068.6,1863.2 1069.3,1863.5 1070,1862.9 1070.7,1863.6 1071.4,1863.7 1072.1,1864.4 1072.8,1863.7 1073.5,1863.5 1074.2,1864.2 1074.9,1864.6 1075.6,1864.6 1076.3,1864 1077,1863.6 1077.7,1863.5 1078.4,1862.9 1079.1,1863.9 1079.7,1863.8 1080.4,1865 1081.1,1864 1081.8,1864.4 1082.5,1864.8 1083.2,1862.6 1083.9,1863.4 1084.6,1863.7 1085.3,1864 1086,1863.1 1086.7,1864.5 1087.4,1864.5 1088.1,1864.3 1088.8,1864.4 1089.5,1863.1 1090.2,1864.7 1090.9,1863.5 1091.5,1862.6 1092.2,1864 1092.9,1864.2 1093.6,1863.4 1094.3,1862.8 1095,1863.1 1095.7,1863.8 1096.4,1862.2 1097.1,1864.6 1097.8,1864.6 1098.5,1863.8 1099.2,1864.7 1099.9,1863.8 1100.6,1863.1 1101.3,1864.4 1102,1864.3 1102.7,1863.3 1103.4,1863 1104,1863.3 1104.7,1864.8 1105.4,1863.7 1106.1,1865.9 1106.8,1863.5 1107.5,1864.4 1108.2,1864.2 1108.9,1863.8 1109.6,1864.5 1110.3,1863.3 1111,1863.9 1111.7,1863.1 1112.4,1862.4 1113.1,1864 1113.8,1863.2 1114.5,1863 1115.2,1864.4 1115.8,1863.8 1116.5,1864.2 1117.2,1865.2 1117.9,1864.1 1118.6,1864.3 1119.3,1863.1 1120,1864.5 1120.7,1864.6 1121.4,1863.2 1122.1,1864.4 1122.8,1864.2 1123.5,1863.8 1124.2,1864 1124.9,1865.7 1125.6,1863.5 1126.3,1863.7 1127,1864 1127.6,1863.8 1128.3,1862.7 1129,1864.4 1129.7,1864.6 1130.4,1865.2 1131.1,1863.6 1131.8,1863.1 1132.5,1864.4 1133.2,1863.2 1133.9,1864 1134.6,1863.7 1135.3,1864.1 1136,1863.7 1136.7,1864.5 1137.4,1863.3 1138.1,1865.6 1138.8,1864.5 1139.5,1863.5 1140.1,1863.3 1140.8,1863.8 1141.5,1863.6 1142.2,1863.4 1142.9,1864.9 1143.6,1864.6 1144.3,1863.2 1145,1864.4 1145.7,1864 1146.4,1864.5 1147.1,1863.5 1147.8,1865.5 1148.5,1864 1149.2,1865.4 1149.9,1863.6 1150.6,1864.9 1151.3,1863.9 1151.9,1865.1 1152.6,1863.8 1153.3,1863.2 1154,1863.2 1154.7,1863.5 1155.4,1864.4 1156.1,1864.2 1156.8,1864.1 1157.5,1864.7 1158.2,1865.1 1158.9,1863.3 1159.6,1864.7 1160.3,1865.6 1161,1863.5 1161.7,1863.6 1162.4,1864.3 1163.1,1864.1 1163.8,1863.6 1164.4,1863.9 1165.1,1865.1 1165.8,1864.6 1166.5,1863.4 1167.2,1862.8 1167.9,1863.2 1168.6,1864.1 1169.3,1863.4 1170,1863.4" fill="none" stroke="#7a0a10" stroke-width="3.8" stroke-linejoin="round"/>
<rect x="298.4" y="1087.8" width="5.2" height="52" fill="#2020e8"/>
<rect x="375.6" y="1087.8" width="4.2" height="8" fill="#2020e8"/>
<rect x="387.4" y="1087.8" width="4.2" height="10" fill="#2020e8"/>
<rect x="520.5" y="1087.8" width="4.2" height="3" fill="#2020e8"/>
<rect x="644.6" y="1087.8" width="4.2" height="17" fill="#2020e8"/>
<rect x="654.1" y="1087.8" width="4.2" height="10" fill="#2020e8"/>
<rect x="800.8" y="1087.8" width="4.2" height="9" fill="#2020e8"/>
<rect x="817.3" y="1087.8" width="4.2" height="15" fill="#2020e8"/>
<rect x="864.2" y="1087.8" width="4.2" height="5" fill="#2020e8"/>
<rect x="1039.5" y="1087.8" width="4.2" height="3" fill="#2020e8"/>
<rect x="1051.6" y="1087.8" width="4.2" height="4" fill="#2020e8"/>
<rect x="195.3" y="1910.6" width="5.5" height="6" fill="#ff1414"/>
<rect x="202.2" y="1908.6" width="5.5" height="8" fill="#ff1414"/>
<rect x="267.4" y="1872.6" width="7" height="44" fill="#ff1414"/>
<rect x="324.7" y="1886.6" width="7" height="30" fill="#ff1414"/>
<rect x="372.3" y="1908.6" width="5.5" height="8" fill="#ff1414"/>
<rect x="376.7" y="1910.6" width="5.5" height="6" fill="#ff1414"/>
<rect x="391.4" y="1910.6" width="5.5" height="6" fill="#ff1414"/>
<rect x="401.8" y="1913.6" width="5.5" height="3" fill="#ff1414"/>
<rect x="448.7" y="1914.6" width="5.5" height="2" fill="#ff1414"/>
<rect x="486.9" y="1912.6" width="5.5" height="4" fill="#ff1414"/>
<rect x="495.5" y="1913.6" width="5.5" height="3" fill="#ff1414"/>
<rect x="559.8" y="1913.6" width="5.5" height="3" fill="#ff1414"/>
<rect x="570.2" y="1914.6" width="5.5" height="2" fill="#ff1414"/>
<rect x="634.4" y="1911.6" width="5.5" height="5" fill="#ff1414"/>
<rect x="648.3" y="1908.6" width="5.5" height="8" fill="#ff1414"/>
<rect x="657" y="1911.6" width="5.5" height="5" fill="#ff1414"/>
<rect x="667.4" y="1913.6" width="5.5" height="3" fill="#ff1414"/>
<rect x="717.7" y="1913.6" width="5.5" height="3" fill="#ff1414"/>
<rect x="740.3" y="1912.6" width="5.5" height="4" fill="#ff1414"/>
<rect x="749" y="1913.6" width="5.5" height="3" fill="#ff1414"/>
<rect x="771.5" y="1913.6" width="5.5" height="3" fill="#ff1414"/>
<rect x="785.4" y="1914.6" width="5.5" height="2" fill="#ff1414"/>
<rect x="818.4" y="1912.6" width="5.5" height="4" fill="#ff1414"/>
<rect x="821.9" y="1913.6" width="5.5" height="3" fill="#ff1414"/>
<rect x="844.4" y="1913.6" width="5.5" height="3" fill="#ff1414"/>
<rect x="856.6" y="1914.6" width="5.5" height="2" fill="#ff1414"/>
<rect x="868.7" y="1913.6" width="5.5" height="3" fill="#ff1414"/>
<rect x="873.9" y="1914.6" width="5.5" height="2" fill="#ff1414"/>
<rect x="894.8" y="1914.6" width="5.5" height="2" fill="#ff1414"/>
<rect x="919" y="1913.6" width="5.5" height="3" fill="#ff1414"/>
<rect x="927.7" y="1914.6" width="5.5" height="2" fill="#ff1414"/>
<rect x="978.1" y="1914.6" width="5.5" height="2" fill="#ff1414"/>
<rect x="1016.2" y="1914.6" width="5.5" height="2" fill="#ff1414"/>
<rect x="1085.7" y="1914.6" width="5.5" height="2" fill="#ff1414"/>
<rect x="1106.5" y="1914.6" width="5.5" height="2" fill="#ff1414"/>
<rect x="128.6" y="1087.8" width="1041.4" height="828.8" fill="none" stroke="#000" stroke-width="3.4"/>
<line x1="128.6" y1="1806.2" x2="145.6" y2="1806.2" stroke="#000" stroke-width="3.2"/>
<line x1="1153" y1="1806.2" x2="1170" y2="1806.2" stroke="#000" stroke-width="3.2"/>
<line x1="128.6" y1="1695.8" x2="145.6" y2="1695.8" stroke="#000" stroke-width="3.2"/>
<line x1="1153" y1="1695.8" x2="1170" y2="1695.8" stroke="#000" stroke-width="3.2"/>
<line x1="128.6" y1="1585.4" x2="145.6" y2="1585.4" stroke="#000" stroke-width="3.2"/>
<line x1="1153" y1="1585.4" x2="1170" y2="1585.4" stroke="#000" stroke-width="3.2"/>
<line x1="128.6" y1="1475" x2="145.6" y2="1475" stroke="#000" stroke-width="3.2"/>
<line x1="1153" y1="1475" x2="1170" y2="1475" stroke="#000" stroke-width="3.2"/>
<line x1="128.6" y1="1364.6" x2="145.6" y2="1364.6" stroke="#000" stroke-width="3.2"/>
<line x1="1153" y1="1364.6" x2="1170" y2="1364.6" stroke="#000" stroke-width="3.2"/>
<line x1="128.6" y1="1254.2" x2="145.6" y2="1254.2" stroke="#000" stroke-width="3.2"/>
<line x1="1153" y1="1254.2" x2="1170" y2="1254.2" stroke="#000" stroke-width="3.2"/>
<line x1="128.6" y1="1143.8" x2="145.6" y2="1143.8" stroke="#000" stroke-width="3.2"/>
<line x1="1153" y1="1143.8" x2="1170" y2="1143.8" stroke="#000" stroke-width="3.2"/>
<line x1="128.6" y1="1861.4" x2="137.6" y2="1861.4" stroke="#000" stroke-width="3.2"/>
<line x1="1161" y1="1861.4" x2="1170" y2="1861.4" stroke="#000" stroke-width="3.2"/>
<line x1="128.6" y1="1751" x2="137.6" y2="1751" stroke="#000" stroke-width="3.2"/>
<line x1="1161" y1="1751" x2="1170" y2="1751" stroke="#000" stroke-width="3.2"/>
<line x1="128.6" y1="1640.6" x2="137.6" y2="1640.6" stroke="#000" stroke-width="3.2"/>
<line x1="1161" y1="1640.6" x2="1170" y2="1640.6" stroke="#000" stroke-width="3.2"/>
<line x1="128.6" y1="1530.2" x2="137.6" y2="1530.2" stroke="#000" stroke-width="3.2"/>
<line x1="1161" y1="1530.2" x2="1170" y2="1530.2" stroke="#000" stroke-width="3.2"/>
<line x1="128.6" y1="1419.8" x2="137.6" y2="1419.8" stroke="#000" stroke-width="3.2"/>
<line x1="1161" y1="1419.8" x2="1170" y2="1419.8" stroke="#000" stroke-width="3.2"/>
<line x1="128.6" y1="1309.4" x2="137.6" y2="1309.4" stroke="#000" stroke-width="3.2"/>
<line x1="1161" y1="1309.4" x2="1170" y2="1309.4" stroke="#000" stroke-width="3.2"/>
<line x1="128.6" y1="1199" x2="137.6" y2="1199" stroke="#000" stroke-width="3.2"/>
<line x1="1161" y1="1199" x2="1170" y2="1199" stroke="#000" stroke-width="3.2"/>
<line x1="128.6" y1="1088.6" x2="137.6" y2="1088.6" stroke="#000" stroke-width="3.2"/>
<line x1="1161" y1="1088.6" x2="1170" y2="1088.6" stroke="#000" stroke-width="3.2"/>
<line x1="128.6" y1="1916.6" x2="128.6" y2="1932.6" stroke="#000" stroke-width="3.2"/>
<text x="107.3" y="1973.5" font-family="Liberation Sans, Arial, sans-serif" font-weight="bold" font-size="38.5" fill="#000">20</text>
<line x1="302.2" y1="1916.6" x2="302.2" y2="1932.6" stroke="#000" stroke-width="3.2"/>
<text x="281.1" y="1973.5" font-family="Liberation Sans, Arial, sans-serif" font-weight="bold" font-size="38.5" fill="#000">30</text>
<line x1="475.7" y1="1916.6" x2="475.7" y2="1932.6" stroke="#000" stroke-width="3.2"/>
<text x="454.8" y="1973.5" font-family="Liberation Sans, Arial, sans-serif" font-weight="bold" font-size="38.5" fill="#000">40</text>
<line x1="649.3" y1="1916.6" x2="649.3" y2="1932.6" stroke="#000" stroke-width="3.2"/>
<text x="628.1" y="1973.5" font-family="Liberation Sans, Arial, sans-serif" font-weight="bold" font-size="38.5" fill="#000">50</text>
<line x1="822.9" y1="1916.6" x2="822.9" y2="1932.6" stroke="#000" stroke-width="3.2"/>
<text x="801.5" y="1973.5" font-family="Liberation Sans, Arial, sans-serif" font-weight="bold" font-size="38.5" fill="#000">60</text>
<line x1="996.4" y1="1916.6" x2="996.4" y2="1932.6" stroke="#000" stroke-width="3.2"/>
<text x="975" y="1973.5" font-family="Liberation Sans, Arial, sans-serif" font-weight="bold" font-size="38.5" fill="#000">70</text>
<line x1="1170" y1="1916.6" x2="1170" y2="1932.6" stroke="#000" stroke-width="3.2"/>
<text x="1148.8" y="1973.5" font-family="Liberation Sans, Arial, sans-serif" font-weight="bold" font-size="38.5" fill="#000">80</text>
<line x1="215.4" y1="1916.6" x2="215.4" y2="1925.6" stroke="#000" stroke-width="3.2"/>
<line x1="389" y1="1916.6" x2="389" y2="1925.6" stroke="#000" stroke-width="3.2"/>
<line x1="562.5" y1="1916.6" x2="562.5" y2="1925.6" stroke="#000" stroke-width="3.2"/>
<line x1="736.1" y1="1916.6" x2="736.1" y2="1925.6" stroke="#000" stroke-width="3.2"/>
<line x1="909.7" y1="1916.6" x2="909.7" y2="1925.6" stroke="#000" stroke-width="3.2"/>
<line x1="1083.2" y1="1916.6" x2="1083.2" y2="1925.6" stroke="#000" stroke-width="3.2"/>
<text transform="translate(160,1157) scale(1.14,1)" x="-1.5" font-family="Liberation Sans, Arial, sans-serif" font-size="60">c</text>
<text x="814.7" y="1137.9" font-family="Liberation Sans, Arial, sans-serif" font-size="35.5" fill="#000"><tspan y="1137.9">PDF-Tetragonal ZrO</tspan><tspan y="1151.4" font-size="21.3">2</tspan></text>
<text x="458.7" y="1198.9" font-family="Liberation Sans, Arial, sans-serif" font-size="39.5" fill="#000"><tspan y="1198.9">ZrO</tspan><tspan y="1214.7" font-size="23.7">2</tspan><tspan y="1198.9">- Tetragonal reference</tspan></text>
<text x="458.7" y="1314.7" font-family="Liberation Sans, Arial, sans-serif" font-size="39.5" fill="#000"><tspan y="1314.7">ZrO</tspan><tspan y="1330.5" font-size="23.7">2</tspan><tspan y="1314.7">- Monoclinic reference</tspan></text>
<text x="459.3" y="1405.4" font-family="Liberation Sans, Arial, sans-serif" font-size="39.5" fill="#000"><tspan y="1405.4">10Eu(I)-ZrO</tspan><tspan y="1421.2" font-size="23.7">2</tspan><tspan y="1405.4"> (RH)</tspan></text>
<text x="464" y="1564.3" font-family="Liberation Sans, Arial, sans-serif" font-size="39.5" fill="#000"><tspan y="1564.3">10Eu(I)-ZrO</tspan><tspan y="1580.1" font-size="23.7">2</tspan><tspan y="1564.3"> (OW)</tspan></text>
<text x="463.7" y="1731.4" font-family="Liberation Sans, Arial, sans-serif" font-size="39.5" fill="#000"><tspan y="1731.4">20Eu(I)-ZrO</tspan><tspan y="1747.2" font-size="23.7">2</tspan><tspan y="1731.4"> (CIT)</tspan></text>
<text x="966.6" y="1232.6" font-family="Liberation Sans, Arial, sans-serif" font-size="39.5" fill="#000"><tspan y="1232.6">T=500</tspan><tspan y="1210.5" font-size="23.7">o</tspan><tspan y="1232.6">C</tspan></text>
<text x="966.6" y="1345.7" font-family="Liberation Sans, Arial, sans-serif" font-size="39.5" fill="#000"><tspan y="1345.7">T=1000</tspan><tspan y="1323.6" font-size="23.7">o</tspan><tspan y="1345.7">C</tspan></text>
<text x="966.6" y="1449.2" font-family="Liberation Sans, Arial, sans-serif" font-size="39.5" fill="#000"><tspan y="1449.2">T=500</tspan><tspan y="1427.1" font-size="23.7">o</tspan><tspan y="1449.2">C</tspan></text>
<text x="966.6" y="1511.7" font-family="Liberation Sans, Arial, sans-serif" font-size="39.5" fill="#000"><tspan y="1511.7">T=1000</tspan><tspan y="1489.6" font-size="23.7">o</tspan><tspan y="1511.7">C</tspan></text>
<text x="966.6" y="1612" font-family="Liberation Sans, Arial, sans-serif" font-size="39.5" fill="#000"><tspan y="1612">T=500</tspan><tspan y="1589.9" font-size="23.7">o</tspan><tspan y="1612">C</tspan></text>
<text x="966.6" y="1673.7" font-family="Liberation Sans, Arial, sans-serif" font-size="39.5" fill="#000"><tspan y="1673.7">T=1000</tspan><tspan y="1651.6" font-size="23.7">o</tspan><tspan y="1673.7">C</tspan></text>
<text x="966.6" y="1766.7" font-family="Liberation Sans, Arial, sans-serif" font-size="39.5" fill="#000"><tspan y="1766.7">T=500</tspan><tspan y="1744.6" font-size="23.7">o</tspan><tspan y="1766.7">C</tspan></text>
<text x="966.6" y="1847.6" font-family="Liberation Sans, Arial, sans-serif" font-size="39.5" fill="#000"><tspan y="1847.6">T=1000</tspan><tspan y="1825.5" font-size="23.7">o</tspan><tspan y="1847.6">C</tspan></text>
<text x="835.3" y="1899.1" font-family="Liberation Sans, Arial, sans-serif" font-size="33.5" fill="#000"><tspan y="1899.1">PDF-Monoclinic ZrO</tspan><tspan y="1912.5" font-size="20.1">2</tspan></text>
<text transform="translate(75,1753.3) rotate(-90) scale(1,1.04)" font-family="Liberation Sans, Arial, sans-serif" font-weight="bold" font-size="64" fill="#000" textLength="433.8" lengthAdjust="spacingAndGlyphs">Intensity (a.u.)</text>
<text y="2065" font-family="Liberation Sans, Arial, sans-serif" font-weight="bold" font-size="62"><tspan x="464.9">2</tspan><tspan x="500.9" font-family="Liberation Serif, Times New Roman, serif" font-weight="normal" font-size="60">Θ</tspan><tspan x="563.5" textLength="286.1" lengthAdjust="spacingAndGlyphs">(degrees)</tspan></text>
</g>
<g id="pd">
<rect x="1384.9" y="1749.4" width="63.7" height="149.2" fill="#f8f47a" stroke="#6a6a50" stroke-width="1.3"/>
<path d="M1368.5,1270.6 1369.3,1270.2 1370.1,1270.2 1370.9,1270 1371.7,1270.3 1372.5,1269.5 1373.3,1269.4 1374.1,1269.4 1374.9,1269.9 1375.7,1269.7 1376.5,1268.9 1377.3,1268.9 1378.1,1269 1378.9,1268.7 1379.7,1268.7 1380.5,1268.1 1381.3,1267.6 1382.1,1268 1382.9,1267.9 1383.7,1266.9 1384.5,1266.6 1385.3,1266.6 1386.1,1265.9 1386.9,1266.1 1387.7,1265.3 1388.5,1265.4 1389.3,1264.6 1390.1,1264.2 1390.9,1263.8 1391.7,1262.9 1392.5,1262 1393.3,1261.7 1394.1,1260.2 1394.9,1259.9 1395.7,1258.2 1396.5,1256.8 1397.3,1255.5 1398.1,1253.6 1398.9,1251.4 1399.7,1248.1 1400.5,1245 1401.3,1241.2 1402.1,1236.3 1402.9,1230.3 1403.7,1223.5 1404.5,1214.7 1405.3,1205.1 1406.1,1193.8 1406.9,1180.9 1407.7,1167 1408.5,1153 1409.3,1139.2 1410.1,1127.4 1410.9,1118.8 1411.7,1115.9 1412.5,1118.5 1413.3,1125.2 1414.1,1136.1 1414.9,1148.6 1415.7,1162 1416.5,1173.7 1417.3,1185.8 1418.1,1195.2 1418.9,1202.9 1419.7,1209.1 1420.5,1213.6 1421.3,1216 1422.1,1216.9 1422.9,1216.1 1423.7,1213.4 1424.5,1209.4 1425.3,1203.8 1426.1,1196.4 1426.9,1187.5 1427.7,1178.4 1428.5,1168.9 1429.3,1159 1430.1,1151.6 1430.9,1147.1 1431.7,1146.7 1432.5,1150.2 1433.3,1157.8 1434.1,1168.3 1434.9,1179.1 1435.7,1190.1 1436.5,1201.3 1437.3,1210.9 1438.1,1220 1438.9,1226.9 1439.7,1233.7 1440.5,1239.4 1441.3,1243.4 1442.1,1247.3 1442.9,1250.7 1443.7,1253.1 1444.5,1255.1 1445.3,1257 1446.1,1258.1 1446.9,1259.5 1447.7,1261.2 1448.5,1261.5 1449.3,1262.6 1450.1,1263.2 1450.9,1264.1 1451.7,1264.5 1452.5,1265 1453.3,1265.7 1454.1,1265.9 1454.9,1265.8 1455.7,1266.4 1456.5,1267.2 1457.3,1267.4 1458.1,1267.4 1458.9,1267.3 1459.7,1267.7 1460.5,1268.6 1461.3,1268.6 1462.1,1268.7 1462.9,1268.2 1463.7,1268.4 1464.5,1268.7 1465.3,1268.6 1466.1,1269 1466.9,1268.8 1467.7,1269.2 1468.5,1269 1469.3,1268.9 1470.1,1269.2 1470.9,1269.1 1471.7,1268.8 1472.5,1268.5 1473.3,1268.2 1474.1,1267.3 1474.9,1266.6 1475.7,1266.1 1476.5,1265.2 1477.3,1264.2 1478.1,1262.1 1478.9,1259.8 1479.7,1257.7 1480.5,1255.2 1481.3,1253.1 1482.1,1251 1482.9,1249.4 1483.7,1248.7 1484.5,1249.1 1485.3,1250.1 1486.1,1251.5 1486.9,1254.3 1487.7,1256.3 1488.5,1259 1489.3,1261.2 1490.1,1263.6 1490.9,1264.9 1491.7,1266.3 1492.5,1267.5 1493.3,1268.7 1494.1,1269.2 1494.9,1269.6 1495.7,1270.3 1496.5,1271 1497.3,1271.1 1498.1,1271.3 1498.9,1270.9 1499.7,1271.2 1500.5,1271.4 1501.3,1271 1502.1,1271.9 1502.9,1271.3 1503.7,1271.8 1504.5,1271.4 1505.3,1271.8 1506.1,1272.1 1506.9,1272.1 1507.7,1271.8 1508.5,1271.9 1509.3,1272.3 1510.1,1272.1 1510.9,1272.2 1511.7,1272.4 1512.5,1271.6 1513.3,1272.3 1514.1,1272.6 1514.9,1272.7 1515.7,1272.5 1516.5,1272.2 1517.3,1272.6 1518.1,1272.9 1518.9,1272.3 1519.7,1272.3 1520.5,1272.4 1521.3,1272.4 1522.1,1272 1522.9,1271.9 1523.7,1272.2 1524.5,1272.4 1525.3,1272.6 1526.1,1272.4 1526.9,1272.6 1527.7,1272.9 1528.5,1273.3 1529.3,1272.8 1530.1,1272.4 1530.9,1272.9 1531.7,1272.6 1532.5,1272.7 1533.3,1272.9 1534.1,1272.8 1534.9,1272.3 1535.7,1272.4 1536.5,1272.7 1537.3,1272.8 1538.1,1273.2 1538.9,1272.8 1539.7,1272.6 1540.5,1272.5 1541.3,1272.5 1542.1,1272.3 1542.9,1272.3 1543.7,1272.5 1544.5,1272.7 1545.3,1272.5 1546.1,1272.7 1546.9,1272.6 1547.7,1272.6 1548.5,1272.5 1549.3,1272.7 1550.1,1272.6 1550.9,1272 1551.7,1272.7 1552.5,1272.6 1553.3,1272.5 1554.1,1272.6 1554.9,1272.4 1555.7,1272.6 1556.5,1272.4 1557.3,1272.7 1558.1,1272.6 1558.9,1272.2 1559.7,1272.4 1560.5,1272.7 1561.3,1272.6 1562.1,1272.5 1562.9,1272.2 1563.7,1272.3 1564.5,1272.5 1565.3,1272.5 1566.1,1272.4 1566.9,1272.2 1567.7,1272.3 1568.5,1272.2 1569.3,1272 1570.1,1272 1570.9,1272 1571.7,1271.8 1572.5,1272.3 1573.3,1272.3 1574.1,1272.3 1574.9,1271.9 1575.7,1271.8 1576.5,1272 1577.3,1271.8 1578.1,1271.8 1578.9,1271.8 1579.7,1271.4 1580.5,1272 1581.3,1271.3 1582.1,1271.2 1582.9,1271.7 1583.7,1271.1 1584.5,1271.6 1585.3,1271.3 1586.1,1271.2 1586.9,1270.9 1587.7,1270.5 1588.5,1270.4 1589.3,1270.6 1590.1,1270.3 1590.9,1269.9 1591.7,1269.7 1592.5,1269.6 1593.3,1269.5 1594.1,1269.4 1594.9,1269.2 1595.7,1268.6 1596.5,1268.7 1597.3,1268.2 1598.1,1268 1598.9,1267 1599.7,1266.9 1600.5,1266.6 1601.3,1265.4 1602.1,1265.5 1602.9,1264.8 1603.7,1264.4 1604.5,1263.6 1605.3,1263.2 1606.1,1262.1 1606.9,1261.4 1607.7,1261 1608.5,1260.2 1609.3,1259 1610.1,1258.8 1610.9,1258 1611.7,1257.2 1612.5,1255.9 1613.3,1255.6 1614.1,1254.6 1614.9,1254 1615.7,1253 1616.5,1252.1 1617.3,1251.4 1618.1,1250.8 1618.9,1250.6 1619.7,1249.7 1620.5,1249.3 1621.3,1249.1 1622.1,1248.7 1622.9,1248.2 1623.7,1248.4 1624.5,1248.5 1625.3,1249.1 1626.1,1249.1 1626.9,1249 1627.7,1249.4 1628.5,1250 1629.3,1250.7 1630.1,1251 1630.9,1251.9 1631.7,1252.1 1632.5,1253.2 1633.3,1254 1634.1,1253.8 1634.9,1255.1 1635.7,1255.8 1636.5,1256.5 1637.3,1257.1 1638.1,1257.6 1638.9,1258.3 1639.7,1258.8 1640.5,1259.3 1641.3,1260.2 1642.1,1260.5 1642.9,1260.9 1643.7,1260.8 1644.5,1261.2 1645.3,1261.8 1646.1,1261.5 1646.9,1262.2 1647.7,1261.7 1648.5,1262.6 1649.3,1262.3 1650.1,1261.8 1650.9,1261.6 1651.7,1260.9 1652.5,1261 1653.3,1260.8 1654.1,1260 1654.9,1258.9 1655.7,1258.4 1656.5,1256.8 1657.3,1255.3 1658.1,1253.3 1658.9,1251.4 1659.7,1249.4 1660.5,1246.1 1661.3,1242.3 1662.1,1239.1 1662.9,1235.4 1663.7,1230.7 1664.5,1225.4 1665.3,1220.4 1666.1,1214.5 1666.9,1209.3 1667.7,1203.3 1668.5,1198 1669.3,1193 1670.1,1188.7 1670.9,1186 1671.7,1183.9 1672.5,1182.8 1673.3,1183.6 1674.1,1185.9 1674.9,1188.4 1675.7,1191.9 1676.5,1195.8 1677.3,1200.5 1678.1,1204.2 1678.9,1207.8 1679.7,1210.8 1680.5,1213.3 1681.3,1215.7 1682.1,1216.6 1682.9,1217.2 1683.7,1216.9 1684.5,1216.4 1685.3,1215.3 1686.1,1213.7 1686.9,1211.6 1687.7,1209.8 1688.5,1208.1 1689.3,1206 1690.1,1205.8 1690.9,1205.5 1691.7,1206 1692.5,1207.9 1693.3,1210.5 1694.1,1213.6 1694.9,1217.2 1695.7,1221.2 1696.5,1225.5 1697.3,1229.1 1698.1,1233.3 1698.9,1237.4 1699.7,1240.9 1700.5,1243.9 1701.3,1247.1 1702.1,1249.8 1702.9,1252.4 1703.7,1254.1 1704.5,1256 1705.3,1257.6 1706.1,1259.3 1706.9,1261.2 1707.7,1261.8 1708.5,1262.7 1709.3,1263.2 1710.1,1264.1 1710.9,1264.4 1711.7,1264.7 1712.5,1265.3 1713.3,1265.1 1714.1,1265.1 1714.9,1265.5 1715.7,1266.3 1716.5,1266.3 1717.3,1266.2 1718.1,1266.2 1718.9,1266.2 1719.7,1266.3 1720.5,1266 1721.3,1266.3 1722.1,1265.8 1722.9,1266.2 1723.7,1265.6 1724.5,1265.2 1725.3,1265.1 1726.1,1264.6 1726.9,1264.4 1727.7,1263.5 1728.5,1263.2 1729.3,1262.7 1730.1,1262 1730.9,1260.9 1731.7,1260.3 1732.5,1258.4 1733.3,1257.4 1734.1,1255.8 1734.9,1254.1 1735.7,1252.1 1736.5,1250.4 1737.3,1247.7 1738.1,1244.8 1738.9,1242.8 1739.7,1239.2 1740.5,1235.8 1741.3,1232.6 1742.1,1228.6 1742.9,1225 1743.7,1221.4 1744.5,1217.2 1745.3,1213.6 1746.1,1210.5 1746.9,1207.5 1747.7,1204.3 1748.5,1202.2 1749.3,1201 1750.1,1199.7 1750.9,1200 1751.7,1200.9 1752.5,1202.3 1753.3,1204.5 1754.1,1208 1754.9,1211.7 1755.7,1215.2 1756.5,1219.2 1757.3,1222.1 1758.1,1226.6 1758.9,1230.7 1759.7,1233.8 1760.5,1237.2 1761.3,1240.9 1762.1,1243.9 1762.9,1246.9 1763.7,1249.4 1764.5,1252.1 1765.3,1254.1 1766.1,1256 1766.9,1257.6 1767.7,1259.5 1768.5,1260.5 1769.3,1262.2 1770.1,1263.3 1770.9,1264.2 1771.7,1264.6 1772.5,1265.7 1773.3,1266.4 1774.1,1267.1 1774.9,1267 1775.7,1267.7 1776.5,1268.2 1777.3,1269 1778.1,1268.8 1778.9,1269.5 1779.7,1269.6 1780.5,1270.2 1781.3,1270.1 1782.1,1269.8 1782.9,1270.3 1783.7,1270.6 1784.5,1271.1 1785.3,1271.1 1786.1,1271 1786.9,1270.9 1787.7,1271.3 1788.5,1271.4 1789.3,1271.9 1790.1,1271.9 1790.9,1271.4 1791.7,1271.3 1792.5,1271.8 1793.3,1272.1 1794.1,1271.9 1794.9,1272.1 1795.7,1272.5 1796.5,1272.5 1797.3,1272 1798.1,1272.5 1798.9,1272.5 1799.7,1272.5 1800.5,1272.7 1801.3,1272.8 1802.1,1273.3 1802.9,1272.8 1803.7,1272.6 1804.5,1272.7 1805.3,1273 1806.1,1273.4 1806.9,1273.1 1807.7,1273.1 1808.5,1273.1 1809.3,1272.9 1810.1,1273.1 1810.9,1272.8 1811.7,1273.3 1812.5,1273.2 1813.3,1273.2 1814.1,1273 1814.9,1273.1 1815.7,1273.1 1816.5,1273.3 1817.3,1273.1 1818.1,1273.3 1818.9,1273.5 1819.7,1273.6 1820.5,1273 1821.3,1273.2 1822.1,1273 1822.9,1273.6 1823.7,1273.1 1824.5,1273.6 1825.3,1273.1 1826.1,1273.5 1826.9,1273.1 1827.7,1273.2 1828.5,1273.3 1829.3,1273.3 1830.1,1273.2 1830.9,1273.4 1831.7,1273.5 1832.5,1273.4 1833.3,1273.1 1834.1,1272.7 1834.9,1273.2 1835.7,1272.4 1836.5,1273.3 1837.3,1273.2 1838.1,1272.8 1838.9,1273.2 1839.7,1272.8 1840.5,1273.3 1841.3,1272.8 1842.1,1272.7 1842.9,1272.7 1843.7,1272.9 1844.5,1272.5 1845.3,1273.3 1846.1,1272.6 1846.9,1273.1 1847.7,1272.5 1848.5,1272.5 1849.3,1272.3 1850.1,1272.3 1850.9,1272.5 1851.7,1272.6 1852.5,1272.3 1853.3,1272 1854.1,1272.2 1854.9,1271.8 1855.7,1271.3 1856.5,1271.9 1857.3,1271.3 1858.1,1271.5 1858.9,1271.6 1859.7,1271.4 1860.5,1271.3 1861.3,1271.6 1862.1,1271.3 1862.9,1271.3 1863.7,1270.9 1864.5,1270.7 1865.3,1270.9 1866.1,1270.2 1866.9,1270.2 1867.7,1270 1868.5,1269.8 1869.3,1269.7 1870.1,1269.3 1870.9,1269.3 1871.7,1268.6 1872.5,1268.6 1873.3,1268 1874.1,1268.1 1874.9,1267.8 1875.7,1267.1 1876.5,1266.6 1877.3,1266.3 1878.1,1265.9 1878.9,1264.9 1879.7,1264.4 1880.5,1264.2 1881.3,1263.2 1882.1,1262 1882.9,1260.9 1883.7,1260.2 1884.5,1258.7 1885.3,1257.7 1886.1,1256.1 1886.9,1254.8 1887.7,1252 1888.5,1250.1 1889.3,1247 1890.1,1244.1 1890.9,1241 1891.7,1237.1 1892.5,1233.7 1893.3,1228.7 1894.1,1223.5 1894.9,1218.8 1895.7,1212.2 1896.5,1205.9 1897.3,1199.3 1898.1,1192.1 1898.9,1185.1 1899.7,1177.7 1900.5,1169.4 1901.3,1162.1 1902.1,1154.8 1902.9,1147.8 1903.7,1141.8 1904.5,1136.9 1905.3,1133 1906.1,1130.9 1906.9,1130.2 1907.7,1130.8 1908.5,1133.2 1909.3,1136.8 1910.1,1141.9 1910.9,1148.2 1911.7,1155 1912.5,1162.1 1913.3,1169.7 1914.1,1177.1 1914.9,1184.4 1915.7,1192.1 1916.5,1199 1917.3,1205.4 1918.1,1212.3 1918.9,1218 1919.7,1223.5 1920.5,1228.2 1921.3,1233.2 1922.1,1237 1922.9,1240.8 1923.7,1243.7 1924.5,1246.7 1925.3,1249.7 1926.1,1251.6 1926.9,1253.6 1927.7,1255.7 1928.5,1257.1 1929.3,1258.2 1930.1,1259.8 1930.9,1259.9 1931.7,1261.1 1932.5,1261.7 1933.3,1262.7 1934.1,1263.2 1934.9,1263.1 1935.7,1263.5 1936.5,1263.8 1937.3,1263.8 1938.1,1263.7 1938.9,1263.6 1939.7,1263.5 1940.5,1262.7 1941.3,1261.8 1942.1,1261.3 1942.9,1260.4 1943.7,1259.4 1944.5,1258.5 1945.3,1257.3 1946.1,1256 1946.9,1254.5 1947.7,1253 1948.5,1251.3 1949.3,1250.2 1950.1,1248.9 1950.9,1248.3 1951.7,1247.6 1952.5,1247.4 1953.3,1247.7 1954.1,1248 1954.9,1249.3 1955.7,1250.5 1956.5,1251.5 1957.3,1253.6 1958.1,1254.9 1958.9,1256.5 1959.7,1258.2 1960.5,1259.6 1961.3,1261.5 1962.1,1263.1 1962.9,1263.7 1963.7,1265.3 1964.5,1266.4 1965.3,1267.3 1966.1,1268.1 1966.9,1268.7 1967.7,1269.1 1968.5,1269.9 1969.3,1270.2 1970.1,1270.7 1970.9,1270.8 1971.7,1270.9 1972.5,1271.2 1973.3,1271.5 1974.1,1271.8 1974.9,1271.2 1975.7,1271.4 1976.5,1271.4 1977.3,1271.8 1978.1,1271.8 1978.9,1272 1979.7,1271.9 1980.5,1272.3 1981.3,1271.8 1982.1,1271.8 1982.9,1271.7 1983.7,1271.7 1984.5,1271.8 1985.3,1271.5 1986.1,1271.2 1986.9,1271 1987.7,1271.1 1988.5,1270.7 1989.3,1270.3 1990.1,1270.1 1990.9,1269.8 1991.7,1269.8 1992.5,1269.2 1993.3,1268 1994.1,1267.4 1994.9,1266.3 1995.7,1265.5 1996.5,1264.6 1997.3,1264.3 1998.1,1263 1998.9,1261.6 1999.7,1260.6 2000.5,1259.5 2001.3,1258.2 2002.1,1257.5 2002.9,1255.5 2003.7,1254.7 2004.5,1253.8 2005.3,1253 2006.1,1251.5 2006.9,1251.5 2007.7,1250.8 2008.5,1250.8 2009.3,1250.7 2010.1,1251.6 2010.9,1252.8 2011.7,1253 2012.5,1253.6 2013.3,1254.2 2014.1,1255.9 2014.9,1257.1 2015.7,1257.7 2016.5,1259.3 2017.3,1259.7 2018.1,1260.8 2018.9,1262.1 2019.7,1262.6 2020.5,1263.8 2021.3,1264.6 2022.1,1264.9 2022.9,1265.4 2023.7,1266 2024.5,1266 2025.3,1266.3 2026.1,1266.3 2026.9,1265.7 2027.7,1266.2 2028.5,1265.7 2029.3,1265 2030.1,1264.6 2030.9,1263.9 2031.7,1263.1 2032.5,1262 2033.3,1261.2 2034.1,1260.2 2034.9,1259.5 2035.7,1258.2 2036.5,1256.9 2037.3,1255.5 2038.1,1254.5 2038.9,1252.3 2039.7,1251.3 2040.5,1250.4 2041.3,1248.7 2042.1,1247.7 2042.9,1246.7 2043.7,1245.5 2044.5,1244 2045.3,1243.5 2046.1,1242.8 2046.9,1242.8 2047.7,1242.8 2048.5,1242.7 2049.3,1243.2 2050.1,1243.7 2050.9,1245 2051.7,1245.5 2052.5,1246.7 2053.3,1248 2054.1,1249.5 2054.9,1250.8 2055.7,1252 2056.5,1253.5 2057.3,1255 2058.1,1256.4 2058.9,1257.6 2059.7,1258.8 2060.5,1260.2 2061.3,1261.5 2062.1,1262.5 2062.9,1263.4 2063.7,1264.5 2064.5,1265.4 2065.3,1266.5 2066.1,1267 2066.9,1267.7 2067.7,1268.9 2068.5,1269.2 2069.3,1269.4 2070.1,1270.3 2070.9,1270.4 2071.7,1270.6 2072.5,1271.3 2073.3,1271.1 2074.1,1271.7 2074.9,1272 2075.7,1272.3 2076.5,1272.1 2077.3,1272.3 2078.1,1272.5 2078.9,1272.9 2079.7,1272.3 2080.5,1273 2081.3,1272.9 2082.1,1273.3 2082.9,1272.7 2083.7,1273.3 2084.5,1272.8 2085.3,1273.1 2086.1,1273 2086.9,1272.5 2087.7,1273.1 2088.5,1273.2 2089.3,1273.3 2090.1,1272.9 2090.9,1272.8 2091.7,1273.2 2092.5,1272.9 2093.3,1273.2 2094.1,1273.3 2094.9,1272.8 2095.7,1272.8 2096.5,1272.6 2097.3,1272.2 2098.1,1272.6 2098.9,1272.7 2099.7,1272.7 2100.5,1272.4 2101.3,1272.7 2102.1,1272 2102.9,1272 2103.7,1271.8 2104.5,1271.6 2105.3,1271.5 2106.1,1271.2 2106.9,1271.1 2107.7,1271 2108.5,1270.8 2109.3,1270.2 2110.1,1270.3 2110.9,1269.6 2111.7,1269.6 2112.5,1269.1 2113.3,1268.1 2114.1,1267.9 2114.9,1267.8 2115.7,1266.8 2116.5,1266.1 2117.3,1265.5 2118.1,1264.8 2118.9,1264 2119.7,1262.9 2120.5,1262.3 2121.3,1260.6 2122.1,1259.5 2122.9,1258.2 2123.7,1256.9 2124.5,1255.7 2125.3,1254.3 2126.1,1252 2126.9,1250.2 2127.7,1248.5 2128.5,1246.3 2129.3,1244.5 2130.1,1241.9 2130.9,1240.2 2131.7,1237.2 2132.5,1235.5 2133.3,1233.3 2134.1,1231.4 2134.9,1228.3 2135.7,1226.4 2136.5,1224.2 2137.3,1221.8 2138.1,1220.2 2138.9,1218.1 2139.7,1216.5 2140.5,1215.1 2141.3,1214.4 2142.1,1213.5 2142.9,1212.7 2143.7,1213.1 2144.5,1212.8 2145.3,1213.8 2146.1,1214.3 2146.9,1214.9 2147.7,1215.8 2148.5,1217.2 2149.3,1218.4 2150.1,1220 2150.9,1221.3 2151.7,1223.4 2152.5,1223.7 2153.3,1225.3 2154.1,1226.7 2154.9,1227.9 2155.7,1228.9 2156.5,1229 2157.3,1230 2158.1,1229.5 2158.9,1230.3 2159.7,1230.6 2160.5,1230.3 2161.3,1229.3 2162.1,1228.8 2162.9,1227.6 2163.7,1226.9 2164.5,1225.5 2165.3,1224.5 2166.1,1222.7 2166.9,1221.3 2167.7,1219.3 2168.5,1217.4 2169.3,1215.9 2170.1,1213.8 2170.9,1211.2 2171.7,1210 2172.5,1208 2173.3,1206.5 2174.1,1204.8 2174.9,1203.1 2175.7,1202.5 2176.5,1201.4 2177.3,1201.4 2178.1,1201.7 2178.9,1202.6 2179.7,1203.2 2180.5,1204.4 2181.3,1206.1 2182.1,1207.5 2182.9,1210 2183.7,1212.1 2184.5,1214.3 2185.3,1217 2186.1,1219.8 2186.9,1222.8 2187.7,1225.8 2188.5,1228.1 2189.3,1230.9 2190.1,1234.2 2190.9,1237.2 2191.7,1239.4 2192.5,1241.5 2193.3,1243.8 2194.1,1246.4 2194.9,1248.5 2195.7,1250.3 2196.5,1252.7 2197.3,1254.9 2198.1,1255.8 2198.9,1257.4 2199.7,1258.9 2200.5,1260.1 2201.3,1261.9 2202.1,1262.5 2202.9,1264.1 2203.7,1265 2204.5,1266 2205.3,1266.3 2206.1,1267.4 2206.9,1268.1 2207.7,1268.9 2208.5,1269.4 2209.3,1269.6 2210.1,1270.5 2210.9,1271 2211.7,1271.4 2212.5,1271.2 2213.3,1271.9 2214.1,1271.8 2214.9,1272.3 2215.7,1272.7 2216.5,1272.4 2217.3,1273.7 2218.1,1273.5 2218.9,1273.2 2219.7,1273.4 2220.5,1273.7 2221.3,1273.8 2222.1,1273.7 2222.9,1274.1 2223.7,1273.9 2224.5,1274.3 2225.3,1275 2226.1,1274.6 2226.9,1274.6 2227.7,1275.2 2228.5,1275 2229.3,1275.2 2230.1,1275 2230.9,1275.5 2231.7,1275.2 2232.5,1275.6 2233.3,1275.6 2234.1,1276 2234.9,1275.9 2235.7,1275.7 2236.5,1275.5 2237.3,1275.7 2238.1,1275.7 2238.9,1276.3 2239.7,1275.9 2240.5,1275.5 2241.3,1276.2 2242.1,1276.4 2242.9,1276 2243.7,1276.5 2244.5,1276 2245.3,1276.4 2246.1,1276.4 2246.9,1276.5 2247.7,1276.6 2248.5,1276.4 2249.3,1276.8 2250.1,1276.5 2250.9,1276.7 2251.7,1277.1 2252.5,1276.5 2253.3,1276.8 2254.1,1277.2 2254.9,1277.2 2255.7,1276.7 2256.5,1276.8 2257.3,1277.1 2258.1,1276.8 2258.9,1277 2259.7,1276.7 2260.5,1277.2 2261.3,1276.7 2262.1,1277.2 2262.9,1277.4 2263.7,1277 2264.5,1276.8 2265.3,1276.9 2266.1,1276.8 2266.9,1277.8 2267.7,1276.9 2268.5,1277 2269.3,1277.5 2270.1,1277.4 2270.9,1277.7 2271.7,1277.8 2272.5,1277.6 2273.3,1277.5 2274.1,1277.4 2274.9,1277.5 2275.7,1277.8 2276.5,1277.7 2277.3,1277.8 2278.1,1277.2 2278.9,1277.4 2279.7,1277.5 2280.5,1277.5 2281.3,1277.4 2282.1,1277.9 2282.9,1278 2283.7,1278.2 2284.5,1277.6 2285.3,1277.8 2286.1,1277.8 2286.9,1277.8 2287.7,1277.6 2288.5,1278 2289.3,1277.4 2290.1,1277.8 2290.9,1277.4 2291.7,1278.1 2292.5,1277.6 2293.3,1277.6 2294.1,1277.9 2294.9,1277.7 2295.7,1278 2296.5,1277.9 2297.3,1278.5 2298.1,1277.7 2298.9,1277.8 2299.7,1278.2 2300.5,1278.1 2301.3,1278.2 2302.1,1278 2302.9,1278.3 2303.7,1278.2 2304.5,1278.4 2305.3,1277.8 2306.1,1278.2 2306.9,1278.1 2307.7,1278.2 2308.5,1277.9 2309.3,1278.4 2310.1,1277.8 2310.9,1278.4 2311.7,1278.3 2312.5,1277.7 2313.3,1278.3 2314.1,1277.7 2314.9,1278.4 2315.7,1277.8 2316.5,1278.2 2317.3,1278.2 2318.1,1277.8 2318.9,1277.8 2319.7,1278.4 2320.5,1278.1 2321.3,1278.5 2322.1,1278.3 2322.9,1279 2323.7,1278.3 2324.5,1278.7 2325.3,1278.4 2326.1,1278.3 2326.9,1278.4 2327.7,1278.1 2328.5,1278.1 2329.3,1278.7 2330.1,1278.3 2330.9,1278 2331.7,1278.4 2332.5,1278.1 2333.3,1278.3 2334.1,1278.6 2334.9,1278.6 2335.7,1278.7 2336.5,1278.6 2337.3,1278.4 2338.1,1278.4 2338.9,1278.3 2339.7,1278.2 2340.5,1278.8 2341.3,1278.2 2342.1,1278.6 2342.9,1278.1 2343.7,1278.4 2344.5,1277.4 2345.3,1278.1 2346.1,1277.9 2346.9,1278.4 2347.7,1278.4 2348.5,1277.8 2349.3,1277.9 2350.1,1278.1 2350.9,1277.9 2351.7,1277.8 2352.5,1278 2353.3,1277.3 2354.1,1278 2354.9,1277.6 2355.7,1276.7 2356.5,1277.2 2357.3,1277.3 2358.1,1277.8 2358.9,1277.2 2359.7,1276.7 2360.5,1277.3 2361.3,1277 2362.1,1276.8 2362.9,1277 2363.7,1276.5 2364.5,1276.5 2365.3,1276.6 2366.1,1276.4 2366.9,1276.4 2367.7,1276 2368.5,1276.4 2369.3,1275.5 2370.1,1275.4 2370.9,1275.8 2371.7,1275.5 2372.5,1275.5 2373.3,1275.4 2374.1,1275.2 2374.9,1274.9 2375.7,1275.2 2376.5,1275.4 2377.3,1274.8 2378.1,1275.4 2378.9,1275.3 2379.7,1274.6 2380.5,1275 2381.3,1274.6 2382.1,1274.8 2382.9,1274.6 2383.7,1274.7 2384.5,1274.4 2385.3,1274.9 2386.1,1274.8 2386.9,1274.9 2387.7,1274.7 2388.5,1275.3 2389.3,1275.8 2390.1,1275.4 2390.9,1275.5 2391.7,1275.4 2392.5,1275.7 2393.3,1275.7 2394.1,1275.6 2394.9,1275.9 2395.7,1276.1 2396.5,1276.5 2397.3,1276.4 2398.1,1276.7 2398.9,1277.1 2399.7,1277.1 2400.5,1276.9 2401.3,1276.7 2402.1,1277.2 2402.9,1277.3 2403.7,1277.7 2404.5,1277.6 2405.3,1278.3 2406.1,1277.6 2406.9,1278 2407.7,1277.7 2408.5,1277.7 2409.3,1278 2410.1,1278.2 2410.9,1278.4 2411.7,1277.5 2412.5,1278.7 2413.3,1278.8 2414.1,1278.8 2414.9,1278.8 2415.7,1278.6 2416.5,1278.8 2417.3,1279 2418.1,1278.5 2418.9,1279 2419.7,1279 2420.5,1278.9 2421.3,1279.4 2422.1,1278.8 2422.9,1278.8 2423.7,1279 2424.5,1278.9 2425.3,1279.4 2426.1,1278.7 2426.9,1278.8 2427.7,1279.3 2428.5,1279.4 2429.3,1278.9 2430.1,1279.6 2430.9,1278.8 2431.7,1279.5 2432.5,1279.1 2433.3,1279.2 2434.1,1279.8 2434.9,1279.3 2435.7,1279.2 2436.5,1279.4 2437.3,1279.9 2438.1,1279.4 2438.9,1279.2 2439.7,1279.5 2440.5,1279.1 2441.3,1279.3 2442.1,1279.3 2442.9,1279.6 2443.7,1279.4 2444.5,1279.6 2445.3,1279.8 2446.1,1279.9 2446.9,1279.1 2447.7,1279.5 2448.5,1279.3 2449.3,1279.7 2450.1,1279.6 2450.9,1279.6" fill="none" stroke="#8014ff" stroke-width="3.6" stroke-linejoin="round"/>
<path d="M1450.1,1469.7 1450.9,1469.9 1451.7,1470.1 1452.5,1470.6 1453.3,1472.2 1454.1,1468.6 1454.9,1469.7 1455.7,1465.9 1456.5,1467.6 1457.3,1466.9 1458.1,1466.8 1458.9,1469.4 1459.7,1467.5 1460.5,1467.2 1461.3,1467 1462.1,1466.3 1462.9,1466 1463.7,1465.1 1464.5,1465.1 1465.3,1465 1466.1,1465.2 1466.9,1462.2 1467.7,1465.1 1468.5,1464.7 1469.3,1465.2 1470.1,1462.5 1470.9,1462.5 1471.7,1465 1472.5,1462.4 1473.3,1464 1474.1,1462 1474.9,1460.9 1475.7,1460.2 1476.5,1461.3 1477.3,1461.3 1478.1,1459.9 1478.9,1463.8 1479.7,1461.3 1480.5,1459.6 1481.3,1463.1 1482.1,1461.8 1482.9,1459.1 1483.7,1458.4 1484.5,1459.4 1485.3,1460.6 1486.1,1457 1486.9,1460.8 1487.7,1458.1 1488.5,1459.8 1489.3,1458 1490.1,1458.7 1490.9,1458.7 1491.7,1459.5 1492.5,1456 1493.3,1459.9 1494.1,1454.7 1494.9,1456.9 1495.7,1457.3 1496.5,1456 1497.3,1457.1 1498.1,1452.9 1498.9,1455.2 1499.7,1456.6 1500.5,1454.9 1501.3,1452.9 1502.1,1454.8 1502.9,1454.6 1503.7,1452.6 1504.5,1456.1 1505.3,1453 1506.1,1452.1 1506.9,1453.7 1507.7,1452.4 1508.5,1452.9 1509.3,1453.5 1510.1,1452.3 1510.9,1453.7 1511.7,1453 1512.5,1454.3 1513.3,1450.6 1514.1,1452.1 1514.9,1452.1 1515.7,1452 1516.5,1447.8 1517.3,1449 1518.1,1450.5 1518.9,1450.2 1519.7,1448.4 1520.5,1447.7 1521.3,1448.4 1522.1,1444.9 1522.9,1443.2 1523.7,1445.6 1524.5,1442.9 1525.3,1440.2 1526.1,1437.6 1526.9,1439.4 1527.7,1434.4 1528.5,1431.4 1529.3,1432.5 1530.1,1425.8 1530.9,1425.4 1531.7,1424.1 1532.5,1420 1533.3,1416.7 1534.1,1415.1 1534.9,1409.2 1535.7,1407.4 1536.5,1405.4 1537.3,1398.9 1538.1,1399.2 1538.9,1393.1 1539.7,1389.7 1540.5,1385.4 1541.3,1383.5 1542.1,1378.4 1542.9,1376.2 1543.7,1374.5 1544.5,1371.1 1545.3,1363.4 1546.1,1364.6 1546.9,1358.4 1547.7,1356.3 1548.5,1352.8 1549.3,1349.9 1550.1,1345.4 1550.9,1344.3 1551.7,1342 1552.5,1336.5 1553.3,1334.4 1554.1,1332.7 1554.9,1330.2 1555.7,1326.4 1556.5,1323.8 1557.3,1322 1558.1,1319 1558.9,1318.8 1559.7,1316.9 1560.5,1316.1 1561.3,1312.6 1562.1,1313.3 1562.9,1316.8 1563.7,1317.8 1564.5,1318.1 1565.3,1318.5 1566.1,1319.2 1566.9,1322.2 1567.7,1322.7 1568.5,1326.2 1569.3,1331.9 1570.1,1331.3 1570.9,1336.7 1571.7,1341.6 1572.5,1343.4 1573.3,1348.9 1574.1,1356.5 1574.9,1359.5 1575.7,1362.6 1576.5,1369 1577.3,1369.6 1578.1,1378.3 1578.9,1379.2 1579.7,1382.1 1580.5,1388.3 1581.3,1390.5 1582.1,1392.8 1582.9,1394.9 1583.7,1394.7 1584.5,1396.6 1585.3,1402.1 1586.1,1405.7 1586.9,1404.9 1587.7,1408.2 1588.5,1407.4 1589.3,1409.3 1590.1,1413.5 1590.9,1416.6 1591.7,1418.5 1592.5,1421.1 1593.3,1419.7 1594.1,1422.4 1594.9,1425.4 1595.7,1423.8 1596.5,1426 1597.3,1427.4 1598.1,1428.1 1598.9,1430.2 1599.7,1430.2 1600.5,1429.4 1601.3,1427.1 1602.1,1432.5 1602.9,1433.4 1603.7,1433.2 1604.5,1433.5 1605.3,1434.2 1606.1,1435.9 1606.9,1433.7 1607.7,1435 1608.5,1434.1 1609.3,1435.9 1610.1,1435.6 1610.9,1436.3 1611.7,1435.1 1612.5,1438.8 1613.3,1441.2 1614.1,1435.5 1614.9,1442.9 1615.7,1441.4 1616.5,1440.9 1617.3,1442.9 1618.1,1442.4 1618.9,1442.9 1619.7,1445.4 1620.5,1443.3 1621.3,1443.4 1622.1,1442.1 1622.9,1441.7 1623.7,1440 1624.5,1440.6 1625.3,1438.8 1626.1,1441 1626.9,1437.9 1627.7,1438.5 1628.5,1438.4 1629.3,1437 1630.1,1433.4 1630.9,1436.1 1631.7,1429.6 1632.5,1433.7 1633.3,1426.3 1634.1,1427.5 1634.9,1427.3 1635.7,1424.9 1636.5,1421.2 1637.3,1420.7 1638.1,1422 1638.9,1417.6 1639.7,1420 1640.5,1419.7 1641.3,1418.9 1642.1,1416.1 1642.9,1414.6 1643.7,1413 1644.5,1417.2 1645.3,1414.1 1646.1,1412.7 1646.9,1411.9 1647.7,1413.2 1648.5,1408.9 1649.3,1414 1650.1,1412.8 1650.9,1411.3 1651.7,1418.1 1652.5,1416.7 1653.3,1420.1 1654.1,1419.9 1654.9,1422 1655.7,1427.2 1656.5,1427.4 1657.3,1429.9 1658.1,1429.2 1658.9,1435.5 1659.7,1435.3 1660.5,1439 1661.3,1438.2 1662.1,1441.7 1662.9,1443.3 1663.7,1441.3 1664.5,1445.3 1665.3,1444.5 1666.1,1449 1666.9,1448.6 1667.7,1449.1 1668.5,1454.8 1669.3,1452.2 1670.1,1451.2 1670.9,1454 1671.7,1453.9 1672.5,1456.3 1673.3,1453.3 1674.1,1458.6 1674.9,1455.4 1675.7,1456.3 1676.5,1456.3 1677.3,1457.7 1678.1,1461.8 1678.9,1459.7 1679.7,1458.4 1680.5,1460.4 1681.3,1461.7 1682.1,1463.4 1682.9,1461.9 1683.7,1463.3 1684.5,1468.1 1685.3,1463.8 1686.1,1464.6 1686.9,1463 1687.7,1466.8 1688.5,1464.9 1689.3,1468.9 1690.1,1468.3 1690.9,1468 1691.7,1466.3 1692.5,1467 1693.3,1467.3 1694.1,1468.4 1694.9,1468 1695.7,1468.1 1696.5,1469.5 1697.3,1469.7 1698.1,1469.5 1698.9,1471.8 1699.7,1472.4 1700.5,1470.2 1701.3,1474.8 1702.1,1472.4 1702.9,1474 1703.7,1475.4 1704.5,1470.5 1705.3,1473.8 1706.1,1474.8 1706.9,1475.5 1707.7,1475.1 1708.5,1475.7 1709.3,1471.9 1710.1,1473 1710.9,1475.7 1711.7,1471.7 1712.5,1474.2 1713.3,1475 1714.1,1476 1714.9,1476.9 1715.7,1476 1716.5,1474.4 1717.3,1474.2 1718.1,1476.4 1718.9,1476.8 1719.7,1476.5 1720.5,1476.2 1721.3,1476.2 1722.1,1473.8 1722.9,1476.1 1723.7,1477.4 1724.5,1474.4 1725.3,1476.9 1726.1,1477.4 1726.9,1480 1727.7,1476.3 1728.5,1476 1729.3,1474.6 1730.1,1474.8 1730.9,1474 1731.7,1473.8 1732.5,1477.8 1733.3,1476.7 1734.1,1477.2 1734.9,1474.3 1735.7,1473.6 1736.5,1474.1 1737.3,1479.5 1738.1,1478.7 1738.9,1474.9 1739.7,1477.2 1740.5,1477.3 1741.3,1475.5 1742.1,1476.1 1742.9,1478.7 1743.7,1478.3 1744.5,1478.6 1745.3,1477.8 1746.1,1477.5 1746.9,1478.1 1747.7,1477.1 1748.5,1480 1749.3,1477.7 1750.1,1478.3 1750.9,1477.3 1751.7,1476.4 1752.5,1477.4 1753.3,1477 1754.1,1476.2 1754.9,1478.8 1755.7,1480.7 1756.5,1478 1757.3,1477.4 1758.1,1476.4 1758.9,1475.2 1759.7,1478.5 1760.5,1478.5 1761.3,1476.3 1762.1,1477.7 1762.9,1476.2 1763.7,1479.8 1764.5,1477.8 1765.3,1478.3 1766.1,1480.3 1766.9,1474 1767.7,1478.2 1768.5,1478 1769.3,1477.1 1770.1,1477.6 1770.9,1479.5 1771.7,1476.5 1772.5,1476.5 1773.3,1480.3 1774.1,1479.2 1774.9,1478.3 1775.7,1478.8 1776.5,1477.7 1777.3,1477.1 1778.1,1477.3 1778.9,1478 1779.7,1476.8 1780.5,1475 1781.3,1477.2 1782.1,1477.9 1782.9,1477.2 1783.7,1478.5 1784.5,1477.9 1785.3,1478.9 1786.1,1477.6 1786.9,1477.1 1787.7,1478.3 1788.5,1478.8 1789.3,1476.7 1790.1,1476 1790.9,1479.4 1791.7,1476.5 1792.5,1477.9 1793.3,1476.5 1794.1,1477.6 1794.9,1479.4 1795.7,1479.9 1796.5,1475.1 1797.3,1474.9 1798.1,1471.9 1798.9,1478.1 1799.7,1479.6 1800.5,1477.5 1801.3,1476.6 1802.1,1478.3 1802.9,1475.5 1803.7,1478 1804.5,1479 1805.3,1478.8 1806.1,1477.9 1806.9,1475.9 1807.7,1476.1 1808.5,1475.1 1809.3,1479.4 1810.1,1478.3 1810.9,1476.2 1811.7,1476.1 1812.5,1476.5 1813.3,1474.9 1814.1,1476.7 1814.9,1476.5 1815.7,1476.3 1816.5,1475.6 1817.3,1471.5 1818.1,1475 1818.9,1472.9 1819.7,1472.4 1820.5,1478.4 1821.3,1474 1822.1,1474.3 1822.9,1474 1823.7,1473 1824.5,1476.7 1825.3,1471.2 1826.1,1474.7 1826.9,1472.9 1827.7,1475.6 1828.5,1474.8 1829.3,1473.5 1830.1,1470.9 1830.9,1474.3 1831.7,1474.5 1832.5,1473.8 1833.3,1472.1 1834.1,1473.3 1834.9,1470.9 1835.7,1472.2 1836.5,1472.1 1837.3,1470.8 1838.1,1469.3 1838.9,1470.1 1839.7,1468.7 1840.5,1467.9 1841.3,1471 1842.1,1468.7 1842.9,1467.7 1843.7,1467.3 1844.5,1468.4 1845.3,1466.8 1846.1,1465.7 1846.9,1466.8 1847.7,1466.1 1848.5,1464 1849.3,1463.2 1850.1,1466.4 1850.9,1463.3 1851.7,1465 1852.5,1463.5 1853.3,1461.8 1854.1,1460.8 1854.9,1463.1 1855.7,1458.8 1856.5,1458.5 1857.3,1457.1 1858.1,1457.4 1858.9,1455.4 1859.7,1456.3 1860.5,1453.3 1861.3,1455.4 1862.1,1454.3 1862.9,1453.3 1863.7,1451.2 1864.5,1453.2 1865.3,1453.4 1866.1,1449.1 1866.9,1447 1867.7,1448.2 1868.5,1445.8 1869.3,1445.2 1870.1,1445 1870.9,1440.7 1871.7,1443 1872.5,1439.1 1873.3,1437.8 1874.1,1438.3 1874.9,1440.3 1875.7,1436 1876.5,1436.8 1877.3,1433.6 1878.1,1435.1 1878.9,1433.7 1879.7,1434.1 1880.5,1431.7 1881.3,1430.6 1882.1,1426.8 1882.9,1429.6 1883.7,1429.7 1884.5,1428.2 1885.3,1427.8 1886.1,1428.1 1886.9,1428.4 1887.7,1425.7 1888.5,1427.2 1889.3,1428.5 1890.1,1429 1890.9,1427.9 1891.7,1427.3 1892.5,1432.1 1893.3,1433.9 1894.1,1436.7 1894.9,1436 1895.7,1435.3 1896.5,1438.6 1897.3,1438.9 1898.1,1439.4 1898.9,1439.7 1899.7,1440.7 1900.5,1444.1 1901.3,1446.3 1902.1,1448.9 1902.9,1450.5 1903.7,1452.6 1904.5,1456.9 1905.3,1455.3 1906.1,1459 1906.9,1456.9 1907.7,1458 1908.5,1459.1 1909.3,1457.8 1910.1,1463.8 1910.9,1462.1 1911.7,1463.4 1912.5,1465.5 1913.3,1463.9 1914.1,1466.2 1914.9,1460.3 1915.7,1466.5 1916.5,1465.3 1917.3,1464.3 1918.1,1467.2 1918.9,1465.9 1919.7,1465.1 1920.5,1463.4 1921.3,1469.6 1922.1,1463 1922.9,1467.6 1923.7,1470.3 1924.5,1469.2 1925.3,1467.5 1926.1,1468.4 1926.9,1468.2 1927.7,1469.9 1928.5,1469.7 1929.3,1468.2 1930.1,1468.2 1930.9,1472.7 1931.7,1469.2 1932.5,1469.7 1933.3,1475.5 1934.1,1470.8 1934.9,1470.3 1935.7,1471.2 1936.5,1474.2 1937.3,1472 1938.1,1473.3 1938.9,1470 1939.7,1472.9 1940.5,1474.2 1941.3,1474.4 1942.1,1476.9 1942.9,1475.5 1943.7,1470.3 1944.5,1472.5 1945.3,1473.9 1946.1,1475 1946.9,1475.7 1947.7,1476.9 1948.5,1473.3 1949.3,1472.7 1950.1,1477.6 1950.9,1475 1951.7,1473 1952.5,1475.4 1953.3,1476.3 1954.1,1475.3 1954.9,1475.5 1955.7,1479.1 1956.5,1475.9 1957.3,1478.3 1958.1,1478.3 1958.9,1477.5 1959.7,1482 1960.5,1476.2 1961.3,1482.6 1962.1,1477 1962.9,1478.3 1963.7,1479.3 1964.5,1480.7 1965.3,1480.1 1966.1,1478.5 1966.9,1478.6 1967.7,1481.2 1968.5,1481.8 1969.3,1478.6 1970.1,1481.5 1970.9,1480.6 1971.7,1480.2 1972.5,1478.1 1973.3,1477.9 1974.1,1480.7 1974.9,1475.7 1975.7,1479.4 1976.5,1481 1977.3,1477.7 1978.1,1483.1 1978.9,1483.2 1979.7,1478.9 1980.5,1480.5 1981.3,1480.6 1982.1,1480 1982.9,1480.1 1983.7,1481.7 1984.5,1483.7 1985.3,1481.2 1986.1,1481.3 1986.9,1481.4 1987.7,1480.1 1988.5,1482.3 1989.3,1480.5 1990.1,1479.8 1990.9,1482.4 1991.7,1478.4 1992.5,1480.6 1993.3,1480.8 1994.1,1481.3 1994.9,1479.1 1995.7,1480 1996.5,1481.3 1997.3,1482.5 1998.1,1481.4 1998.9,1481.3 1999.7,1480.3 2000.5,1481.6 2001.3,1477.2 2002.1,1482.6 2002.9,1483.2 2003.7,1481.6 2004.5,1480.1 2005.3,1483.7 2006.1,1480.5 2006.9,1483.7 2007.7,1481.2 2008.5,1480.4 2009.3,1481.2 2010.1,1480.5 2010.9,1481.3 2011.7,1482.3 2012.5,1481.1 2013.3,1480.8 2014.1,1481.5 2014.9,1482.1 2015.7,1481.5 2016.5,1482.3 2017.3,1482.3 2018.1,1481.8 2018.9,1482.5 2019.7,1481.4 2020.5,1483.1 2021.3,1481.9 2022.1,1482.6 2022.9,1480.9 2023.7,1478.9 2024.5,1480.5 2025.3,1481.2 2026.1,1481.7 2026.9,1481 2027.7,1483.4 2028.5,1479 2029.3,1478.2 2030.1,1480.7 2030.9,1479.8 2031.7,1480.9 2032.5,1481.9 2033.3,1485.1 2034.1,1478.7 2034.9,1479 2035.7,1480.6 2036.5,1478.3 2037.3,1479.4 2038.1,1482.6 2038.9,1480.4 2039.7,1480.5 2040.5,1482.2 2041.3,1477.7 2042.1,1480.6 2042.9,1480.3 2043.7,1480.7 2044.5,1478.7 2045.3,1479.5 2046.1,1480 2046.9,1481.3 2047.7,1479 2048.5,1481 2049.3,1476.7 2050.1,1480.7 2050.9,1481.2 2051.7,1478.5 2052.5,1479.4 2053.3,1479.8 2054.1,1480.2 2054.9,1481.5 2055.7,1479.9 2056.5,1479.1 2057.3,1479.1 2058.1,1479.7 2058.9,1480.4 2059.7,1479.5 2060.5,1478.1 2061.3,1478.3 2062.1,1477.5 2062.9,1477.3 2063.7,1477.7 2064.5,1477.4 2065.3,1479.4 2066.1,1476.2 2066.9,1478 2067.7,1475.9 2068.5,1478.8 2069.3,1477.9 2070.1,1479.2 2070.9,1477.9 2071.7,1475.3 2072.5,1476.7 2073.3,1475.5 2074.1,1475.4 2074.9,1474.5 2075.7,1475.4 2076.5,1475.8 2077.3,1475.7 2078.1,1479 2078.9,1474.7 2079.7,1474.8 2080.5,1474.3 2081.3,1473.8 2082.1,1473.5 2082.9,1473.8 2083.7,1473 2084.5,1474.1 2085.3,1473.2 2086.1,1470.8 2086.9,1471.7 2087.7,1471.7 2088.5,1470.3 2089.3,1469.8 2090.1,1469.5 2090.9,1470 2091.7,1468.7 2092.5,1467 2093.3,1467.2 2094.1,1468.6 2094.9,1464.6 2095.7,1466.4 2096.5,1464.4 2097.3,1469.9 2098.1,1464.5 2098.9,1463 2099.7,1462.1 2100.5,1459.3 2101.3,1460.3 2102.1,1463.6 2102.9,1460.5 2103.7,1458.9 2104.5,1458.7 2105.3,1458.1 2106.1,1455.9 2106.9,1456.8 2107.7,1456.7 2108.5,1452.9 2109.3,1454.1 2110.1,1449.5 2110.9,1450.4 2111.7,1453.6 2112.5,1453.5 2113.3,1453.9 2114.1,1448.5 2114.9,1449.9 2115.7,1449.1 2116.5,1450.9 2117.3,1449.6 2118.1,1449.1 2118.9,1449.8 2119.7,1448 2120.5,1450.1 2121.3,1448 2122.1,1450.1 2122.9,1448.7 2123.7,1448.7 2124.5,1446.5 2125.3,1445.8 2126.1,1445.7 2126.9,1448.8 2127.7,1444.7 2128.5,1450 2129.3,1447.4 2130.1,1445.8 2130.9,1448.3 2131.7,1445.9 2132.5,1447.8 2133.3,1447.2 2134.1,1449.4 2134.9,1448.9 2135.7,1448.9 2136.5,1446.7 2137.3,1449.2 2138.1,1447.2 2138.9,1447.4 2139.7,1447.8 2140.5,1447.5 2141.3,1445 2142.1,1448 2142.9,1444.5 2143.7,1447.6 2144.5,1446.7 2145.3,1446.9 2146.1,1445 2146.9,1448.1 2147.7,1446.3 2148.5,1447.8 2149.3,1445.3 2150.1,1445.3 2150.9,1446.4 2151.7,1447.8 2152.5,1444.1 2153.3,1445.2 2154.1,1445.2 2154.9,1445.5 2155.7,1445 2156.5,1447.1 2157.3,1446.2 2158.1,1444.8 2158.9,1445.7 2159.7,1445.6 2160.5,1442.7 2161.3,1442 2162.1,1443.7 2162.9,1445.4 2163.7,1438.1 2164.5,1440.3 2165.3,1442 2166.1,1439.1 2166.9,1441 2167.7,1439.2 2168.5,1436.1 2169.3,1436.3 2170.1,1436.5 2170.9,1433.4 2171.7,1434.4 2172.5,1432.6 2173.3,1429.8 2174.1,1428.8 2174.9,1425.3 2175.7,1423.6 2176.5,1419.2 2177.3,1420.2 2178.1,1415.1 2178.9,1414.8 2179.7,1414.1 2180.5,1411.1 2181.3,1406.6 2182.1,1404.8 2182.9,1402.5 2183.7,1401 2184.5,1397.4 2185.3,1394.1 2186.1,1395.7 2186.9,1393.8 2187.7,1394.8 2188.5,1394.1 2189.3,1388.3 2190.1,1388.1 2190.9,1390 2191.7,1389.9 2192.5,1387.8 2193.3,1387.3 2194.1,1384.2 2194.9,1390.4 2195.7,1385.9 2196.5,1388.2 2197.3,1388.4 2198.1,1387.3 2198.9,1390.9 2199.7,1393 2200.5,1392 2201.3,1393.8 2202.1,1396.1 2202.9,1398.3 2203.7,1400 2204.5,1399.6 2205.3,1402.1 2206.1,1405.5 2206.9,1405.2 2207.7,1410.2 2208.5,1414.8 2209.3,1416.8 2210.1,1419 2210.9,1424 2211.7,1425.6 2212.5,1428.7 2213.3,1429.5 2214.1,1431.4 2214.9,1433 2215.7,1436.9 2216.5,1435.8 2217.3,1439.3 2218.1,1443.4 2218.9,1445.5 2219.7,1445.7 2220.5,1445.6 2221.3,1449.8 2222.1,1449.3 2222.9,1451.7 2223.7,1451.8 2224.5,1457.4 2225.3,1458.2 2226.1,1455.9 2226.9,1456.5 2227.7,1459.3 2228.5,1461.3 2229.3,1463.2 2230.1,1462 2230.9,1461 2231.7,1464.1 2232.5,1464.8 2233.3,1462.6 2234.1,1465.4 2234.9,1466 2235.7,1465.6 2236.5,1468.1 2237.3,1469.9 2238.1,1470.4 2238.9,1468 2239.7,1468.9 2240.5,1471.3 2241.3,1470.1 2242.1,1470.5 2242.9,1474.7 2243.7,1467.8 2244.5,1471.1 2245.3,1471.1 2246.1,1472.7 2246.9,1475.7 2247.7,1473.2 2248.5,1473.3 2249.3,1474.3 2250.1,1473.9 2250.9,1475.2 2251.7,1478.9 2252.5,1474.2 2253.3,1475.3 2254.1,1475.8 2254.9,1473 2255.7,1477.4 2256.5,1476.7 2257.3,1474 2258.1,1476.9 2258.9,1477.9 2259.7,1476.5 2260.5,1479.8 2261.3,1477.6 2262.1,1476.5 2262.9,1480.3 2263.7,1479.2 2264.5,1479.9 2265.3,1477.5 2266.1,1478.2 2266.9,1479.1 2267.7,1480.7 2268.5,1481 2269.3,1483.6 2270.1,1484.2 2270.9,1482.3 2271.7,1482.2 2272.5,1485.6 2273.3,1483 2274.1,1484.8 2274.9,1482.7 2275.7,1483.6 2276.5,1483.5 2277.3,1483.1 2278.1,1484.9 2278.9,1483.3 2279.7,1484.6 2280.5,1485.5 2281.3,1488.3 2282.1,1482.3 2282.9,1485.4 2283.7,1486.5 2284.5,1485.1 2285.3,1487 2286.1,1486.7 2286.9,1486.7 2287.7,1485.4 2288.5,1485.9 2289.3,1486 2290.1,1484.9 2290.9,1486.8 2291.7,1485 2292.5,1485.3 2293.3,1484.8 2294.1,1488.7 2294.9,1486.2 2295.7,1485.8 2296.5,1488.5 2297.3,1486.7 2298.1,1488 2298.9,1487.3 2299.7,1488.2 2300.5,1488.1 2301.3,1484.6 2302.1,1490.2 2302.9,1489.6 2303.7,1485.9 2304.5,1489.6 2305.3,1488 2306.1,1488.6 2306.9,1490.5 2307.7,1490.1 2308.5,1490.2 2309.3,1491.8 2310.1,1490.5 2310.9,1488 2311.7,1487.1 2312.5,1490.4 2313.3,1486.6 2314.1,1488.8 2314.9,1488.8 2315.7,1488.4 2316.5,1491.6 2317.3,1490.2 2318.1,1489.4 2318.9,1491.2 2319.7,1489.3 2320.5,1491.9 2321.3,1493.3 2322.1,1490.1 2322.9,1490.1 2323.7,1492.2 2324.5,1487.6 2325.3,1488.8 2326.1,1489.3 2326.9,1488.5 2327.7,1491.1 2328.5,1491.6 2329.3,1491.3 2330.1,1491.4 2330.9,1493 2331.7,1493.3 2332.5,1493.7 2333.3,1491.7 2334.1,1492.1 2334.9,1494.4 2335.7,1492.9 2336.5,1494.4 2337.3,1491.8 2338.1,1492.6 2338.9,1491.8 2339.7,1492.8 2340.5,1493.6 2341.3,1492.4 2342.1,1496.2 2342.9,1491 2343.7,1494.7 2344.5,1491.8 2345.3,1494 2346.1,1492.4 2346.9,1493.8 2347.7,1493.8 2348.5,1492.6 2349.3,1492 2350.1,1492.8 2350.9,1494 2351.7,1495.2 2352.5,1496.4 2353.3,1491.4 2354.1,1494.7 2354.9,1493.3 2355.7,1494 2356.5,1494.5 2357.3,1495.2 2358.1,1494.6 2358.9,1494 2359.7,1496.4 2360.5,1494.5 2361.3,1494 2362.1,1495.8 2362.9,1492.3 2363.7,1492.6 2364.5,1496.3 2365.3,1493.7 2366.1,1491.3 2366.9,1495.3 2367.7,1495.9 2368.5,1492.9 2369.3,1492.1 2370.1,1494 2370.9,1494.6 2371.7,1493.1 2372.5,1492.6 2373.3,1494.8 2374.1,1494.8 2374.9,1491.6 2375.7,1492.3 2376.5,1493.5 2377.3,1493 2378.1,1494.3 2378.9,1494.8 2379.7,1496.8 2380.5,1494.5 2381.3,1495.4 2382.1,1491.6 2382.9,1492.9 2383.7,1495.6 2384.5,1491.8 2385.3,1496 2386.1,1494.8 2386.9,1494.2 2387.7,1493.8 2388.5,1492.2 2389.3,1492.3 2390.1,1493.1 2390.9,1493.3 2391.7,1495.8 2392.5,1492.4 2393.3,1493 2394.1,1491.3 2394.9,1494.2 2395.7,1493.9 2396.5,1495.6 2397.3,1496.9 2398.1,1494.8 2398.9,1492.7 2399.7,1494.3 2400.5,1488.4 2401.3,1487.9 2402.1,1486.3 2402.9,1488.5 2403.7,1492.2 2404.5,1493.9 2405.3,1493.6 2406.1,1490.1 2406.9,1494.9 2407.7,1497.3 2408.5,1493.5 2409.3,1493.1 2410.1,1495.5 2410.9,1492.1 2411.7,1494.1 2412.5,1494.4 2413.3,1493.2 2414.1,1494 2414.9,1492.8 2415.7,1493.2 2416.5,1495.1 2417.3,1492.8 2418.1,1493.3 2418.9,1493.1 2419.7,1494.9 2420.5,1493.6 2421.3,1492.9 2422.1,1494.7 2422.9,1491.1 2423.7,1491.3 2424.5,1494.6 2425.3,1497 2426.1,1493.4 2426.9,1494.7 2427.7,1492.1 2428.5,1494.4 2429.3,1494.5 2430.1,1495.1 2430.9,1493.1 2431.7,1497.2 2432.5,1492.8 2433.3,1496.6 2434.1,1492.6 2434.9,1495.5 2435.7,1496.3 2436.5,1497.6 2437.3,1494.1 2438.1,1491.8 2438.9,1495.6 2439.7,1493.2 2440.5,1492.7 2441.3,1493.5 2442.1,1493 2442.9,1495.5 2443.7,1494.7 2444.5,1495.4 2445.3,1495.7 2446.1,1493.8 2446.9,1495.5 2447.7,1496.3 2448.5,1497.2 2449.3,1494.7 2450.1,1494.1 2450.9,1493" fill="none" stroke="#000" stroke-width="3.4" stroke-linejoin="round"/>
<path d="M1368.5,1565.4 1369.3,1567.1 1370.1,1567.5 1370.9,1568.6 1371.7,1571.9 1372.5,1570.3 1373.3,1574.5 1374.1,1572.4 1374.9,1576.3 1375.7,1574.6 1376.5,1580.5 1377.3,1580.7 1378.1,1583 1378.9,1579.5 1379.7,1579.5 1380.5,1580.4 1381.3,1583.6 1382.1,1587.1 1382.9,1587.2 1383.7,1587.9 1384.5,1584.7 1385.3,1590.1 1386.1,1590 1386.9,1587.9 1387.7,1584.2 1388.5,1588.3 1389.3,1590 1390.1,1594 1390.9,1591.5 1391.7,1591.3 1392.5,1595.1 1393.3,1595.4 1394.1,1593.2 1394.9,1594.1 1395.7,1595.7 1396.5,1592 1397.3,1594.6 1398.1,1593.2 1398.9,1592.4 1399.7,1595.8 1400.5,1597.4 1401.3,1599.3 1402.1,1597.3 1402.9,1598.3 1403.7,1595.8 1404.5,1593.3 1405.3,1595.4 1406.1,1597.9 1406.9,1596 1407.7,1601.5 1408.5,1600.3 1409.3,1597.6 1410.1,1601.9 1410.9,1599.8 1411.7,1602.1 1412.5,1598.5 1413.3,1600.7 1414.1,1598.8 1414.9,1599.5 1415.7,1602 1416.5,1603.8 1417.3,1600.2 1418.1,1600.7 1418.9,1598.4 1419.7,1600 1420.5,1601.6 1421.3,1598 1422.1,1599.9 1422.9,1598.5 1423.7,1601.4 1424.5,1602.9 1425.3,1601.8 1426.1,1600.6 1426.9,1599.1 1427.7,1597.9 1428.5,1601.4 1429.3,1604.6 1430.1,1600.8 1430.9,1601.3 1431.7,1600.5 1432.5,1599 1433.3,1603.6 1434.1,1602.9 1434.9,1598.3 1435.7,1598.7 1436.5,1604.1 1437.3,1599.4 1438.1,1601.1 1438.9,1599 1439.7,1601.8 1440.5,1599.4 1441.3,1599.8 1442.1,1598.6 1442.9,1604.9 1443.7,1606.3 1444.5,1601.2 1445.3,1602.1 1446.1,1601.8 1446.9,1600.5 1447.7,1600.2 1448.5,1599.6 1449.3,1601.9 1450.1,1597.6 1450.9,1598.3 1451.7,1601.4 1452.5,1596.9 1453.3,1603.1 1454.1,1599 1454.9,1599.8 1455.7,1602.1 1456.5,1599.1 1457.3,1599.3 1458.1,1597.7 1458.9,1599.9 1459.7,1600.1 1460.5,1596.7 1461.3,1599.8 1462.1,1600.3 1462.9,1599.1 1463.7,1596.3 1464.5,1599.7 1465.3,1600.5 1466.1,1596.4 1466.9,1593.4 1467.7,1595.6 1468.5,1597 1469.3,1599.5 1470.1,1599.2 1470.9,1597.9 1471.7,1594.9 1472.5,1597.7 1473.3,1595.9 1474.1,1593.6 1474.9,1591.8 1475.7,1597.5 1476.5,1591.7 1477.3,1597.5 1478.1,1599.3 1478.9,1594.3 1479.7,1592.1 1480.5,1592.2 1481.3,1591.7 1482.1,1593.6 1482.9,1594.5 1483.7,1590.3 1484.5,1590.8 1485.3,1589.6 1486.1,1592.9 1486.9,1592 1487.7,1587.7 1488.5,1588.3 1489.3,1588.7 1490.1,1584 1490.9,1586.1 1491.7,1586.9 1492.5,1583.1 1493.3,1585.9 1494.1,1584.9 1494.9,1583 1495.7,1585.7 1496.5,1580.9 1497.3,1583.2 1498.1,1581.1 1498.9,1583.3 1499.7,1578.6 1500.5,1580.9 1501.3,1580.3 1502.1,1580.7 1502.9,1581.1 1503.7,1573.8 1504.5,1576.2 1505.3,1573.4 1506.1,1577.1 1506.9,1577.3 1507.7,1573.1 1508.5,1573.7 1509.3,1575.3 1510.1,1572.3 1510.9,1571 1511.7,1567.2 1512.5,1568.6 1513.3,1571.6 1514.1,1565.9 1514.9,1569 1515.7,1568.3 1516.5,1567.3 1517.3,1568.5 1518.1,1564.7 1518.9,1568.8 1519.7,1564.5 1520.5,1567.1 1521.3,1563.3 1522.1,1564.6 1522.9,1562.9 1523.7,1566.8 1524.5,1560.6 1525.3,1561.1 1526.1,1565.1 1526.9,1563.3 1527.7,1561.1 1528.5,1560.2 1529.3,1557.6 1530.1,1559.3 1530.9,1560.2 1531.7,1561.5 1532.5,1560.5 1533.3,1561.1 1534.1,1558.3 1534.9,1555.5 1535.7,1555.7 1536.5,1559.1 1537.3,1555.5 1538.1,1557.6 1538.9,1550.6 1539.7,1552.2 1540.5,1550.8 1541.3,1552.2 1542.1,1548.9 1542.9,1546.6 1543.7,1547.9 1544.5,1541.7 1545.3,1543.8 1546.1,1544.4 1546.9,1539.3 1547.7,1539.9 1548.5,1536.4 1549.3,1535.8 1550.1,1535.3 1550.9,1534 1551.7,1532.2 1552.5,1528 1553.3,1531.2 1554.1,1527.1 1554.9,1523.6 1555.7,1526.5 1556.5,1521.6 1557.3,1525.5 1558.1,1522.3 1558.9,1519.5 1559.7,1518.1 1560.5,1517 1561.3,1517 1562.1,1518.1 1562.9,1521.8 1563.7,1519.6 1564.5,1519.4 1565.3,1521 1566.1,1520.1 1566.9,1518.8 1567.7,1519.1 1568.5,1526.2 1569.3,1523.5 1570.1,1528.5 1570.9,1530.1 1571.7,1527.8 1572.5,1529.9 1573.3,1528.6 1574.1,1530.2 1574.9,1531.8 1575.7,1532.8 1576.5,1537.1 1577.3,1534.8 1578.1,1538 1578.9,1537.4 1579.7,1539.5 1580.5,1543 1581.3,1536.6 1582.1,1543.3 1582.9,1540.1 1583.7,1542.6 1584.5,1542.1 1585.3,1542.6 1586.1,1541.4 1586.9,1539.4 1587.7,1550.5 1588.5,1548.6 1589.3,1546.9 1590.1,1544.2 1590.9,1550.4 1591.7,1553.1 1592.5,1551.3 1593.3,1547.4 1594.1,1550.6 1594.9,1552.9 1595.7,1552.8 1596.5,1555.9 1597.3,1551.9 1598.1,1553 1598.9,1549.4 1599.7,1557.6 1600.5,1556.8 1601.3,1554.7 1602.1,1551.8 1602.9,1557.6 1603.7,1552.6 1604.5,1552.9 1605.3,1551.4 1606.1,1552.5 1606.9,1553.4 1607.7,1553 1608.5,1557.6 1609.3,1556.6 1610.1,1555 1610.9,1553.4 1611.7,1554.4 1612.5,1551.4 1613.3,1554.9 1614.1,1551.7 1614.9,1552.4 1615.7,1554 1616.5,1551.1 1617.3,1549.7 1618.1,1554.7 1618.9,1548.3 1619.7,1549 1620.5,1548.9 1621.3,1549.6 1622.1,1550.6 1622.9,1543.4 1623.7,1549.1 1624.5,1553 1625.3,1552.2 1626.1,1551.2 1626.9,1548.7 1627.7,1549 1628.5,1547 1629.3,1544.2 1630.1,1548.4 1630.9,1549.6 1631.7,1547.6 1632.5,1546.6 1633.3,1548.2 1634.1,1546.7 1634.9,1548.2 1635.7,1544.5 1636.5,1541.2 1637.3,1546 1638.1,1546.7 1638.9,1542.7 1639.7,1544.8 1640.5,1545.7 1641.3,1537.8 1642.1,1549.1 1642.9,1545.3 1643.7,1543 1644.5,1540.7 1645.3,1539.7 1646.1,1550.5 1646.9,1542.3 1647.7,1544.6 1648.5,1541.5 1649.3,1542.3 1650.1,1544.5 1650.9,1541 1651.7,1543 1652.5,1542.9 1653.3,1544.6 1654.1,1545.6 1654.9,1543.5 1655.7,1547.2 1656.5,1543.3 1657.3,1543.7 1658.1,1545.1 1658.9,1544.6 1659.7,1547.2 1660.5,1539.5 1661.3,1542.2 1662.1,1541.7 1662.9,1550.1 1663.7,1549.2 1664.5,1546.2 1665.3,1549.1 1666.1,1544.7 1666.9,1548.4 1667.7,1552.8 1668.5,1551.4 1669.3,1555.2 1670.1,1549.8 1670.9,1554 1671.7,1552.1 1672.5,1553.1 1673.3,1553.5 1674.1,1555.1 1674.9,1556.8 1675.7,1554.5 1676.5,1555.7 1677.3,1555.1 1678.1,1556.5 1678.9,1554.5 1679.7,1559 1680.5,1558.8 1681.3,1558.4 1682.1,1558.1 1682.9,1557.1 1683.7,1556.9 1684.5,1557 1685.3,1558.1 1686.1,1562.3 1686.9,1561.6 1687.7,1557.8 1688.5,1559.2 1689.3,1564.7 1690.1,1565.8 1690.9,1564.4 1691.7,1567.6 1692.5,1561.7 1693.3,1564.6 1694.1,1562.6 1694.9,1569.4 1695.7,1565.8 1696.5,1566.2 1697.3,1566.5 1698.1,1564.6 1698.9,1566.4 1699.7,1561.9 1700.5,1566.4 1701.3,1565.6 1702.1,1570 1702.9,1571.7 1703.7,1569.8 1704.5,1567.3 1705.3,1567.6 1706.1,1572.1 1706.9,1570.3 1707.7,1570.7 1708.5,1569.3 1709.3,1572.6 1710.1,1572.9 1710.9,1574.7 1711.7,1571.2 1712.5,1573.6 1713.3,1570.9 1714.1,1574.9 1714.9,1574.8 1715.7,1574.3 1716.5,1577.4 1717.3,1572.9 1718.1,1579.5 1718.9,1577.2 1719.7,1577.9 1720.5,1577.5 1721.3,1575.6 1722.1,1576.1 1722.9,1579.7 1723.7,1577.8 1724.5,1578.7 1725.3,1577.4 1726.1,1580.2 1726.9,1579.9 1727.7,1575.6 1728.5,1583 1729.3,1581 1730.1,1580.6 1730.9,1579.5 1731.7,1578.7 1732.5,1580.7 1733.3,1584.6 1734.1,1578.6 1734.9,1576.3 1735.7,1578.7 1736.5,1578.9 1737.3,1580.8 1738.1,1575.9 1738.9,1577.6 1739.7,1577.9 1740.5,1580.7 1741.3,1581 1742.1,1578.9 1742.9,1580.8 1743.7,1578.6 1744.5,1578.5 1745.3,1573.2 1746.1,1576.2 1746.9,1575.6 1747.7,1579.1 1748.5,1578.2 1749.3,1575.5 1750.1,1578 1750.9,1577.5 1751.7,1578.6 1752.5,1576.4 1753.3,1576 1754.1,1580.2 1754.9,1576.9 1755.7,1579.6 1756.5,1575.3 1757.3,1576.7 1758.1,1576.5 1758.9,1574.9 1759.7,1578.6 1760.5,1574 1761.3,1577.4 1762.1,1572.1 1762.9,1578.3 1763.7,1576.8 1764.5,1579.1 1765.3,1581 1766.1,1575 1766.9,1576.5 1767.7,1573.5 1768.5,1575.3 1769.3,1576.4 1770.1,1576.3 1770.9,1577.9 1771.7,1577.2 1772.5,1578.2 1773.3,1574.5 1774.1,1576.3 1774.9,1573.7 1775.7,1575.5 1776.5,1569.8 1777.3,1575.6 1778.1,1575.9 1778.9,1574.8 1779.7,1574.9 1780.5,1572 1781.3,1574.3 1782.1,1574.4 1782.9,1576.2 1783.7,1576.8 1784.5,1574.8 1785.3,1575.5 1786.1,1576.7 1786.9,1574.1 1787.7,1578.4 1788.5,1580.8 1789.3,1577.4 1790.1,1575.7 1790.9,1577.4 1791.7,1579.7 1792.5,1580.2 1793.3,1574.7 1794.1,1578.7 1794.9,1576.7 1795.7,1577.6 1796.5,1579.5 1797.3,1580.4 1798.1,1579 1798.9,1578.1 1799.7,1579.9 1800.5,1578.4 1801.3,1584.9 1802.1,1578 1802.9,1583.2 1803.7,1582.5 1804.5,1582.7 1805.3,1580.8 1806.1,1582.4 1806.9,1583.1 1807.7,1583.1 1808.5,1584.2 1809.3,1585.4 1810.1,1584.6 1810.9,1586.9 1811.7,1588 1812.5,1585.6 1813.3,1588.8 1814.1,1587.7 1814.9,1586.7 1815.7,1589.3 1816.5,1591.1 1817.3,1588.3 1818.1,1585.4 1818.9,1591.4 1819.7,1592.2 1820.5,1587.9 1821.3,1590.4 1822.1,1592 1822.9,1586 1823.7,1593.2 1824.5,1593.3 1825.3,1593.7 1826.1,1595.4 1826.9,1590 1827.7,1594.5 1828.5,1597.6 1829.3,1587.7 1830.1,1592 1830.9,1594.4 1831.7,1591.3 1832.5,1588.9 1833.3,1593.7 1834.1,1593.4 1834.9,1591.4 1835.7,1593.6 1836.5,1595.1 1837.3,1595.3 1838.1,1594.1 1838.9,1590.4 1839.7,1592.5 1840.5,1588.2 1841.3,1590.9 1842.1,1593.6 1842.9,1594.5 1843.7,1593.2 1844.5,1593.3 1845.3,1589 1846.1,1590.5 1846.9,1590.8 1847.7,1592.1 1848.5,1592.1 1849.3,1598.2 1850.1,1595.6 1850.9,1591.2 1851.7,1591.9 1852.5,1592.2 1853.3,1592.1 1854.1,1592.3 1854.9,1589 1855.7,1596 1856.5,1595 1857.3,1594.9 1858.1,1593.7 1858.9,1594.5 1859.7,1592.7 1860.5,1589.2 1861.3,1593.8 1862.1,1593.6 1862.9,1590.7 1863.7,1588.6 1864.5,1596.1 1865.3,1591.4 1866.1,1593.2 1866.9,1592.1 1867.7,1597.4 1868.5,1590.4 1869.3,1596 1870.1,1588.1 1870.9,1595.8 1871.7,1592.6 1872.5,1588.8 1873.3,1593.9 1874.1,1593.6 1874.9,1590.3 1875.7,1594.6 1876.5,1593.8 1877.3,1595 1878.1,1590.9 1878.9,1592.3 1879.7,1591.9 1880.5,1594.3 1881.3,1592.9 1882.1,1591.9 1882.9,1597.2 1883.7,1593.1 1884.5,1596.7 1885.3,1596.3 1886.1,1593 1886.9,1590.7 1887.7,1595.3 1888.5,1596.6 1889.3,1597.9 1890.1,1596.4 1890.9,1596.8 1891.7,1594.7 1892.5,1594.8 1893.3,1603.8 1894.1,1599.5 1894.9,1594.4 1895.7,1598.3 1896.5,1599 1897.3,1594.4 1898.1,1598.1 1898.9,1600.4 1899.7,1603.2 1900.5,1603.5 1901.3,1599.5 1902.1,1600 1902.9,1600 1903.7,1602 1904.5,1603.8 1905.3,1599.9 1906.1,1602.2 1906.9,1601.7 1907.7,1601.7 1908.5,1602.6 1909.3,1608.2 1910.1,1608.3 1910.9,1608 1911.7,1601.4 1912.5,1606.1 1913.3,1611.1 1914.1,1606.9 1914.9,1604.7 1915.7,1607.9 1916.5,1606.2 1917.3,1606.1 1918.1,1607.8 1918.9,1608.5 1919.7,1607.3 1920.5,1607.8 1921.3,1605.8 1922.1,1608.2 1922.9,1610.1 1923.7,1609 1924.5,1608.6 1925.3,1606 1926.1,1611.9 1926.9,1607.1 1927.7,1611.4 1928.5,1609.3 1929.3,1612.1 1930.1,1612.8 1930.9,1610 1931.7,1604.2 1932.5,1606.6 1933.3,1609.2 1934.1,1609.5 1934.9,1612.4 1935.7,1616.4 1936.5,1613.7 1937.3,1612.1 1938.1,1615.6 1938.9,1612.4 1939.7,1614.9 1940.5,1614 1941.3,1609 1942.1,1615.7 1942.9,1617.6 1943.7,1613.1 1944.5,1615.7 1945.3,1615.3 1946.1,1613.7 1946.9,1613.6 1947.7,1616.8 1948.5,1613.3 1949.3,1613.6 1950.1,1616.8 1950.9,1617.1 1951.7,1618.6 1952.5,1613.9 1953.3,1612.3 1954.1,1617.8 1954.9,1612 1955.7,1614.6 1956.5,1615.1 1957.3,1619.4 1958.1,1615.7 1958.9,1613 1959.7,1615.6 1960.5,1618.6 1961.3,1611.6 1962.1,1612.7 1962.9,1617.9 1963.7,1615.9 1964.5,1613.4 1965.3,1615.2 1966.1,1615.8 1966.9,1613 1967.7,1614.3 1968.5,1618.8 1969.3,1616.2 1970.1,1618 1970.9,1615.4 1971.7,1614.2 1972.5,1616.1 1973.3,1613.4 1974.1,1616.2 1974.9,1614.7 1975.7,1614.7 1976.5,1614.7 1977.3,1613.2 1978.1,1618.3 1978.9,1611.9 1979.7,1615.7 1980.5,1612.3 1981.3,1617.1 1982.1,1614.6 1982.9,1615.4 1983.7,1616 1984.5,1615.7 1985.3,1615.3 1986.1,1615.6 1986.9,1615.6 1987.7,1613.7 1988.5,1614 1989.3,1614.1 1990.1,1613 1990.9,1613.3 1991.7,1617.4 1992.5,1611.2 1993.3,1618.1 1994.1,1613.1 1994.9,1615.6 1995.7,1614.2 1996.5,1613.7 1997.3,1615.3 1998.1,1617.7 1998.9,1613.7 1999.7,1613.8 2000.5,1612.6 2001.3,1618.2 2002.1,1616.2 2002.9,1616 2003.7,1613.6 2004.5,1609.2 2005.3,1614.4 2006.1,1609.3 2006.9,1611.8 2007.7,1615.2 2008.5,1611.7 2009.3,1611.4 2010.1,1608.2 2010.9,1614.3 2011.7,1613.6 2012.5,1611.5 2013.3,1613.3 2014.1,1608.9 2014.9,1610.3 2015.7,1612.7 2016.5,1614.1 2017.3,1612 2018.1,1609.3 2018.9,1610.8 2019.7,1614.2 2020.5,1610.4 2021.3,1612.1 2022.1,1612.4 2022.9,1610.2 2023.7,1611.3 2024.5,1607.2 2025.3,1609.8 2026.1,1611.1 2026.9,1612.3 2027.7,1613.6 2028.5,1609.6 2029.3,1611.6 2030.1,1610.2 2030.9,1608.6 2031.7,1608.5 2032.5,1610 2033.3,1610 2034.1,1608.3 2034.9,1615.8 2035.7,1609.6 2036.5,1611 2037.3,1608.9 2038.1,1615.5 2038.9,1604.3 2039.7,1608.3 2040.5,1609.4 2041.3,1611.5 2042.1,1608.6 2042.9,1606.5 2043.7,1612 2044.5,1609.9 2045.3,1607.7 2046.1,1607.6 2046.9,1607.4 2047.7,1608.2 2048.5,1603.9 2049.3,1607.8 2050.1,1605.9 2050.9,1608.1 2051.7,1607.6 2052.5,1604.3 2053.3,1609.3 2054.1,1607.8 2054.9,1603.8 2055.7,1603.2 2056.5,1603.8 2057.3,1605.7 2058.1,1607.5 2058.9,1602.4 2059.7,1602.4 2060.5,1604.9 2061.3,1603.3 2062.1,1603 2062.9,1602.5 2063.7,1601.8 2064.5,1606 2065.3,1603.9 2066.1,1600.7 2066.9,1603.9 2067.7,1604.9 2068.5,1601.5 2069.3,1600.8 2070.1,1598.7 2070.9,1599.7 2071.7,1599.6 2072.5,1601.7 2073.3,1596.4 2074.1,1594.6 2074.9,1596.8 2075.7,1598.4 2076.5,1592.9 2077.3,1596.5 2078.1,1594.9 2078.9,1594 2079.7,1596.4 2080.5,1598.4 2081.3,1592.7 2082.1,1595.9 2082.9,1594.8 2083.7,1596.3 2084.5,1594.6 2085.3,1593 2086.1,1596 2086.9,1594.7 2087.7,1591.3 2088.5,1588.9 2089.3,1591.4 2090.1,1593.1 2090.9,1594.1 2091.7,1590.9 2092.5,1591 2093.3,1587.6 2094.1,1590.2 2094.9,1591.2 2095.7,1589.4 2096.5,1590.2 2097.3,1587.9 2098.1,1587.8 2098.9,1590.1 2099.7,1585.8 2100.5,1589 2101.3,1591.3 2102.1,1587.1 2102.9,1587 2103.7,1586 2104.5,1584.7 2105.3,1586 2106.1,1584.3 2106.9,1586.3 2107.7,1585.3 2108.5,1583.8 2109.3,1586.1 2110.1,1588 2110.9,1587.3 2111.7,1584.8 2112.5,1585.1 2113.3,1582.7 2114.1,1584.2 2114.9,1586 2115.7,1586 2116.5,1587.1 2117.3,1580.7 2118.1,1587.3 2118.9,1584.5 2119.7,1586.9 2120.5,1583.5 2121.3,1586 2122.1,1583.2 2122.9,1580.8 2123.7,1583.7 2124.5,1581.9 2125.3,1582.8 2126.1,1584 2126.9,1584.5 2127.7,1584.2 2128.5,1584.9 2129.3,1579.4 2130.1,1585.3 2130.9,1581 2131.7,1583.1 2132.5,1582.1 2133.3,1580.5 2134.1,1585.1 2134.9,1581 2135.7,1582.1 2136.5,1586.7 2137.3,1578.7 2138.1,1580.1 2138.9,1586 2139.7,1583.2 2140.5,1586 2141.3,1584.5 2142.1,1583.7 2142.9,1586.5 2143.7,1583.7 2144.5,1584.3 2145.3,1586.2 2146.1,1583.6 2146.9,1583.1 2147.7,1583 2148.5,1588.9 2149.3,1591.4 2150.1,1590.1 2150.9,1586.4 2151.7,1587 2152.5,1586.3 2153.3,1588.9 2154.1,1591.5 2154.9,1589.4 2155.7,1589.9 2156.5,1583.3 2157.3,1591.4 2158.1,1588.5 2158.9,1591 2159.7,1592.7 2160.5,1592.6 2161.3,1594.4 2162.1,1596.6 2162.9,1588.7 2163.7,1590.7 2164.5,1598.2 2165.3,1596.1 2166.1,1593.9 2166.9,1595.3 2167.7,1596.4 2168.5,1599.1 2169.3,1596.6 2170.1,1597.8 2170.9,1595.3 2171.7,1601.9 2172.5,1600.2 2173.3,1598.7 2174.1,1597.2 2174.9,1600.6 2175.7,1603.1 2176.5,1606.7 2177.3,1606.3 2178.1,1601.8 2178.9,1602.2 2179.7,1601.5 2180.5,1605.1 2181.3,1602.9 2182.1,1606.4 2182.9,1606.3 2183.7,1607 2184.5,1604.4 2185.3,1609.6 2186.1,1607.1 2186.9,1605.4 2187.7,1608.4 2188.5,1609.4 2189.3,1609.6 2190.1,1612 2190.9,1613.1 2191.7,1616 2192.5,1611.4 2193.3,1614.8 2194.1,1607.1 2194.9,1617.6 2195.7,1614.1 2196.5,1617.6 2197.3,1615 2198.1,1617.5 2198.9,1618.4 2199.7,1616.5 2200.5,1617.3 2201.3,1613 2202.1,1621.4 2202.9,1620.7 2203.7,1621.3 2204.5,1625.3 2205.3,1624.2 2206.1,1624.8 2206.9,1620.9 2207.7,1626.2 2208.5,1626 2209.3,1629.6 2210.1,1627.1 2210.9,1626.3 2211.7,1629.2 2212.5,1634.5 2213.3,1629.3 2214.1,1634.7 2214.9,1632.1 2215.7,1628.7 2216.5,1635.1 2217.3,1639.5 2218.1,1635.9 2218.9,1633 2219.7,1635.4 2220.5,1634.3 2221.3,1643 2222.1,1638.2 2222.9,1632.1 2223.7,1639.4 2224.5,1638.8 2225.3,1635.8 2226.1,1637 2226.9,1638.5 2227.7,1642.7 2228.5,1637.9 2229.3,1637.7 2230.1,1641.7 2230.9,1638.4 2231.7,1637.7 2232.5,1640 2233.3,1642.3 2234.1,1641 2234.9,1640.1 2235.7,1644.3 2236.5,1644.4 2237.3,1638 2238.1,1639.2 2238.9,1639.9 2239.7,1641.6 2240.5,1642.7 2241.3,1642.3 2242.1,1642.8 2242.9,1643.9 2243.7,1640.2 2244.5,1638.4 2245.3,1644 2246.1,1646.3 2246.9,1644.2 2247.7,1643 2248.5,1645.3 2249.3,1643.5 2250.1,1641.5 2250.9,1643.7 2251.7,1646.4 2252.5,1645.5 2253.3,1646.5 2254.1,1644 2254.9,1646.5 2255.7,1648.6 2256.5,1644.8 2257.3,1644.6 2258.1,1648.5 2258.9,1646.2 2259.7,1643.5 2260.5,1645.3 2261.3,1649.2 2262.1,1647.3 2262.9,1650.7 2263.7,1648.1 2264.5,1647.4 2265.3,1649.3 2266.1,1645.8 2266.9,1649.6 2267.7,1647.2 2268.5,1646.9 2269.3,1648.5 2270.1,1646.7 2270.9,1645.3 2271.7,1646 2272.5,1649.2 2273.3,1648.8 2274.1,1648.5 2274.9,1650 2275.7,1646.6 2276.5,1647.7 2277.3,1652.3 2278.1,1646.8 2278.9,1651.8 2279.7,1648.5 2280.5,1650.4 2281.3,1649.8 2282.1,1648.9 2282.9,1649.8 2283.7,1651.8 2284.5,1648.2 2285.3,1647.8 2286.1,1651.9 2286.9,1649.3 2287.7,1649.9 2288.5,1650 2289.3,1649.5 2290.1,1646.6 2290.9,1650.5 2291.7,1649.8 2292.5,1648 2293.3,1649.9 2294.1,1651.7 2294.9,1655.1 2295.7,1650.3 2296.5,1654.5 2297.3,1650.7 2298.1,1652.9 2298.9,1651.4 2299.7,1653.8 2300.5,1652.6 2301.3,1651.5 2302.1,1649.1 2302.9,1654.8 2303.7,1649.5 2304.5,1651.6 2305.3,1656.9 2306.1,1653.7 2306.9,1653.5 2307.7,1653.8 2308.5,1654.2 2309.3,1653 2310.1,1654.6 2310.9,1653.7 2311.7,1653.4 2312.5,1655.3 2313.3,1655.8 2314.1,1655.3 2314.9,1656.8 2315.7,1658.9 2316.5,1658.7 2317.3,1655.3 2318.1,1652.9 2318.9,1657.9 2319.7,1655.8 2320.5,1657.4 2321.3,1655 2322.1,1657.8 2322.9,1653.7 2323.7,1656.6 2324.5,1653.4 2325.3,1660.9 2326.1,1656.1 2326.9,1652.2 2327.7,1659.7 2328.5,1659.1 2329.3,1660.2 2330.1,1654.8 2330.9,1658.2 2331.7,1660.4 2332.5,1657.3 2333.3,1658.7 2334.1,1657.5 2334.9,1657.4 2335.7,1661.2 2336.5,1656.6 2337.3,1658.5 2338.1,1659.8 2338.9,1658.8 2339.7,1660.7 2340.5,1654.6 2341.3,1661.6 2342.1,1656.6 2342.9,1658.9 2343.7,1658.7 2344.5,1660.6 2345.3,1659.3 2346.1,1658.9 2346.9,1661.4 2347.7,1664.5 2348.5,1658.8 2349.3,1658.8 2350.1,1659.1 2350.9,1657.8 2351.7,1657.9 2352.5,1659.6 2353.3,1662.3 2354.1,1659.8 2354.9,1659.2 2355.7,1660.9 2356.5,1659.5 2357.3,1667.2 2358.1,1664.7 2358.9,1661.6 2359.7,1657.9 2360.5,1660.5 2361.3,1659.8 2362.1,1659.9 2362.9,1657.2 2363.7,1660.9 2364.5,1660.8 2365.3,1660.8 2366.1,1659.5 2366.9,1663.2 2367.7,1660.6 2368.5,1657.7 2369.3,1660.4 2370.1,1664.4 2370.9,1665.4 2371.7,1660.4 2372.5,1662.5 2373.3,1664.2 2374.1,1665 2374.9,1662.1 2375.7,1663.8 2376.5,1662.3 2377.3,1659.4 2378.1,1665.4 2378.9,1663.3 2379.7,1664.5 2380.5,1663.2 2381.3,1661.8 2382.1,1662.7 2382.9,1664.6 2383.7,1661.2 2384.5,1667.3 2385.3,1669 2386.1,1659.2 2386.9,1666.2 2387.7,1663.3 2388.5,1665.7 2389.3,1664.8 2390.1,1664.1 2390.9,1666.5 2391.7,1664.8 2392.5,1667.9 2393.3,1665.5 2394.1,1661.7 2394.9,1664.6 2395.7,1665 2396.5,1663.8 2397.3,1662.5 2398.1,1669.4 2398.9,1665.1 2399.7,1665.2 2400.5,1661.9 2401.3,1666.7 2402.1,1665.3 2402.9,1667.9 2403.7,1669.3 2404.5,1664.3 2405.3,1664.2 2406.1,1668.3 2406.9,1668.2 2407.7,1666.6 2408.5,1667.6 2409.3,1665.4 2410.1,1666.1 2410.9,1666.2 2411.7,1661.7 2412.5,1667.9 2413.3,1668.1 2414.1,1664.4 2414.9,1665.3 2415.7,1667.2 2416.5,1668.1 2417.3,1666.7 2418.1,1665.7 2418.9,1667.7 2419.7,1667.1 2420.5,1664.7 2421.3,1666.2 2422.1,1666.2 2422.9,1668.4 2423.7,1664.2 2424.5,1665.4 2425.3,1666.3 2426.1,1667.3 2426.9,1672.4 2427.7,1666.9 2428.5,1669.6 2429.3,1669.1 2430.1,1670.2 2430.9,1671.2 2431.7,1668.8 2432.5,1665.5 2433.3,1666.8 2434.1,1670.9 2434.9,1672.3 2435.7,1670.5 2436.5,1672.9 2437.3,1669.3 2438.1,1666 2438.9,1668.1 2439.7,1668.5 2440.5,1669.9 2441.3,1669.8 2442.1,1666.1 2442.9,1670.6 2443.7,1666.9 2444.5,1668.7 2445.3,1669.5 2446.1,1669.7 2446.9,1669.3 2447.7,1667 2448.5,1668 2449.3,1670.3 2450.1,1667.3 2450.9,1665.8" fill="none" stroke="#f01818" stroke-width="4.4" stroke-linejoin="round"/>
<path d="M1368.5,1806.3 1369.3,1806.8 1370.1,1807.2 1370.9,1807.9 1371.7,1808.1 1372.5,1808.5 1373.3,1809.2 1374.1,1809.7 1374.9,1810 1375.7,1810.7 1376.5,1811.1 1377.3,1811.7 1378.1,1811.9 1378.9,1812.8 1379.7,1813.3 1380.5,1814.1 1381.3,1814.6 1382.1,1815.4 1382.9,1815.7 1383.7,1816.6 1384.5,1817.4 1385.3,1817.8 1386.1,1818.2 1386.9,1818.6 1387.7,1819 1388.5,1818.7 1389.3,1818.3 1390.1,1818 1390.9,1817.5 1391.7,1816.9 1392.5,1816.3 1393.3,1815.2 1394.1,1814.4 1394.9,1813.7 1395.7,1812.3 1396.5,1810.5 1397.3,1809.1 1398.1,1807.4 1398.9,1806.1 1399.7,1805.1 1400.5,1804 1401.3,1803 1402.1,1802.3 1402.9,1801.8 1403.7,1801.6 1404.5,1801.5 1405.3,1801.8 1406.1,1802.1 1406.9,1803.1 1407.7,1803.9 1408.5,1805.1 1409.3,1806.6 1410.1,1808.4 1410.9,1811.1 1411.7,1813.5 1412.5,1815.8 1413.3,1817.6 1414.1,1818.3 1414.9,1818.6 1415.7,1817.9 1416.5,1817.3 1417.3,1816 1418.1,1814.8 1418.9,1813.9 1419.7,1813.1 1420.5,1812.6 1421.3,1812 1422.1,1811.3 1422.9,1811.5 1423.7,1811.7 1424.5,1812 1425.3,1813.1 1426.1,1814.2 1426.9,1815.9 1427.7,1817 1428.5,1818.3 1429.3,1819.4 1430.1,1820.8 1430.9,1822.1 1431.7,1823.9 1432.5,1825.3 1433.3,1826.3 1434.1,1827.7 1434.9,1829 1435.7,1830.1 1436.5,1830.8 1437.3,1831.8 1438.1,1832.4 1438.9,1833.2 1439.7,1833 1440.5,1833.7 1441.3,1834.5 1442.1,1834.9 1442.9,1835.2 1443.7,1835.5 1444.5,1836.1 1445.3,1836.2 1446.1,1836.7 1446.9,1836.9 1447.7,1837 1448.5,1836.7 1449.3,1837.1 1450.1,1837.4 1450.9,1837.5 1451.7,1837.5 1452.5,1837.5 1453.3,1837.3 1454.1,1837.7 1454.9,1837.8 1455.7,1837.6 1456.5,1837.6 1457.3,1837.4 1458.1,1837.4 1458.9,1837.3 1459.7,1837.3 1460.5,1837.1 1461.3,1836.8 1462.1,1836.7 1462.9,1836.7 1463.7,1836.4 1464.5,1836.3 1465.3,1835.9 1466.1,1835.6 1466.9,1835 1467.7,1834.8 1468.5,1834.2 1469.3,1833.8 1470.1,1833.6 1470.9,1833.1 1471.7,1832.5 1472.5,1832.4 1473.3,1832.1 1474.1,1831.6 1474.9,1831.3 1475.7,1830.9 1476.5,1830.5 1477.3,1829.8 1478.1,1829.3 1478.9,1829.3 1479.7,1828.6 1480.5,1828.8 1481.3,1828.8 1482.1,1829.1 1482.9,1829.2 1483.7,1829.5 1484.5,1829.6 1485.3,1829.9 1486.1,1830.3 1486.9,1829.9 1487.7,1829.6 1488.5,1829.8 1489.3,1829.5 1490.1,1829 1490.9,1828.5 1491.7,1828.2 1492.5,1827.6 1493.3,1827.4 1494.1,1826.7 1494.9,1826.1 1495.7,1825.8 1496.5,1825.2 1497.3,1824.9 1498.1,1824.2 1498.9,1823.8 1499.7,1823.5 1500.5,1822.8 1501.3,1822.6 1502.1,1821.9 1502.9,1821.4 1503.7,1820.5 1504.5,1820.3 1505.3,1819.7 1506.1,1818.8 1506.9,1818.5 1507.7,1817.8 1508.5,1817 1509.3,1816.2 1510.1,1815.3 1510.9,1814.6 1511.7,1813.5 1512.5,1812.4 1513.3,1811.6 1514.1,1810 1514.9,1808.8 1515.7,1807.2 1516.5,1806.1 1517.3,1804.8 1518.1,1803.2 1518.9,1802.2 1519.7,1800.4 1520.5,1799.1 1521.3,1797.6 1522.1,1796.1 1522.9,1794.2 1523.7,1793.1 1524.5,1791 1525.3,1789.8 1526.1,1787.6 1526.9,1785.9 1527.7,1784.4 1528.5,1781.9 1529.3,1780 1530.1,1777.7 1530.9,1775.7 1531.7,1773.5 1532.5,1771.2 1533.3,1767.9 1534.1,1765.5 1534.9,1762.7 1535.7,1759.7 1536.5,1756.3 1537.3,1753.3 1538.1,1750.4 1538.9,1747.1 1539.7,1744.3 1540.5,1740.8 1541.3,1737.7 1542.1,1734.7 1542.9,1731.4 1543.7,1728.7 1544.5,1725.8 1545.3,1723.6 1546.1,1720.9 1546.9,1719 1547.7,1717.6 1548.5,1717.1 1549.3,1717.2 1550.1,1718 1550.9,1719.7 1551.7,1721 1552.5,1723 1553.3,1724.8 1554.1,1726.5 1554.9,1728.2 1555.7,1730.7 1556.5,1733 1557.3,1735.1 1558.1,1737.8 1558.9,1740.9 1559.7,1743.7 1560.5,1746.8 1561.3,1750 1562.1,1753 1562.9,1756.5 1563.7,1759.2 1564.5,1761.9 1565.3,1764.5 1566.1,1766.8 1566.9,1769.4 1567.7,1771.3 1568.5,1773.9 1569.3,1775.9 1570.1,1777.9 1570.9,1780.4 1571.7,1782.4 1572.5,1784.3 1573.3,1786.2 1574.1,1788.1 1574.9,1789.8 1575.7,1791.8 1576.5,1793.5 1577.3,1794.9 1578.1,1796.5 1578.9,1798.1 1579.7,1799.7 1580.5,1801.1 1581.3,1802.5 1582.1,1804 1582.9,1805.4 1583.7,1806.8 1584.5,1808.1 1585.3,1809.6 1586.1,1810.7 1586.9,1812 1587.7,1812.9 1588.5,1814.3 1589.3,1815.3 1590.1,1816.3 1590.9,1817.4 1591.7,1818.5 1592.5,1819.5 1593.3,1820.6 1594.1,1821.5 1594.9,1822.6 1595.7,1823.2 1596.5,1823.7 1597.3,1824.2 1598.1,1824.5 1598.9,1825 1599.7,1825.6 1600.5,1825.7 1601.3,1826.6 1602.1,1827 1602.9,1827 1603.7,1827.7 1604.5,1828 1605.3,1828.3 1606.1,1828.5 1606.9,1828.9 1607.7,1828.7 1608.5,1828.9 1609.3,1829.1 1610.1,1829 1610.9,1828.8 1611.7,1829 1612.5,1829 1613.3,1828.6 1614.1,1828.6 1614.9,1828.5 1615.7,1827.8 1616.5,1827.8 1617.3,1827.6 1618.1,1827.4 1618.9,1827 1619.7,1826.7 1620.5,1826.7 1621.3,1826.6 1622.1,1825.8 1622.9,1825.9 1623.7,1825.5 1624.5,1825.1 1625.3,1824.7 1626.1,1823.9 1626.9,1823.6 1627.7,1822.6 1628.5,1822.1 1629.3,1821.6 1630.1,1821 1630.9,1820.1 1631.7,1819.4 1632.5,1819.1 1633.3,1818.5 1634.1,1818 1634.9,1817.4 1635.7,1816.7 1636.5,1816.7 1637.3,1816.3 1638.1,1815.9 1638.9,1816 1639.7,1815.7 1640.5,1815.8 1641.3,1815.7 1642.1,1815.4 1642.9,1815.8 1643.7,1815.8 1644.5,1816.5 1645.3,1817 1646.1,1817 1646.9,1817.7 1647.7,1817.9 1648.5,1818.5 1649.3,1818.9 1650.1,1819.1 1650.9,1819.7 1651.7,1820 1652.5,1820.5 1653.3,1821 1654.1,1820.9 1654.9,1821.5 1655.7,1821.4 1656.5,1821.6 1657.3,1821.6 1658.1,1821.5 1658.9,1821.6 1659.7,1821.6 1660.5,1821.9 1661.3,1822 1662.1,1822.4 1662.9,1823.2 1663.7,1823.7 1664.5,1824.4 1665.3,1825.2 1666.1,1826.1 1666.9,1826.9 1667.7,1827.9 1668.5,1828.6 1669.3,1829.8 1670.1,1830.6 1670.9,1831.5 1671.7,1832.6 1672.5,1833.6 1673.3,1834.4 1674.1,1835.5 1674.9,1836.1 1675.7,1836.7 1676.5,1837.2 1677.3,1837.5 1678.1,1838.2 1678.9,1838.5 1679.7,1839.2 1680.5,1839.1 1681.3,1839.6 1682.1,1839.9 1682.9,1840.5 1683.7,1840.7 1684.5,1841.5 1685.3,1842.1 1686.1,1842.7 1686.9,1843.7 1687.7,1844 1688.5,1844.8 1689.3,1845.4 1690.1,1846.2 1690.9,1847.1 1691.7,1847.7 1692.5,1848.2 1693.3,1848.6 1694.1,1849.5 1694.9,1849.7 1695.7,1850.4 1696.5,1851 1697.3,1851.4 1698.1,1852.1 1698.9,1852.5 1699.7,1852.9 1700.5,1853.6 1701.3,1853.9 1702.1,1854.7 1702.9,1855 1703.7,1855.3 1704.5,1855.9 1705.3,1856.2 1706.1,1856.6 1706.9,1857.2 1707.7,1857.2 1708.5,1857.9 1709.3,1858.5 1710.1,1858.2 1710.9,1859.2 1711.7,1858.8 1712.5,1859 1713.3,1859.2 1714.1,1859.5 1714.9,1859.8 1715.7,1859.7 1716.5,1860 1717.3,1860.2 1718.1,1859.9 1718.9,1860 1719.7,1860 1720.5,1860.1 1721.3,1859.7 1722.1,1859.7 1722.9,1859.5 1723.7,1859.2 1724.5,1858.9 1725.3,1858.8 1726.1,1858.6 1726.9,1858 1727.7,1857.9 1728.5,1857.7 1729.3,1857.3 1730.1,1856.9 1730.9,1856.6 1731.7,1856 1732.5,1855.1 1733.3,1855 1734.1,1854.1 1734.9,1853.5 1735.7,1853.2 1736.5,1852.5 1737.3,1851.8 1738.1,1851.7 1738.9,1851.3 1739.7,1851 1740.5,1850.5 1741.3,1850.7 1742.1,1850.4 1742.9,1850.7 1743.7,1850.5 1744.5,1850.8 1745.3,1850.9 1746.1,1851.4 1746.9,1852 1747.7,1852.3 1748.5,1852.6 1749.3,1853.4 1750.1,1853.7 1750.9,1854.3 1751.7,1854.7 1752.5,1855.2 1753.3,1855.7 1754.1,1856.2 1754.9,1856.7 1755.7,1857.1 1756.5,1857.7 1757.3,1857.9 1758.1,1858.3 1758.9,1859.2 1759.7,1859.8 1760.5,1860.4 1761.3,1860.7 1762.1,1861.4 1762.9,1861.6 1763.7,1862.2 1764.5,1862.5 1765.3,1862.8 1766.1,1863 1766.9,1863.1 1767.7,1863.4 1768.5,1863.6 1769.3,1863.9 1770.1,1863.9 1770.9,1864.2 1771.7,1864.3 1772.5,1864.6 1773.3,1864.8 1774.1,1864.5 1774.9,1864.9 1775.7,1865 1776.5,1865.3 1777.3,1864.8 1778.1,1865.2 1778.9,1865.1 1779.7,1865.7 1780.5,1865.6 1781.3,1865.8 1782.1,1865.9 1782.9,1865.9 1783.7,1866 1784.5,1866 1785.3,1865.8 1786.1,1866.2 1786.9,1866.2 1787.7,1866.2 1788.5,1866.3 1789.3,1866.6 1790.1,1866.4 1790.9,1866.4 1791.7,1866.7 1792.5,1866.8 1793.3,1866.4 1794.1,1866.5 1794.9,1866.5 1795.7,1866.7 1796.5,1866.8 1797.3,1866.9 1798.1,1866.7 1798.9,1866.7 1799.7,1866.6 1800.5,1866.9 1801.3,1866.6 1802.1,1866.5 1802.9,1866.6 1803.7,1866.6 1804.5,1866.6 1805.3,1866.4 1806.1,1866.8 1806.9,1866.8 1807.7,1866.3 1808.5,1866.4 1809.3,1866.2 1810.1,1866.2 1810.9,1866 1811.7,1866.1 1812.5,1866.1 1813.3,1866.1 1814.1,1865.7 1814.9,1865.6 1815.7,1865.5 1816.5,1865.9 1817.3,1865.6 1818.1,1865.6 1818.9,1865.7 1819.7,1865.2 1820.5,1865.3 1821.3,1865.1 1822.1,1865.1 1822.9,1864.7 1823.7,1864.8 1824.5,1864.8 1825.3,1864.7 1826.1,1864.3 1826.9,1864.4 1827.7,1864.4 1828.5,1864.2 1829.3,1864.2 1830.1,1864 1830.9,1863.8 1831.7,1863.6 1832.5,1863.6 1833.3,1863.3 1834.1,1863.4 1834.9,1863.2 1835.7,1863.2 1836.5,1863.2 1837.3,1862.8 1838.1,1862.5 1838.9,1862.2 1839.7,1862 1840.5,1861.7 1841.3,1861.1 1842.1,1860.5 1842.9,1860.1 1843.7,1860 1844.5,1859.4 1845.3,1859 1846.1,1858.1 1846.9,1857.8 1847.7,1857.2 1848.5,1856.7 1849.3,1856.3 1850.1,1855.8 1850.9,1855.7 1851.7,1854.8 1852.5,1854.5 1853.3,1854 1854.1,1853.6 1854.9,1853.2 1855.7,1852.4 1856.5,1851.7 1857.3,1851.2 1858.1,1850.6 1858.9,1849.7 1859.7,1849.2 1860.5,1848 1861.3,1847 1862.1,1844.9 1862.9,1842.4 1863.7,1839.5 1864.5,1837.5 1865.3,1836.6 1866.1,1836.3 1866.9,1836.1 1867.7,1836.3 1868.5,1836.1 1869.3,1835.7 1870.1,1835.3 1870.9,1834.7 1871.7,1834.5 1872.5,1834.2 1873.3,1833.7 1874.1,1833.1 1874.9,1832.5 1875.7,1832.2 1876.5,1831.6 1877.3,1831.3 1878.1,1830.8 1878.9,1830.5 1879.7,1830.2 1880.5,1829.8 1881.3,1829.9 1882.1,1829.4 1882.9,1829.6 1883.7,1829.4 1884.5,1829.3 1885.3,1829.4 1886.1,1829.2 1886.9,1829 1887.7,1828.8 1888.5,1828.6 1889.3,1828.5 1890.1,1828.2 1890.9,1827.7 1891.7,1827.1 1892.5,1827 1893.3,1826.7 1894.1,1826.1 1894.9,1825.9 1895.7,1825.9 1896.5,1825.7 1897.3,1826 1898.1,1826.1 1898.9,1826.4 1899.7,1827.3 1900.5,1828 1901.3,1828.9 1902.1,1829.5 1902.9,1830.4 1903.7,1831.7 1904.5,1832.2 1905.3,1833.6 1906.1,1834.3 1906.9,1835.7 1907.7,1836.9 1908.5,1838.3 1909.3,1839.4 1910.1,1840.6 1910.9,1842 1911.7,1843 1912.5,1844.1 1913.3,1845.4 1914.1,1847.1 1914.9,1848 1915.7,1849.2 1916.5,1849.9 1917.3,1850.5 1918.1,1851.6 1918.9,1852.7 1919.7,1853.5 1920.5,1854.3 1921.3,1855.2 1922.1,1856.1 1922.9,1856.7 1923.7,1857.8 1924.5,1858.2 1925.3,1859.1 1926.1,1859.7 1926.9,1859.8 1927.7,1860.2 1928.5,1860.4 1929.3,1860.4 1930.1,1860.4 1930.9,1860.7 1931.7,1860.6 1932.5,1860.5 1933.3,1860.4 1934.1,1860.5 1934.9,1860.6 1935.7,1860.6 1936.5,1860.4 1937.3,1860.5 1938.1,1860.5 1938.9,1860.5 1939.7,1860.7 1940.5,1860.7 1941.3,1861 1942.1,1861.4 1942.9,1861.6 1943.7,1861.8 1944.5,1862.5 1945.3,1862.5 1946.1,1862.9 1946.9,1863.2 1947.7,1863.4 1948.5,1863.9 1949.3,1864.4 1950.1,1864.5 1950.9,1865 1951.7,1865.6 1952.5,1865.4 1953.3,1865.8 1954.1,1866.2 1954.9,1866.4 1955.7,1866.6 1956.5,1866.8 1957.3,1867.1 1958.1,1867.3 1958.9,1867.5 1959.7,1867.8 1960.5,1867.7 1961.3,1867.7 1962.1,1867.9 1962.9,1868 1963.7,1867.8 1964.5,1867.9 1965.3,1867.9 1966.1,1868.2 1966.9,1868.3 1967.7,1868.2 1968.5,1868.5 1969.3,1868.2 1970.1,1868.3 1970.9,1868.4 1971.7,1868.5 1972.5,1868.7 1973.3,1868.3 1974.1,1868.6 1974.9,1868.6 1975.7,1868.8 1976.5,1868.4 1977.3,1868.4 1978.1,1868.9 1978.9,1868.8 1979.7,1868.8 1980.5,1868.6 1981.3,1868.8 1982.1,1868.6 1982.9,1868.5 1983.7,1868.6 1984.5,1868.6 1985.3,1868.5 1986.1,1868.5 1986.9,1868.5 1987.7,1868.6 1988.5,1868.7 1989.3,1868.7 1990.1,1868.7 1990.9,1868.3 1991.7,1868.5 1992.5,1868.5 1993.3,1868.5 1994.1,1868.2 1994.9,1867.9 1995.7,1868.3 1996.5,1868.1 1997.3,1868.4 1998.1,1868 1998.9,1868.2 1999.7,1868.1 2000.5,1867.9 2001.3,1868 2002.1,1868 2002.9,1868.1 2003.7,1868.1 2004.5,1868.1 2005.3,1868 2006.1,1867.8 2006.9,1867.7 2007.7,1867.8 2008.5,1867.7 2009.3,1867.4 2010.1,1867.3 2010.9,1867.7 2011.7,1867.5 2012.5,1867.8 2013.3,1867.4 2014.1,1867.5 2014.9,1867.4 2015.7,1867.4 2016.5,1867.2 2017.3,1867.3 2018.1,1867.2 2018.9,1867 2019.7,1867 2020.5,1866.9 2021.3,1866.9 2022.1,1866.9 2022.9,1866.7 2023.7,1866.6 2024.5,1866.7 2025.3,1866.3 2026.1,1866.6 2026.9,1866.5 2027.7,1865.9 2028.5,1866.2 2029.3,1866.3 2030.1,1865.9 2030.9,1866.2 2031.7,1866.2 2032.5,1866.1 2033.3,1866.1 2034.1,1865.8 2034.9,1865.9 2035.7,1865.8 2036.5,1865.6 2037.3,1865.6 2038.1,1865.2 2038.9,1865.2 2039.7,1865.5 2040.5,1865.4 2041.3,1865 2042.1,1864.8 2042.9,1864.7 2043.7,1865.1 2044.5,1864.9 2045.3,1865 2046.1,1864.8 2046.9,1864.8 2047.7,1864.6 2048.5,1864.3 2049.3,1864.2 2050.1,1864.3 2050.9,1863.8 2051.7,1864 2052.5,1863.8 2053.3,1863.9 2054.1,1863.6 2054.9,1863.4 2055.7,1863.6 2056.5,1862.8 2057.3,1863.4 2058.1,1863.1 2058.9,1862.9 2059.7,1863 2060.5,1862.7 2061.3,1862.7 2062.1,1862.5 2062.9,1862.5 2063.7,1862.1 2064.5,1862.1 2065.3,1862.3 2066.1,1861.9 2066.9,1861.7 2067.7,1861.4 2068.5,1861.3 2069.3,1861.2 2070.1,1860.8 2070.9,1860.7 2071.7,1860.5 2072.5,1860 2073.3,1860.1 2074.1,1860 2074.9,1859.6 2075.7,1859.3 2076.5,1859.2 2077.3,1858.8 2078.1,1858.4 2078.9,1858.4 2079.7,1858 2080.5,1857.7 2081.3,1857.8 2082.1,1857.3 2082.9,1856.9 2083.7,1856.6 2084.5,1856.7 2085.3,1856.3 2086.1,1855.6 2086.9,1855.7 2087.7,1855.3 2088.5,1855 2089.3,1855 2090.1,1854.6 2090.9,1854.1 2091.7,1854 2092.5,1853.8 2093.3,1853.4 2094.1,1853.2 2094.9,1852.8 2095.7,1852.9 2096.5,1852.6 2097.3,1852.1 2098.1,1851.7 2098.9,1851.6 2099.7,1851.6 2100.5,1851.3 2101.3,1851 2102.1,1850.9 2102.9,1850.4 2103.7,1850.4 2104.5,1850.2 2105.3,1849.9 2106.1,1849.9 2106.9,1849.5 2107.7,1849.3 2108.5,1849.4 2109.3,1849.2 2110.1,1848.9 2110.9,1848.7 2111.7,1848.6 2112.5,1848.4 2113.3,1848 2114.1,1848.1 2114.9,1848 2115.7,1847.6 2116.5,1847.3 2117.3,1847.3 2118.1,1847 2118.9,1846.6 2119.7,1846.5 2120.5,1846.2 2121.3,1846.2 2122.1,1845.7 2122.9,1845.8 2123.7,1845.3 2124.5,1845.2 2125.3,1844.8 2126.1,1844.7 2126.9,1844.5 2127.7,1844.1 2128.5,1843.5 2129.3,1843.3 2130.1,1843 2130.9,1842.9 2131.7,1842.2 2132.5,1841.8 2133.3,1841.4 2134.1,1841.1 2134.9,1840.8 2135.7,1840.1 2136.5,1840.1 2137.3,1839.6 2138.1,1839.1 2138.9,1838.7 2139.7,1838.5 2140.5,1837.6 2141.3,1837.2 2142.1,1837.2 2142.9,1836.2 2143.7,1835.9 2144.5,1835.3 2145.3,1834.6 2146.1,1834.1 2146.9,1833.6 2147.7,1833 2148.5,1832.4 2149.3,1831.7 2150.1,1830.9 2150.9,1830.1 2151.7,1829.3 2152.5,1828.2 2153.3,1827 2154.1,1826.3 2154.9,1824.7 2155.7,1823.9 2156.5,1822.8 2157.3,1821.1 2158.1,1819.7 2158.9,1818.7 2159.7,1817.6 2160.5,1816.1 2161.3,1815.2 2162.1,1813.8 2162.9,1812.2 2163.7,1811 2164.5,1809.2 2165.3,1807.8 2166.1,1806.4 2166.9,1805 2167.7,1803.5 2168.5,1802.2 2169.3,1800.4 2170.1,1799.9 2170.9,1798.1 2171.7,1797.4 2172.5,1796.7 2173.3,1795.8 2174.1,1795.3 2174.9,1794.3 2175.7,1793.7 2176.5,1793.3 2177.3,1792.8 2178.1,1792.6 2178.9,1792.2 2179.7,1791.8 2180.5,1791.8 2181.3,1791.5 2182.1,1791.6 2182.9,1791.8 2183.7,1791.9 2184.5,1792.3 2185.3,1792.8 2186.1,1793.4 2186.9,1794 2187.7,1794.6 2188.5,1795.2 2189.3,1795.8 2190.1,1796.7 2190.9,1797.6 2191.7,1798.8 2192.5,1800.3 2193.3,1801.8 2194.1,1803.7 2194.9,1805.8 2195.7,1807.6 2196.5,1809.5 2197.3,1811.9 2198.1,1814.2 2198.9,1816.3 2199.7,1818.9 2200.5,1820.8 2201.3,1823 2202.1,1824.8 2202.9,1827.2 2203.7,1829.5 2204.5,1831.9 2205.3,1834.2 2206.1,1836.8 2206.9,1838.9 2207.7,1841.7 2208.5,1844.2 2209.3,1846.1 2210.1,1847.5 2210.9,1849.6 2211.7,1850.9 2212.5,1852.2 2213.3,1853.4 2214.1,1854.8 2214.9,1855.9 2215.7,1856.7 2216.5,1858 2217.3,1858.9 2218.1,1860.1 2218.9,1860.5 2219.7,1861.5 2220.5,1862.1 2221.3,1863 2222.1,1863.3 2222.9,1864.1 2223.7,1864.7 2224.5,1865.1 2225.3,1865.4 2226.1,1865.8 2226.9,1866 2227.7,1866.1 2228.5,1866.4 2229.3,1866.7 2230.1,1866.9 2230.9,1866.8 2231.7,1867.2 2232.5,1867.6 2233.3,1867.4 2234.1,1867.8 2234.9,1867.9 2235.7,1868.3 2236.5,1868.5 2237.3,1868.5 2238.1,1868.5 2238.9,1868.5 2239.7,1868.8 2240.5,1868.9 2241.3,1869.2 2242.1,1869.5 2242.9,1869.7 2243.7,1869.6 2244.5,1869.7 2245.3,1869.8 2246.1,1869.9 2246.9,1870 2247.7,1870.4 2248.5,1870.1 2249.3,1870.4 2250.1,1870.4 2250.9,1870.8 2251.7,1871 2252.5,1871 2253.3,1871 2254.1,1871.1 2254.9,1871.3 2255.7,1871.3 2256.5,1871.7 2257.3,1871.9 2258.1,1871.9 2258.9,1872 2259.7,1871.9 2260.5,1872.4 2261.3,1872.1 2262.1,1872.3 2262.9,1872.8 2263.7,1872.6 2264.5,1872.6 2265.3,1872.7 2266.1,1873.2 2266.9,1873.3 2267.7,1873.3 2268.5,1873.2 2269.3,1873.5 2270.1,1873.5 2270.9,1873.9 2271.7,1874.1 2272.5,1874.1 2273.3,1874.2 2274.1,1874.5 2274.9,1874.6 2275.7,1874.3 2276.5,1874.7 2277.3,1874.5 2278.1,1874.7 2278.9,1875.1 2279.7,1874.9 2280.5,1875.1 2281.3,1875.4 2282.1,1875.4 2282.9,1875.2 2283.7,1875.5 2284.5,1875.6 2285.3,1875.6 2286.1,1876.2 2286.9,1876 2287.7,1876 2288.5,1876.3 2289.3,1876.2 2290.1,1876.1 2290.9,1876.4 2291.7,1876.5 2292.5,1876.5 2293.3,1876.7 2294.1,1876.8 2294.9,1876.8 2295.7,1876.8 2296.5,1876.8 2297.3,1877.2 2298.1,1876.7 2298.9,1877.2 2299.7,1877.1 2300.5,1877 2301.3,1877.1 2302.1,1877.3 2302.9,1877 2303.7,1877.3 2304.5,1877.4 2305.3,1877.2 2306.1,1877.4 2306.9,1877.7 2307.7,1877.5 2308.5,1877.4 2309.3,1877.4 2310.1,1877.4 2310.9,1877.8 2311.7,1877.7 2312.5,1877.8 2313.3,1877.8 2314.1,1877.7 2314.9,1878.2 2315.7,1878 2316.5,1878.2 2317.3,1877.8 2318.1,1878.2 2318.9,1878.2 2319.7,1878 2320.5,1878.1 2321.3,1878.1 2322.1,1878.4 2322.9,1878.3 2323.7,1878.2 2324.5,1878.5 2325.3,1878.3 2326.1,1878.5 2326.9,1878.5 2327.7,1878.4 2328.5,1878.7 2329.3,1878.6 2330.1,1878.3 2330.9,1878.7 2331.7,1878.9 2332.5,1878.4 2333.3,1878.9 2334.1,1878.9 2334.9,1878.7 2335.7,1878.9 2336.5,1878.8 2337.3,1878.7 2338.1,1879.1 2338.9,1879.1 2339.7,1878.8 2340.5,1879 2341.3,1879.2 2342.1,1878.9 2342.9,1879.4 2343.7,1879.1 2344.5,1879.3 2345.3,1879.4 2346.1,1879.2 2346.9,1879.4 2347.7,1879.4 2348.5,1879.5 2349.3,1879.4 2350.1,1879.6 2350.9,1879.6 2351.7,1879.8 2352.5,1879.8 2353.3,1879.4 2354.1,1879.6 2354.9,1879.7 2355.7,1879.9 2356.5,1879.6 2357.3,1879.8 2358.1,1879.8 2358.9,1879.8 2359.7,1880 2360.5,1879.7 2361.3,1880 2362.1,1879.8 2362.9,1880 2363.7,1879.9 2364.5,1880 2365.3,1880.2 2366.1,1879.9 2366.9,1880.1 2367.7,1880.2 2368.5,1880.1 2369.3,1880.1 2370.1,1880.2 2370.9,1880.1 2371.7,1880.4 2372.5,1880.4 2373.3,1880.6 2374.1,1880.4 2374.9,1880.5 2375.7,1880.3 2376.5,1880.5 2377.3,1880.3 2378.1,1880.5 2378.9,1880.4 2379.7,1880.6 2380.5,1880.2 2381.3,1880.5 2382.1,1880.5 2382.9,1880.7 2383.7,1880.5 2384.5,1880.6 2385.3,1880.9 2386.1,1880.6 2386.9,1880.7 2387.7,1880.9 2388.5,1880.5 2389.3,1880.8 2390.1,1880.9 2390.9,1880.9 2391.7,1880.6 2392.5,1880.7 2393.3,1880.8 2394.1,1880.8 2394.9,1881.1 2395.7,1880.9 2396.5,1881.2 2397.3,1881 2398.1,1881.1 2398.9,1881 2399.7,1881 2400.5,1881.2 2401.3,1881.3 2402.1,1881.1 2402.9,1881.4 2403.7,1881.2 2404.5,1881.5 2405.3,1881.1 2406.1,1881.2 2406.9,1881.4 2407.7,1881.3 2408.5,1881.3 2409.3,1881.5 2410.1,1881.6 2410.9,1881.4 2411.7,1881.6 2412.5,1881.4 2413.3,1881.4 2414.1,1881.7 2414.9,1881.5 2415.7,1881.5 2416.5,1881.7 2417.3,1881.5 2418.1,1881.5 2418.9,1881.6 2419.7,1881.7 2420.5,1881.9 2421.3,1881.7 2422.1,1881.7 2422.9,1881.6 2423.7,1881.8 2424.5,1881.8 2425.3,1882 2426.1,1881.6 2426.9,1881.6 2427.7,1881.6 2428.5,1881.9 2429.3,1882 2430.1,1882.2 2430.9,1881.8 2431.7,1882 2432.5,1881.9 2433.3,1882.3 2434.1,1882.1 2434.9,1882.3 2435.7,1882.1 2436.5,1882.3 2437.3,1882.2 2438.1,1882.1 2438.9,1882.3 2439.7,1882.1 2440.5,1881.9 2441.3,1882.2 2442.1,1882.1 2442.9,1882.3 2443.7,1882.5 2444.5,1882.3 2445.3,1882.4 2446.1,1882.1 2446.9,1882.2 2447.7,1882.2 2448.5,1882.6 2449.3,1882.3 2450.1,1882.4 2450.9,1882.1" fill="none" stroke="#1010e8" stroke-width="3.8" stroke-linejoin="round"/>
<rect x="1367" y="1090.5" width="1085.7" height="833.8" fill="none" stroke="#000" stroke-width="3.4"/>
<line x1="1367" y1="1216.2" x2="1385" y2="1216.2" stroke="#000" stroke-width="3.2"/>
<line x1="2434.7" y1="1216.2" x2="2452.7" y2="1216.2" stroke="#000" stroke-width="3.2"/>
<line x1="1367" y1="1383" x2="1385" y2="1383" stroke="#000" stroke-width="3.2"/>
<line x1="2434.7" y1="1383" x2="2452.7" y2="1383" stroke="#000" stroke-width="3.2"/>
<line x1="1367" y1="1549.7" x2="1385" y2="1549.7" stroke="#000" stroke-width="3.2"/>
<line x1="2434.7" y1="1549.7" x2="2452.7" y2="1549.7" stroke="#000" stroke-width="3.2"/>
<line x1="1367" y1="1716.5" x2="1385" y2="1716.5" stroke="#000" stroke-width="3.2"/>
<line x1="2434.7" y1="1716.5" x2="2452.7" y2="1716.5" stroke="#000" stroke-width="3.2"/>
<line x1="1367" y1="1883.2" x2="1385" y2="1883.2" stroke="#000" stroke-width="3.2"/>
<line x1="2434.7" y1="1883.2" x2="2452.7" y2="1883.2" stroke="#000" stroke-width="3.2"/>
<line x1="1450.5" y1="1924.3" x2="1450.5" y2="1907.3" stroke="#000" stroke-width="3.2"/>
<line x1="1450.5" y1="1090.5" x2="1450.5" y2="1107.5" stroke="#000" stroke-width="3.2"/>
<text x="1418.5" y="1974.9" font-family="Liberation Sans, Arial, sans-serif" font-weight="bold" font-size="38.5" fill="#000">200</text>
<line x1="1617.5" y1="1924.3" x2="1617.5" y2="1907.3" stroke="#000" stroke-width="3.2"/>
<line x1="1617.5" y1="1090.5" x2="1617.5" y2="1107.5" stroke="#000" stroke-width="3.2"/>
<text x="1585.8" y="1974.9" font-family="Liberation Sans, Arial, sans-serif" font-weight="bold" font-size="38.5" fill="#000">300</text>
<line x1="1784.6" y1="1924.3" x2="1784.6" y2="1907.3" stroke="#000" stroke-width="3.2"/>
<line x1="1784.6" y1="1090.5" x2="1784.6" y2="1107.5" stroke="#000" stroke-width="3.2"/>
<text x="1753" y="1974.9" font-family="Liberation Sans, Arial, sans-serif" font-weight="bold" font-size="38.5" fill="#000">400</text>
<line x1="1951.6" y1="1924.3" x2="1951.6" y2="1907.3" stroke="#000" stroke-width="3.2"/>
<line x1="1951.6" y1="1090.5" x2="1951.6" y2="1107.5" stroke="#000" stroke-width="3.2"/>
<text x="1919.7" y="1974.9" font-family="Liberation Sans, Arial, sans-serif" font-weight="bold" font-size="38.5" fill="#000">500</text>
<line x1="2118.6" y1="1924.3" x2="2118.6" y2="1907.3" stroke="#000" stroke-width="3.2"/>
<line x1="2118.6" y1="1090.5" x2="2118.6" y2="1107.5" stroke="#000" stroke-width="3.2"/>
<text x="2086.6" y="1974.9" font-family="Liberation Sans, Arial, sans-serif" font-weight="bold" font-size="38.5" fill="#000">600</text>
<line x1="2285.7" y1="1924.3" x2="2285.7" y2="1907.3" stroke="#000" stroke-width="3.2"/>
<line x1="2285.7" y1="1090.5" x2="2285.7" y2="1107.5" stroke="#000" stroke-width="3.2"/>
<text x="2253.5" y="1974.9" font-family="Liberation Sans, Arial, sans-serif" font-weight="bold" font-size="38.5" fill="#000">700</text>
<line x1="2452.7" y1="1924.3" x2="2452.7" y2="1907.3" stroke="#000" stroke-width="3.2"/>
<line x1="2452.7" y1="1090.5" x2="2452.7" y2="1107.5" stroke="#000" stroke-width="3.2"/>
<text x="2420.8" y="1974.9" font-family="Liberation Sans, Arial, sans-serif" font-weight="bold" font-size="38.5" fill="#000">800</text>
<line x1="1534" y1="1924.3" x2="1534" y2="1915.3" stroke="#000" stroke-width="3.2"/>
<line x1="1534" y1="1090.5" x2="1534" y2="1099.5" stroke="#000" stroke-width="3.2"/>
<line x1="1701.1" y1="1924.3" x2="1701.1" y2="1915.3" stroke="#000" stroke-width="3.2"/>
<line x1="1701.1" y1="1090.5" x2="1701.1" y2="1099.5" stroke="#000" stroke-width="3.2"/>
<line x1="1868.1" y1="1924.3" x2="1868.1" y2="1915.3" stroke="#000" stroke-width="3.2"/>
<line x1="1868.1" y1="1090.5" x2="1868.1" y2="1099.5" stroke="#000" stroke-width="3.2"/>
<line x1="2035.1" y1="1924.3" x2="2035.1" y2="1915.3" stroke="#000" stroke-width="3.2"/>
<line x1="2035.1" y1="1090.5" x2="2035.1" y2="1099.5" stroke="#000" stroke-width="3.2"/>
<line x1="2202.2" y1="1924.3" x2="2202.2" y2="1915.3" stroke="#000" stroke-width="3.2"/>
<line x1="2202.2" y1="1090.5" x2="2202.2" y2="1099.5" stroke="#000" stroke-width="3.2"/>
<line x1="2369.2" y1="1924.3" x2="2369.2" y2="1915.3" stroke="#000" stroke-width="3.2"/>
<line x1="2369.2" y1="1090.5" x2="2369.2" y2="1099.5" stroke="#000" stroke-width="3.2"/>
<text x="1451" y="1166" font-family="Liberation Sans, Arial, sans-serif" font-size="64" fill="#000">d</text>
<text x="1943.7" y="1169.8" font-family="Liberation Sans, Arial, sans-serif" font-size="41" fill="#000"><tspan y="1169.8">ZrO</tspan><tspan y="1186.2" font-size="24.6">2</tspan><tspan y="1169.8">- Monoclinic reference</tspan></text>
<text x="1944.1" y="1369" font-family="Liberation Sans, Arial, sans-serif" font-size="41" fill="#000"><tspan y="1369">ZrO</tspan><tspan y="1385.4" font-size="24.6">2</tspan><tspan y="1369">- Tetragonal reference</tspan></text>
<text x="1956.9" y="1537.7" font-family="Liberation Sans, Arial, sans-serif" font-size="41" fill="#000"><tspan y="1537.7">10Eu(I)-ZrO</tspan><tspan y="1554.1" font-size="24.6">2</tspan><tspan y="1537.7"> (RH)</tspan></text>
<text x="1378.7" y="1702.3" font-family="Liberation Sans, Arial, sans-serif" font-size="41" fill="#000">monoclinic doublet</text>
<text x="1949.5" y="1735.4" font-family="Liberation Sans, Arial, sans-serif" font-size="41" fill="#000"><tspan y="1735.4">10Eu(I)-ZrO</tspan><tspan y="1751.8" font-size="24.6">2</tspan><tspan y="1735.4"> (OW)</tspan></text>
<text transform="translate(1312.3,1769) rotate(-90) scale(1,1.04)" font-family="Liberation Sans, Arial, sans-serif" font-weight="bold" font-size="67" fill="#000" textLength="452.5" lengthAdjust="spacingAndGlyphs">Intensity (a.u.)</text>
<text x="1659.9" y="2064.3" font-family="Liberation Sans, Arial, sans-serif" font-weight="bold" font-size="66">Raman shift (cm<tspan font-size="33" y="2024.3" dx="2">-1</tspan><tspan y="2064.3" dx="7">)</tspan></text>
</g>
</svg></body></html>
